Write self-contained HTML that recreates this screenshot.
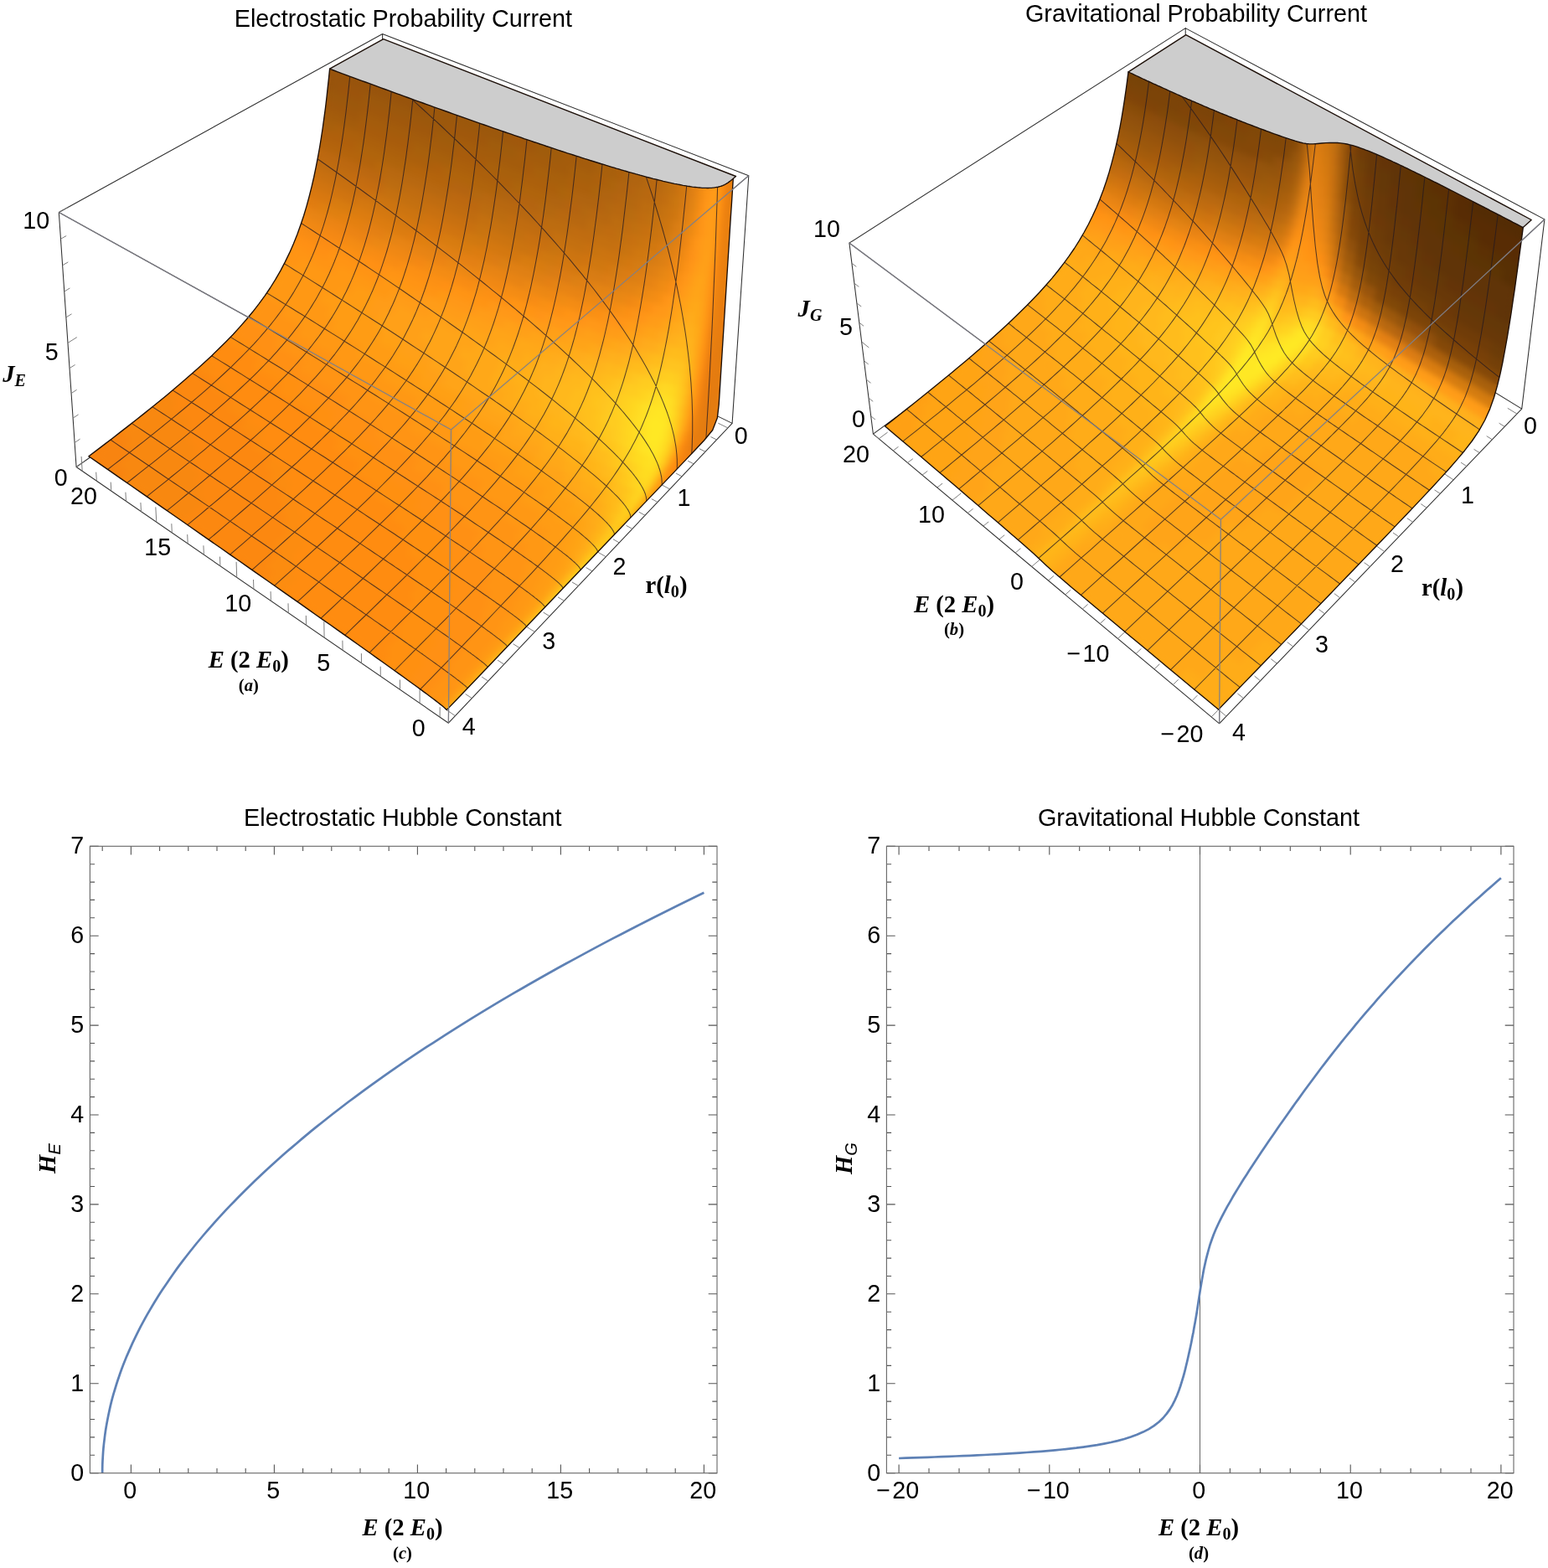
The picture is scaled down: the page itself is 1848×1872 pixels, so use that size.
<!DOCTYPE html>
<html lang="en"><head><meta charset="utf-8"><title>Probability current and Hubble constant</title><style>html,body{margin:0;padding:0;background:#fff}
svg{display:block}
text{fill:#000}
.s{font-family:Liberation Sans,Arial,Helvetica,sans-serif}
.r{font-family:Liberation Serif,Times New Roman,Times,serif;font-weight:bold}
.bx{stroke:#303030;stroke-width:1.05;fill:none;stroke-linecap:round}
.tk{stroke:#777;stroke-width:.95;fill:none}
.gt{fill:#cdcdcd;stroke:none}
.sf path{shape-rendering:crispEdges}
.ms{stroke:#241a22;stroke-opacity:.75;stroke-width:1.05;fill:none;stroke-linejoin:round}
.bd{stroke:#1c0f08;stroke-width:1.35;fill:none;stroke-linejoin:round;stroke-linecap:round}
.fe{stroke:#808088;stroke-opacity:.95;stroke-width:1.3;fill:none}
.fr{stroke:#666;stroke-width:1.1;fill:none}
.t2{stroke:#555;stroke-width:1.1;fill:none}
.ax{stroke:#555;stroke-width:.9;fill:none}
.cv{stroke:#5e81b5;stroke-width:2.7;fill:none;stroke-linejoin:round;stroke-linecap:butt}
</style></head><body>
<svg xmlns="http://www.w3.org/2000/svg" width="1848" height="1872" viewBox="0 0 1848 1872">
<defs><filter id="bl" x="-5%" y="-5%" width="110%" height="110%" color-interpolation-filters="sRGB"><feGaussianBlur stdDeviation="3.5"/></filter></defs>
<g id="pa">
<path class="bx" d="M874.1 505.4L893.8 209.7M874.1 505.4L535.4 863.2M874.1 505.4L457.8 301.7M893.8 209.7L538.5 513M893.8 209.7L456.6 40.5M535.4 863.2L538.5 513M535.4 863.2L91.1 557.5M538.5 513L70.3 253.5M457.8 301.7L456.6 40.5M457.8 301.7L91.1 557.5M456.6 40.5L70.3 253.5M91.1 557.5L70.3 253.5"/>
<path class="tk" d="M525.1 856.1L525.2 844.2M501.1 839.6L501.1 819.9M477.5 823.3L477.4 811.5M454.3 807.4L454.2 795.7M431.5 791.7L431.4 780.1M409.1 776.3L408.9 764.7M387.1 761.2L386.8 742.1M365.5 746.3L365.3 734.9M344.3 731.7L344 720.3M323.4 717.3L323.1 706.1M302.9 703.2L302.5 692M282.7 689.4L282.1 670.9M262.9 675.7L262.5 664.6M243.4 662.3L242.9 651.3M224.2 649.1L223.7 638.1M205.3 636.1L204.8 625.2M186.8 623.3L185.8 605.4M168.5 610.8L167.9 600M150.5 598.4L149.9 587.7M132.8 586.2L132.2 575.6M115.4 574.2L114.7 563.7M98.2 562.4L97.1 545M868.9 510.9L857.3 505.2M855.6 525L848.5 521.5M842 539.3L834.9 535.7M828.2 553.9L821.1 550.2M814.1 568.8L806.9 565M799.7 584L787.8 577.7M785.1 599.5L777.8 595.6M770.1 615.3L762.8 611.3M754.8 631.4L747.5 627.3M739.2 647.9L731.9 643.7M723.3 664.7L711.1 657.7M707 681.9L699.6 677.6M690.4 699.4L683 695M673.4 717.3L666 712.8M656.1 735.6L648.6 731.1M638.4 754.4L625.9 746.6M620.2 773.5L612.6 768.7M601.7 793.1L594.1 788.2M582.7 813.1L575.1 808.1M563.3 833.6L555.6 828.5M543.4 854.6L530.7 845.9M91.1 557.5L101.7 550.2M89.1 528.5L95.6 524.1M87.1 499.2L93.6 494.9M85.1 469.6L91.6 465.3M83 439.6L89.6 435.5M81 409.4L91.8 402.6M78.9 378.9L85.5 374.8M76.8 348L83.4 344M74.6 316.8L81.3 312.9M72.5 285.3L79.2 281.5M70.3 253.5L81.5 247.3"/>
<path class="gt" d="M875.3 213.3l-1.2 .9-1.9 1.6-1.5 1.1-1.3 1-1.2 .8-1.2 .7-1.1 .6-1.1 .6-1.1 .5-1.1 .5-1.1 .4-1.1 .4-1.1 .3-1.2 .3-1.1 .3-1.2 .2-1.2 .2-1.2 .2-1.3 .2-1.2 .1-1.3 .1-1.4 .1-1.3 0-1.4 .1-1.4 0-1.4-.1-1.5 0-1.5-.1-1.5 0-1.6-.2-1.6-.1-1.6-.1-1.7-.2-1.7-.2-1.7-.2-1.7-.2-1.8-.3-1.8-.3-1.9-.2-1.9-.4-1.9-.3-1.9-.3-2-.4-2-.4-2.1-.4-2-.4-2.2-.4-2.1-.5-2.2-.5-2.2-.5-2.2-.5-2.3-.5-2.3-.5-2.4-.6-2.3-.6-2.5-.6-2.4-.6-2.5-.6-2.5-.7-2.5-.6-2.6-.7-2.6-.7-2.6-.7-2.7-.7-2.7-.8-2.7-.7-2.7-.8-2.8-.8-2.9-.8-2.8-.8-2.9-.8-2.9-.9-2.9-.9-3-.8-3-.9-3-.9-3.1-1-3.1-.9-3.1-1-3.2-.9-3.2-1-3.2-1-3.2-1-3.3-1-3.3-1.1-3.3-1-3.3-1.1-3.4-1.1-3.4-1.1-3.5-1.1-3.4-1.1-3.5-1.1-3.5-1.2-3.6-1.1-3.5-1.2-3.6-1.2-3.6-1.2-3.7-1.2-3.7-1.2-3.7-1.3-3.7-1.2-3.7-1.3-3.8-1.2-3.8-1.3-3.8-1.3-3.9-1.3-3.8-1.4-3.9-1.3-3.9-1.3-4-1.4-3.9-1.3-4-1.4-4-1.4-4.1-1.4-4-1.4-4.1-1.4-4.1-1.5-4.1-1.4-4.1-1.4-4.2-1.5-4.2-1.5-4.2-1.5-4.2-1.5-4.2-1.5-4.3-1.5-4.3-1.5-4.3-1.5-4.3-1.6-4.3-1.5-4.4-1.6-4.4-1.5-4.4-1.6-4.4-1.6-4.4-1.6-4.4-1.6-4.5-1.6-4.5-1.6-4.5-1.6-4.5-1.7-4.5-1.6-4.6-1.7-4.5-1.6-4.6-1.7-4.6-1.7-4.6-1.7-4.6-1.6-4.6-1.7-4.7-1.8-4.7-1.7-4.6-1.7-4.7-1.7-4.7-1.7-4.7-1.8-4.8-1.7-4.7-1.8-4.8-1.7-4.7-1.8-4.8-1.8-4.8-1.8 64.1-35.5 420.8 163.8z"/>
<clipPath id="cpa"><path d="M875.3 213.3l-1 15.8-1 15.9-1.1 15.9-1 15.8-1 15.9-1 15.9-1 15.8-1 15.9-1 15.9-1 15.8-1 15.9-1 15.8-1 15.9-1 15.9-1 15.8-1 15.9-1 15.9-1.8 15.7-5.7 14.8-10.1 12.2-10.8 11.6-11 11.6-11 11.5-10.9 11.5-11 11.5-11 11.5-11 11.5-11 11.5-10.9 11.4-11 11.5-11 11.5-11 11.5-11 11.5-11 11.5-11 11.5-10.9 11.5-11 11.5-11 11.5-11 11.4-11 11.5-11 11.5-11 11.5-10.9 11.5-11 11.5-11 11.5-11 11.5-11 11.5-11 11.4-.1-.3-.5-.6-.8-.8-1.2-1-1.4-1.2-1.8-1.5-2.1-1.6-2.4-1.9-2.7-2.1-3.1-2.3-3.4-2.6-3.6-2.7-4-2.9-4.3-3.2-4.6-3.4-4.9-3.5-5.2-3.8-5.4-4-5.8-4.1-6.1-4.4-6.3-4.5-6.6-4.7-6.9-4.9-7.1-5.1-7.4-5.3-7.7-5.4-7.9-5.7-8.1-5.7-8.5-6-8.6-6.1-8.9-6.2-9.1-6.4-9.3-6.6-9.5-6.7-9.7-6.8-10-7-10.1-7.1-10.3-7.3-10.6-7.3-10.7-7.5-10.8-7.6-11.1-7.7-11.1-7.8-11.4-7.9-11.5-8-11.6-8.2-11.8-8.2-11.9-8.2-12.1-8.4-12.1-8.5-12.3-8.5-12.4-8.6-12.5-8.7-12.5-8.7-12.7-8.8-12.8-8.8 9.5-7.2 9.5-7.2 9.4-7.2 9.4-7.3 9.4-7.3 9.4-7.3 9.3-7.4 9.2-7.4 9.3-7.5 9.2-7.6 9.1-7.6 9.1-7.7 8.9-7.8 8.9-7.8 8.8-8 8.7-8.1 8.6-8.3 8.4-8.4 8.3-8.5 8-8.8 7.8-8.9 7.6-9.2 7.3-9.4 7-9.6 6.7-9.8 6.3-10.1 5.9-10.3 5.5-10.5 5.2-10.7 4.8-10.9 4.4-11.1 4-11.1 3.8-11.3 3.4-11.4 3.1-11.5 2.9-11.5 2.7-11.6 2.4-11.6 2.3-11.7 2.1-11.7 1.9-11.7 1.8-11.8 1.6-11.7 1.6-11.8 1.4-11.8 1.3-11.8 1.3-11.8 1.2-11.9 13.6 5.1 13.4 5 13.4 4.9 13.3 4.9 13.1 4.8 13.1 4.7 12.9 4.7 12.7 4.6 12.7 4.6 12.5 4.5 12.3 4.4 12.2 4.3 12 4.3 11.9 4.2 11.7 4.1 11.6 4 11.3 3.9 11.2 3.9 11 3.7 10.8 3.7 10.6 3.5 10.3 3.5 10.2 3.3 10 3.3 9.7 3.1 9.5 3 9.3 2.9 9.1 2.9 8.8 2.6 8.6 2.6 8.4 2.5 8.1 2.3 7.8 2.2 7.6 2.1 7.4 1.9 7 1.9 6.9 1.6 6.5 1.6 6.3 1.4 6 1.2 5.8 1.2 5.5 .9 5.3 .8 4.9 .7 4.7 .5 4.5 .3 4.2 .2 4-.1 3.7-.2 3.5-.4 3.4-.7 3.2-1 3.1-1.2 3.2-1.7 3.5-2.5 4.4-3.4z"/></clipPath>
<path fill="#f59a1c" d="M875.3 213.3l-1 15.8-1 15.9-1.1 15.9-1 15.8-1 15.9-1 15.9-1 15.8-1 15.9-1 15.9-1 15.8-1 15.9-1 15.8-1 15.9-1 15.9-1 15.8-1 15.9-1 15.9-1.8 15.7-5.7 14.8-10.1 12.2-10.8 11.6-11 11.6-11 11.5-10.9 11.5-11 11.5-11 11.5-11 11.5-11 11.5-10.9 11.4-11 11.5-11 11.5-11 11.5-11 11.5-11 11.5-11 11.5-10.9 11.5-11 11.5-11 11.5-11 11.4-11 11.5-11 11.5-11 11.5-10.9 11.5-11 11.5-11 11.5-11 11.5-11 11.5-11 11.4-.1-.3-.5-.6-.8-.8-1.2-1-1.4-1.2-1.8-1.5-2.1-1.6-2.4-1.9-2.7-2.1-3.1-2.3-3.4-2.6-3.6-2.7-4-2.9-4.3-3.2-4.6-3.4-4.9-3.5-5.2-3.8-5.4-4-5.8-4.1-6.1-4.4-6.3-4.5-6.6-4.7-6.9-4.9-7.1-5.1-7.4-5.3-7.7-5.4-7.9-5.7-8.1-5.7-8.5-6-8.6-6.1-8.9-6.2-9.1-6.4-9.3-6.6-9.5-6.7-9.7-6.8-10-7-10.1-7.1-10.3-7.3-10.6-7.3-10.7-7.5-10.8-7.6-11.1-7.7-11.1-7.8-11.4-7.9-11.5-8-11.6-8.2-11.8-8.2-11.9-8.2-12.1-8.4-12.1-8.5-12.3-8.5-12.4-8.6-12.5-8.7-12.5-8.7-12.7-8.8-12.8-8.8 9.5-7.2 9.5-7.2 9.4-7.2 9.4-7.3 9.4-7.3 9.4-7.3 9.3-7.4 9.2-7.4 9.3-7.5 9.2-7.6 9.1-7.6 9.1-7.7 8.9-7.8 8.9-7.8 8.8-8 8.7-8.1 8.6-8.3 8.4-8.4 8.3-8.5 8-8.8 7.8-8.9 7.6-9.2 7.3-9.4 7-9.6 6.7-9.8 6.3-10.1 5.9-10.3 5.5-10.5 5.2-10.7 4.8-10.9 4.4-11.1 4-11.1 3.8-11.3 3.4-11.4 3.1-11.5 2.9-11.5 2.7-11.6 2.4-11.6 2.3-11.7 2.1-11.7 1.9-11.7 1.8-11.8 1.6-11.7 1.6-11.8 1.4-11.8 1.3-11.8 1.3-11.8 1.2-11.9 13.6 5.1 13.4 5 13.4 4.9 13.3 4.9 13.1 4.8 13.1 4.7 12.9 4.7 12.7 4.6 12.7 4.6 12.5 4.5 12.3 4.4 12.2 4.3 12 4.3 11.9 4.2 11.7 4.1 11.6 4 11.3 3.9 11.2 3.9 11 3.7 10.8 3.7 10.6 3.5 10.3 3.5 10.2 3.3 10 3.3 9.7 3.1 9.5 3 9.3 2.9 9.1 2.9 8.8 2.6 8.6 2.6 8.4 2.5 8.1 2.3 7.8 2.2 7.6 2.1 7.4 1.9 7 1.9 6.9 1.6 6.5 1.6 6.3 1.4 6 1.2 5.8 1.2 5.5 .9 5.3 .8 4.9 .7 4.7 .5 4.5 .3 4.2 .2 4-.1 3.7-.2 3.5-.4 3.4-.7 3.2-1 3.1-1.2 3.2-1.7 3.5-2.5 4.4-3.4z"/>
<g class="sf" id="sfa">
<path fill="#e88010" d="M875.3 213.3l-4.4 3.4-1.1 15.6 4.5-3.2zM874.3 229.1l-4.5 3.2-1.2 15.6 4.7-2.9zM873.3 245l-4.7 2.9-1.2 15.6 4.8-2.6zM872.2 260.9l-4.8 2.6-1.2 15.6 5-2.4zM871.2 276.7l-5 2.4-1.2 15.6 5.2-2.1zM870.2 292.6l-5.2 2.1-1.3 15.5 5.5-1.7zM869.2 308.5l-5.5 1.7-1.3 15.6 5.8-1.5zM868.2 324.3l-5.8 1.5-1.3 15.6 6.1-1.2zM867.2 340.2l-6.1 1.2-1.4 15.5 6.5-.8zM861.1 341.4l-4.2 1.3-1.5 15.4 4.3-1.2zM859.7 356.9l-4.3 1.2-1.6 15.5 4.5-1.1zM858.3 372.5l-4.5 1.1-1.7 15.4 4.7-.9zM856.8 388.1l-4.7 .9-1.8 15.4 4.9-.8zM855.2 403.6l-4.9 .8-1.9 15.3 5-.6zM840 496l-6.4-.3-5.1 14.7 6.4 .4z"/>
<path fill="#e87c10" d="M866.2 356.1l-6.5 .8-1.4 15.6 6.9-.6zM865.2 371.9l-6.9 .6-1.5 15.6 7.4-.3zM864.2 387.8l-7.4 .3-1.6 15.5 8 0zM840.6 525.7l-12.3-.8-8.2 13.4 9.7-1zM853.4 419.1l-5 .6-2.2 15.4 5.3-.4zM851.5 434.7l-5.3 .4-2.4 15.3 5.6-.3zM849.4 450.1l-5.6 .3-2.8 15.3 5.9-.1zM846.9 465.6l-5.9 .1-3.3 15.1 6.2 .1zM843.9 480.9l-6.2-.1-4.1 14.9 6.4 .3z"/>
<path fill="#e47c10" d="M863.2 403.6l-8 0-1.8 15.5 8.8 .4zM862.2 419.5l-8.8-.4-1.9 15.6 9.7 .7zM861.2 435.4l-9.7-.7-2.1 15.4 10.8 1.1zM860.2 451.2l-10.8-1.1-2.5 15.5 12.3 1.5zM859.2 467.1l-12.3-1.5-3 15.3 14.3 2.1zM858.2 483l-14.3-2.1-3.9 15.1 16.4 2.7zM856.4 498.7l-16.4-2.7-5.1 14.8 15.8 2.7zM850.7 513.5l-15.8-2.7-6.6 14.1 12.3 .8z"/>
<path fill="#f08010" d="M829.8 537.3l-9.7 1-9.2 12.6 7.9-2zM841 465.7l-4.7-.1-3.5 15 4.9 .2z"/>
<path fill="#f88810" d="M818.8 548.9l-7.9 2-9.9 12.1 6.8-2.6zM820.1 538.3l-5.5-.2-8.5 12.9 4.8-.1zM246.2 598l-12-8-9.6 7.9 11.9 8.2zM236.5 606.1l-11.9-8.2-9.7 8 12 8.2zM226.9 614.1l-12-8.2-9.6 7.9 11.9 8.2zM243.8 582l-12.1-8-9.6 7.9 12.1 8.1zM234.2 590l-12.1-8.1-9.6 7.9 12.1 8.1zM224.6 597.9l-12.1-8.1-9.6 7.8 12 8.3zM214.9 605.9l-12-8.3-9.7 7.8 12.1 8.4zM241.2 566.1l-12.2-8-9.6 7.8 12.3 8.1zM231.7 574l-12.3-8.1-9.5 7.8 12.2 8.2zM222.1 581.9l-12.2-8.2-9.6 7.8 12.2 8.3zM212.5 589.8l-12.2-8.3-9.6 7.7 12.2 8.4zM202.9 597.6l-12.2-8.4-9.6 7.7 12.1 8.5zM238.5 550.2l-12.4-8-9.5 7.8 12.4 8.1zM229 558.1l-12.4-8.1-9.5 7.8 12.3 8.1zM219.4 565.9l-12.3-8.1-9.6 7.7 12.4 8.2zM209.9 573.7l-12.4-8.2-9.5 7.6 12.3 8.4zM200.3 581.5l-12.3-8.4-9.6 7.7 12.3 8.4zM190.7 589.2l-12.3-8.4-9.6 7.6 12.3 8.5zM235.5 534.4l-12.5-8-9.5 7.8 12.6 8zM226.1 542.2l-12.6-8-9.4 7.7 12.5 8.1zM216.6 550l-12.5-8.1-9.5 7.6 12.5 8.3zM207.1 557.8l-12.5-8.3-9.5 7.6 12.4 8.4zM197.5 565.5l-12.4-8.4-9.5 7.6 12.4 8.4zM188 573.1l-12.4-8.4-9.6 7.6 12.4 8.5zM178.4 580.8l-12.4-8.5-9.6 7.5 12.4 8.6zM232.3 518.7l-12.6-8-9.4 7.7 12.7 8zM223 526.4l-12.7-8-9.4 7.6 12.6 8.2zM213.5 534.2l-12.6-8.2-9.4 7.6 12.6 8.3zM204.1 541.9l-12.6-8.3-9.5 7.6 12.6 8.3zM194.6 549.5l-12.6-8.3-9.5 7.5 12.6 8.4zM185.1 557.1l-12.6-8.4-9.5 7.5 12.6 8.5zM175.6 564.7l-12.6-8.5-9.5 7.5 12.5 8.6zM166 572.3l-12.5-8.6-9.6 7.4 12.5 8.7zM229 503l-12.8-8-9.3 7.7 12.8 8zM219.7 510.7l-12.8-8-9.3 7.6 12.7 8.1zM210.3 518.4l-12.7-8.1-9.4 7.6 12.7 8.1zM200.9 526l-12.7-8.1-9.4 7.5 12.7 8.2zM191.5 533.6l-12.7-8.2-9.5 7.4 12.7 8.4zM182 541.2l-12.7-8.4-9.4 7.5 12.6 8.4zM172.5 548.7l-12.6-8.4-9.5 7.4 12.6 8.5zM163 556.2l-12.6-8.5-9.5 7.4 12.6 8.6zM216.2 495l-12.9-8-9.3 7.6 12.9 8.1zM206.9 502.7l-12.9-8.1-9.3 7.5 12.9 8.2zM197.6 510.3l-12.9-8.2-9.3 7.5 12.8 8.3zM188.2 517.9l-12.8-8.3-9.4 7.4 12.8 8.4zM178.8 525.4l-12.8-8.4-9.4 7.4 12.7 8.4zM169.3 532.8l-12.7-8.4-9.5 7.4 12.8 8.5zM212.5 479.4l-13-8-9.2 7.6 13 8zM203.3 487l-13-8-9.3 7.5 13 8.1zM194 494.6l-13-8.1-9.2 7.4 12.9 8.2zM184.7 502.1l-12.9-8.2-9.3 7.4 12.9 8.3zM175.4 509.6l-12.9-8.3-9.4 7.3 12.9 8.4zM166 517l-12.9-8.4-9.4 7.3 12.9 8.5z"/>
<path fill="#ff8c10" d="M807.8 560.4l-6.8 2.6-10.2 11.8 6.1-2.9zM810.9 550.9l-4.8 .1-9.3 12.4 4.2-.4zM467 780.4l-6.9-4.8-10.1 10 6.9 4.9zM480.2 755.6l-7.2-4.9-10 10 7.1 4.9zM470.1 765.6l-7.1-4.9-10.1 9.9 7.2 5zM460.1 775.6l-7.2-5-10 9.9 7.1 5.1zM493 730.9l-7.5-4.9-10 9.8 7.5 5zM483 740.8l-7.5-5-10 9.9 7.5 5zM473 750.7l-7.5-5-10 9.8 7.5 5.2zM463 760.7l-7.5-5.2-10 9.9 7.4 5.2zM452.9 770.6l-7.4-5.2-10 9.8 7.4 5.3zM495.5 716.1l-7.8-5.1-9.9 9.9 7.7 5.1zM485.5 726l-7.7-5.1-10 9.8 7.7 5.1zM475.5 735.8l-7.7-5.1-10 9.8 7.7 5.2zM465.5 745.7l-7.7-5.2-10 9.7 7.7 5.3zM455.5 755.5l-7.7-5.3-10 9.8 7.7 5.4zM445.5 765.4l-7.7-5.4-10 9.8 7.7 5.4zM497.6 701.2l-8-5.1-9.9 9.8 8 5.1zM487.7 711l-8-5.1-9.9 9.7 8 5.3zM477.8 720.9l-8-5.3-10 9.8 8 5.3zM467.8 730.7l-8-5.3-9.9 9.7 7.9 5.4zM457.8 740.5l-7.9-5.4-10 9.7 7.9 5.4zM447.8 750.2l-7.9-5.4-10 9.7 7.9 5.5zM437.8 760l-7.9-5.5-10 9.6 7.9 5.7zM499.5 686.3l-8.3-5.2-9.9 9.7 8.3 5.3zM489.6 696.1l-8.3-5.3-9.9 9.7 8.3 5.4zM479.7 705.9l-8.3-5.4-9.9 9.7 8.3 5.4zM469.8 715.6l-8.3-5.4-9.9 9.7 8.2 5.5zM459.8 725.4l-8.2-5.5-9.9 9.6 8.2 5.6zM449.9 735.1l-8.2-5.6-10 9.7 8.2 5.6zM439.9 744.8l-8.2-5.6-10 9.6 8.2 5.7zM429.9 754.5l-8.2-5.7-9.9 9.6 8.1 5.7zM501 671.3l-8.6-5.2-9.8 9.7 8.6 5.3zM491.2 681.1l-8.6-5.3-9.8 9.6 8.5 5.4zM481.3 690.8l-8.5-5.4-9.9 9.7 8.5 5.4zM471.4 700.5l-8.5-5.4-9.8 9.6 8.4 5.5zM461.5 710.2l-8.4-5.5-9.9 9.6 8.4 5.6zM451.6 719.9l-8.4-5.6-10 9.5 8.5 5.7zM441.7 729.5l-8.5-5.7-9.9 9.6 8.4 5.8zM431.7 739.2l-8.4-5.8-10 9.5 8.4 5.9zM421.7 748.8l-8.4-5.9-10 9.5 8.5 6zM492.4 666.1l-8.7-5.5-9.8 9.7 8.7 5.5zM482.6 675.8l-8.7-5.5-9.8 9.6 8.7 5.5zM472.8 685.4l-8.7-5.5-9.9 9.5 8.7 5.7zM462.9 695.1l-8.7-5.7-9.9 9.5 8.8 5.8zM453.1 704.7l-8.8-5.8-9.8 9.6 8.7 5.8zM443.2 714.3l-8.7-5.8-10 9.5 8.7 5.8zM433.2 723.8l-8.7-5.8-9.9 9.4 8.7 6zM423.3 733.4l-8.7-6-9.9 9.5 8.6 6zM413.3 742.9l-8.6-6-10 9.4 8.6 6.1zM493.4 651l-9-5.5-9.8 9.6 9.1 5.5zM483.7 660.6l-9.1-5.5-9.7 9.5 9 5.7zM473.9 670.3l-9-5.7-9.8 9.5 9 5.8zM464.1 679.9l-9-5.8-9.8 9.5 8.9 5.8zM454.2 689.4l-8.9-5.8-9.9 9.5 8.9 5.8zM444.3 698.9l-8.9-5.8-9.9 9.4 9 6zM434.5 708.5l-9-6-9.9 9.4 8.9 6.1zM424.5 718l-8.9-6.1-9.9 9.4 8.9 6.1zM414.6 727.4l-8.9-6.1-9.9 9.4 8.9 6.2zM404.7 736.9l-8.9-6.2-10 9.4 8.9 6.2zM484.4 645.5l-9.3-5.6-9.7 9.5 9.2 5.7zM474.6 655.1l-9.2-5.7-9.7 9.5 9.2 5.7zM464.9 664.6l-9.2-5.7-9.8 9.4 9.2 5.8zM455.1 674.1l-9.2-5.8-9.8 9.4 9.2 5.9zM445.3 683.6l-9.2-5.9-9.9 9.4 9.2 6zM435.4 693.1l-9.2-6-9.8 9.3 9.1 6.1zM425.5 702.5l-9.1-6.1-9.9 9.4 9.1 6.1zM415.6 711.9l-9.1-6.1-9.9 9.3 9.1 6.2zM405.7 721.3l-9.1-6.2-9.9 9.3 9.1 6.3zM395.8 730.7l-9.1-6.3-10 9.3 9.1 6.4zM484.8 630.3l-9.5-5.7-9.7 9.5 9.5 5.8zM475.1 639.9l-9.5-5.8-9.7 9.4 9.5 5.9zM465.4 649.4l-9.5-5.9-9.7 9.4 9.5 6zM455.7 658.9l-9.5-6-9.8 9.4 9.5 6zM445.9 668.3l-9.5-6-9.7 9.3 9.4 6.1zM436.1 677.7l-9.4-6.1-9.9 9.3 9.4 6.2zM426.2 687.1l-9.4-6.2-9.8 9.3 9.4 6.2zM416.4 696.4l-9.4-6.2-9.9 9.3 9.4 6.3zM406.5 705.8l-9.4-6.3-9.9 9.2 9.4 6.4zM396.6 715.1l-9.4-6.4-9.9 9.2 9.4 6.5zM386.7 724.4l-9.4-6.5-9.9 9.2 9.3 6.6zM475.3 624.6l-9.7-5.8-9.7 9.4 9.7 5.9zM465.6 634.1l-9.7-5.9-9.6 9.4 9.6 5.9zM455.9 643.5l-9.6-5.9-9.7 9.3 9.6 6zM446.2 652.9l-9.6-6-9.8 9.3 9.6 6.1zM436.4 662.3l-9.6-6.1-9.8 9.2 9.7 6.2zM426.7 671.6l-9.7-6.2-9.8 9.2 9.6 6.3zM416.8 680.9l-9.6-6.3-9.8 9.2 9.6 6.4zM407 690.2l-9.6-6.4-9.8 9.2 9.5 6.5zM397.1 699.5l-9.5-6.5-9.9 9.1 9.5 6.6zM387.2 708.7l-9.5-6.6-9.9 9.2 9.5 6.6zM377.3 717.9l-9.5-6.6-9.9 9.1 9.5 6.7zM475.1 609.3l-9.9-5.9-9.6 9.4 10 6zM465.6 618.8l-10-6-9.6 9.4 9.9 6zM455.9 628.2l-9.9-6-9.6 9.2 9.9 6.2zM446.3 637.6l-9.9-6.2-9.7 9.3 9.9 6.2zM436.6 646.9l-9.9-6.2-9.7 9.2 9.8 6.3zM426.8 656.2l-9.8-6.3-9.8 9.2 9.8 6.3zM417 665.4l-9.8-6.3-9.8 9.1 9.8 6.4zM407.2 674.6l-9.8-6.4-9.8 9.1 9.8 6.5zM397.4 683.8l-9.8-6.5-9.8 9.1 9.8 6.6zM387.6 693l-9.8-6.6-9.9 9.1 9.8 6.6zM377.7 702.1l-9.8-6.6-9.9 9 9.8 6.8zM367.8 711.3l-9.8-6.8-9.8 9.1 9.7 6.8zM465.2 603.4l-10.2-6-9.5 9.3 10.1 6.1zM455.6 612.8l-10.1-6.1-9.6 9.3 10.1 6.2zM446 622.2l-10.1-6.2-9.6 9.2 10.1 6.2zM436.4 631.4l-10.1-6.2-9.7 9.2 10.1 6.3zM426.7 640.7l-10.1-6.3-9.7 9.1 10.1 6.4zM417 649.9l-10.1-6.4-9.7 9.1 10 6.5zM407.2 659.1l-10-6.5-9.8 9 10 6.6zM397.4 668.2l-10-6.6-9.8 9.1 10 6.6zM387.6 677.3l-10-6.6-9.8 9 10 6.7zM377.8 686.4l-10-6.7-9.9 9 10 6.8zM367.9 695.5l-10-6.8-9.8 8.9 9.9 6.9zM358 704.5l-9.9-6.9-9.9 9 10 7zM455 597.4l-10.3-6.1-9.5 9.2 10.3 6.2zM445.5 606.7l-10.3-6.2-9.6 9.2 10.3 6.3zM435.9 616l-10.3-6.3-9.6 9.1 10.3 6.4zM426.3 625.2l-10.3-6.4-9.7 9.1 10.3 6.5zM416.6 634.4l-10.3-6.5-9.6 9.1 10.2 6.5zM406.9 643.5l-10.2-6.5-9.8 9 10.3 6.6zM397.2 652.6l-10.3-6.6-9.7 9 10.2 6.6zM387.4 661.6l-10.2-6.6-9.8 8.9 10.2 6.8zM377.6 670.7l-10.2-6.8-9.8 8.9 10.2 6.9zM367.8 679.7l-10.2-6.9-9.8 8.9 10.1 7zM454.1 582l-10.5-6.2-9.5 9.2 10.6 6.3zM444.7 591.3l-10.6-6.3-9.4 9.2 10.5 6.3zM435.2 600.5l-10.5-6.3-9.6 9.1 10.5 6.4zM425.6 609.7l-10.5-6.4-9.6 9.1 10.5 6.4zM416 618.8l-10.5-6.4-9.6 9 10.4 6.5zM406.3 627.9l-10.4-6.5-9.7 8.9 10.5 6.7zM396.7 637l-10.5-6.7-9.7 8.9 10.4 6.8zM386.9 646l-10.4-6.8-9.7 8.9 10.4 6.9zM377.2 655l-10.4-6.9-9.8 8.9 10.4 6.9zM367.4 663.9l-10.4-6.9-9.8 8.8 10.4 7zM443.6 575.8l-10.8-6.3-9.4 9.2 10.7 6.3zM434.1 585l-10.7-6.3-9.5 9.1 10.8 6.4zM424.7 594.2l-10.8-6.4-9.5 9 10.7 6.5zM415.1 603.3l-10.7-6.5-9.5 8.9 10.6 6.7zM405.5 612.4l-10.6-6.7-9.7 9 10.7 6.7zM395.9 621.4l-10.7-6.7-9.6 8.9 10.6 6.7zM386.2 630.3l-10.6-6.7-9.7 8.8 10.6 6.8zM376.5 639.2l-10.6-6.8-9.7 8.8 10.6 6.9zM432.8 569.5l-10.9-6.4-9.4 9.1 10.9 6.5zM423.4 578.7l-10.9-6.5-9.4 9 10.8 6.6zM413.9 587.8l-10.8-6.6-9.5 8.9 10.8 6.7zM404.4 596.8l-10.8-6.7-9.6 8.9 10.9 6.7zM394.9 605.7l-10.9-6.7-9.6 8.9 10.8 6.8zM385.2 614.7l-10.8-6.8-9.6 8.8 10.8 6.9zM375.6 623.6l-10.8-6.9-9.7 8.7 10.8 7zM431.2 554l-11.2-6.5-9.2 9.1 11.1 6.5zM421.9 563.1l-11.1-6.5-9.4 9 11.1 6.6zM412.5 572.2l-11.1-6.6-9.4 8.9 11.1 6.7zM403.1 581.2l-11.1-6.7-9.5 8.9 11.1 6.7zM393.6 590.1l-11.1-6.7-9.5 8.8 11 6.8zM384 599l-11-6.8-9.6 8.8 11 6.9zM374.4 607.9l-11-6.9-9.6 8.7 11 7zM420 547.5l-11.3-6.5-9.2 9 11.3 6.6zM410.8 556.6l-11.3-6.6-9.4 8.9 11.3 6.7zM401.4 565.6l-11.3-6.7-9.4 8.9 11.3 6.7zM392 574.5l-11.3-6.7-9.4 8.7 11.2 6.9zM382.5 583.4l-11.2-6.9-9.5 8.8 11.2 6.9zM373 592.2l-11.2-6.9-9.6 8.6 11.2 7.1zM408.7 541l-11.4-6.6-9.3 8.9 11.5 6.7zM399.5 550l-11.5-6.7-9.3 8.8 11.4 6.8zM390.1 558.9l-11.4-6.8-9.4 8.8 11.4 6.9zM380.7 567.8l-11.4-6.9-9.4 8.7 11.4 6.9zM371.3 576.5l-11.4-6.9-9.5 8.6 11.4 7.1zM361.8 585.3l-11.4-7.1-9.5 8.6 11.3 7.1zM406.4 525.3l-11.7-6.6-9.1 8.9 11.7 6.8zM397.3 534.4l-11.7-6.8-9.2 8.9 11.6 6.8zM388 543.3l-11.6-6.8-9.3 8.7 11.6 6.9zM378.7 552.1l-11.6-6.9-9.3 8.7 11.5 7zM369.3 560.9l-11.5-7-9.4 8.6 11.5 7.1zM359.9 569.6l-11.5-7.1-9.5 8.6 11.5 7.1zM394.7 518.7l-11.8-6.8-9.1 8.9 11.8 6.8zM385.6 527.6l-11.8-6.8-9.1 8.8 11.7 6.9zM376.4 536.5l-11.7-6.9-9.3 8.6 11.7 7zM367.1 545.2l-11.7-7-9.3 8.6 11.7 7.1zM357.8 553.9l-11.7-7.1-9.4 8.6 11.7 7.1zM382.9 511.9l-11.9-6.8-9.1 8.8 11.9 6.9zM373.8 520.8l-11.9-6.9-9.2 8.7 12 7zM364.7 529.6l-12-7-9.2 8.6 11.9 7zM355.4 538.2l-11.9-7-9.3 8.5 11.9 7.1zM346.1 546.8l-11.9-7.1-9.4 8.4 11.9 7.3zM379.9 496.2l-12.1-6.9-8.9 8.9 12.1 6.9zM371 505.1l-12.1-6.9-9.1 8.7 12.1 7zM361.9 513.9l-12.1-7-9.1 8.6 12 7.1zM352.7 522.6l-12-7.1-9.2 8.5 12 7.2zM343.5 531.2l-12-7.2-9.3 8.4 12 7.3zM367.8 489.3l-12.3-6.9-8.9 8.8 12.3 7zM358.9 498.2l-12.3-7-9 8.6 12.2 7.1zM349.8 506.9l-12.2-7.1-9.1 8.5 12.2 7.2zM340.7 515.5l-12.2-7.2-9.2 8.5 12.2 7.2zM331.5 524l-12.2-7.2-9.3 8.3 12.2 7.3zM355.5 482.4l-12.4-7-8.9 8.7 12.4 7.1zM346.6 491.2l-12.4-7.1-8.9 8.5 12.3 7.2zM337.6 499.8l-12.3-7.2-9.1 8.5 12.3 7.2zM328.5 508.3l-12.3-7.2-9.2 8.3 12.3 7.4zM343.1 475.4l-12.5-7.1-8.9 8.6 12.5 7.2zM334.2 484.1l-12.5-7.2-8.9 8.5 12.5 7.2zM325.3 492.6l-12.5-7.2-9.1 8.3 12.5 7.4zM316.2 501.1l-12.5-7.4-9.1 8.3 12.4 7.4zM339.3 459.6l-12.7-7.1-8.7 8.7 12.7 7.1zM330.6 468.3l-12.7-7.1-8.8 8.5 12.6 7.2zM321.7 476.9l-12.6-7.2-8.9 8.4 12.6 7.3zM312.8 485.4l-12.6-7.3-9.1 8.2 12.6 7.4zM326.6 452.5l-12.8-7.1-8.6 8.5 12.7 7.3zM317.9 461.2l-12.7-7.3-8.8 8.5 12.7 7.3zM309.1 469.7l-12.7-7.3-8.9 8.3 12.7 7.4zM300.2 478.1l-12.7-7.4-9.1 8.2 12.7 7.4zM313.8 445.4l-12.9-7.2-8.6 8.4 12.9 7.3zM305.2 453.9l-12.9-7.3-8.8 8.4 12.9 7.4zM296.4 462.4l-12.9-7.4-8.9 8.2 12.9 7.5zM287.5 470.7l-12.9-7.5-9 8.1 12.8 7.6zM309.4 429.5l-13-7.2-8.5 8.6 13 7.3zM300.9 438.2l-13-7.3-8.6 8.4 13 7.3zM292.3 446.6l-13-7.3-8.7 8.2 12.9 7.5zM283.5 455l-12.9-7.5-8.9 8.2 12.9 7.5zM296.4 422.3l-13.2-7.2-8.4 8.4 13.1 7.4zM287.9 430.9l-13.1-7.4-8.6 8.4 13.1 7.4zM279.3 439.3l-13.1-7.4-8.7 8.1 13.1 7.5zM270.6 447.5l-13.1-7.5-8.8 8.1 13 7.6zM283.2 415.1l-13.2-7.4-8.4 8.4 13.2 7.4zM274.8 423.5l-13.2-7.4-8.6 8.3 13.2 7.5zM266.2 431.9l-13.2-7.5-8.7 8.1 13.2 7.5z"/>
<path fill="#ff9414" d="M796.9 571.9l-6.1 2.9-10.4 11.6 5.5-3zM801 563l-4.2 .4-9.8 12 3.8-.6zM806.1 551l-4.2-.3-8.9 12.5 3.8 .2zM828.6 495.4l-4.6-.5-5 14.5 4.5 .5zM852.9 313.7l-3.4 .4-1.6 15.2 3.4-.4zM851.3 328.9l-3.4 .4-1.7 15.2 3.5-.3zM849.7 344.2l-3.5 .3-1.7 15.1 3.6-.2zM848.1 359.4l-3.6 .2-1.8 15.1 3.6-.1zM846.3 374.6l-3.6 .1-2 15.2 3.7-.1zM844.4 389.8l-3.7 .1-2.1 15.1 3.8 0zM546.2 818.7l-2.5-1.7-10.4 10.8 2.4 1.9zM535.7 829.7l-2.4-1.9-10.4 10.9 2.4 1.9zM574.9 784.3l-2.9-1.8-10.4 10.8 2.9 1.9zM564.5 795.2l-2.9-1.9-10.3 10.8 2.8 2zM554.1 806.1l-2.8-2-10.4 10.9 2.8 2zM543.7 817l-2.8-2-10.4 10.8 2.8 2zM533.3 827.8l-2.8-2-10.3 10.8 2.7 2.1zM592.6 760.8l-3.2-2-10.3 10.8 3.2 2zM582.3 771.6l-3.2-2-10.3 10.8 3.2 2.1zM572 782.5l-3.2-2.1-10.4 10.8 3.2 2.1zM561.6 793.3l-3.2-2.1-10.3 10.8 3.2 2.1zM551.3 804.1l-3.2-2.1-10.3 10.8 3.1 2.2zM540.9 815l-3.1-2.2-10.4 10.7 3.1 2.3zM530.5 825.8l-3.1-2.3-10.3 10.8 3.1 2.3zM599.6 748l-3.6-2.1-10.2 10.8 3.6 2.1zM589.4 758.8l-3.6-2.1-10.3 10.7 3.6 2.2zM579.1 769.6l-3.6-2.2-10.3 10.8 3.6 2.2zM568.8 780.4l-3.6-2.2-10.2 10.7 3.4 2.3zM558.4 791.2l-3.4-2.3-10.3 10.7 3.4 2.4zM548.1 802l-3.4-2.4-10.3 10.7 3.4 2.5zM537.8 812.8l-3.4-2.5-10.3 10.7 3.3 2.5zM527.4 823.5l-3.3-2.5-10.4 10.7 3.4 2.6zM616.5 724.3l-4-2.2-10.2 10.7 4 2.3zM606.3 735.1l-4-2.3-10.2 10.8 3.9 2.3zM596 745.9l-3.9-2.3-10.2 10.7 3.9 2.4zM585.8 756.7l-3.9-2.4-10.2 10.7 3.8 2.4zM575.5 767.4l-3.8-2.4-10.3 10.7 3.8 2.5zM565.2 778.2l-3.8-2.5-10.2 10.7 3.8 2.5zM555 788.9l-3.8-2.5-10.3 10.6 3.8 2.6zM544.7 799.6l-3.8-2.6-10.3 10.7 3.8 2.6zM534.4 810.3l-3.8-2.6-10.2 10.7 3.7 2.6zM524.1 821l-3.7-2.6-10.3 10.6 3.6 2.7zM622.7 711.3l-4.3-2.4-10.2 10.8 4.3 2.4zM612.5 722.1l-4.3-2.4-10.1 10.7 4.2 2.4zM602.3 732.8l-4.2-2.4-10.2 10.7 4.2 2.5zM592.1 743.6l-4.2-2.5-10.2 10.6 4.2 2.6zM581.9 754.3l-4.2-2.6-10.2 10.7 4.2 2.6zM571.7 765l-4.2-2.6-10.2 10.6 4.1 2.7zM561.4 775.7l-4.1-2.7-10.2 10.6 4.1 2.8zM551.2 786.4l-4.1-2.8-10.3 10.6 4.1 2.8zM628.5 698.2l-4.7-2.5-10 10.7 4.6 2.5zM618.4 708.9l-4.6-2.5-10.1 10.7 4.5 2.6zM608.2 719.7l-4.5-2.6-10.1 10.6 4.5 2.7zM598.1 730.4l-4.5-2.7-10.2 10.6 4.5 2.8zM587.9 741.1l-4.5-2.8-10.1 10.6 4.4 2.8zM577.7 751.7l-4.4-2.8-10.2 10.6 4.4 2.9zM567.5 762.4l-4.4-2.9-10.2 10.6 4.4 2.9zM623.8 695.7l-4.9-2.7-10 10.6 4.9 2.8zM613.8 706.4l-4.9-2.8-10.1 10.6 4.9 2.9zM603.7 717.1l-4.9-2.9-10.1 10.6 4.9 2.9zM593.6 727.7l-4.9-2.9-10.1 10.6 4.8 2.9zM583.4 738.3l-4.8-2.9-10.1 10.6 4.8 2.9zM628.9 682.3l-5.2-2.9-10 10.7 5.2 2.9zM618.9 693l-5.2-2.9-10 10.6 5.2 2.9zM608.9 703.6l-5.2-2.9-10 10.5 5.1 3zM598.8 714.2l-5.1-3-10.1 10.6 5.1 3zM588.7 724.8l-5.1-3-10 10.5 5 3.1zM633.6 668.7l-5.5-2.9-9.9 10.6 5.5 3zM623.7 679.4l-5.5-3-9.9 10.6 5.4 3.1zM613.7 690.1l-5.4-3.1-10 10.5 5.4 3.2zM603.7 700.7l-5.4-3.2-10 10.6 5.4 3.1zM593.7 711.2l-5.4-3.1-10.1 10.5 5.4 3.2zM628.1 665.8l-5.9-3.2-9.8 10.6 5.8 3.2zM618.2 676.4l-5.8-3.2-9.9 10.5 5.8 3.3zM608.3 687l-5.8-3.3-9.9 10.5 5.7 3.3zM598.3 697.5l-5.7-3.3-10 10.5 5.7 3.4zM632 652l-6.1-3.3-9.8 10.6 6.1 3.3zM622.2 662.6l-6.1-3.3-9.8 10.5 6.1 3.4zM612.4 673.2l-6.1-3.4-9.8 10.5 6 3.4zM602.5 683.7l-6-3.4-10 10.4 6.1 3.5zM592.6 694.2l-6.1-3.5-9.9 10.4 6 3.6zM625.9 648.7l-6.4-3.5-9.7 10.6 6.3 3.5zM616.1 659.3l-6.3-3.5-9.8 10.4 6.3 3.6zM606.3 669.8l-6.3-3.6-9.9 10.5 6.4 3.6zM596.5 680.3l-6.4-3.6-9.8 10.4 6.2 3.6zM619.5 645.2l-6.7-3.6-9.7 10.5 6.7 3.7zM609.8 655.8l-6.7-3.7-9.7 10.4 6.6 3.7zM600 666.2l-6.6-3.7-9.8 10.4 6.5 3.8zM622.4 631l-6.9-3.7-9.6 10.5 6.9 3.8zM612.8 641.6l-6.9-3.8-9.7 10.4 6.9 3.9zM603.1 652.1l-6.9-3.9-9.7 10.4 6.9 3.9zM593.4 662.5l-6.9-3.9-9.8 10.3 6.9 4zM615.5 627.3l-7.3-3.9-9.5 10.4 7.2 4zM605.9 637.8l-7.2-4-9.6 10.4 7.1 4zM596.2 648.2l-7.1-4-9.7 10.3 7.1 4.1zM586.5 658.6l-7.1-4.1-9.8 10.3 7.1 4.1zM608.2 623.4l-7.4-4.1-9.6 10.4 7.5 4.1zM598.7 633.8l-7.5-4.1-9.6 10.4 7.5 4.1zM589.1 644.2l-7.5-4.1-9.6 10.2 7.4 4.2zM610.2 608.8l-7.8-4.1-9.4 10.4 7.8 4.2zM600.8 619.3l-7.8-4.2-9.5 10.4 7.7 4.2zM591.2 629.7l-7.7-4.2-9.5 10.2 7.6 4.4zM581.6 640.1l-7.6-4.4-9.7 10.2 7.7 4.4zM602.4 604.7l-8-4.4-9.4 10.4 8 4.4zM593 615.1l-8-4.4-9.4 10.3 7.9 4.5zM583.5 625.5l-7.9-4.5-9.6 10.2 8 4.5zM594.4 600.3l-8.3-4.4-9.3 10.3 8.2 4.5zM585 610.7l-8.2-4.5-9.4 10.3 8.2 4.5zM575.6 621l-8.2-4.5-9.6 10.1 8.2 4.6zM586.1 595.9l-8.5-4.6-9.3 10.3 8.5 4.6zM576.8 606.2l-8.5-4.6-9.4 10.1 8.5 4.8zM567.4 616.5l-8.5-4.8-9.5 10.1 8.4 4.8zM577.6 591.3l-8.7-4.7-9.3 10.2 8.7 4.8zM568.3 601.6l-8.7-4.8-9.4 10.1 8.7 4.8zM683.8 370.4l-9.3-3.8-3.1 13.3 9.3 3.9zM578 576.2l-9-4.8-9.1 10.3 9 4.9zM568.9 586.6l-9-4.9-9.2 10.1 8.9 5zM559.6 596.8l-8.9-5-9.4 10.1 8.9 5zM569 571.4l-9.2-5-9.1 10.3 9.2 5zM559.9 581.7l-9.2-5-9.2 10 9.2 5.1zM550.7 591.8l-9.2-5.1-9.3 10 9.1 5.2zM559.8 566.4l-9.5-5.1-9 10.2 9.4 5.2zM550.7 576.7l-9.4-5.2-9.2 10 9.4 5.2zM541.5 586.7l-9.4-5.2-9.3 9.9 9.4 5.3zM550.3 561.3l-9.7-5.2-9 10.1 9.7 5.3zM541.3 571.5l-9.7-5.3-9.1 10 9.6 5.3zM642.2 367.7l-10.2-4.3-3.4 13.1 10.1 4.3zM540.6 556.1l-9.9-5.3-8.9 10 9.8 5.4zM531.6 566.2l-9.8-5.4-9.2 9.9 9.9 5.5zM632 363.4l-10.3-4.4-3.5 13 10.4 4.5zM539.6 540.6l-10.2-5.4-8.7 10.1 10 5.5zM530.7 550.8l-10-5.5-9 10 10.1 5.5zM521.8 560.8l-10.1-5.5-9.1 9.8 10 5.6zM621.7 359l-10.6-4.5-3.4 12.9 10.5 4.6zM529.4 535.2l-10.3-5.5-8.7 10 10.3 5.6zM520.7 545.3l-10.3-5.6-9 9.9 10.3 5.7zM511.7 555.3l-10.3-5.7-9 9.8 10.2 5.7zM519.1 529.7l-10.5-5.6-8.7 9.9 10.5 5.7zM510.4 539.7l-10.5-5.7-8.9 9.9 10.4 5.7zM508.6 524.1l-10.7-5.8-8.7 9.9 10.7 5.8zM499.9 534l-10.7-5.8-8.9 9.8 10.7 5.9zM586 357.9l-11.1-4.8-3.8 12.5 11.1 5zM497.9 518.3l-10.9-5.8-8.7 9.8 10.9 5.9zM489.2 528.2l-10.9-5.9-8.8 9.7 10.8 6zM574.9 353.1l-11.3-5-3.8 12.5 11.3 5zM495.5 502.5l-11.1-5.9-8.5 9.9 11.1 6zM487 512.5l-11.1-6-8.6 9.8 11 6zM478.3 522.3l-11-6-8.9 9.6 11.1 6.1zM563.6 348.1l-11.5-5.1-3.8 12.4 11.5 5.2zM484.4 496.6l-11.3-6-8.4 9.8 11.2 6.1zM475.9 506.5l-11.2-6.1-8.7 9.7 11.3 6.2zM467.3 516.3l-11.3-6.2-8.8 9.6 11.2 6.2zM552.1 343l-11.6-5.2-3.8 12.4 11.6 5.2zM473.1 490.6l-11.5-6.1-8.4 9.8 11.5 6.1zM464.7 500.4l-11.5-6.1-8.6 9.6 11.4 6.2zM461.6 484.5l-11.6-6.2-8.4 9.7 11.6 6.3zM453.2 494.3l-11.6-6.3-8.5 9.6 11.5 6.3zM524.9 344.9l-12-5.5-4.1 12.1 12 5.5zM450 478.3l-11.8-6.3-8.3 9.6 11.7 6.4zM441.6 488l-11.7-6.4-8.6 9.5 11.8 6.5zM512.9 339.4l-12.1-5.4-4.1 12 12.1 5.5zM446.4 462.2l-12-6.4-8.1 9.8 11.9 6.4zM438.2 472l-11.9-6.4-8.3 9.6 11.9 6.4zM429.9 481.6l-11.9-6.4-8.6 9.4 11.9 6.5zM500.8 334l-12.3-5.6-4.1 11.9 12.3 5.7zM434.4 455.8l-12.1-6.3-8.1 9.7 12.1 6.4zM426.3 465.6l-12.1-6.4-8.3 9.5 12.1 6.5zM488.5 328.4l-12.4-5.7-4.1 11.9 12.4 5.7zM422.3 449.5l-12.3-6.5-8 9.6 12.2 6.6zM414.2 459.2l-12.2-6.6-8.3 9.4 12.2 6.7zM476.1 322.7l-12.5-5.7-4.1 11.8 12.5 5.8zM410 443l-12.4-6.6-8 9.6 12.4 6.6zM402 452.6l-12.4-6.6-8.2 9.3 12.3 6.7zM459.5 328.8l-12.7-5.9-4.5 11.6 12.7 5.9zM405.4 426.7l-12.5-6.6-7.8 9.7 12.5 6.6zM397.6 436.4l-12.5-6.6-8 9.5 12.5 6.7zM389.6 446l-12.5-6.7-8.2 9.3 12.5 6.7zM446.8 322.9l-12.8-5.9-4.5 11.5 12.8 6zM392.9 420.1l-12.7-6.6-7.7 9.6 12.6 6.7zM385.1 429.8l-12.6-6.7-8 9.4 12.6 6.8zM377.1 439.3l-12.6-6.8-8.2 9.2 12.6 6.9zM434 317l-12.9-6.1-4.5 11.5 12.9 6.1zM380.2 413.5l-12.8-6.7-7.7 9.5 12.8 6.8zM372.5 423.1l-12.8-6.8-8 9.4 12.8 6.8zM421.1 310.9l-13.1-6-4.4 11.3 13 6.2zM367.4 406.8l-12.9-6.8-7.7 9.5 12.9 6.8zM359.7 416.3l-12.9-6.8-7.9 9.2 12.8 7zM408 304.9l-13.1-6.2-4.5 11.3 13.2 6.2zM403.6 316.2l-13.2-6.2-4.8 11.1 13.2 6.3zM361.8 390.3l-13-6.7-7.4 9.6 13.1 6.8zM354.5 400l-13.1-6.8-7.6 9.4 13 6.9zM346.8 409.5l-13-6.9-7.9 9.1 13 7zM390.4 310l-13.2-6.3-4.8 11.1 13.2 6.3zM348.8 383.6l-13.2-6.8-7.3 9.5 13.1 6.9zM341.4 393.2l-13.1-6.9-7.6 9.3 13.1 7zM377.2 303.7l-13.4-6.3-4.8 10.9 13.4 6.5zM342.7 367l-13.3-6.8-7 9.7 13.2 6.9zM335.6 376.8l-13.2-6.9-7.4 9.4 13.3 7zM328.3 386.3l-13.3-7-7.6 9.3 13.3 7zM363.8 297.4l-13.4-6.4-4.8 10.9 13.4 6.4zM359 308.3l-13.4-6.4-5.2 10.7 13.5 6.5zM329.4 360.2l-13.4-6.9-7 9.6 13.4 7zM322.4 369.9l-13.4-7-7.3 9.4 13.3 7zM315 379.3l-13.3-7-7.6 9.2 13.3 7.1z"/>
<path fill="#ff9c14" d="M785.9 583.4l-5.5 3-10.6 11.6 5.1-3.1zM790.8 574.8l-3.8 .6-10.1 11.8 3.5-.8zM796.8 563.4l-3.8-.2-9.4 12.2 3.4 0zM817.3 524l-4.4-.5-7 13.6 4.2 .5zM831.9 465.3l-4.1-.4-3.7 14.8 4.2 .5zM562.4 811.7l-1.6-1.1-10.6 11 1.6 1.2zM551.8 822.8l-1.6-1.2-10.5 11.1 1.5 1.2zM541.2 833.9l-1.5-1.2-10.5 11 1.4 1.2zM602.8 766.5l-2.1-1.1-10.5 11 2.1 1.1zM592.3 777.5l-2.1-1.1-10.4 11 2 1.2zM581.8 788.6l-2-1.2-10.5 10.9 2 1.3zM571.3 799.6l-2-1.3-10.5 11 2 1.3zM560.8 810.6l-2-1.3-10.4 11 1.8 1.3zM621.6 743.4l-2.5-1.3-10.4 11 2.5 1.3zM611.2 754.4l-2.5-1.3-10.4 11 2.4 1.3zM600.7 765.4l-2.4-1.3-10.4 10.9 2.3 1.4zM590.2 776.4l-2.3-1.4-10.4 11 2.3 1.4zM639.9 720.2l-2.9-1.4-10.3 11 2.8 1.4zM629.5 731.2l-2.8-1.4-10.4 10.9 2.8 1.4zM619.1 742.1l-2.8-1.4-10.3 10.9 2.7 1.5zM657.6 696.9l-3.3-1.5-10.2 10.9 3.2 1.6zM647.3 707.9l-3.2-1.6-10.3 11 3.2 1.5zM637 718.8l-3.2-1.5-10.2 10.9 3.1 1.6zM664.5 684.4l-3.5-1.6-10.2 10.9 3.5 1.7zM654.3 695.4l-3.5-1.7-10.2 10.9 3.5 1.7zM644.1 706.3l-3.5-1.7-10.2 10.9 3.4 1.8zM671.1 671.8l-3.9-1.8-10.1 10.9 3.9 1.9zM661 682.8l-3.9-1.9-10.1 10.9 3.8 1.9zM650.8 693.7l-3.8-1.9-10.1 10.9 3.7 1.9zM677.2 659l-4.2-2-10 10.9 4.2 2.1zM667.2 670l-4.2-2.1-10 10.9 4.1 2.1zM657.1 680.9l-4.1-2.1-10.1 10.9 4.1 2.1zM673 657l-4.6-2.2-9.9 10.9 4.5 2.2zM663 667.9l-4.5-2.2-9.9 10.9 4.4 2.2zM678.3 643.8l-4.8-2.3-9.8 11 4.7 2.3zM668.4 654.8l-4.7-2.3-9.9 10.8 4.7 2.4zM673.5 641.5l-5.2-2.5-9.7 10.9 5.1 2.6zM663.7 652.5l-5.1-2.6-9.8 10.9 5 2.5zM678 628l-5.4-2.6-9.6 10.9 5.3 2.7zM668.3 639l-5.3-2.7-9.7 10.9 5.3 2.7zM672.6 625.4l-5.7-2.9-9.6 11 5.7 2.8zM663 636.3l-5.7-2.8-9.7 10.8 5.7 2.9zM666.9 622.5l-6-2.9-9.5 10.8 5.9 3.1zM670.3 608.6l-6.3-3.2-9.4 11 6.3 3.2zM660.9 619.6l-6.3-3.2-9.4 10.8 6.2 3.2zM664 605.4l-6.6-3.2-9.3 10.9 6.5 3.3zM654.6 616.4l-6.5-3.3-9.4 10.8 6.5 3.3zM657.4 602.2l-6.8-3.5-9.3 10.9 6.8 3.5zM650.6 598.7l-7.1-3.6-9.2 10.9 7 3.6zM652.5 584.1l-7.3-3.7-9 11 7.3 3.7zM643.5 595.1l-7.3-3.7-9.2 10.8 7.3 3.8zM645.2 580.4l-7.7-3.8-8.9 10.9 7.6 3.9zM636.2 591.4l-7.6-3.9-9.2 10.7 7.6 4zM637.5 576.6l-7.8-4-9 10.8 7.9 4.1zM629.7 572.6l-8.2-4.2-8.8 10.8 8 4.2zM621.5 568.4l-8.3-4.3-8.9 10.8 8.4 4.3zM621.8 553.2l-8.7-4.4-8.5 10.9 8.6 4.4zM613.2 564.1l-8.6-4.4-8.8 10.7 8.5 4.5zM613.1 548.8l-8.8-4.5-8.6 10.8 8.9 4.6zM604.6 559.7l-8.9-4.6-8.7 10.6 8.8 4.7zM604.3 544.3l-9.1-4.7-8.5 10.8 9 4.7zM595.2 539.6l-9.3-4.7-8.5 10.7 9.3 4.8zM585.9 534.9l-9.6-4.9-8.4 10.6 9.5 5zM584.5 519.1l-9.8-5-8.1 10.8 9.7 5.1zM576.3 530l-9.7-5.1-8.5 10.6 9.8 5.1zM574.7 514.1l-10-5.1-8.1 10.8 10 5.1zM566.6 524.9l-10-5.1-8.4 10.5 9.9 5.2zM564.7 509l-10.2-5.2-8.1 10.7 10.2 5.3zM556.6 519.8l-10.2-5.3-8.4 10.4 10.2 5.4zM554.5 503.8l-10.4-5.3-8.1 10.6 10.4 5.4zM544.1 498.5l-10.6-5.4-8 10.5 10.5 5.5zM541.2 482.3l-10.8-5.5-7.7 10.7 10.8 5.6zM533.5 493.1l-10.8-5.6-8 10.5 10.8 5.6zM530.4 476.8l-11-5.6-7.7 10.7 11 5.6zM522.7 487.5l-11-5.6-8 10.4 11 5.7zM519.4 471.2l-11.2-5.7-7.6 10.6 11.1 5.8zM511.7 481.9l-11.1-5.8-8 10.3 11.1 5.9zM508.2 465.5l-11.3-5.7-7.7 10.4 11.4 5.9zM504.2 449l-11.6-5.8-7.3 10.7 11.6 5.9zM496.9 459.8l-11.6-5.9-7.6 10.4 11.5 5.9zM492.6 443.2l-11.7-5.9-7.2 10.6 11.6 6zM485.3 453.9l-11.6-6-7.6 10.3 11.6 6.1zM480.9 437.3l-11.9-6-7.2 10.5 11.9 6.1zM473.7 447.9l-11.9-6.1-7.6 10.3 11.9 6.1zM475.9 420.6l-12-6.1-6.9 10.7 12 6.1zM469 431.3l-12-6.1-7.2 10.5 12 6.1zM463.9 414.5l-12.2-6.1-6.9 10.6 12.2 6.2zM457 425.2l-12.2-6.2-7.2 10.4 12.2 6.3zM458.1 397.6l-12.3-6.1-6.5 10.8 12.4 6.1zM451.7 408.4l-12.4-6.1-6.8 10.5 12.3 6.2zM444.8 419l-12.3-6.2-7.2 10.3 12.3 6.3zM451.8 380.5l-12.5-6.1-6 10.9 12.5 6.2zM445.8 391.5l-12.5-6.2-6.4 10.7 12.4 6.3zM439.3 402.3l-12.4-6.3-6.9 10.5 12.5 6.3zM450.2 351.9l-12.7-6-5.2 11.3 12.7 6.1zM445 363.3l-12.7-6.1-5.6 11 12.6 6.2zM439.3 374.4l-12.6-6.2-6 10.9 12.6 6.2zM433.3 385.3l-12.6-6.2-6.5 10.6 12.7 6.3zM426.9 396l-12.7-6.3-6.8 10.4 12.6 6.4zM437.5 345.9l-12.8-6.1-5.2 11.2 12.8 6.2zM432.3 357.2l-12.8-6.2-5.6 11 12.8 6.2zM426.7 368.2l-12.8-6.2-6 10.7 12.8 6.4zM420.7 379.1l-12.8-6.4-6.4 10.6 12.7 6.4zM414.2 389.7l-12.7-6.4-6.8 10.3 12.7 6.5zM419.5 351l-12.9-6.3-5.6 10.9 12.9 6.4zM413.9 362l-12.9-6.4-6 10.7 12.9 6.4zM407.9 372.7l-12.9-6.4-6.4 10.5 12.9 6.5zM401 355.6l-13-6.3-6 10.6 13 6.4z"/>
<path fill="#ffa414" d="M774.9 594.9l-5.1 3.1-10.6 11.5 4.7-3.1zM780.4 586.4l-3.5 .8-10.2 11.6 3.1-.8zM787 575.4l-3.4 0-9.8 11.9 3.1-.1zM574.3 801.4l-1.4-.8-10.5 11.1 1.3 .8zM563.7 812.5l-1.3-.8-10.6 11.1 1.2 .9zM553 823.7l-1.2-.9-10.6 11.1 1.2 .9zM625.7 745.1l-1.9-.7-10.5 11 1.9 .8zM615.2 756.2l-1.9-.8-10.5 11.1 1.8 .8zM655.2 711.1l-2.4-.8-10.4 11 2.3 .9zM644.7 722.2l-2.3-.9-10.4 11 2.3 1zM673.6 688.1l-2.8-1-10.3 11 2.7 1.1zM663.2 699.2l-2.7-1.1-10.3 11.1 2.6 1.1zM681.1 676l-3.1-1.2-10.2 11.1 3 1.2zM670.8 687.1l-3-1.2-10.2 11 2.9 1.2zM688.2 663.7l-3.4-1.4-10.1 11.1 3.3 1.4zM694.9 651.2l-3.8-1.5-10 11.1 3.7 1.5zM701.1 638.5l-4.1-1.7-9.9 11.1 4 1.8zM691.1 649.7l-4-1.8-9.9 11.1 3.9 1.8zM697 636.8l-4.3-1.9-9.8 11.1 4.2 1.9zM702.3 623.7l-4.6-2.1-9.7 11.2 4.7 2.1zM697.7 621.6l-5-2.3-9.5 11.2 4.8 2.3zM696.9 605.7l-5.6-2.6-9.3 11.2 5.5 2.6zM691.3 603.1l-5.8-2.8-9.2 11.2 5.7 2.8zM682.1 583.1l-6.7-3.3-8.9 11.3 6.6 3.2zM675.4 579.8l-6.9-3.3-8.8 11.2 6.8 3.4zM654.7 554.2l-7.9-3.9-8.4 11.2 7.9 4zM646.8 550.3l-8.2-4-8.4 11.1 8.2 4.1z"/>
<path fill="#ffac18" d="M763.9 606.4l-4.7 3.1-10.7 11.4 4.4-3zM769.8 598l-3.1 .8-10.4 11.5 2.9-.8zM627.4 745.6l-1.7-.5-10.5 11.1 1.6 .6zM616.8 756.8l-1.6-.6-10.6 11.1 1.6 .6zM667.8 700.6l-2.2-.6-10.4 11.1 2.1 .6zM657.3 711.7l-2.1-.6-10.5 11.1 2.1 .7zM824.1 479.7l-4.3-.6-4.3 14.5 4.2 .7zM686.5 677.7l-2.6-.7-10.3 11.1 2.5 .8zM676.1 688.9l-2.5-.8-10.4 11.1 2.4 .8zM832.4 419.7l-4-.5-2.7 14.9 4.1 .6zM694.2 665.9l-2.9-1-10.2 11.1 2.8 1zM833 389.4l-4-.5-2.3 14.9 4.1 .5zM701.5 653.7l-3.2-1.1-10.1 11.1 3.1 1.2zM831.1 374l-4.2-.6-2.2 14.8 4.3 .7zM708.4 641.4l-3.5-1.3-10 11.1 3.4 1.4zM714.8 628.8l-3.9-1.5-9.8 11.2 3.8 1.6zM720.6 615.9l-4.2-1.7-9.6 11.4 4.1 1.7zM716.4 614.2l-4.5-1.8-9.6 11.3 4.5 1.9zM721.3 600.9l-4.8-2-9.3 11.4 4.7 2.1zM716.5 598.9l-5.1-2.2-9.2 11.4 5 2.2zM715 582.7l-5.7-2.6-8.8 11.6 5.6 2.6zM709.3 580.1l-5.9-2.6-8.8 11.5 5.9 2.7zM703.4 577.5l-6.2-2.9-8.7 11.5 6.1 2.9zM699.2 559.9l-6.8-3.1-8.3 11.6 6.7 3.2zM692.4 556.8l-7-3.3-8.3 11.6 7 3.3zM685.4 553.5l-7.2-3.5-8.3 11.6 7.2 3.5zM678.5 534.7l-7.8-3.7-7.8 11.7 7.8 3.8zM670.7 531l-8-3.8-7.8 11.7 8 3.8zM662.7 527.2l-8.3-4-7.7 11.7 8.2 4zM691.4 418l-8.9-3.7-4.1 13.2 8.9 3.8zM653.2 507.3l-8.8-4.2-7.2 11.8 8.7 4.2zM644.4 503.1l-9-4.3-7.2 11.8 9 4.3zM635.4 498.8l-9.2-4.4-7.2 11.7 9.2 4.5zM660 419.5l-9.5-4.1-4.5 12.8 9.5 4.3zM633 482.5l-9.5-4.5-6.8 11.8 9.5 4.6zM646 428.2l-9.7-4.3-5 12.7 9.7 4.4zM623.5 478l-9.7-4.6-6.7 11.8 9.6 4.6zM636.3 423.9l-10-4.5-4.9 12.6 9.9 4.6zM631.3 436.6l-9.9-4.6-5.4 12.4 9.9 4.6zM620.1 461.3l-9.9-4.6-6.3 11.9 9.9 4.8zM613.8 473.4l-9.9-4.8-6.7 11.8 9.9 4.8zM621.4 432l-10.2-4.6-5.3 12.3 10.1 4.7zM616 444.4l-10.1-4.7-5.8 12.2 10.1 4.8zM610.2 456.7l-10.1-4.8-6.3 11.9 10.1 4.8zM611.2 427.4l-10.3-4.8-5.4 12.3 10.4 4.8zM605.9 439.7l-10.4-4.8-5.8 12.1 10.4 4.9zM600.1 451.9l-10.4-4.9-6.2 11.8 10.3 5z"/>
<path fill="#ffb818" d="M752.9 617.9l-4.4 3-10.7 11.4 4.2-3zM554.7 824.7l-.7-.4-10.7 11.2 .6 .5zM543.9 836l-.6-.5-10.7 11.2 .5 .6zM766.7 598.8l-3 .2-10.2 11.5 2.8-.2zM586.1 790.7l-1.2-.5-10.6 11.2 1.1 .5zM575.4 801.9l-1.1-.5-10.6 11.1 1 .6zM793 563.2l-3.6-.4-9.2 12.3 3.4 .3zM669.8 700.9l-2-.3-10.5 11.1 1.9 .4zM699.2 667l-2.4-.4-10.3 11.1 2.3 .5zM717.5 644.1l-2.8-.7-10.2 11.3 2.7 .7zM724.8 632.1l-3.1-.9-10 11.3 3 .9zM731.7 619.9l-3.5-1.1-9.8 11.3 3.3 1.1zM734.1 606l-4-1.5-9.5 11.4 3.9 1.6zM739.4 592.8l-4.3-1.7-9.3 11.7 4.3 1.7zM735.1 591.1l-4.7-1.8-9.1 11.6 4.5 1.9zM734.3 575.4l-5.2-2.2-8.7 11.8 5.2 2.2zM720.1 553.7l-6.3-2.8-8.1 12 6.2 2.8z"/>
<path fill="#ffbc1c" d="M742 629.3l-4.2 3-10.7 11.3 3.9-2.8zM555.2 824.7l-.5 0-10.8 11.3 .3 .2zM544.2 836.2l-.3-.2-10.8 11.3 .1 .3zM748.5 620.9l-2.7 .8-10.5 11.4 2.5-.8zM576.2 802.1l-.8-.2-10.7 11.2 .7 .3zM607.5 768.2l-1.3-.3-10.7 11.2 1.3 .4zM690.9 678.5l-2.1-.3-10.5 11.2 2 .3zM814.7 508.7l-4.3-.8-5.9 14 4.2 .8zM727.7 632.8l-2.9-.7-10.1 11.3 2.8 .7zM819.8 479.1l-4.2-.8-4.4 14.4 4.3 .9zM734.9 620.8l-3.2-.9-10 11.3 3.1 .9zM822.7 448.9l-4.3-.8-3.4 14.7 4.4 .9zM819.8 417.8l-4.5-1-2.8 14.7 4.6 1zM743.6 594.3l-4.2-1.5-9.3 11.7 4 1.5zM815.3 416.8l-4.8-1.1-2.8 14.6 4.8 1.2zM810.5 415.7l-5-1.3-2.9 14.5 5.1 1.4zM805.5 414.4l-5.2-1.5-2.9 14.5 5.2 1.5zM739.3 577.4l-5-2-8.7 11.8 4.8 2.1zM791.9 425.7l-5.7-1.8-3.3 14.3 5.8 1.8zM737.5 561.1l-5.6-2.3-8.2 12.1 5.4 2.3zM786.2 423.9l-6-2-3.3 14.2 6 2.1zM731.9 558.8l-5.8-2.5-8.2 12.1 5.8 2.5zM770.7 434l-6.5-2.4-3.6 14 6.4 2.4zM727.8 541.4l-6.3-2.8-7.7 12.3 6.3 2.8zM764.2 431.6l-6.7-2.4-3.7 13.9 6.8 2.5zM721.5 538.6l-6.6-2.9-7.7 12.2 6.6 3zM746.9 440.4l-7.2-2.8-4.1 13.7 7.2 2.9zM715.1 520.2l-7.1-3.1-7.1 12.4 7.1 3.2zM708 517.1l-7.4-3.3-7 12.3 7.3 3.4zM728.1 448.3l-7.7-3.1-4.5 13.4 7.7 3.2zM699.4 497.7l-7.8-3.5-6.5 12.5 7.9 3.6zM708 455.2l-8.2-3.4-5 13.1 8.2 3.5zM703 468.4l-8.2-3.5-5.4 12.9 8.1 3.6zM697.5 481.4l-8.1-3.6-6 12.7 8.2 3.7zM694.8 464.9l-8.4-3.7-5.4 12.9 8.4 3.7zM689.4 477.8l-8.4-3.7-5.9 12.7 8.3 3.7z"/>
<path fill="#ffc41c" d="M731 640.8l-3.9 2.8-10.7 11.4 3.6-2.7zM599.1 778.7l-1.3 .8-10.8 11.3 1.2-.6zM588.2 790.2l-1.2 .6-10.8 11.3 1-.4zM737.8 632.3l-2.5 .8-10.6 11.3 2.4-.8zM619.4 756.9l-1.2 .1-10.7 11.2 1.1 0zM608.6 768.2l-1.1 0-10.7 11.3 1 0zM745.8 621.7l-2.6 .3-10.3 11.4 2.4-.3zM639.5 734.6l-1.5-.2-10.6 11.2 1.5 .2zM783.6 575.4l-3.4-.3-9.6 12 3.2 .2zM711.9 656l-2.2-.2-10.5 11.2 2.2 .2zM798 550.2l-3.8-.7-8.4 12.7 3.6 .6zM730.4 633.2l-2.7-.4-10.2 11.3 2.5 .5zM808.7 522.7l-4.2-.8-6.7 13.6 4.1 .9zM737.8 621.4l-2.9-.6-10.1 11.3 2.9 .7zM815.5 493.6l-4.3-.9-5.1 14.3 4.3 .9zM744.8 609.3l-3.3-.9-9.8 11.5 3.2 .9zM819.4 463.7l-4.4-.9-3.8 14.5 4.4 1zM751.1 596.7l-3.7-1.1-9.5 11.7 3.6 1.1zM752.7 582.4l-4.2-1.5-9.1 11.9 4.2 1.5zM747.8 565.3l-5-2-8.5 12.1 5 2zM739.8 546.5l-5.9-2.5-7.8 12.3 5.8 2.5zM735.1 528.8l-6.4-2.7-7.2 12.5 6.3 2.8zM728.7 526.1l-6.7-2.9-7.1 12.5 6.6 2.9zM721.7 507.5l-7.2-3.1-6.5 12.7 7.1 3.1zM720.6 491.4l-7.5-3.2-6 12.9 7.4 3.3zM718.6 475.1l-7.7-3.3-5.5 13.1 7.7 3.3z"/>
<path fill="#ffc81c" d="M720 652.3l-3.6 2.7-10.8 11.3 3.4-2.5zM621.1 755.7l-1.7 1.2-10.8 11.3 1.5-1zM610.1 767.2l-1.5 1-10.8 11.3 1.3-.8zM727.1 643.6l-2.4 .8-10.6 11.4 2.3-.8zM641 734.3l-1.5 .3-10.6 11.2 1.3-.2zM630.2 745.6l-1.3 .2-10.7 11.2 1.2-.1zM660.9 712.1l-1.7 0-10.6 11.2 1.6 0zM650.2 723.3l-1.6 0-10.6 11.1 1.5 .2zM722.4 644.7l-2.4-.1-10.3 11.2 2.2 .2zM740.6 621.9l-2.8-.5-10.1 11.4 2.7 .4zM747.9 610l-3.1-.7-9.9 11.5 2.9 .6zM756.7 583.8l-4-1.4-9.1 11.9 3.8 1.3zM752.6 567.1l-4.8-1.8-8.5 12.1 4.7 1.9zM750.8 550.9l-5.4-2.1-7.9 12.3 5.3 2.2zM745.4 548.8l-5.6-2.3-7.9 12.3 5.6 2.3zM741.2 531.4l-6.1-2.6-7.3 12.6 6.1 2.6zM728.6 510.4l-6.9-2.9-6.6 12.7 6.9 3z"/>
<path fill="#ffcc1c" d="M709 663.8l-3.4 2.5-10.7 11.4 3.1-2.4zM643.1 732.8l-2.1 1.5-10.8 11.3 1.9-1.4zM632.1 744.2l-1.9 1.4-10.8 11.3 1.7-1.2zM716.4 655l-2.3 .8-10.6 11.3 2.1-.8zM662.5 711.6l-1.6 .5-10.7 11.2 1.6-.4zM651.8 722.9l-1.6 .4-10.7 11.3 1.5-.3zM735.3 633.1l-2.4 .3-10.5 11.3 2.3-.3zM724.7 644.4l-2.3 .3-10.5 11.3 2.2-.2zM682.2 689.6l-1.9 .1-10.5 11.2 1.8-.1zM671.6 700.8l-1.8 .1-10.6 11.2 1.7 0zM773.8 587.3l-3.2-.2-9.8 11.7 2.9 .2zM732.9 633.4l-2.5-.2-10.4 11.4 2.4 .1zM789.4 562.8l-3.6-.6-9 12.3 3.4 .6zM801.9 536.4l-4.1-.9-7.5 13.2 3.9 .8zM810.4 507.9l-4.3-.9-5.8 13.9 4.2 1zM754.5 597.7l-3.4-1-9.6 11.7 3.3 .9zM760.5 584.9l-3.8-1.1-9.3 11.8 3.7 1.1zM757.2 568.8l-4.6-1.7-8.6 12.2 4.5 1.6z"/>
<path fill="#ffd01c" d="M698 675.3l-3.1 2.4-10.8 11.3 2.9-2.2zM687 686.8l-2.9 2.2-10.8 11.3 2.7-2zM676 698.3l-2.7 2-10.8 11.3 2.6-1.8zM665.1 709.8l-2.6 1.8-10.7 11.3 2.3-1.6zM654.1 721.3l-2.3 1.6-10.8 11.4 2.1-1.5zM705.6 666.3l-2.1 .8-10.6 11.2 2-.6zM694.9 677.7l-2 .6-10.7 11.3 1.9-.6zM684.1 689l-1.9 .6-10.6 11.2 1.7-.5zM673.3 700.3l-1.7 .5-10.7 11.3 1.6-.5zM714.1 655.8l-2.2 .2-10.5 11.2 2.1-.1zM703.5 667.1l-2.1 .1-10.5 11.3 2-.2zM692.9 678.3l-2 .2-10.6 11.2 1.9-.1zM763.7 599l-2.9-.2-10 11.6 2.7 .1zM753.5 610.5l-2.7-.1-10.2 11.5 2.6 .1zM743.2 622l-2.6-.1-10.2 11.3 2.5 .2zM750.8 610.4l-2.9-.4-10.1 11.4 2.8 .5zM757.7 598.4l-3.2-.7-9.7 11.6 3.1 .7z"/>
<path fill="#ffc01c" d="M577.2 801.7l-1 .4-10.8 11.3 .8-.2zM566.2 813.2l-.8 .2-10.7 11.3 .5 0zM597.8 779.5l-1 0-10.7 11.2 .9 .1zM587 790.8l-.9-.1-10.7 11.2 .8 .2zM756.3 610.3l-2.8 .2-10.3 11.5 2.6-.3zM628.9 745.8l-1.5-.2-10.6 11.2 1.4 .2zM618.2 757l-1.4-.2-10.6 11.1 1.3 .3zM701.4 667.2l-2.2-.2-10.4 11.2 2.1 .3zM720 644.6l-2.5-.5-10.3 11.3 2.5 .4zM741.5 608.4l-3.6-1.1-9.7 11.5 3.5 1.1zM821.5 433.4l-4.4-.9-3.1 14.7 4.4 .9zM747.4 595.6l-3.8-1.3-9.5 11.7 3.8 1.3zM748.5 580.9l-4.5-1.6-8.9 11.8 4.3 1.7zM744 579.3l-4.7-1.9-8.9 11.9 4.7 1.8zM742.8 563.3l-5.3-2.2-8.4 12.1 5.2 2.2zM733.9 544l-6.1-2.6-7.7 12.3 6 2.6zM753.8 443.1l-6.9-2.7-4.1 13.8 7 2.7zM722 523.2l-6.9-3-7.1 12.5 6.9 3zM735.6 451.3l-7.5-3-4.5 13.5 7.5 3.1zM714.5 504.4l-7.4-3.3-6.5 12.7 7.4 3.3zM723.6 461.8l-7.7-3.2-5 13.2 7.7 3.3zM713.1 488.2l-7.7-3.3-6 12.8 7.7 3.4zM707.1 501.1l-7.7-3.4-6.4 12.6 7.6 3.5zM715.9 458.6l-7.9-3.4-5 13.2 7.9 3.4zM710.9 471.8l-7.9-3.4-5.5 13 7.9 3.5zM705.4 484.9l-7.9-3.5-5.9 12.8 7.8 3.5z"/>
<path fill="#ec8010" d="M870.9 216.7l-3.5 2.5-1.2 15.4 3.6-2.3zM869.8 232.3l-3.6 2.3-1.3 15.5 3.7-2.2zM868.6 247.9l-3.7 2.2-1.2 15.4 3.7-2zM867.4 263.5l-3.7 2-1.3 15.5 3.8-1.9zM866.2 279.1l-3.8 1.9-1.3 15.4 3.9-1.7zM865 294.7l-3.9 1.7-1.4 15.5 4-1.7zM863.7 310.2l-4 1.7-1.4 15.4 4.1-1.5zM862.4 325.8l-4.1 1.5-1.4 15.4 4.2-1.3zM834.9 510.8l-6.4-.4-6.3 14.1 6.1 .4zM852.1 389l-3.9 .5-2 15.3 4.1-.4zM850.3 404.4l-4.1 .4-2 15.3 4.2-.4zM848.4 419.7l-4.2 .4-2.4 15.2 4.4-.2zM846.2 435.1l-4.4 .2-2.6 15.2 4.6-.1zM843.8 450.4l-4.6 .1-2.9 15.1 4.7 .1z"/>
<path fill="#f08410" d="M828.3 524.9l-6.1-.4-7.6 13.6 5.5 .2zM864.9 250.1l-3.2 1.5-1.3 15.3 3.3-1.4zM863.7 265.5l-3.3 1.4-1.4 15.4 3.4-1.3zM862.4 281l-3.4 1.3-1.4 15.3 3.5-1.2zM861.1 296.4l-3.5 1.2-1.4 15.3 3.5-1zM859.7 311.9l-3.5 1-1.4 15.4 3.5-1zM858.3 327.3l-3.5 1-1.6 15.3 3.7-.9zM856.9 342.7l-3.7 .9-1.6 15.3 3.8-.8zM855.4 358.1l-3.8 .8-1.6 15.3 3.8-.6zM837.7 480.8l-4.9-.2-4.2 14.8 5 .3zM833.6 495.7l-5-.3-5.1 14.5 5 .5z"/>
<path fill="#ffb418" d="M759.2 609.5l-2.9 .8-10.5 11.4 2.7-.8zM564.7 813.1l-1-.6-10.7 11.2 1 .6zM554 824.3l-1-.6-10.6 11.1 .9 .7zM659.2 712.1l-1.9-.4-10.5 11.2 1.8 .4zM688.8 678.2l-2.3-.5-10.4 11.2 2.2 .5zM819.7 494.3l-4.2-.7-5.1 14.3 4.3 .8zM707.2 655.4l-2.7-.7-10.3 11.2 2.6 .7zM826.9 449.6l-4.2-.7-3.3 14.8 4.2 .7zM714.7 643.4l-3-.9-10.2 11.2 3 1zM721.7 631.2l-3.3-1.1-10 11.3 3.3 1.1zM728.2 618.8l-3.7-1.3-9.7 11.3 3.6 1.3zM730.1 604.5l-4.3-1.7-9.4 11.4 4.2 1.7zM730.4 589.3l-4.8-2.1-9.1 11.7 4.8 2zM729.1 573.2l-5.4-2.3-8.7 11.8 5.4 2.3zM723.7 570.9l-5.8-2.5-8.6 11.7 5.7 2.6zM713.8 550.9l-6.6-3-8 12 6.5 3zM707.2 547.9l-6.8-3.1-8 12 6.8 3.1zM700.9 529.5l-7.3-3.4-7.5 12.1 7.3 3.4zM693.6 526.1l-7.6-3.5-7.5 12.1 7.6 3.5zM686 522.6l-7.9-3.6-7.4 12 7.8 3.7zM677 503l-8.4-3.8-6.9 12.1 8.4 3.9zM668.6 499.2l-8.5-4-6.9 12.1 8.5 4zM657.6 478.8l-9-4.2-6.4 12.2 9.1 4.3z"/>
<path fill="#ffbc18" d="M565.4 813.4l-.7-.3-10.7 11.2 .7 .4zM596.8 779.5l-1.3-.4-10.6 11.1 1.2 .5zM680.3 689.7l-2-.3-10.5 11.2 2 .3zM709.7 655.8l-2.5-.4-10.4 11.2 2.4 .4zM737.9 607.3l-3.8-1.3-9.6 11.5 3.7 1.3z"/>
<path fill="#f48410" d="M867.4 219.2l-3.2 1.7-1.3 15.3 3.3-1.6zM866.2 234.6l-3.3 1.6-1.2 15.4 3.2-1.5z"/>
<path fill="#ec8410" d="M853.8 373.6l-3.8 .6-1.8 15.3 3.9-.5z"/>
<path fill="#f48810" d="M828.5 510.4l-5-.5-6.2 14.1 4.9 .5z"/>
<path fill="#fc8810" d="M822.2 524.5l-4.9-.5-7.2 13.6 4.5 .5zM327.6 683.5l-10.5-7.3-9.9 8.7 10.6 7.3zM336.7 658.7l-10.8-7.2-9.8 8.7 10.8 7.3zM326.9 667.5l-10.8-7.3-9.7 8.6 10.7 7.4zM317.1 676.2l-10.7-7.4-9.9 8.6 10.7 7.5zM345.4 634.2l-11-7.2-9.7 8.6 11 7.3zM335.7 642.9l-11-7.3-9.7 8.6 10.9 7.3zM325.9 651.5l-10.9-7.3-9.8 8.6 10.9 7.4zM316.1 660.2l-10.9-7.4-9.7 8.5 10.9 7.5zM306.4 668.8l-10.9-7.5-9.8 8.5 10.8 7.6zM344.1 618.4l-11.1-7.2-9.7 8.5 11.1 7.3zM334.4 627l-11.1-7.3-9.7 8.6 11.1 7.3zM324.7 635.6l-11.1-7.3-9.7 8.5 11.1 7.4zM315 644.2l-11.1-7.4-9.7 8.4 11 7.6zM305.2 652.8l-11-7.6-9.8 8.5 11.1 7.6zM295.5 661.3l-11.1-7.6-9.8 8.4 11.1 7.7zM342.6 602.6l-11.3-7.2-9.6 8.5 11.3 7.3zM333 611.2l-11.3-7.3-9.7 8.5 11.3 7.3zM323.3 619.7l-11.3-7.3-9.6 8.4 11.2 7.5zM313.6 628.3l-11.2-7.5-9.7 8.4 11.2 7.6zM303.9 636.8l-11.2-7.6-9.7 8.4 11.2 7.6zM294.2 645.2l-11.2-7.6-9.8 8.4 11.2 7.7zM284.4 653.7l-11.2-7.7-9.7 8.3 11.1 7.8zM340.9 586.8l-11.5-7.2-9.6 8.5 11.5 7.3zM331.3 595.4l-11.5-7.3-9.6 8.4 11.5 7.4zM321.7 603.9l-11.5-7.4-9.6 8.4 11.4 7.5zM312 612.4l-11.4-7.5-9.7 8.3 11.5 7.6zM302.4 620.8l-11.5-7.6-9.6 8.4 11.4 7.6zM292.7 629.2l-11.4-7.6-9.7 8.2 11.4 7.8zM283 637.6l-11.4-7.8-9.8 8.3 11.4 7.9zM273.2 646l-11.4-7.9-9.7 8.3 11.4 7.9zM329.4 579.6l-11.7-7.3-9.5 8.4 11.6 7.4zM319.8 588.1l-11.6-7.4-9.6 8.3 11.6 7.5zM310.2 596.5l-11.6-7.5-9.6 8.3 11.6 7.6zM300.6 604.9l-11.6-7.6-9.6 8.3 11.5 7.6zM290.9 613.2l-11.5-7.6-9.7 8.2 11.6 7.8zM281.3 621.6l-11.6-7.8-9.7 8.2 11.6 7.8zM271.6 629.8l-11.6-7.8-9.7 8.2 11.5 7.9zM261.8 638.1l-11.5-7.9-9.7 8.2 11.5 8zM327.2 563.9l-11.8-7.4-9.5 8.4 11.8 7.4zM317.7 572.3l-11.8-7.4-9.5 8.3 11.8 7.5zM308.2 580.7l-11.8-7.5-9.5 8.2 11.7 7.6zM298.6 589l-11.7-7.6-9.6 8.2 11.7 7.7zM289 597.3l-11.7-7.7-9.6 8.2 11.7 7.8zM279.4 605.6l-11.7-7.8-9.7 8.2 11.7 7.8zM269.7 613.8l-11.7-7.8-9.7 8.1 11.7 7.9zM260 622l-11.7-7.9-9.6 8.1 11.6 8zM250.3 630.2l-11.6-8-9.7 8 11.6 8.2zM324.8 548.1l-12-7.3-9.4 8.3 12 7.4zM315.4 556.5l-12-7.4-9.4 8.3 11.9 7.5zM305.9 564.9l-11.9-7.5-9.5 8.2 11.9 7.6zM296.4 573.2l-11.9-7.6-9.5 8.1 11.9 7.7zM286.9 581.4l-11.9-7.7-9.6 8.2 11.9 7.7zM277.3 589.6l-11.9-7.7-9.6 8.1 11.9 7.8zM267.7 597.8l-11.9-7.8-9.6 8 11.8 8zM258 606l-11.8-8-9.7 8.1 11.8 8zM248.3 614.1l-11.8-8-9.6 8 11.8 8.1zM238.7 622.2l-11.8-8.1-9.7 7.9 11.8 8.2zM312.8 540.8l-12.1-7.4-9.4 8.2 12.1 7.5zM303.4 549.1l-12.1-7.5-9.4 8.2 12.1 7.6zM294 557.4l-12.1-7.6-9.5 8.1 12.1 7.7zM284.5 565.6l-12.1-7.7-9.5 8.1 12.1 7.7zM275 573.7l-12.1-7.7-9.5 8 12 7.9zM265.4 581.9l-12-7.9-9.6 8 12 8zM255.8 590l-12-8-9.6 8 12 8zM310 525.1l-12.2-7.4-9.3 8.2 12.2 7.5zM300.7 533.4l-12.2-7.5-9.4 8.1 12.2 7.6zM291.3 541.6l-12.2-7.6-9.4 8.1 12.2 7.7zM281.9 549.8l-12.2-7.7-9.5 8.1 12.2 7.7zM272.4 557.9l-12.2-7.7-9.4 8 12.1 7.8zM262.9 566l-12.1-7.8-9.6 7.9 12.2 7.9zM253.4 574l-12.2-7.9-9.5 7.9 12.1 8zM297.8 517.7l-12.4-7.5-9.3 8.1 12.4 7.6zM288.5 525.9l-12.4-7.6-9.4 8.1 12.4 7.6zM279.1 534l-12.4-7.6-9.3 8 12.3 7.7zM269.7 542.1l-12.3-7.7-9.5 7.9 12.3 7.9zM260.2 550.2l-12.3-7.9-9.4 7.9 12.3 8zM250.8 558.2l-12.3-8-9.5 7.9 12.2 8zM294.6 502l-12.6-7.5-9.2 8.1 12.6 7.6zM285.4 510.2l-12.6-7.6-9.2 8.1 12.5 7.6zM276.1 518.3l-12.5-7.6-9.3 8 12.4 7.7zM266.7 526.4l-12.4-7.7-9.4 7.9 12.5 7.8zM257.4 534.4l-12.5-7.8-9.4 7.8 12.4 7.9zM247.9 542.3l-12.4-7.9-9.4 7.8 12.4 8zM282 494.5l-12.6-7.5-9.2 8 12.6 7.6zM272.8 502.6l-12.6-7.6-9.2 8 12.6 7.7zM263.6 510.7l-12.6-7.7-9.3 7.8 12.6 7.9zM254.3 518.7l-12.6-7.9-9.4 7.9 12.6 7.9zM244.9 526.6l-12.6-7.9-9.3 7.7 12.5 8zM278.4 478.9l-12.8-7.6-9 8.1 12.8 7.6zM269.4 487l-12.8-7.6-9.2 7.9 12.8 7.7zM260.2 495l-12.8-7.7-9.2 7.9 12.8 7.8zM251 503l-12.8-7.8-9.2 7.8 12.7 7.8zM241.7 510.8l-12.7-7.8-9.3 7.7 12.6 8zM265.6 471.3l-12.9-7.6-9 8 12.9 7.7zM256.6 479.4l-12.9-7.7-9.1 7.8 12.8 7.8zM247.4 487.3l-12.8-7.8-9.2 7.8 12.8 7.9zM238.2 495.2l-12.8-7.9-9.2 7.7 12.8 8zM261.7 455.7l-13-7.6-9 8 13 7.6zM252.7 463.7l-13-7.6-9 7.8 13 7.8zM243.7 471.7l-13-7.8-9.1 7.8 13 7.8zM234.6 479.5l-13-7.8-9.1 7.7 12.9 7.9zM225.4 487.3l-12.9-7.9-9.2 7.6 12.9 8zM248.7 448.1l-13.2-7.6-8.9 7.8 13.1 7.8zM239.7 456.1l-13.1-7.8-8.9 7.8 13 7.8zM230.7 463.9l-13-7.8-9.1 7.7 13 7.9zM221.6 471.7l-13-7.9-9.1 7.6 13 8z"/>
<path fill="#ff9010" d="M814.6 538.1l-4.5-.5-8.2 13.1 4.2 .3zM507.5 791.5l-5.5-3.9-10.2 10.3 5.5 3.9zM497.3 801.8l-5.5-3.9-10.1 10.3 5.4 4zM522.2 767l-5.8-3.9-10.1 10.3 5.8 3.9zM512.1 777.3l-5.8-3.9-10.2 10.2 5.9 4zM502 787.6l-5.9-4-10.1 10.3 5.8 4zM491.8 797.9l-5.8-4-10.1 10.2 5.8 4.1zM536.5 742.5l-6.1-4-10.1 10.3 6.1 4zM526.4 752.8l-6.1-4-10.1 10.2 6.2 4.1zM516.4 763.1l-6.2-4.1-10 10.2 6.1 4.2zM506.3 773.4l-6.1-4.2-10.1 10.2 6 4.2zM496.1 783.6l-6-4.2-10.1 10.2 6 4.3zM486 793.9l-6-4.3-10.2 10.1 6.1 4.4zM540.4 728.3l-6.5-4.1-10 10.2 6.5 4.1zM530.4 738.5l-6.5-4.1-10 10.2 6.4 4.2zM520.3 748.8l-6.4-4.2-10.1 10.1 6.4 4.3zM510.2 759l-6.4-4.3-10 10.2 6.4 4.3zM500.2 769.2l-6.4-4.3-10.1 10.1 6.4 4.4zM490.1 779.4l-6.4-4.4-10.1 10.1 6.4 4.5zM480 789.6l-6.4-4.5-10.1 10.1 6.3 4.5zM543.9 714l-6.7-4.2-10 10.2 6.7 4.2zM533.9 724.2l-6.7-4.2-10 10.1 6.7 4.3zM523.9 734.4l-6.7-4.3-10 10.1 6.7 4.4zM513.9 744.6l-6.7-4.4-10 10.1 6.6 4.4zM503.8 754.7l-6.6-4.4-10.1 10 6.7 4.6zM493.8 764.9l-6.7-4.6-10 10.1 6.6 4.6zM483.7 775l-6.6-4.6-10.1 10 6.6 4.7zM473.6 785.1l-6.6-4.7-10.1 10.1 6.6 4.7zM547.1 699.6l-7-4.3-10 10.1 7.1 4.4zM537.2 709.8l-7.1-4.4-9.9 10.1 7 4.5zM527.2 720l-7-4.5-10 10.1 7 4.5zM517.2 730.1l-7-4.5-10 10 7 4.6zM507.2 740.2l-7-4.6-10 10 7 4.7zM497.2 750.3l-7-4.7-10 10 6.9 4.7zM487.1 760.3l-6.9-4.7-10.1 10 7 4.8zM477.1 770.4l-7-4.8-10 10 6.9 4.8zM549.9 685.2l-7.3-4.4-9.8 10.1 7.3 4.4zM540.1 695.3l-7.3-4.4-9.9 10 7.2 4.5zM530.1 705.4l-7.2-4.5-10 10 7.3 4.6zM520.2 715.5l-7.3-4.6-9.9 10 7.2 4.7zM510.2 725.6l-7.2-4.7-10 10 7.2 4.7zM500.2 735.6l-7.2-4.7-10 9.9 7.2 4.8zM490.2 745.6l-7.2-4.8-10 9.9 7.2 4.9zM542.6 680.8l-7.6-4.6-9.8 10 7.6 4.7zM532.8 690.9l-7.6-4.7-9.9 10 7.6 4.7zM522.9 700.9l-7.6-4.7-9.9 9.9 7.5 4.8zM512.9 710.9l-7.5-4.8-9.9 10 7.5 4.8zM503 720.9l-7.5-4.8-10 9.9 7.5 4.9zM544.8 666.2l-7.8-4.7-9.8 10 7.8 4.7zM535 676.2l-7.8-4.7-9.8 9.9 7.8 4.8zM525.2 686.2l-7.8-4.8-9.9 9.9 7.8 4.9zM515.3 696.2l-7.8-4.9-9.9 9.9 7.8 4.9zM505.4 706.1l-7.8-4.9-9.9 9.8 7.8 5.1zM537 661.5l-8.1-4.8-9.8 9.9 8.1 4.9zM527.2 671.5l-8.1-4.9-9.8 9.8 8.1 5zM517.4 681.4l-8.1-5-9.8 9.9 8 5zM507.5 691.3l-8-5-9.9 9.8 8 5.1zM538.6 646.7l-8.4-4.9-9.7 9.9 8.4 5zM528.9 656.7l-8.4-5-9.7 9.8 8.3 5.1zM519.1 666.6l-8.3-5.1-9.8 9.8 8.3 5.1zM509.3 676.4l-8.3-5.1-9.8 9.8 8.3 5.2zM530.2 641.8l-8.6-5.1-9.7 9.9 8.6 5.1zM520.5 651.7l-8.6-5.1-9.7 9.7 8.6 5.2zM510.8 661.5l-8.6-5.2-9.8 9.8 8.6 5.2zM521.6 636.7l-8.8-5.2-9.7 9.8 8.8 5.3zM511.9 646.6l-8.8-5.3-9.7 9.7 8.8 5.3zM502.2 656.3l-8.8-5.3-9.7 9.6 8.7 5.5zM522.4 621.7l-9.1-5.3-9.6 9.8 9.1 5.3zM512.8 631.5l-9.1-5.3-9.6 9.7 9 5.4zM503.1 641.3l-9-5.4-9.7 9.6 9 5.5zM513.3 616.4l-9.4-5.4-9.5 9.7 9.3 5.5zM503.7 626.2l-9.3-5.5-9.6 9.6 9.3 5.6zM494.1 635.9l-9.3-5.6-9.7 9.6 9.3 5.6zM503.9 611l-9.5-5.5-9.5 9.6 9.5 5.6zM494.4 620.7l-9.5-5.6-9.6 9.5 9.5 5.7zM503.8 595.8l-9.7-5.6-9.5 9.6 9.8 5.7zM494.4 605.5l-9.8-5.7-9.5 9.5 9.8 5.8zM484.9 615.1l-9.8-5.8-9.5 9.5 9.7 5.8zM494.1 590.2l-10-5.8-9.4 9.6 9.9 5.8zM484.6 599.8l-9.9-5.8-9.5 9.4 9.9 5.9zM484.1 584.4l-10.2-5.8-9.4 9.4 10.2 6zM474.7 594l-10.2-6-9.5 9.4 10.2 6zM473.9 578.6l-10.4-6-9.4 9.4 10.4 6zM464.5 588l-10.4-6-9.4 9.3 10.3 6.1zM472.8 563.1l-10.7-6-9.2 9.4 10.6 6.1zM463.5 572.6l-10.6-6.1-9.3 9.3 10.5 6.2zM462.1 557.1l-10.8-6.1-9.2 9.3 10.8 6.2zM452.9 566.5l-10.8-6.2-9.3 9.2 10.8 6.3zM451.3 551l-10.9-6.3-9.2 9.3 10.9 6.3zM442.1 560.3l-10.9-6.3-9.3 9.1 10.9 6.4zM449.5 535.4l-11.2-6.3-9.1 9.3 11.2 6.3zM440.4 544.7l-11.2-6.3-9.2 9.1 11.2 6.5zM438.3 529.1l-11.4-6.4-9 9.2 11.3 6.5zM429.2 538.4l-11.3-6.5-9.2 9.1 11.3 6.5zM426.9 522.7l-11.5-6.5-9 9.1 11.5 6.6zM417.9 531.9l-11.5-6.6-9.1 9.1 11.4 6.6zM415.4 516.2l-11.7-6.6-9 9.1 11.7 6.6zM403.7 509.6l-11.8-6.6-9 8.9 11.8 6.8zM400.7 493.8l-12-6.6-8.8 9 12 6.8zM391.9 503l-12-6.8-8.9 8.9 11.9 6.8zM388.7 487.2l-12.1-6.8-8.8 8.9 12.1 6.9zM376.6 480.4l-12.3-6.9-8.8 8.9 12.3 6.9zM364.3 473.5l-12.4-6.9-8.8 8.8 12.4 7zM360.5 457.7l-12.6-7-8.6 8.9 12.6 7zM351.9 466.6l-12.6-7-8.7 8.7 12.5 7.1zM347.9 450.7l-12.7-7-8.6 8.8 12.7 7.1zM335.2 443.7l-12.8-7-8.6 8.7 12.8 7.1zM322.4 436.7l-13-7.2-8.5 8.7 12.9 7.2zM317.7 420.7l-13-7.1-8.3 8.7 13 7.2zM304.7 413.6l-13.2-7.2-8.3 8.7 13.2 7.2zM291.5 406.4l-13.2-7.2-8.3 8.5 13.2 7.4z"/>
<path fill="#ffb018" d="M776.9 587.2l-3.1 .1-10.1 11.7 3-.2zM543.3 835.5l-.9-.7-10.6 11.1 .8 .8zM801.9 550.7l-3.9-.5-8.6 12.6 3.6 .4zM648.6 723.3l-1.8-.4-10.5 11.1 1.7 .4zM638 734.4l-1.7-.4-10.6 11.1 1.7 .5zM812.9 523.5l-4.2-.8-6.8 13.7 4 .7zM678.3 689.4l-2.2-.5-10.5 11.1 2.2 .6zM696.8 666.6l-2.6-.7-10.3 11.1 2.6 .7zM829.8 434.7l-4.1-.6-3 14.8 4.2 .7zM704.5 654.7l-3-1-10.2 11.2 2.9 1zM711.7 642.5l-3.3-1.1-10.1 11.2 3.2 1.1zM718.4 630.1l-3.6-1.3-9.9 11.3 3.5 1.3zM724.5 617.5l-3.9-1.6-9.7 11.4 3.9 1.5zM725.8 602.8l-4.5-1.9-9.4 11.5 4.5 1.8zM725.6 587.2l-5.2-2.2-9 11.7 5.1 2.2zM720.4 585l-5.4-2.3-8.9 11.6 5.3 2.4zM717.9 568.4l-6-2.7-8.5 11.8 5.9 2.6zM711.9 565.7l-6.2-2.8-8.5 11.7 6.2 2.9zM705.7 562.9l-6.5-3-8.4 11.7 6.4 3zM700.4 544.8l-7-3.2-8 11.9 7 3.3zM693.4 541.6l-7.3-3.4-7.9 11.8 7.2 3.5zM686.1 538.2l-7.6-3.5-7.8 11.8 7.5 3.5zM678.1 519l-8-3.8-7.4 12 8 3.8zM670.1 515.2l-8.4-3.9-7.3 11.9 8.3 4zM661.7 511.3l-8.5-4-7.3 11.8 8.5 4.1zM660.1 495.2l-8.8-4.1-6.9 12 8.8 4.2zM651.3 491.1l-9.1-4.3-6.8 12 9 4.3zM648.6 474.6l-9.3-4.3-6.3 12.2 9.2 4.3zM642.2 486.8l-9.2-4.3-6.8 11.9 9.2 4.4zM645.2 457.9l-9.5-4.4-5.9 12.4 9.5 4.4zM639.3 470.3l-9.5-4.4-6.3 12.1 9.5 4.5zM641 441l-9.7-4.4-5.4 12.4 9.8 4.5zM635.7 453.5l-9.8-4.5-5.8 12.3 9.7 4.6zM629.8 465.9l-9.7-4.6-6.3 12.1 9.7 4.6zM625.9 449l-9.9-4.6-5.8 12.3 9.9 4.6z"/>
<path fill="#ff9014" d="M864.2 220.9l-3.1 1.2-1.3 15.3 3.1-1.2zM862.9 236.2l-3.1 1.2-1.3 15.3 3.2-1.1zM861.7 251.6l-3.2 1.1-1.4 15.2 3.3-1zM860.4 266.9l-3.3 1-1.3 15.3 3.2-.9zM859 282.3l-3.2 .9-1.5 15.2 3.3-.8zM857.6 297.6l-3.3 .8-1.4 15.3 3.3-.8zM836.3 465.6l-4.4-.3-3.6 14.9 4.5 .4zM832.8 480.6l-4.5-.4-4.3 14.7 4.6 .5zM540.9 797l-4.1-2.8-10.2 10.7 4 2.8zM530.6 807.7l-4-2.8-10.3 10.6 4.1 2.9zM520.4 818.4l-4.1-2.9-10.2 10.6 4 2.9zM557.3 773l-4.4-2.9-10.2 10.6 4.4 2.9zM547.1 783.6l-4.4-2.9-10.2 10.6 4.3 2.9zM536.8 794.2l-4.3-2.9-10.2 10.5 4.3 3.1zM526.6 804.9l-4.3-3.1-10.3 10.6 4.3 3.1zM516.3 815.5l-4.3-3.1-10.2 10.5 4.3 3.2zM573.3 748.9l-4.8-2.9-10.2 10.5 4.8 3zM563.1 759.5l-4.8-3-10.1 10.6 4.7 3zM552.9 770.1l-4.7-3-10.2 10.5 4.7 3.1zM542.7 780.7l-4.7-3.1-10.2 10.5 4.7 3.2zM532.5 791.3l-4.7-3.2-10.2 10.5 4.7 3.2zM522.3 801.8l-4.7-3.2-10.2 10.5 4.6 3.3zM512 812.4l-4.6-3.3-10.2 10.4 4.6 3.4zM578.6 735.4l-5-3.1-10.2 10.5 5.1 3.2zM568.5 746l-5.1-3.2-10.1 10.5 5 3.2zM558.3 756.5l-5-3.2-10.1 10.5 5 3.3zM548.2 767.1l-5-3.3-10.2 10.4 5 3.4zM538 777.6l-5-3.4-10.1 10.5 4.9 3.4zM527.8 788.1l-4.9-3.4-10.2 10.4 4.9 3.5zM517.6 798.6l-4.9-3.5-10.2 10.5 4.9 3.5zM507.4 809.1l-4.9-3.5-10.2 10.4 4.9 3.5zM583.6 721.8l-5.4-3.2-10 10.4 5.4 3.3zM573.6 732.3l-5.4-3.3-10.1 10.5 5.3 3.3zM563.4 742.8l-5.3-3.3-10.1 10.4 5.3 3.4zM553.3 753.3l-5.3-3.4-10.1 10.4 5.3 3.5zM543.2 763.8l-5.3-3.5-10.1 10.4 5.2 3.5zM533 774.2l-5.2-3.5-10.2 10.4 5.3 3.6zM522.9 784.7l-5.3-3.6-10.1 10.4 5.2 3.6zM512.7 795.1l-5.2-3.6-10.2 10.3 5.2 3.8zM502.5 805.6l-5.2-3.8-10.2 10.4 5.2 3.8zM588.3 708.1l-5.7-3.4-10 10.4 5.6 3.5zM578.2 718.6l-5.6-3.5-10.1 10.4 5.7 3.5zM568.2 729l-5.7-3.5-10 10.4 5.6 3.6zM558.1 739.5l-5.6-3.6-10.1 10.4 5.6 3.6zM548 749.9l-5.6-3.6-10.1 10.4 5.6 3.6zM537.9 760.3l-5.6-3.6-10.1 10.3 5.6 3.7zM527.8 770.7l-5.6-3.7-10.1 10.3 5.5 3.8zM517.6 781.1l-5.5-3.8-10.1 10.3 5.5 3.9zM582.6 704.7l-6-3.6-10 10.4 6 3.6zM572.6 715.1l-6-3.6-10 10.4 5.9 3.6zM562.5 725.5l-5.9-3.6-10 10.3 5.9 3.7zM552.5 735.9l-5.9-3.7-10.1 10.3 5.9 3.8zM542.4 746.3l-5.9-3.8-10.1 10.3 5.9 3.9zM532.3 756.7l-5.9-3.9-10 10.3 5.8 3.9zM586.5 690.7l-6.2-3.6-10 10.3 6.3 3.7zM576.6 701.1l-6.3-3.7-9.9 10.3 6.2 3.8zM566.6 711.5l-6.2-3.8-10 10.3 6.2 3.9zM556.6 721.9l-6.2-3.9-10 10.3 6.2 3.9zM546.6 732.2l-6.2-3.9-10 10.2 6.1 4zM590.1 676.7l-6.5-3.8-9.9 10.3 6.6 3.9zM580.3 687.1l-6.6-3.9-9.9 10.3 6.5 3.9zM570.3 697.4l-6.5-3.9-9.9 10.3 6.5 3.9zM560.4 707.7l-6.5-3.9-10 10.2 6.5 4zM550.4 718l-6.5-4-10 10.2 6.5 4.1zM583.6 672.9l-6.9-4-9.8 10.3 6.8 4zM573.7 683.2l-6.8-4-9.9 10.2 6.8 4.1zM563.8 693.5l-6.8-4.1-9.9 10.2 6.8 4.2zM553.9 703.8l-6.8-4.2-9.9 10.2 6.7 4.2zM576.7 668.9l-7.1-4.1-9.8 10.2 7.1 4.2zM566.9 679.2l-7.1-4.2-9.9 10.2 7.1 4.2zM557 689.4l-7.1-4.2-9.8 10.1 7 4.3zM579.4 654.5l-7.4-4.2-9.8 10.2 7.4 4.3zM569.6 664.8l-7.4-4.3-9.8 10.2 7.4 4.3zM559.8 675l-7.4-4.3-9.8 10.1 7.3 4.4zM572 650.3l-7.7-4.4-9.7 10.2 7.6 4.4zM562.2 660.5l-7.6-4.4-9.8 10.1 7.6 4.5zM552.4 670.7l-7.6-4.5-9.8 10 7.6 4.6zM574 635.7l-8-4.5-9.6 10.2 7.9 4.5zM564.3 645.9l-7.9-4.5-9.7 10.1 7.9 4.6zM554.6 656.1l-7.9-4.6-9.7 10 7.8 4.7zM566 631.2l-8.2-4.6-9.5 10.1 8.1 4.7zM556.4 641.4l-8.1-4.7-9.7 10 8.1 4.8zM546.7 651.5l-8.1-4.8-9.7 10 8.1 4.8zM557.8 626.6l-8.4-4.8-9.5 10 8.4 4.9zM548.3 636.7l-8.4-4.9-9.7 10 8.4 4.9zM558.9 611.7l-8.7-4.8-9.4 10 8.6 4.9zM549.4 621.8l-8.6-4.9-9.6 9.9 8.7 5zM539.9 631.8l-8.7-5-9.6 9.9 8.6 5.1zM550.2 606.9l-8.9-5-9.4 9.9 8.9 5.1zM540.8 616.9l-8.9-5.1-9.5 9.9 8.8 5.1zM531.2 626.8l-8.8-5.1-9.6 9.8 8.8 5.2zM541.3 601.9l-9.1-5.2-9.4 9.9 9.1 5.2zM531.9 611.8l-9.1-5.2-9.5 9.8 9.1 5.3zM532.2 596.7l-9.4-5.3-9.4 9.9 9.4 5.3zM522.8 606.6l-9.4-5.3-9.5 9.7 9.4 5.4zM532.1 581.5l-9.6-5.3-9.3 9.8 9.6 5.4zM522.8 591.4l-9.6-5.4-9.4 9.8 9.6 5.5zM513.4 601.3l-9.6-5.5-9.4 9.7 9.5 5.5zM522.5 576.2l-9.9-5.5-9.2 9.8 9.8 5.5zM513.2 586l-9.8-5.5-9.3 9.7 9.7 5.6zM512.6 570.7l-10-5.6-9.2 9.7 10 5.7zM503.4 580.5l-10-5.7-9.3 9.6 10 5.8zM502.6 565.1l-10.2-5.7-9.2 9.6 10.2 5.8zM493.4 574.8l-10.2-5.8-9.3 9.6 10.2 5.8zM501.4 549.6l-10.4-5.7-9.1 9.6 10.5 5.9zM492.4 559.4l-10.5-5.9-9.1 9.6 10.4 5.9zM483.2 569l-10.4-5.9-9.3 9.5 10.4 6zM491 543.9l-10.7-5.9-9 9.6 10.6 5.9zM481.9 553.5l-10.6-5.9-9.2 9.5 10.7 6zM480.3 538l-10.8-6-9 9.5 10.8 6.1zM471.3 547.6l-10.8-6.1-9.2 9.5 10.8 6.1zM469.5 532l-11.1-6.1-8.9 9.5 11 6.1zM460.5 541.5l-11-6.1-9.1 9.3 10.9 6.3zM458.4 525.9l-11.2-6.2-8.9 9.4 11.2 6.3zM456 510.1l-11.4-6.2-8.7 9.5 11.3 6.3zM447.2 519.7l-11.3-6.3-9 9.3 11.4 6.4zM540.5 337.8l-11.9-5.2-3.7 12.3 11.8 5.3zM444.6 503.9l-11.5-6.3-8.8 9.3 11.6 6.5zM435.9 513.4l-11.6-6.5-8.9 9.3 11.5 6.5zM433.1 497.6l-11.8-6.5-8.7 9.3 11.7 6.5zM424.3 506.9l-11.7-6.5-8.9 9.2 11.7 6.6zM421.3 491.1l-11.9-6.5-8.7 9.2 11.9 6.6zM412.6 500.4l-11.9-6.6-8.8 9.2 11.8 6.6zM418 475.2l-12.1-6.5-8.5 9.3 12 6.6zM409.4 484.6l-12-6.6-8.7 9.2 12 6.6zM405.9 468.7l-12.2-6.7-8.5 9.3 12.2 6.7zM397.4 478l-12.2-6.7-8.6 9.1 12.1 6.8zM393.7 462l-12.3-6.7-8.5 9.2 12.3 6.8zM385.2 471.3l-12.3-6.8-8.6 9 12.3 6.9zM463.6 317l-12.7-5.8-4.1 11.7 12.7 5.9zM381.4 455.3l-12.5-6.7-8.4 9.1 12.4 6.8zM372.9 464.5l-12.4-6.8-8.6 8.9 12.4 6.9zM450.9 311.2l-12.8-5.9-4.1 11.7 12.8 5.9zM368.9 448.6l-12.6-6.9-8.4 9 12.6 7zM364.5 432.5l-12.8-6.8-8.2 9.1 12.8 6.9zM356.3 441.7l-12.8-6.9-8.3 8.9 12.7 7zM351.7 425.7l-12.8-7-8.2 9.1 12.8 7zM343.5 434.8l-12.8-7-8.3 8.9 12.8 7zM338.9 418.7l-13-7-8.2 9 13 7.1zM330.7 427.8l-13-7.1-8.3 8.8 13 7.2zM394.9 298.7l-13.3-6.2-4.4 11.2 13.2 6.3zM333.8 402.6l-13.1-7-7.9 9.1 13.1 7zM325.9 411.7l-13.1-7-8.1 8.9 13 7.1zM381.6 292.5l-13.4-6.2-4.4 11.1 13.4 6.3zM320.7 395.6l-13.3-7-7.8 9 13.2 7.1zM312.8 404.7l-13.2-7.1-8.1 8.8 13.2 7.2zM368.2 286.3l-13.4-6.4-4.4 11.1 13.4 6.4zM307.4 388.6l-13.3-7.1-7.8 8.9 13.3 7.2zM299.6 397.6l-13.3-7.2-8 8.8 13.2 7.2z"/>
<path fill="#ff8c14" d="M856.2 312.9l-3.3 .8-1.6 15.2 3.5-.6zM854.8 328.3l-3.5 .6-1.6 15.3 3.5-.6zM841.8 435.3l-4 0-2.7 15 4.1 .2zM839.2 450.5l-4.1-.2-3.2 15 4.4 .3z"/>
<path fill="#fc8c14" d="M853.2 343.6l-3.5 .6-1.6 15.2 3.5-.5zM851.6 358.9l-3.5 .5-1.8 15.2 3.7-.4zM850 374.2l-3.7 .4-1.9 15.2 3.8-.3zM848.2 389.5l-3.8 .3-2 15.2 3.8-.2zM846.2 404.8l-3.8 .2-2.2 15.1 4 0zM844.2 420.1l-4 0-2.4 15.2 4 0zM398.9 287.3l-13.2-6.1-4.1 11.3 13.3 6.2z"/>
<path fill="#ff9814" d="M823.5 509.9l-4.5-.5-6.1 14.1 4.4 .5zM861.1 222.1l-3.2 1-1.3 15.2 3.2-.9zM859.8 237.4l-3.2 .9-1.4 15.1 3.3-.7zM858.5 252.7l-3.3 .7-1.3 15.2 3.2-.7zM857.1 267.9l-3.2 .7-1.5 15.2 3.4-.6zM855.8 283.2l-3.4 .6-1.4 15.2 3.3-.6zM854.3 298.4l-3.3 .6-1.5 15.1 3.4-.4zM842.4 405l-3.8 0-2.3 15 3.9 .1zM840.2 420.1l-3.9-.1-2.5 15.1 4 .2zM837.8 435.3l-4-.2-2.8 14.9 4.1 .3zM835.1 450.3l-4.1-.3-3.2 14.9 4.1 .4zM550.2 821.6l-1.8-1.3-10.5 11 1.8 1.4zM539.7 832.7l-1.8-1.4-10.5 10.9 1.8 1.5zM579.8 787.4l-2.3-1.4-10.4 10.9 2.2 1.4zM569.3 798.3l-2.2-1.4-10.5 10.9 2.2 1.5zM558.8 809.3l-2.2-1.5-10.4 10.9 2.2 1.6zM548.4 820.3l-2.2-1.6-10.5 11 2.2 1.6zM537.9 831.3l-2.2-1.6-10.4 10.9 2.1 1.6zM608.7 753.1l-2.7-1.5-10.4 10.9 2.7 1.6zM598.3 764.1l-2.7-1.6-10.3 10.9 2.6 1.6zM587.9 775l-2.6-1.6-10.4 10.9 2.6 1.7zM577.5 786l-2.6-1.7-10.4 10.9 2.6 1.7zM567.1 796.9l-2.6-1.7-10.4 10.9 2.5 1.7zM556.6 807.8l-2.5-1.7-10.4 10.9 2.5 1.7zM626.7 729.8l-3.1-1.6-10.3 10.8 3 1.7zM616.3 740.7l-3-1.7-10.3 10.9 3 1.7zM606 751.6l-3-1.7-10.4 10.9 3 1.7zM595.6 762.5l-3-1.7-10.3 10.8 3 1.8zM585.3 773.4l-3-1.8-10.3 10.9 2.9 1.8zM633.8 717.3l-3.4-1.8-10.2 10.8 3.4 1.9zM623.6 728.2l-3.4-1.9-10.3 10.9 3.4 1.8zM613.3 739l-3.4-1.8-10.3 10.8 3.4 1.9zM603 749.9l-3.4-1.9-10.2 10.8 3.2 2zM640.6 704.6l-3.7-1.9-10.2 10.8 3.7 2zM630.4 715.5l-3.7-2-10.2 10.8 3.7 2zM620.2 726.3l-3.7-2-10.2 10.8 3.6 2.1zM609.9 737.2l-3.6-2.1-10.3 10.8 3.6 2.1zM647 691.8l-4.1-2.1-10.1 10.8 4.1 2.2zM636.9 702.7l-4.1-2.2-10.1 10.8 4 2.2zM626.7 713.5l-4-2.2-10.2 10.8 4 2.2zM653 678.8l-4.4-2.2-10.1 10.8 4.4 2.3zM642.9 689.7l-4.4-2.3-10 10.8 4.3 2.3zM632.8 700.5l-4.3-2.3-10.1 10.7 4.3 2.4zM658.5 665.7l-4.7-2.4-9.9 10.9 4.7 2.4zM648.6 676.6l-4.7-2.4-10 10.7 4.6 2.5zM638.5 687.4l-4.6-2.5-10.1 10.8 4.7 2.5zM653.8 663.3l-5-2.5-9.9 10.7 5 2.7zM643.9 674.2l-5-2.7-10 10.8 5 2.6zM633.9 684.9l-5-2.6-10 10.7 4.9 2.7zM658.6 649.9l-5.3-2.7-9.8 10.8 5.3 2.8zM648.8 660.8l-5.3-2.8-9.9 10.7 5.3 2.8zM638.9 671.5l-5.3-2.8-9.9 10.7 5.2 2.9zM653.3 647.2l-5.7-2.9-9.7 10.8 5.6 2.9zM643.5 658l-5.6-2.9-9.8 10.7 5.5 2.9zM657.3 633.5l-5.9-3.1-9.7 10.8 5.9 3.1zM647.6 644.3l-5.9-3.1-9.7 10.8 5.9 3.1zM637.9 655.1l-5.9-3.1-9.8 10.6 5.9 3.2zM651.4 630.4l-6.2-3.2-9.6 10.8 6.1 3.2zM641.7 641.2l-6.1-3.2-9.7 10.7 6.1 3.3zM645.2 627.2l-6.5-3.3-9.6 10.7 6.5 3.4zM635.6 638l-6.5-3.4-9.6 10.6 6.4 3.5zM648.1 613.1l-6.8-3.5-9.4 10.8 6.8 3.5zM638.7 623.9l-6.8-3.5-9.5 10.6 6.7 3.6zM629.1 634.6l-6.7-3.6-9.6 10.6 6.7 3.6zM641.3 609.6l-7-3.6-9.4 10.7 7 3.7zM631.9 620.4l-7-3.7-9.4 10.6 6.9 3.7zM634.3 606l-7.3-3.8-9.3 10.6 7.2 3.9zM624.9 616.7l-7.2-3.9-9.5 10.6 7.3 3.9zM627 602.2l-7.6-4-9.2 10.6 7.5 4zM617.7 612.8l-7.5-4-9.4 10.5 7.4 4.1zM628.6 587.5l-7.9-4.1-9.1 10.7 7.8 4.1zM619.4 598.2l-7.8-4.1-9.2 10.6 7.8 4.1zM620.7 583.4l-8-4.2-9.1 10.6 8 4.3zM611.6 594.1l-8-4.3-9.2 10.5 8 4.4zM612.7 579.2l-8.4-4.3-9 10.5 8.3 4.4zM603.6 589.8l-8.3-4.4-9.2 10.5 8.3 4.4zM604.3 574.9l-8.5-4.5-9 10.5 8.5 4.5zM595.3 585.4l-8.5-4.5-9.2 10.4 8.5 4.6zM595.8 570.4l-8.8-4.7-9 10.5 8.8 4.7zM586.8 580.9l-8.8-4.7-9.1 10.4 8.7 4.7zM595.7 555.1l-9-4.7-8.8 10.6 9.1 4.7zM587 565.7l-9.1-4.7-8.9 10.4 9 4.8zM586.7 550.4l-9.3-4.8-8.7 10.5 9.2 4.9zM577.9 561l-9.2-4.9-8.9 10.3 9.2 5zM577.4 545.6l-9.5-5-8.7 10.5 9.5 5zM568.7 556.1l-9.5-5-8.9 10.2 9.5 5.1zM567.9 540.6l-9.8-5.1-8.6 10.4 9.7 5.2zM559.2 551.1l-9.7-5.2-8.9 10.2 9.7 5.2zM558.1 535.5l-9.9-5.2-8.6 10.3 9.9 5.3zM549.5 545.9l-9.9-5.3-8.9 10.2 9.9 5.3zM548.2 530.3l-10.2-5.4-8.6 10.3 10.2 5.4zM546.4 514.5l-10.4-5.4-8.3 10.4 10.3 5.4zM538 524.9l-10.3-5.4-8.6 10.2 10.3 5.5zM536 509.1l-10.5-5.5-8.4 10.3 10.6 5.6zM527.7 519.5l-10.6-5.6-8.5 10.2 10.5 5.6zM525.5 503.6l-10.8-5.6-8.3 10.2 10.7 5.7zM517.1 513.9l-10.7-5.7-8.5 10.1 10.7 5.8zM514.7 498l-11-5.7-8.2 10.2 10.9 5.7zM506.4 508.2l-10.9-5.7-8.5 10 10.9 5.8zM503.7 492.3l-11.1-5.9-8.2 10.2 11.1 5.9zM500.6 476.1l-11.4-5.9-7.9 10.3 11.3 5.9zM492.6 486.4l-11.3-5.9-8.2 10.1 11.3 6zM489.2 470.2l-11.5-5.9-7.9 10.2 11.5 6zM481.3 480.5l-11.5-6-8.2 10 11.5 6.1zM536.7 350.2l-11.8-5.3-4.1 12.1 11.8 5.4zM477.7 464.3l-11.6-6.1-7.9 10.2 11.6 6.1zM469.8 474.5l-11.6-6.1-8.2 9.9 11.6 6.2zM466.1 458.2l-11.9-6.1-7.8 10.1 11.8 6.2zM458.2 468.4l-11.8-6.2-8.2 9.8 11.8 6.3zM461.8 441.8l-12-6.1-7.6 10.2 12 6.2zM454.2 452.1l-12-6.2-7.8 9.9 12 6.4zM496.7 346l-12.3-5.7-4.4 11.8 12.2 5.7zM449.8 435.7l-12.2-6.3-7.5 10.1 12.1 6.4zM442.2 445.9l-12.1-6.4-7.8 10 12.1 6.3zM484.4 340.3l-12.4-5.7-4.4 11.7 12.4 5.8zM437.6 429.4l-12.3-6.3-7.5 10 12.3 6.4zM430.1 439.5l-12.3-6.4-7.8 9.9 12.3 6.5zM472 334.6l-12.5-5.8-4.5 11.6 12.6 5.9zM467.6 346.3l-12.6-5.9-4.8 11.5 12.5 6zM432.5 412.8l-12.5-6.3-7.1 10.2 12.4 6.4zM425.3 423.1l-12.4-6.4-7.5 10 12.4 6.4zM417.8 433.1l-12.4-6.4-7.8 9.7 12.4 6.6zM455 340.4l-12.7-5.9-4.8 11.4 12.7 6zM420 406.5l-12.6-6.4-7.1 10.1 12.6 6.5zM412.9 416.7l-12.6-6.5-7.4 9.9 12.5 6.6zM442.3 334.5l-12.8-6-4.8 11.3 12.8 6.1zM407.4 400.1l-12.7-6.5-7.1 10 12.7 6.6zM400.3 410.2l-12.7-6.6-7.4 9.9 12.7 6.6zM429.5 328.5l-12.9-6.1-4.8 11.2 12.9 6.2zM424.7 339.8l-12.9-6.2-5.2 11.1 12.9 6.3zM401.5 383.3l-12.9-6.5-6.7 10.2 12.8 6.6zM394.7 393.6l-12.8-6.6-7.1 10 12.8 6.6zM387.6 403.6l-12.8-6.6-7.4 9.8 12.8 6.7zM416.6 322.4l-13-6.2-4.8 11.2 13 6.2zM411.8 333.6l-13-6.2-5.2 11 13 6.3zM406.6 344.7l-13-6.3-5.6 10.9 13 6.3zM395 366.3l-13-6.4-6.4 10.4 13 6.5zM388.6 376.8l-13-6.5-6.7 10.1 13 6.6zM381.9 387l-13-6.6-7.1 9.9 13 6.7zM374.8 397l-13-6.7-7.3 9.7 12.9 6.8zM398.8 327.4l-13.2-6.3-5.2 11 13.2 6.3zM393.6 338.4l-13.2-6.3-5.5 10.7 13.1 6.5zM388 349.3l-13.1-6.5-6 10.5 13.1 6.6zM382 359.9l-13.1-6.6-6.3 10.3 13 6.7zM375.6 370.3l-13-6.7-6.8 10.1 13.1 6.7zM368.9 380.4l-13.1-6.7-7 9.9 13 6.7zM385.6 321.1l-13.2-6.3-5.2 10.8 13.2 6.5zM380.4 332.1l-13.2-6.5-5.6 10.7 13.3 6.5zM374.9 342.8l-13.3-6.5-5.9 10.4 13.2 6.6zM368.9 353.3l-13.2-6.6-6.3 10.3 13.2 6.6zM362.6 363.6l-13.2-6.6-6.7 10 13.1 6.7zM355.8 373.7l-13.1-6.7-7.1 9.8 13.2 6.8zM372.4 314.8l-13.4-6.5-5.1 10.8 13.3 6.5zM367.2 325.6l-13.3-6.5-5.6 10.6 13.3 6.6zM361.6 336.3l-13.3-6.6-5.9 10.4 13.3 6.6zM355.7 346.7l-13.3-6.6-6.3 10.2 13.3 6.7zM349.4 357l-13.3-6.7-6.7 9.9 13.3 6.8zM353.9 319.1l-13.5-6.5-5.5 10.5 13.4 6.6zM348.3 329.7l-13.4-6.6-5.9 10.3 13.4 6.7zM342.4 340.1l-13.4-6.7-6.3 10.1 13.4 6.8zM336.1 350.3l-13.4-6.8-6.7 9.8 13.4 6.9z"/>
<path fill="#ffa818" d="M810.1 537.6l-4.2-.5-7.9 13.1 3.9 .5zM606.2 767.9l-1.6-.6-10.5 11.1 1.4 .7zM595.5 779.1l-1.4-.7-10.6 11.1 1.4 .7zM584.9 790.2l-1.4-.7-10.6 11.1 1.4 .8zM819 509.4l-4.3-.7-6 14 4.2 .8zM646.8 722.9l-2.1-.7-10.4 11.1 2 .7zM636.3 734l-2-.7-10.5 11.1 1.9 .7zM827.8 464.9l-4.2-.5-3.8 14.7 4.3 .6zM665.6 700l-2.4-.8-10.4 11.1 2.4 .8zM837 389.7l-4-.3-2.2 14.9 4 .4zM834.8 404.7l-4-.4-2.4 14.9 4 .5zM683.9 677l-2.8-1-10.3 11.1 2.8 1zM837 359.4l-3.9-.3-2 14.9 4 .4zM835.1 374.4l-4-.4-2.1 14.9 4 .5zM691.3 664.9l-3.1-1.2-10.2 11.1 3.1 1.2zM833.1 359.1l-4.2-.6-2 14.9 4.2 .6zM698.3 652.6l-3.4-1.4-10.1 11.1 3.4 1.4zM828.9 358.5l-4.4-.7-2.1 14.8 4.5 .8zM704.9 640.1l-3.8-1.6-10 11.2 3.8 1.5zM710.9 627.3l-4.1-1.7-9.8 11.2 4.1 1.7zM817.8 371.7l-4.9-1.1-2.3 14.6 4.9 1.2zM706.8 625.6l-4.5-1.9-9.6 11.2 4.3 1.9zM711.9 612.4l-4.7-2.1-9.5 11.3 4.6 2.1zM805.5 383.9l-5.4-1.5-2.5 14.5 5.4 1.5zM707.2 610.3l-5-2.2-9.5 11.2 5 2.3zM711.4 596.7l-5.3-2.4-9.2 11.4 5.3 2.4zM706.1 594.3l-5.6-2.6-9.2 11.4 5.6 2.6zM700.5 591.7l-5.9-2.7-9.1 11.3 5.8 2.8zM697.2 574.6l-6.4-3-8.7 11.5 6.4 3zM690.8 571.6l-6.7-3.2-8.7 11.4 6.7 3.3zM684.1 568.4l-7-3.3-8.6 11.4 6.9 3.3zM739.3 407.1l-7.7-2.9-3.3 13.7 7.6 3.1zM678.2 550l-7.5-3.5-8.2 11.5 7.4 3.6zM670.7 546.5l-7.8-3.8-8.2 11.5 7.8 3.8zM662.9 542.7l-8-3.8-8.1 11.4 7.9 3.9zM712.2 411.5l-8.4-3.4-3.8 13.5 8.4 3.5zM654.9 538.9l-8.2-4-8.1 11.4 8.2 4zM654.4 523.2l-8.5-4.1-7.7 11.6 8.5 4.2zM645.9 519.1l-8.7-4.2-7.7 11.5 8.7 4.3zM682.5 414.3l-9-3.9-4.2 13.2 9.1 3.9zM637.2 514.9l-9-4.3-7.6 11.4 8.9 4.4zM673.5 410.4l-9.3-4-4.2 13.1 9.3 4.1zM628.2 510.6l-9.2-4.5-7.6 11.4 9.2 4.5zM626.2 494.4l-9.5-4.6-7.1 11.7 9.4 4.6zM650.5 415.4l-9.7-4.3-4.5 12.8 9.7 4.3zM616.7 489.8l-9.6-4.6-7.2 11.5 9.7 4.8zM640.8 411.1l-10-4.4-4.5 12.7 10 4.5zM607.1 485.2l-9.9-4.8-7.1 11.5 9.8 4.8zM630.8 406.7l-10.1-4.5-4.5 12.7 10.1 4.5zM626.3 419.4l-10.1-4.5-5 12.5 10.2 4.6zM603.9 468.6l-10.1-4.8-6.7 11.7 10.1 4.9zM597.2 480.4l-10.1-4.9-7.1 11.4 10.1 5zM616.2 414.9l-10.4-4.7-4.9 12.4 10.3 4.8zM593.8 463.8l-10.3-5-6.7 11.7 10.3 5zM605.8 410.2l-10.5-4.8-5 12.4 10.6 4.8zM600.9 422.6l-10.6-4.8-5.3 12.2 10.5 4.9zM595.5 434.9l-10.5-4.9-5.8 12 10.5 5zM589.7 447l-10.5-5-6.2 11.8 10.5 5zM583.5 458.8l-10.5-5-6.6 11.5 10.4 5.2zM590.3 417.8l-10.7-5-5.3 12.1 10.7 5.1zM585 430l-10.7-5.1-5.8 12 10.7 5.1zM579.2 442l-10.7-5.1-6.2 11.7 10.7 5.2zM573 453.8l-10.7-5.2-6.6 11.5 10.7 5.2zM579.6 412.8l-10.9-5.1-5.3 12.1 10.9 5.1zM574.3 424.9l-10.9-5.1-5.8 11.9 10.9 5.2zM568.5 436.9l-10.9-5.2-6.2 11.6 10.9 5.3zM563.4 419.8l-11.1-5.2-5.8 11.8 11.1 5.3z"/>
<path fill="#ffa014" d="M542.4 834.8l-1.2-.9-10.6 11 1.2 1zM828.3 480.2l-4.2-.5-4.4 14.6 4.3 .6zM604.6 767.3l-1.8-.8-10.5 11 1.8 .9zM594.1 778.4l-1.8-.9-10.5 11.1 1.7 .9zM583.5 789.5l-1.7-.9-10.5 11 1.6 1zM572.9 800.6l-1.6-1-10.5 11 1.6 1.1zM634.3 733.3l-2.3-1-10.4 11.1 2.2 1zM623.8 744.4l-2.2-1-10.4 11 2.1 1zM613.3 755.4l-2.1-1-10.5 11 2.1 1.1zM652.8 710.3l-2.6-1.1-10.3 11 2.5 1.1zM642.4 721.3l-2.5-1.1-10.4 11 2.5 1.1zM632 732.3l-2.5-1.1-10.4 10.9 2.5 1.3zM660.5 698.1l-2.9-1.2-10.3 11 2.9 1.3zM650.2 709.2l-2.9-1.3-10.3 10.9 2.9 1.4zM678 674.8l-3.3-1.4-10.2 11 3.3 1.5zM667.8 685.9l-3.3-1.5-10.2 11 3.3 1.5zM684.8 662.3l-3.7-1.5-10 11 3.6 1.6zM674.7 673.4l-3.6-1.6-10.1 11 3.5 1.6zM681.1 660.8l-3.9-1.8-10 11 3.9 1.8zM687.1 647.9l-4.2-1.9-9.9 11 4.2 2zM692.7 634.9l-4.7-2.1-9.7 11 4.6 2.2zM682.9 646l-4.6-2.2-9.9 11 4.6 2.2zM688 632.8l-4.8-2.3-9.7 11 4.8 2.3zM692.7 619.3l-5.2-2.4-9.5 11.1 5.2 2.5zM683.2 630.5l-5.2-2.5-9.7 11 5.2 2.5zM687.5 616.9l-5.5-2.6-9.4 11.1 5.4 2.6zM682 614.3l-5.7-2.8-9.4 11 5.7 2.9zM685.5 600.3l-6-2.9-9.2 11.2 6 2.9zM676.3 611.5l-6-2.9-9.4 11 6 2.9zM679.5 597.4l-6.4-3.1-9.1 11.1 6.3 3.2zM673.1 594.3l-6.6-3.2-9.1 11.1 6.6 3.2zM666.5 591.1l-6.8-3.4-9.1 11 6.8 3.5zM668.5 576.5l-7.1-3.5-8.9 11.1 7.2 3.6zM659.7 587.7l-7.2-3.6-9 11 7.1 3.6zM661.4 573l-7.5-3.7-8.7 11.1 7.3 3.7zM653.9 569.3l-7.6-3.8-8.8 11.1 7.7 3.8zM646.3 565.5l-7.9-4-8.7 11.1 7.8 4zM638.4 561.5l-8.2-4.1-8.7 11 8.2 4.2zM638.6 546.3l-8.5-4.2-8.3 11.1 8.4 4.2zM630.2 557.4l-8.4-4.2-8.6 10.9 8.3 4.3zM630.1 542.1l-8.6-4.4-8.4 11.1 8.7 4.4zM621.5 537.7l-8.9-4.4-8.3 11 8.8 4.5zM612.6 533.3l-9.2-4.6-8.2 10.9 9.1 4.7zM603.4 528.7l-9.3-4.7-8.2 10.9 9.3 4.7zM602 512.8l-9.6-4.8-7.9 11.1 9.6 4.9zM594.1 524l-9.6-4.9-8.2 10.9 9.6 4.9zM592.4 508l-9.8-4.9-7.9 11 9.8 5zM582.6 503.1l-10.1-5-7.8 10.9 10 5.1zM572.5 498.1l-10.2-5.2-7.8 10.9 10.2 5.2zM562.3 492.9l-10.4-5.2-7.8 10.8 10.4 5.3zM559.3 476.6l-10.6-5.3-7.5 11 10.7 5.4zM551.9 487.7l-10.7-5.4-7.7 10.8 10.6 5.4zM548.7 471.3l-10.9-5.4-7.4 10.9 10.8 5.5zM537.8 465.9l-11-5.5-7.4 10.8 11 5.6zM526.8 460.4l-11.2-5.6-7.4 10.7 11.2 5.7zM515.6 454.8l-11.4-5.8-7.3 10.8 11.3 5.7zM511.1 438.1l-11.5-5.8-7 10.9 11.6 5.8zM499.6 432.3l-11.8-5.8-6.9 10.8 11.7 5.9zM487.8 426.5l-11.9-5.9-6.9 10.7 11.9 6zM482.4 409.6l-12-6-6.5 10.9 12 6.1zM470.4 403.6l-12.3-6-6.4 10.8 12.2 6.1zM464.2 386.5l-12.4-6-6 11 12.3 6.1z"/>
<path fill="#ffa418" d="M824 494.9l-4.3-.6-5 14.4 4.3 .7zM833.8 435.1l-4-.4-2.9 14.9 4.1 .4zM831 450l-4.1-.4-3.3 14.8 4.2 .5zM840.9 359.6l-3.9-.2-1.9 15 3.9 .3zM839 374.7l-3.9-.3-2.1 15 4 .3zM840.6 329.4l-3.9-.2-1.8 14.9 4 .3zM838.9 344.4l-4-.3-1.8 15 3.9 .3zM836.7 329.2l-4.1-.4-1.8 14.9 4.1 .4zM834.9 344.1l-4.1-.4-1.9 14.8 4.2 .6zM830.8 343.7l-4.4-.7-1.9 14.8 4.4 .7zM824.5 357.8l-4.7-.9-2 14.8 4.6 .9zM812.9 370.6l-5.2-1.3-2.2 14.6 5.1 1.3zM800.1 382.4l-5.7-1.6-2.5 14.4 5.7 1.7zM702.2 608.1l-5.3-2.4-9.4 11.2 5.2 2.4zM786 393.4l-6.2-2-2.8 14.2 6.2 2.1zM779.8 391.4l-6.4-2.2-2.8 14.2 6.4 2.2zM694.6 589l-6.1-2.9-9 11.3 6 2.9zM688.5 586.1l-6.4-3-9 11.2 6.4 3.1zM763.9 401.1l-6.9-2.5-3.1 14 7 2.6zM757 398.6l-7.2-2.6-3 14 7.1 2.6zM677.1 565.1l-7.2-3.5-8.5 11.4 7.1 3.5zM669.9 561.6l-7.4-3.6-8.6 11.3 7.5 3.7zM731.6 404.2l-7.9-3.1-3.4 13.7 8 3.1zM662.5 558l-7.8-3.8-8.4 11.3 7.6 3.8zM703.8 408.1l-8.6-3.5-3.8 13.4 8.6 3.6zM646.7 534.9l-8.5-4.2-8.1 11.4 8.5 4.2zM695.2 404.6l-8.9-3.7-3.8 13.4 8.9 3.7zM638.2 530.7l-8.7-4.3-8 11.3 8.6 4.4zM686.3 400.9l-9.1-3.8-3.7 13.3 9 3.9zM629.5 526.4l-8.9-4.4-8 11.3 8.9 4.4zM620.6 522l-9.2-4.5-8 11.2 9.2 4.6zM664.2 406.4l-9.6-4.1-4.1 13.1 9.5 4.1zM619 506.1l-9.4-4.6-7.6 11.3 9.4 4.7zM611.4 517.5l-9.4-4.7-7.9 11.2 9.3 4.7zM654.6 402.3l-9.7-4.2-4.1 13 9.7 4.3zM609.6 501.5l-9.7-4.8-7.5 11.3 9.6 4.8zM644.9 398.1l-10-4.3-4.1 12.9 10 4.4zM599.9 496.7l-9.8-4.8-7.5 11.2 9.8 4.9zM590.1 491.9l-10.1-5-7.5 11.2 10.1 5zM620.7 402.2l-10.4-4.6-4.5 12.6 10.4 4.7zM587.1 475.5l-10.3-5-7 11.3 10.2 5.1zM580 486.9l-10.2-5.1-7.5 11.1 10.2 5.2zM610.3 397.6l-10.5-4.7-4.5 12.5 10.5 4.8zM576.8 470.5l-10.4-5.2-7.1 11.3 10.5 5.2zM599.8 392.9l-10.8-4.9-4.5 12.5 10.8 4.9zM595.3 405.4l-10.8-4.9-4.9 12.3 10.7 5zM566.4 465.3l-10.7-5.2-7 11.2 10.6 5.3zM584.5 400.5l-10.9-5-4.9 12.2 10.9 5.1zM562.3 448.6l-10.9-5.3-6.6 11.4 10.9 5.4zM555.7 460.1l-10.9-5.4-7 11.2 10.9 5.4zM573.6 395.5l-11.1-5.1-4.9 12.2 11.1 5.1zM568.7 407.7l-11.1-5.1-5.3 12 11.1 5.2zM557.6 431.7l-11.1-5.3-6.1 11.5 11 5.4zM551.4 443.3l-11-5.4-6.6 11.4 11 5.4zM544.8 454.7l-11-5.4-7 11.1 11 5.5zM562.5 390.4l-11.3-5.2-4.9 12.1 11.3 5.3zM557.6 402.6l-11.3-5.3-5.3 11.9 11.3 5.4zM552.3 414.6l-11.3-5.4-5.7 11.7 11.2 5.5zM546.5 426.4l-11.2-5.5-6.2 11.5 11.3 5.5zM540.4 437.9l-11.3-5.5-6.6 11.3 11.3 5.6zM546.3 397.3l-11.5-5.4-5.3 11.9 11.5 5.4zM541 409.2l-11.5-5.4-5.7 11.6 11.5 5.5zM535.3 420.9l-11.5-5.5-6.1 11.5 11.4 5.5zM529.1 432.4l-11.4-5.5-6.6 11.2 11.4 5.6zM534.8 391.9l-11.6-5.4-5.3 11.8 11.6 5.5zM529.5 403.8l-11.6-5.5-5.7 11.5 11.6 5.6zM523.8 415.4l-11.6-5.6-6.1 11.4 11.6 5.7zM517.9 398.3l-11.8-5.7-5.7 11.5 11.8 5.7z"/>
<path fill="#ffb81c" d="M805.9 537.1l-4-.7-7.7 13.1 3.8 .7zM823.6 464.4l-4.2-.7-3.8 14.6 4.2 .8zM825.7 434.1l-4.2-.7-3.1 14.7 4.3 .8zM824.2 418.6l-4.4-.8-2.7 14.7 4.4 .9zM800.3 412.9l-5.4-1.6-3 14.4 5.5 1.7zM780.2 421.9l-6.2-2.1-3.3 14.2 6.2 2.1zM726.1 556.3l-6-2.6-8.2 12 6 2.7zM757.5 429.2l-6.9-2.6-3.7 13.8 6.9 2.7zM714.9 535.7l-6.9-3-7.6 12.1 6.8 3.1zM708 532.7l-7.1-3.2-7.5 12.1 7 3.2zM739.7 437.6l-7.5-2.9-4.1 13.6 7.5 3zM732.2 434.7l-7.7-3.1-4.1 13.6 7.7 3.1zM700.6 513.8l-7.6-3.5-7 12.3 7.6 3.5zM720.4 445.2l-7.9-3.3-4.5 13.3 7.9 3.4zM693 510.3l-7.9-3.6-7 12.3 7.9 3.6zM712.5 441.9l-8.2-3.4-4.5 13.3 8.2 3.4zM691.6 494.2l-8.2-3.7-6.4 12.5 8.1 3.7zM699.8 451.8l-8.4-3.6-5 13 8.4 3.7zM683.4 490.5l-8.3-3.7-6.5 12.4 8.4 3.8zM691.4 448.2l-8.6-3.8-5 13 8.6 3.8zM686.4 461.2l-8.6-3.8-5.4 12.8 8.6 3.9zM681 474.1l-8.6-3.9-5.9 12.6 8.6 4zM677.8 457.4l-8.9-3.9-5.4 12.7 8.9 4zM672.4 470.2l-8.9-4-5.9 12.6 8.9 4z"/>
<path fill="#ffd020" d="M780.2 575.1l-3.4-.6-9.4 12.1 3.2 .5zM760.8 598.8l-3.1-.4-9.8 11.6 2.9 .4zM794.2 549.5l-3.9-.8-8.3 12.7 3.8 .8zM764 585.8l-3.5-.9-9.4 11.8 3.4 1zM811.2 492.7l-4.4-1-5.1 14.2 4.4 1.1zM761.5 570.3l-4.3-1.5-8.7 12.1 4.2 1.5zM804.5 444.8l-5.1-1.4-3.5 14.3 5.1 1.5zM760.8 554.7l-4.9-1.8-8.1 12.4 4.8 1.8zM785.1 454.3l-5.8-2-4 14.1 5.7 2zM752.8 536.1l-5.7-2.3-7.3 12.7 5.6 2.3zM769.2 464.2l-6.2-2.3-4.5 13.8 6.2 2.4zM748 518.5l-6.2-2.6-6.7 12.9 6.1 2.6zM747.9 502.8l-6.5-2.6-6.1 13.1 6.5 2.6zM752 473.2l-6.8-2.6-5 13.5 6.8 2.7zM747 486.8l-6.8-2.7-5.5 13.3 6.7 2.8z"/>
<path fill="#ffd420" d="M770.6 587.1l-3.2-.5-9.7 11.8 3.1 .4zM785.8 562.2l-3.8-.8-8.8 12.4 3.6 .7zM767.4 586.6l-3.4-.8-9.5 11.9 3.2 .7zM804.5 521.9l-4.2-1-6.7 13.6 4.2 1zM769.5 572.8l-3.9-1.1-8.9 12.1 3.8 1.1zM811.2 477.3l-4.6-1.1-4.4 14.3 4.6 1.2zM765.6 571.7l-4.1-1.4-8.8 12.1 4 1.4zM810.5 461.7l-4.6-1.1-4 14.4 4.7 1.2zM765.5 556.4l-4.7-1.7-8.2 12.4 4.6 1.7zM790.6 456.1l-5.5-1.8-4.1 14.1 5.6 1.9zM758.3 538.2l-5.5-2.1-7.4 12.7 5.4 2.1zM775.3 466.4l-6.1-2.2-4.5 13.9 6.1 2.2zM753.9 520.8l-5.9-2.3-6.8 12.9 5.9 2.4zM754.1 505.3l-6.2-2.5-6.1 13.1 6.2 2.6zM758.5 475.7l-6.5-2.5-5 13.6 6.5 2.6zM753.5 489.4l-6.5-2.6-5.6 13.4 6.5 2.6z"/>
<path fill="#ff9c18" d="M857.9 223.1l-3.4 .7-1.3 15.1 3.4-.6zM856.6 238.3l-3.4 .6-1.4 15.1 3.4-.6zM855.2 253.4l-3.4 .6-1.4 15.1 3.5-.5zM853.9 268.6l-3.5 .5-1.4 15.1 3.4-.4zM852.4 283.8l-3.4 .4-1.5 15.1 3.5-.3zM851 299l-3.5 .3-1.6 15.1 3.6-.3zM849.5 314.1l-3.6 .3-1.6 15.1 3.6-.2zM847.9 329.3l-3.6 .2-1.7 15.1 3.6-.1zM846.2 344.5l-3.6 .1-1.7 15 3.6 0zM844.5 359.6l-3.6 0-1.9 15.1 3.7 0zM854.5 223.8l-3.5 .4-1.3 15 3.5-.3zM853.2 238.9l-3.5 .3-1.4 15.1 3.5-.3zM851.8 254l-3.5 .3-1.5 15 3.6-.2zM850.4 269.1l-3.6 .2-1.4 15.1 3.6-.2zM849.7 239.2l-3.8 .2-1.4 15 3.8-.1zM848.3 254.3l-3.8 .1-1.5 15 3.8-.1zM846.8 269.3l-3.8 .1-1.5 14.9 3.9 .1zM845.4 284.4l-3.9-.1-1.5 15 3.8 .1zM841.5 284.3l-4-.2-1.6 14.9 4.1 .3zM840 299.3l-4.1-.3-1.6 14.9 4.1 .4zM834.3 313.9l-4.3-.5-1.8 14.8 4.4 .6zM828.2 328.2l-4.5-.7-1.9 14.7 4.6 .8zM821.8 342.2l-4.8-1-2 14.7 4.8 1zM809.9 354.7l-5.4-1.3-2.1 14.5 5.3 1.4zM802.4 367.9l-5.7-1.6-2.3 14.5 5.7 1.6zM788.5 379l-6.1-1.9-2.6 14.3 6.2 2zM782.4 377.1l-6.4-2.1-2.6 14.2 6.4 2.2zM766.7 387l-6.9-2.4-2.8 14 6.9 2.5zM759.8 384.6l-7.1-2.6-2.9 14 7.2 2.6zM742.4 393.3l-7.6-2.9-3.2 13.8 7.7 2.9zM734.8 390.4l-7.9-3-3.2 13.7 7.9 3.1zM698.6 391.1l-8.9-3.6-3.4 13.4 8.9 3.7zM689.7 387.5l-9-3.7-3.5 13.3 9.1 3.8zM658.4 389.2l-9.7-4.1-3.8 13 9.7 4.2zM648.7 385.1l-10-4.3-3.8 13 10 4.3zM638.7 380.8l-10.1-4.3-3.8 12.9 10.1 4.4zM603.9 380.2l-10.8-4.8-4.1 12.6 10.8 4.9zM593.1 375.4l-10.9-4.8-4.1 12.5 10.9 4.9zM582.2 370.6l-11.1-5-4.1 12.5 11.1 5zM555.7 372.9l-11.5-5.2-4.5 12.2 11.5 5.3zM544.2 367.7l-11.6-5.3-4.5 12.1 11.6 5.4zM532.6 362.4l-11.8-5.4-4.5 12.1 11.8 5.4zM520.8 357l-12-5.5-4.5 12 12 5.6zM516.3 369.1l-12-5.6-4.8 11.8 11.9 5.6zM504.3 363.5l-12.1-5.7-4.8 11.8 12.1 5.7zM492.2 357.8l-12.2-5.7-4.9 11.7 12.3 5.8zM480 352.1l-12.4-5.8-4.9 11.6 12.4 5.9zM475.1 363.8l-12.4-5.9-5.2 11.4 12.4 6zM462.7 357.9l-12.5-6-5.2 11.4 12.5 6zM457.5 369.3l-12.5-6-5.7 11.1 12.5 6.1z"/>
<path fill="#ffa018" d="M842.7 374.7l-3.7 0-2 15 3.7 .2zM840.7 389.9l-3.7-.2-2.2 15 3.8 .3zM838.6 405l-3.8-.3-2.4 15 3.9 .3zM836.3 420l-3.9-.3-2.6 15 4 .4zM849 284.2l-3.6 .2-1.6 15 3.7-.1zM847.5 299.3l-3.7 .1-1.5 15 3.6 0zM845.9 314.4l-3.6 0-1.7 15 3.7 .1zM844.3 329.5l-3.7-.1-1.7 15 3.7 .2zM842.6 344.6l-3.7-.2-1.9 15 3.9 .2zM843.8 299.4l-3.8-.1-1.6 15 3.9 .1zM842.3 314.4l-3.9-.1-1.7 14.9 3.9 .2zM838.4 314.3l-4.1-.4-1.7 14.9 4.1 .4zM832.6 328.8l-4.4-.6-1.8 14.8 4.4 .7zM826.4 343l-4.6-.8-2 14.7 4.7 .9zM819.8 356.9l-4.8-1-2.1 14.7 4.9 1.1zM815 355.9l-5.1-1.2-2.2 14.6 5.2 1.3zM807.7 369.3l-5.3-1.4-2.3 14.5 5.4 1.5zM794.4 380.8l-5.9-1.8-2.5 14.4 5.9 1.8zM773.4 389.2l-6.7-2.2-2.8 14.1 6.7 2.3zM749.8 396l-7.4-2.7-3.1 13.8 7.5 2.9zM723.7 401.1l-8.1-3.2-3.4 13.6 8.1 3.3zM715.6 397.9l-8.4-3.3-3.4 13.5 8.4 3.4zM707.2 394.6l-8.6-3.5-3.4 13.5 8.6 3.5zM677.2 397.1l-9.3-3.9-3.7 13.2 9.3 4zM667.9 393.2l-9.5-4-3.8 13.1 9.6 4.1zM634.9 393.8l-10.1-4.4-4.1 12.8 10.1 4.5zM624.8 389.4l-10.4-4.6-4.1 12.8 10.4 4.6zM614.4 384.8l-10.5-4.6-4.1 12.7 10.5 4.7zM569.8 481.8l-10.5-5.2-7.4 11.1 10.4 5.2zM589 388l-10.9-4.9-4.5 12.4 10.9 5zM578.1 383.1l-11.1-5-4.5 12.3 11.1 5.1zM567 378.1l-11.3-5.2-4.5 12.3 11.3 5.2zM533.8 449.3l-11.3-5.6-6.9 11.1 11.2 5.6zM551.2 385.2l-11.5-5.3-4.9 12 11.5 5.4zM522.5 443.7l-11.4-5.6-6.9 10.9 11.4 5.8zM539.7 379.9l-11.6-5.4-4.9 12 11.6 5.4zM517.7 426.9l-11.6-5.7-6.5 11.1 11.5 5.8zM528.1 374.5l-11.8-5.4-4.9 11.8 11.8 5.6zM523.2 386.5l-11.8-5.6-5.3 11.7 11.8 5.7zM512.2 409.8l-11.8-5.7-6.1 11.3 11.8 5.8zM506.1 421.2l-11.8-5.8-6.5 11.1 11.8 5.8zM511.4 380.9l-11.9-5.6-5.3 11.6 11.9 5.7zM506.1 392.6l-11.9-5.7-5.7 11.5 11.9 5.7zM500.4 404.1l-11.9-5.7-6.1 11.2 11.9 5.8zM494.3 415.4l-11.9-5.8-6.5 11 11.9 5.9zM499.5 375.3l-12.1-5.7-5.3 11.5 12.1 5.8zM494.2 386.9l-12.1-5.8-5.7 11.4 12.1 5.9zM488.5 398.4l-12.1-5.9-6 11.1 12 6zM487.4 369.6l-12.3-5.8-5.2 11.5 12.2 5.8zM482.1 381.1l-12.2-5.8-5.7 11.2 12.2 6zM476.4 392.5l-12.2-6-6.1 11.1 12.3 6zM469.9 375.3l-12.4-6-5.7 11.2 12.4 6z"/>
<path fill="#ffd820" d="M776.8 574.5l-3.6-.7-9.2 12 3.4 .8zM797.8 535.5l-4.2-1-7.4 13.1 4.1 1.1zM773.2 573.8l-3.7-1-9 12.1 3.5 .9zM806.1 507l-4.4-1.1-5.8 13.9 4.4 1.1zM769.9 557.9l-4.4-1.5-8.3 12.4 4.3 1.5zM805.9 460.6l-4.9-1.4-4 14.3 4.9 1.5zM763.5 540.2l-5.2-2-7.5 12.7 5.1 2zM759.7 523.1l-5.8-2.3-6.8 13 5.7 2.3zM760.1 507.6l-6-2.3-6.1 13.2 5.9 2.3zM764.7 478.1l-6.2-2.4-5 13.7 6.2 2.4zM759.7 491.8l-6.2-2.4-5.6 13.4 6.2 2.5z"/>
<path fill="#ffdc20" d="M790.3 548.7l-4.1-1.1-8 12.8 3.8 1zM782 561.4l-3.8-1-8.7 12.4 3.7 1zM800.3 520.9l-4.4-1.1-6.6 13.5 4.3 1.2zM778.2 560.4l-4.1-1.2-8.5 12.5 3.9 1.1zM806.8 491.7l-4.6-1.2-5.1 14.1 4.6 1.3zM774.1 559.2l-4.2-1.3-8.4 12.4 4.1 1.4zM773.2 543.6l-4.8-1.6-7.6 12.7 4.7 1.7zM768.4 542l-4.9-1.8-7.6 12.7 4.9 1.8zM765.1 525.2l-5.4-2.1-6.9 13 5.5 2.1z"/>
<path fill="#ff9818" d="M851 224.2l-3.7 .2-1.4 15 3.8-.2zM845.9 239.4l-4 0-1.4 14.9 4 .1zM844.5 254.4l-4-.1-1.5 14.9 4 .2zM843 269.4l-4-.2-1.5 14.9 4 .2zM837.5 284.1l-4.3-.4-1.6 14.9 4.3 .4zM835.9 299l-4.3-.4-1.6 14.8 4.3 .5zM830 313.4l-4.6-.7-1.7 14.8 4.5 .7zM823.7 327.5l-4.9-1-1.8 14.7 4.8 1zM817 341.2l-5.1-1.1-2 14.6 5.1 1.2zM804.5 353.4l-5.6-1.5-2.2 14.4 5.7 1.6zM796.7 366.3l-5.8-1.7-2.4 14.4 5.9 1.8zM790.9 364.6l-6.2-1.8-2.3 14.3 6.1 1.9zM776 375l-6.7-2.2-2.6 14.2 6.7 2.2zM752.7 382l-7.4-2.7-2.9 14 7.4 2.7zM726.9 387.4l-8.2-3.2-3.1 13.7 8.1 3.2zM718.7 384.2l-8.4-3.3-3.1 13.7 8.4 3.3zM710.3 380.9l-8.6-3.4-3.1 13.6 8.6 3.5zM680.7 383.8l-9.3-3.9-3.5 13.3 9.3 3.9zM671.4 379.9l-9.6-3.9-3.4 13.2 9.5 4zM661.8 376l-9.7-4.1-3.4 13.2 9.7 4.1zM628.6 376.5l-10.4-4.5-3.8 12.8 10.4 4.6zM618.2 372l-10.5-4.6-3.8 12.8 10.5 4.6zM607.7 367.4l-10.8-4.7-3.8 12.7 10.8 4.8zM596.9 362.7l-10.9-4.8-3.8 12.7 10.9 4.8zM571.1 365.6l-11.3-5-4.1 12.3 11.3 5.2zM559.8 360.6l-11.5-5.2-4.1 12.3 11.5 5.2zM548.3 355.4l-11.6-5.2-4.1 12.2 11.6 5.3zM508.8 351.5l-12.1-5.5-4.5 11.8 12.1 5.7z"/>
<path fill="#ffb01c" d="M830.8 404.3l-4.1-.5-2.5 14.8 4.2 .6zM829 388.9l-4.3-.7-2.3 14.8 4.3 .8zM824.7 388.2l-4.5-.8-2.3 14.7 4.5 .9zM820.2 387.4l-4.7-1-2.4 14.6 4.8 1.1zM808.2 399.8l-5.2-1.4-2.7 14.5 5.2 1.5zM803 398.4l-5.4-1.5-2.7 14.4 5.4 1.6zM789.2 409.6l-6-1.9-3 14.2 6 2zM767.6 417.6l-6.7-2.4-3.4 14 6.7 2.4zM743.4 423.8l-7.5-2.8-3.7 13.7 7.5 2.9zM735.9 421l-7.6-3.1-3.8 13.7 7.7 3.1zM716.6 428.4l-8.2-3.3-4.1 13.4 8.2 3.4zM708.4 425.1l-8.4-3.5-4.1 13.3 8.4 3.6zM687.3 431.3l-8.9-3.8-4.5 13.1 8.9 3.8zM678.4 427.5l-9.1-3.9-4.5 13 9.1 4zM664.8 436.6l-9.3-4.1-4.9 12.8 9.3 4.1zM655.5 432.5l-9.5-4.3-5 12.8 9.6 4.3zM650.6 445.3l-9.6-4.3-5.3 12.5 9.5 4.4z"/>
<path fill="#ffb41c" d="M828.4 419.2l-4.2-.6-2.7 14.8 4.2 .7zM826.7 403.8l-4.3-.8-2.6 14.8 4.4 .8zM822.4 403l-4.5-.9-2.6 14.7 4.5 1zM817.9 402.1l-4.8-1.1-2.6 14.7 4.8 1.1zM813.1 401l-4.9-1.2-2.7 14.6 5 1.3zM794.9 411.3l-5.7-1.7-3 14.3 5.7 1.8zM774 419.8l-6.4-2.2-3.4 14 6.5 2.4zM750.6 426.6l-7.2-2.8-3.7 13.8 7.2 2.8zM724.5 431.6l-7.9-3.2-4.1 13.5 7.9 3.3zM685.1 506.7l-8.1-3.7-6.9 12.2 8 3.8zM704.3 438.5l-8.4-3.6-4.5 13.3 8.4 3.6zM695.9 434.9l-8.6-3.6-4.5 13.1 8.6 3.8zM675.1 486.8l-8.6-4-6.4 12.4 8.5 4zM682.8 444.4l-8.9-3.8-5 12.9 8.9 3.9zM666.5 482.8l-8.9-4-6.3 12.3 8.8 4.1zM673.9 440.6l-9.1-4-4.9 12.8 9 4.1zM668.9 453.5l-9-4.1-5.4 12.7 9 4.1zM663.5 466.2l-9-4.1-5.9 12.5 9 4.2zM659.9 449.4l-9.3-4.1-5.4 12.6 9.3 4.2zM654.5 462.1l-9.3-4.2-5.9 12.4 9.3 4.3z"/>
<path fill="#ffc820" d="M815.6 478.3l-4.4-1-4.4 14.4 4.4 1zM788.7 440l-5.8-1.8-3.6 14.1 5.8 2zM767 448l-6.4-2.4-4.1 13.9 6.5 2.4zM735.3 513.3l-6.7-2.9-6.6 12.8 6.7 2.9zM749.8 456.9l-7-2.7-4.5 13.6 6.9 2.8zM738.3 467.8l-7.2-2.9-5 13.3 7.2 3zM733.3 481.2l-7.2-3-5.5 13.2 7.2 3.1zM727.8 494.5l-7.2-3.1-6.1 13 7.2 3.1z"/>
<path fill="#ffe024" d="M793.6 534.5l-4.3-1.2-7.2 13.2 4.1 1.1zM801.7 505.9l-4.6-1.3-5.7 13.9 4.5 1.3zM782.1 546.5l-4.4-1.4-7.8 12.8 4.2 1.3zM801.9 475l-4.9-1.5-4.4 14.2 4.9 1.5zM797 473.5l-5.1-1.5-4.5 14.1 5.2 1.6zM791.9 472l-5.3-1.7-4.5 14 5.3 1.8zM770.4 527.1l-5.3-1.9-6.8 13 5.2 2zM771.4 511.8l-5.5-2-6.2 13.3 5.4 2.1zM776.5 482.4l-5.7-2.1-5.1 13.8 5.8 2.1zM771.5 496.2l-5.8-2.1-5.6 13.5 5.8 2.2z"/>
<path fill="#ffe020" d="M786.2 547.6l-4.1-1.1-8 12.7 4.1 1.2zM777.7 545.1l-4.5-1.5-7.7 12.8 4.4 1.5z"/>
<path fill="#ff9418" d="M847.3 224.4l-4 .1-1.4 14.9 4 0zM840.5 254.3l-4.2-.3-1.5 14.9 4.2 .3zM839 269.2l-4.2-.3-1.6 14.8 4.3 .4zM833.2 283.7l-4.5-.6-1.6 14.8 4.5 .7zM831.6 298.6l-4.5-.7-1.7 14.8 4.6 .7zM825.4 312.7l-4.8-.9-1.8 14.7 4.9 1zM818.8 326.5l-5-1-1.9 14.6 5.1 1.1zM811.9 340.1l-5.4-1.3-2 14.6 5.4 1.3zM798.9 351.9l-5.8-1.7-2.2 14.4 5.8 1.7zM784.7 362.8l-6.3-2-2.4 14.2 6.4 2.1zM769.3 372.8l-6.9-2.3-2.6 14.1 6.9 2.4zM745.3 379.3l-7.7-2.8-2.8 13.9 7.6 2.9zM737.6 376.5l-7.9-2.9-2.8 13.8 7.9 3zM701.7 377.5l-8.8-3.5-3.2 13.5 8.9 3.6zM692.9 374l-9.1-3.6-3.1 13.4 9 3.7zM652.1 371.9l-9.9-4.2-3.5 13.1 10 4.3z"/>
<path fill="#ffc420" d="M818.4 448.1l-4.4-.9-3.5 14.5 4.5 1.1zM817.1 432.5l-4.6-1-3.2 14.6 4.7 1.1zM812.5 431.5l-4.8-1.2-3.2 14.5 4.8 1.3zM807.7 430.3l-5.1-1.4-3.2 14.5 5.1 1.4zM802.6 428.9l-5.2-1.5-3.2 14.4 5.2 1.6zM782.9 438.2l-6-2.1-3.6 14.1 6 2.1zM760.6 445.6l-6.8-2.5-4 13.8 6.7 2.6zM742.8 454.2l-7.2-2.9-4.5 13.6 7.2 2.9zM731.1 464.9l-7.5-3.1-5 13.3 7.5 3.1zM726.1 478.2l-7.5-3.1-5.5 13.1 7.5 3.2z"/>
<path fill="#ffcc20" d="M815 462.8l-4.5-1.1-3.9 14.5 4.6 1.1zM814 447.2l-4.7-1.1-3.4 14.5 4.6 1.1zM809.3 446.1l-4.8-1.3-3.5 14.4 4.9 1.4zM799.4 443.4l-5.2-1.6-3.6 14.3 5.3 1.6zM755.9 552.9l-5.1-2-8 12.4 5 2zM794.2 441.8l-5.5-1.8-3.6 14.3 5.5 1.8zM779.3 452.3l-6-2.1-4.1 14 6.1 2.2zM747.1 533.8l-5.9-2.4-7.3 12.6 5.9 2.5zM773.3 450.2l-6.3-2.2-4 13.9 6.2 2.3zM763 461.9l-6.5-2.4-4.5 13.7 6.5 2.5zM741.8 515.9l-6.5-2.6-6.6 12.8 6.4 2.7zM756.5 459.5l-6.7-2.6-4.6 13.7 6.8 2.6zM741.4 500.2l-6.7-2.8-6.1 13 6.7 2.9zM745.2 470.6l-6.9-2.8-5 13.4 6.9 2.9zM740.2 484.1l-6.9-2.9-5.5 13.3 6.9 2.9zM734.7 497.4l-6.9-2.9-6.1 13 6.9 2.9z"/>
<path fill="#ffe424" d="M795.9 519.8l-4.5-1.3-6.5 13.5 4.4 1.3zM789.3 533.3l-4.4-1.3-7.2 13.1 4.4 1.4zM802.2 490.5l-4.7-1.3-5.1 14 4.7 1.4zM797.5 489.2l-4.9-1.5-5.1 14 4.9 1.5zM780.3 530.5l-4.9-1.6-7 13.1 4.8 1.6zM775.4 528.9l-5-1.8-6.9 13.1 4.9 1.8zM787.4 486.1l-5.3-1.8-5 13.9 5.3 1.8zM776.7 513.7l-5.3-1.9-6.3 13.4 5.3 1.9zM782.1 484.3l-5.6-1.9-5 13.8 5.6 2zM777.1 498.2l-5.6-2-5.6 13.6 5.5 2z"/>
<path fill="#f89014" d="M843.3 224.5l-4.2-.2-1.4 14.9 4.2 .2zM836.3 254l-4.5-.4-1.5 14.8 4.5 .5zM834.8 268.9l-4.5-.5-1.6 14.7 4.5 .6zM828.7 283.1l-4.8-.7-1.6 14.7 4.8 .8zM820.6 311.8l-5-1-1.8 14.7 5 1zM813.8 325.5l-5.3-1.3-2 14.6 5.4 1.3zM793.1 350.2l-6.2-1.8-2.2 14.4 6.2 1.8zM771.7 358.6l-6.9-2.3-2.4 14.2 6.9 2.3zM747.9 365.4l-7.7-2.8-2.6 13.9 7.7 2.8zM713.2 367.3l-8.6-3.4-2.9 13.6 8.6 3.4zM655.3 358.7l-10-4.1-3.1 13.1 9.9 4.2zM578.3 340.4l-11.3-4.9-3.4 12.6 11.3 5z"/>
<path fill="#fc9018" d="M841.9 239.4l-4.2-.2-1.4 14.8 4.2 .3zM827.1 297.9l-4.8-.8-1.7 14.7 4.8 .9zM806.5 338.8l-5.5-1.4-2.1 14.5 5.6 1.5z"/>
<path fill="#ffac1c" d="M826.9 373.4l-4.5-.8-2.2 14.8 4.5 .8zM815.5 386.4l-4.9-1.2-2.4 14.6 4.9 1.2zM810.6 385.2l-5.1-1.3-2.5 14.5 5.2 1.4zM797.6 396.9l-5.7-1.7-2.7 14.4 5.7 1.7zM783.2 407.7l-6.2-2.1-3 14.2 6.2 2.1zM777 405.6l-6.4-2.2-3 14.2 6.4 2.2zM760.9 415.2l-7-2.6-3.3 14 6.9 2.6zM753.9 412.6l-7.1-2.6-3.4 13.8 7.2 2.8zM728.3 417.9l-8-3.1-3.7 13.6 7.9 3.2zM700 421.6l-8.6-3.6-4.1 13.3 8.6 3.6zM669.3 423.6l-9.3-4.1-4.5 13 9.3 4.1z"/>
<path fill="#ffdc24" d="M806.6 476.2l-4.7-1.2-4.4 14.2 4.7 1.3zM786.6 470.3l-5.6-1.9-4.5 14 5.6 1.9zM765.9 509.8l-5.8-2.2-6.2 13.2 5.8 2.3zM770.8 480.3l-6.1-2.2-5 13.7 6 2.3zM765.7 494.1l-6-2.3-5.6 13.5 6 2.3z"/>
<path fill="#ffe824" d="M797.1 504.6l-4.7-1.4-5.7 13.8 4.7 1.5zM791.4 518.5l-4.7-1.5-6.4 13.5 4.6 1.5zM784.9 532l-4.6-1.5-7.1 13.1 4.5 1.5zM792.4 503.2l-4.9-1.5-5.7 13.7 4.9 1.6zM786.7 517l-4.9-1.6-6.4 13.5 4.9 1.6zM792.6 487.7l-5.2-1.6-5 13.9 5.1 1.7zM787.5 501.7l-5.1-1.7-5.7 13.7 5.1 1.7zM781.8 515.4l-5.1-1.7-6.3 13.4 5 1.8zM782.4 500l-5.3-1.8-5.7 13.6 5.3 1.9z"/>
<path fill="#f08c14" d="M839.1 224.3l-4.5-.3-1.4 14.8 4.5 .4zM830.3 268.4l-4.8-.7-1.6 14.7 4.8 .7zM795.1 335.8l-6.1-1.8-2.1 14.4 6.2 1.8zM780.6 346.5l-6.6-2.1-2.3 14.2 6.7 2.2zM732.4 359.7l-8.2-3-2.6 13.8 8.1 3.1zM677.4 353.2l-9.5-3.8-2.9 13.3 9.5 3.9z"/>
<path fill="#f48c14" d="M837.7 239.2l-4.5-.4-1.4 14.8 4.5 .4zM822.3 297.1l-5-.9-1.7 14.6 5 1zM815.6 310.8l-5.3-1.1-1.8 14.5 5.3 1.3zM808.5 324.2l-5.6-1.3-1.9 14.5 5.5 1.4zM801 337.4l-5.9-1.6-2 14.4 5.8 1.7zM786.9 348.4l-6.3-1.9-2.2 14.3 6.3 2zM764.8 356.3l-7.1-2.4-2.4 14.1 7.1 2.5zM740.2 362.6l-7.8-2.9-2.7 13.9 7.9 2.9zM695.8 360.5l-9.1-3.6-2.9 13.5 9.1 3.6zM686.7 356.9l-9.3-3.7-2.9 13.4 9.3 3.8zM635.2 350.4l-10.4-4.4-3.1 13 10.3 4.4zM624.8 346l-10.5-4.4-3.2 12.9 10.6 4.5zM614.3 341.6l-10.7-4.5-3.2 12.8 10.7 4.6zM543.9 325.4l-11.8-5.2-3.5 12.4 11.9 5.2zM532.1 320.2l-12-5.2-3.4 12.3 11.9 5.3zM520.1 315l-12.1-5.4-3.4 12.2 12.1 5.5zM441.8 293.6l-12.9-5.9-3.8 11.7 13 5.9zM428.9 287.7l-13.1-5.9-3.7 11.6 13 6z"/>
<path fill="#ffa81c" d="M822.4 372.6l-4.6-.9-2.3 14.7 4.7 1zM791.9 395.2l-5.9-1.8-2.8 14.3 6 1.9zM770.6 403.4l-6.7-2.3-3 14.1 6.7 2.4zM746.8 410l-7.5-2.9-3.4 13.9 7.5 2.8zM720.3 414.8l-8.1-3.3-3.8 13.6 8.2 3.3z"/>
<path fill="#e88414" d="M834.6 224l-4.7-.5-1.4 14.7 4.7 .6zM818.9 281.5l-5.2-1-1.7 14.6 5.3 1.1zM812 295.1l-5.5-1.3-1.8 14.5 5.6 1.4zM804.7 308.3l-5.8-1.4-1.8 14.4 5.8 1.6zM782.7 332.2l-6.6-2.1-2.1 14.3 6.6 2.1zM734.8 345.8l-8.1-2.9-2.5 13.8 8.2 3zM698.5 346.9l-9.1-3.5-2.7 13.5 9.1 3.6zM689.4 343.4l-9.3-3.7-2.7 13.5 9.3 3.7zM680.1 339.7l-9.5-3.7-2.7 13.4 9.5 3.8zM627.8 333l-10.6-4.4-2.9 13 10.5 4.4zM617.2 328.6l-10.7-4.5-2.9 13 10.7 4.5zM606.5 324.1l-11-4.5-2.9 12.8 11 4.7zM595.5 319.6l-11.1-4.7-2.9 12.8 11.1 4.7zM523.3 302.6l-12.1-5.3-3.2 12.3 12.1 5.4zM511.2 297.3l-12.3-5.3-3.2 12.2 12.3 5.4zM498.9 292l-12.4-5.5-3.2 12.2 12.4 5.5zM486.5 286.5l-12.5-5.5-3.2 12.1 12.5 5.6zM392.8 258.2l-13.3-6-3.5 11.5 13.4 6.1zM379.5 252.2l-13.5-6.1-3.4 11.4 13.4 6.2z"/>
<path fill="#e88814" d="M833.2 238.8l-4.7-.6-1.5 14.8 4.8 .6zM825.5 267.7l-5-.8-1.6 14.6 5 .9zM797.1 321.3l-6.1-1.6-2 14.3 6.1 1.8zM767.1 342.2l-7.1-2.4-2.3 14.1 7.1 2.4zM742.7 348.7l-7.9-2.9-2.4 13.9 7.8 2.9z"/>
<path fill="#ec8814" d="M831.8 253.6l-4.8-.6-1.5 14.7 4.8 .7zM817.3 296.2l-5.3-1.1-1.7 14.6 5.3 1.1zM810.3 309.7l-5.6-1.4-1.8 14.6 5.6 1.3zM802.9 322.9l-5.8-1.6-2 14.5 5.9 1.6zM789 334l-6.3-1.8-2.1 14.3 6.3 1.9zM774 344.4l-6.9-2.2-2.3 14.1 6.9 2.3zM750.3 351.3l-7.6-2.6-2.5 13.9 7.7 2.8zM715.9 353.5l-8.6-3.2-2.7 13.6 8.6 3.4zM707.3 350.3l-8.8-3.4-2.7 13.6 8.8 3.4zM658.2 345.4l-9.9-4-3 13.2 10 4.1zM648.3 341.4l-10.2-4.2-2.9 13.2 10.1 4.2zM638.1 337.2l-10.3-4.2-3 13 10.4 4.4zM570.2 322.8l-11.5-4.9-3.1 12.6 11.4 5zM558.7 317.9l-11.6-5-3.2 12.5 11.7 5.1zM547.1 312.9l-11.8-5.1-3.2 12.4 11.8 5.2zM458.1 287.5l-12.8-5.8-3.5 11.9 12.8 5.8z"/>
<path fill="#ffd824" d="M801 459.2l-5.1-1.5-4 14.3 5.1 1.5zM795.9 457.7l-5.3-1.6-4 14.2 5.3 1.7zM781 468.4l-5.7-2-4.5 13.9 5.7 2.1z"/>
<path fill="#e08014" d="M829.9 223.5l-4.9-.7-1.5 14.7 5 .7zM822 252.2l-5.2-.9-1.5 14.6 5.2 1zM813.7 280.5l-5.6-1.2-1.6 14.5 5.5 1.3zM806.5 293.8l-5.8-1.4-1.8 14.5 5.8 1.4zM798.9 306.9l-6.1-1.6-1.8 14.4 6.1 1.6zM784.6 317.8l-6.6-1.9-1.9 14.2 6.6 2.1zM769.2 328l-7.1-2.3-2.1 14.1 7.1 2.4zM745 334.7l-7.9-2.8-2.3 13.9 7.9 2.9zM709.8 336.6l-8.9-3.3-2.4 13.6 8.8 3.4zM700.9 333.3l-9-3.5-2.5 13.6 9.1 3.5zM651 328.1l-10.2-4.1-2.7 13.2 10.2 4.2zM640.8 324l-10.3-4.2-2.7 13.2 10.3 4.2zM630.5 319.8l-10.6-4.3-2.7 13.1 10.6 4.4zM619.9 315.5l-10.7-4.4-2.7 13 10.7 4.5zM550 300.3l-11.8-5-2.9 12.5 11.8 5.1zM538.2 295.3l-12-5.1-2.9 12.4 12 5.2zM526.2 290.2l-12.1-5.2-2.9 12.3 12.1 5.3z"/>
<path fill="#e08414" d="M828.5 238.2l-5-.7-1.5 14.7 5 .8z"/>
<path fill="#e48414" d="M827 253l-5-.8-1.5 14.7 5 .8zM820.5 266.9l-5.2-1-1.6 14.6 5.2 1zM791 319.7l-6.4-1.9-1.9 14.4 6.3 1.8zM776.1 330.1l-6.9-2.1-2.1 14.2 6.9 2.2zM760 339.8l-7.4-2.5-2.3 14 7.4 2.6zM752.6 337.3l-7.6-2.6-2.3 14 7.6 2.6zM726.7 342.9l-8.4-3.1-2.4 13.7 8.3 3.2zM718.3 339.8l-8.5-3.2-2.5 13.7 8.6 3.2zM670.6 336l-9.7-3.9-2.7 13.3 9.7 4zM584.4 314.9l-11.3-4.8-2.9 12.7 11.3 4.9zM474 281l-12.7-5.5-3.2 12 12.7 5.6z"/>
<path fill="#f08814" d="M823.9 282.4l-5-.9-1.6 14.7 5 .9zM757.7 353.9l-7.4-2.6-2.4 14.1 7.4 2.6zM724.2 356.7l-8.3-3.2-2.7 13.8 8.4 3.2zM667.9 349.4l-9.7-4-2.9 13.3 9.7 4zM603.6 337.1l-11-4.7-3.2 12.8 11 4.7zM592.6 332.4l-11.1-4.7-3.2 12.7 11.1 4.8zM581.5 327.7l-11.3-4.9-3.2 12.7 11.3 4.9zM495.7 304.2l-12.4-5.5-3.4 12.1 12.4 5.5zM483.3 298.7l-12.5-5.6-3.5 12 12.6 5.7zM470.8 293.1l-12.7-5.6-3.5 11.9 12.7 5.7zM389.4 269.8l-13.4-6.1-3.7 11.3 13.4 6.2zM376 263.7l-13.4-6.2-3.8 11.3 13.5 6.2z"/>
<path fill="#d87c14" d="M825 222.8l-5.3-.8-1.4 14.6 5.2 .9zM816.8 251.3l-5.5-1.1-1.6 14.5 5.6 1.2zM809.7 264.7l-5.8-1.3-1.6 14.5 5.8 1.4zM794.6 290.8l-6.3-1.7-1.8 14.4 6.3 1.8zM786.5 303.5l-6.6-1.9-1.9 14.3 6.6 1.9zM771.2 313.8l-7.1-2.3-2 14.2 7.1 2.3zM747.1 320.7l-7.9-2.7-2.1 13.9 7.9 2.8zM720.6 326l-8.5-3.1-2.3 13.7 8.5 3.2zM712.1 322.9l-8.9-3.3-2.3 13.7 8.9 3.3zM663.4 318.7l-9.9-3.9-2.5 13.3 9.9 4z"/>
<path fill="#dc7c14" d="M823.5 237.5l-5.2-.9-1.5 14.7 5.2 .9zM754.7 323.2l-7.6-2.5-2.1 14 7.6 2.6zM729 329l-8.4-3-2.3 13.8 8.4 3.1zM682.6 326.2l-9.5-3.7-2.5 13.5 9.5 3.7zM673.1 322.5l-9.7-3.8-2.5 13.4 9.7 3.9zM598.2 306.6l-11.1-4.5-2.7 12.8 11.1 4.7z"/>
<path fill="#ffc020" d="M797.4 427.4l-5.5-1.7-3.2 14.3 5.5 1.8zM776.9 436.1l-6.2-2.1-3.7 14 6.3 2.2z"/>
<path fill="#d07810" d="M819.7 222l-5.5-.9-1.4 14.5 5.5 1zM811.3 250.2l-5.8-1.3-1.6 14.5 5.8 1.3zM803.9 263.4l-6-1.4-1.6 14.4 6 1.5zM796.3 276.4l-6.3-1.6-1.7 14.3 6.3 1.7zM781.7 287.3l-6.8-2-1.8 14.3 6.8 2zM773.1 299.6l-7.1-2.2-1.9 14.1 7.1 2.3zM766 297.4l-7.4-2.3-1.9 14.1 7.4 2.3zM749.1 306.7l-7.8-2.7-2.1 14 7.9 2.7zM722.8 312.2l-8.6-3.1-2.1 13.8 8.5 3.1zM714.2 309.1l-8.8-3.2-2.2 13.7 8.9 3.3zM665.7 305.4l-9.9-3.9-2.3 13.3 9.9 3.9zM655.8 301.5l-10.2-3.9-2.3 13.2 10.2 4zM578.3 284.6l-11.4-4.8-2.5 12.8 11.4 4.8zM566.9 279.8l-11.7-4.8-2.5 12.7 11.7 4.9z"/>
<path fill="#d47814" d="M818.3 236.6l-5.5-1-1.5 14.6 5.5 1.1z"/>
<path fill="#dc8014" d="M815.3 265.9l-5.6-1.2-1.6 14.6 5.6 1.2zM808.1 279.3l-5.8-1.4-1.6 14.5 5.8 1.4zM800.7 292.4l-6.1-1.6-1.8 14.5 6.1 1.6zM792.8 305.3l-6.3-1.8-1.9 14.3 6.4 1.9zM778 315.9l-6.8-2.1-2 14.2 6.9 2.1zM762.1 325.7l-7.4-2.5-2.1 14.1 7.4 2.5zM737.1 331.9l-8.1-2.9-2.3 13.9 8.1 2.9zM691.9 329.8l-9.3-3.6-2.5 13.5 9.3 3.7zM609.2 311.1l-11-4.5-2.7 13 11 4.5z"/>
<path fill="#cc7410" d="M814.2 221.1l-5.8-1.2-1.4 14.5 5.8 1.2zM805.5 248.9l-6-1.3-1.6 14.4 6 1.4zM797.9 262l-6.3-1.6-1.6 14.4 6.3 1.6zM790 274.8l-6.6-1.8-1.7 14.3 6.6 1.8zM774.9 285.3l-7.1-2.1-1.8 14.2 7.1 2.2zM758.6 295.1l-7.6-2.5-1.9 14.1 7.6 2.5zM741.3 304l-8.1-2.7-2.1 13.8 8.1 2.9zM733.2 301.3l-8.4-2.9-2 13.8 8.3 2.9zM724.8 298.4l-8.6-3.1-2 13.8 8.6 3.1zM696.4 302.6l-9.3-3.4-2.2 13.5 9.3 3.5zM687.1 299.2l-9.5-3.6-2.2 13.5 9.5 3.6zM677.6 295.6l-9.7-3.7-2.2 13.5 9.7 3.7zM635.3 293.5l-10.6-4.2-2.3 13.2 10.6 4.2zM624.7 289.3l-10.7-4.2-2.3 13 10.7 4.4zM614 285.1l-10.9-4.4-2.4 13 11 4.4zM603.1 280.7l-11.1-4.4-2.4 12.9 11.1 4.5zM592 276.3l-11.4-4.6-2.3 12.9 11.3 4.6zM507 255l-12.4-5.2-2.5 12.3 12.4 5.3zM494.6 249.8l-12.6-5.3-2.4 12.2 12.5 5.4zM482 244.5l-12.7-5.4-2.4 12.2 12.7 5.4zM469.3 239.1l-12.8-5.4-2.5 12.1 12.9 5.5zM456.5 233.7l-12.9-5.5-2.5 12 12.9 5.6z"/>
<path fill="#cc7810" d="M812.8 235.6l-5.8-1.2-1.5 14.5 5.8 1.3z"/>
<path fill="#c47010" d="M808.4 219.9l-6-1.2-1.4 14.4 6 1.3zM801 233.1l-6.3-1.4-1.5 14.3 6.3 1.6zM793.2 246l-6.6-1.6-1.6 14.3 6.6 1.7zM785 258.7l-6.8-1.9-1.6 14.3 6.8 1.9zM769.5 269l-7.4-2.2-1.7 14.2 7.4 2.2zM752.8 278.6l-7.8-2.5-1.8 13.9 7.8 2.6zM735.1 287.3l-8.4-2.8-1.9 13.9 8.4 2.9zM726.7 284.5l-8.5-2.9-2 13.7 8.6 3.1zM718.2 281.6l-8.9-3.1-1.9 13.7 8.8 3.1zM698.4 289l-9.3-3.4-2 13.6 9.3 3.4zM689.1 285.6l-9.5-3.5-2 13.5 9.5 3.6zM679.6 282.1l-9.7-3.6-2 13.4 9.7 3.7zM669.9 278.5l-9.9-3.7-2.1 13.4 10 3.7zM626.9 276.2l-10.7-4.2-2.2 13.1 10.7 4.2zM616.2 272l-11-4.3-2.1 13 10.9 4.4zM605.2 267.7l-11.1-4.4-2.1 13 11.1 4.4zM594.1 263.3l-11.3-4.5-2.2 12.9 11.4 4.6zM582.8 258.8l-11.5-4.5-2.1 12.8 11.4 4.6zM509.3 242.6l-12.4-5.2-2.3 12.4 12.4 5.2zM496.9 237.4l-12.6-5.2-2.3 12.3 12.6 5.3zM484.3 232.2l-12.7-5.2-2.3 12.1 12.7 5.4zM471.6 227l-12.8-5.4-2.3 12.1 12.8 5.4z"/>
<path fill="#c87410" d="M807 234.4l-6-1.3-1.5 14.5 6 1.3zM799.5 247.6l-6.3-1.6-1.6 14.4 6.3 1.6zM791.6 260.4l-6.6-1.7-1.6 14.3 6.6 1.8zM783.4 273l-6.8-1.9-1.7 14.2 6.8 2zM767.8 283.2l-7.4-2.2-1.8 14.1 7.4 2.3zM751 292.6l-7.8-2.6-1.9 14 7.8 2.7zM716.2 295.3l-8.8-3.1-2 13.7 8.8 3.2zM667.9 291.9l-10-3.7-2.1 13.3 9.9 3.9zM580.6 271.7l-11.4-4.6-2.3 12.7 11.4 4.8z"/>
<path fill="#d47c14" d="M802.3 277.9l-6-1.5-1.7 14.4 6.1 1.6zM779.9 301.6l-6.8-2-1.9 14.2 6.8 2.1zM764.1 311.5l-7.4-2.3-2 14 7.4 2.5zM739.2 318l-8.1-2.9-2.1 13.9 8.1 2.9z"/>
<path fill="#c07010" d="M802.4 218.7l-6.3-1.4-1.4 14.4 6.3 1.4zM786.6 244.4l-6.8-1.8-1.6 14.2 6.8 1.9zM778.2 256.8l-7.1-2-1.6 14.2 7.1 2.1zM762.1 266.8l-7.6-2.3-1.7 14.1 7.6 2.4zM745 276.1l-8.1-2.7-1.8 13.9 8.1 2.7z"/>
<path fill="#bc6c10" d="M796.1 217.3l-6.5-1.6-1.5 14.4 6.6 1.6zM788.1 230.1l-6.8-1.8-1.5 14.3 6.8 1.8zM779.8 242.6l-7.1-2-1.6 14.2 7.1 2zM772.7 240.6l-7.4-2-1.5 14.1 7.3 2.1zM763.8 252.7l-7.6-2.2-1.7 14 7.6 2.3zM746.7 262.1l-8.1-2.6-1.7 13.9 8.1 2.7zM738.6 259.5l-8.3-2.7-1.8 13.9 8.4 2.7zM720 267.8l-8.8-3-1.9 13.7 8.9 3.1zM711.2 264.8l-9.1-3.2-1.8 13.7 9 3.2zM681.5 268.6l-9.7-3.6-1.9 13.5 9.7 3.6zM671.8 265l-9.9-3.6-1.9 13.4 9.9 3.7zM661.9 261.4l-10.2-3.8-1.9 13.4 10.2 3.8zM607.3 254.7l-11.2-4.3-2 12.9 11.1 4.4zM596.1 250.4l-11.3-4.5-2 12.9 11.3 4.5zM584.8 245.9l-11.5-4.5-2 12.9 11.5 4.5zM486.5 219.9l-12.8-5.2-2.1 12.3 12.7 5.2zM473.7 214.7l-12.8-5.2-2.1 12.1 12.8 5.4z"/>
<path fill="#c06c10" d="M794.7 231.7l-6.6-1.6-1.5 14.3 6.6 1.6zM771.1 254.8l-7.3-2.1-1.7 14.1 7.4 2.2zM754.5 264.5l-7.8-2.4-1.7 14 7.8 2.5zM736.9 273.4l-8.4-2.7-1.8 13.8 8.4 2.8zM728.5 270.7l-8.5-2.9-1.8 13.8 8.5 2.9zM709.3 278.5l-9-3.2-1.9 13.7 9 3.2zM700.3 275.3l-9.3-3.3-1.9 13.6 9.3 3.4zM691 272l-9.5-3.4-1.9 13.5 9.5 3.5zM660 274.8l-10.2-3.8-2 13.3 10.1 3.9zM649.8 271l-10.3-4-2 13.3 10.3 4zM639.5 267l-10.6-4-2 13.2 10.6 4.1zM628.9 263l-10.7-4.1-2 13.1 10.7 4.2zM618.2 258.9l-10.9-4.2-2.1 13 11 4.3zM571.3 254.3l-11.6-4.7-2.2 12.7 11.7 4.8zM559.7 249.6l-11.8-4.7-2.2 12.6 11.8 4.8zM547.9 244.9l-12-4.9-2.2 12.6 12 4.9zM535.9 240l-12.2-4.9-2.1 12.5 12.1 5zM523.7 235.1l-12.2-5-2.2 12.5 12.3 5zM511.5 230.1l-12.5-5-2.1 12.3 12.4 5.2zM499 225.1l-12.5-5.2-2.2 12.3 12.6 5.2zM419.6 205.2l-13.3-5.6-2.3 11.8 13.3 5.7zM406.3 199.6l-13.4-5.7-2.3 11.8 13.4 5.7zM392.9 193.9l-13.5-5.7-2.3 11.7 13.5 5.8z"/>
<path fill="#d47810" d="M788.3 289.1l-6.6-1.8-1.8 14.3 6.6 1.9zM756.7 309.2l-7.6-2.5-2 14 7.6 2.5zM731.1 315.1l-8.3-2.9-2.2 13.8 8.4 3zM694.2 316.2l-9.3-3.5-2.3 13.5 9.3 3.6zM684.9 312.7l-9.5-3.6-2.3 13.4 9.5 3.7zM675.4 309.1l-9.7-3.7-2.3 13.3 9.7 3.8zM622.4 302.5l-10.7-4.4-2.5 13 10.7 4.4zM611.7 298.1l-11-4.4-2.5 12.9 11 4.5zM600.7 293.7l-11.1-4.5-2.5 12.9 11.1 4.5zM589.6 289.2l-11.3-4.6-2.5 12.8 11.3 4.7zM504.5 267.4l-12.4-5.3-2.7 12.2 12.4 5.4zM492.1 262.1l-12.5-5.4-2.7 12.2 12.5 5.4zM479.6 256.7l-12.7-5.4-2.7 12.1 12.7 5.5zM466.9 251.3l-12.9-5.5-2.6 12 12.8 5.6zM454 245.8l-12.9-5.6-2.7 12 13 5.6zM441.1 240.2l-13.1-5.6-2.7 11.9 13.1 5.7z"/>
<path fill="#fc9014" d="M778.4 360.8l-6.7-2.2-2.4 14.2 6.7 2.2zM755.3 368l-7.4-2.6-2.6 13.9 7.4 2.7zM721.6 370.5l-8.4-3.2-2.9 13.6 8.4 3.3zM674.5 366.6l-9.5-3.9-3.2 13.3 9.6 3.9zM665 362.7l-9.7-4-3.2 13.2 9.7 4.1zM611.1 354.5l-10.7-4.6-3.5 12.8 10.8 4.7zM600.4 349.9l-11-4.7-3.4 12.7 10.9 4.8zM589.4 345.2l-11.1-4.8-3.4 12.7 11.1 4.8zM528.6 332.6l-11.9-5.3-3.8 12.1 12 5.5zM516.7 327.3l-12.1-5.5-3.8 12.2 12.1 5.4zM504.6 321.8l-12.3-5.5-3.8 12.1 12.3 5.6zM492.3 316.3l-12.4-5.5-3.8 11.9 12.4 5.7zM438.1 305.3l-13-5.9-4 11.5 12.9 6.1zM425.1 299.4l-13-6-4.1 11.5 13.1 6zM412.1 293.4l-13.2-6.1-4 11.4 13.1 6.2z"/>
<path fill="#b86810" d="M789.6 215.7l-6.9-1.6-1.4 14.2 6.8 1.8zM782.7 214.1l-7-1.9-1.5 14.2 7.1 1.9zM781.3 228.3l-7.1-1.9-1.5 14.2 7.1 2zM774.2 226.4l-7.3-2-1.6 14.2 7.4 2zM765.3 238.6l-7.6-2.2-1.5 14.1 7.6 2.2zM748.3 248.1l-8.1-2.6-1.6 14 8.1 2.6zM740.2 245.5l-8.3-2.6-1.6 13.9 8.3 2.7zM730.3 256.8l-8.6-2.8-1.7 13.8 8.5 2.9zM721.7 254l-8.8-3-1.7 13.8 8.8 3zM712.9 251l-9.1-3-1.7 13.6 9.1 3.2zM702.1 261.6l-9.3-3.2-1.8 13.6 9.3 3.3zM692.8 258.4l-9.5-3.4-1.8 13.6 9.5 3.4zM683.3 255l-9.7-3.4-1.8 13.4 9.7 3.6zM673.6 251.6l-9.9-3.6-1.8 13.4 9.9 3.6zM641.4 253.8l-10.6-4-1.9 13.2 10.6 4zM630.8 249.8l-10.7-4-1.9 13.1 10.7 4.1zM620.1 245.8l-11-4.2-1.8 13.1 10.9 4.2zM609.1 241.6l-11.1-4.2-1.9 13 11.2 4.3zM598 237.4l-11.3-4.4-1.9 12.9 11.3 4.5zM586.7 233l-11.5-4.4-1.9 12.8 11.5 4.5zM537.9 227.4l-12.2-4.8-2 12.5 12.2 4.9zM525.7 222.6l-12.3-4.9-1.9 12.4 12.2 5zM513.4 217.7l-12.4-5-2 12.4 12.5 5zM501 212.7l-12.6-5.1-1.9 12.3 12.5 5.2zM488.4 207.6l-12.7-5.1-2 12.2 12.8 5.2zM475.7 202.5l-12.8-5.2-2 12.2 12.8 5.2z"/>
<path fill="#c87010" d="M776.6 271.1l-7.1-2.1-1.7 14.2 7.1 2.1zM760.4 281l-7.6-2.4-1.8 14 7.6 2.5zM743.2 290l-8.1-2.7-1.9 14 8.1 2.7zM707.4 292.2l-9-3.2-2 13.6 9 3.3zM657.9 288.2l-10.1-3.9-2.2 13.3 10.2 3.9zM647.8 284.3l-10.3-4-2.2 13.2 10.3 4.1zM637.5 280.3l-10.6-4.1-2.2 13.1 10.6 4.2zM569.2 267.1l-11.7-4.8-2.3 12.7 11.7 4.8zM557.5 262.3l-11.8-4.8-2.3 12.6 11.8 4.9zM545.7 257.5l-12-4.9-2.3 12.6 12 4.9zM533.7 252.6l-12.1-5-2.3 12.5 12.1 5.1zM521.6 247.6l-12.3-5-2.3 12.4 12.3 5.1zM430.5 222.7l-13.2-5.6-2.5 11.8 13.2 5.7zM417.3 217.1l-13.3-5.7-2.4 11.8 13.2 5.7zM404 211.4l-13.4-5.7-2.4 11.7 13.4 5.8zM390.6 205.7l-13.5-5.8-2.4 11.6 13.5 5.9z"/>
<path fill="#fc9418" d="M762.4 370.5l-7.1-2.5-2.6 14 7.1 2.6zM729.7 373.6l-8.1-3.1-2.9 13.7 8.2 3.2z"/>
<path fill="#b46810" d="M775.7 212.2l-7.4-1.9-1.4 14.1 7.3 2zM766.9 224.4l-7.6-2.1-1.6 14.1 7.6 2.2zM757.7 236.4l-7.8-2.4-1.6 14.1 7.9 2.4zM749.9 234l-8.1-2.4-1.6 13.9 8.1 2.6zM731.9 242.9l-8.6-2.8-1.6 13.9 8.6 2.8zM703.8 248l-9.3-3.2-1.7 13.6 9.3 3.2zM663.7 248l-10.2-3.7-1.8 13.3 10.2 3.8zM653.5 244.3l-10.3-3.8-1.8 13.3 10.3 3.8zM575.2 228.6l-11.6-4.5-1.9 12.8 11.6 4.5z"/>
<path fill="#b06410" d="M768.3 210.3l-7.6-2.1-1.4 14.1 7.6 2.1zM760.7 208.2l-7.8-2.2-1.5 14 7.9 2.3zM751.4 220l-8.1-2.4-1.5 14 8.1 2.4zM743.3 217.6l-8.3-2.5-1.5 13.9 8.3 2.6zM733.5 229l-8.6-2.7-1.6 13.8 8.6 2.8zM724.9 226.3l-8.8-2.8-1.6 13.8 8.8 2.8zM714.5 237.3l-9-3-1.7 13.7 9.1 3zM705.5 234.3l-9.3-3.1-1.7 13.6 9.3 3.2zM696.2 231.2l-9.5-3.3-1.7 13.6 9.5 3.3zM675.3 238.1l-9.9-3.5-1.7 13.4 9.9 3.6zM665.4 234.6l-10.2-3.6-1.7 13.3 10.2 3.7zM610.9 228.6l-11.1-4.2-1.8 13 11.1 4.2z"/>
<path fill="#b46410" d="M759.3 222.3l-7.9-2.3-1.5 14 7.8 2.4zM741.8 231.6l-8.3-2.6-1.6 13.9 8.3 2.6zM723.3 240.1l-8.8-2.8-1.6 13.7 8.8 3zM694.5 244.8l-9.5-3.3-1.7 13.5 9.5 3.4zM685 241.5l-9.7-3.4-1.7 13.5 9.7 3.4zM643.2 240.5l-10.6-3.9-1.8 13.2 10.6 4zM632.6 236.6l-10.7-4-1.8 13.2 10.7 4zM621.9 232.6l-11-4-1.8 13 11 4.2zM563.6 224.1l-11.9-4.6-1.8 12.7 11.8 4.7zM551.7 219.5l-12-4.7-1.8 12.6 12 4.8z"/>
<path fill="#b86c10" d="M756.2 250.5l-7.9-2.4-1.6 14 7.8 2.4z"/>
<path fill="#ac6410" d="M752.9 206l-8.1-2.3-1.5 13.9 8.1 2.4z"/>
<path fill="#ac600c" d="M744.8 203.7l-8.4-2.5-1.4 13.9 8.3 2.5zM726.4 212.5l-8.8-2.8-1.5 13.8 8.8 2.8zM717.6 209.7l-9.1-2.8-1.5 13.7 9.1 2.9zM707 220.6l-9.3-3.1-1.5 13.7 9.3 3.1zM697.7 217.5l-9.5-3.1-1.5 13.5 9.5 3.3zM688.2 214.4l-9.7-3.3-1.6 13.5 9.8 3.3zM667 221.1l-10.2-3.5-1.6 13.4 10.2 3.6zM656.8 217.6l-10.3-3.7-1.6 13.3 10.3 3.8zM646.5 213.9l-10.6-3.7-1.6 13.2 10.6 3.8zM635.9 210.2l-10.8-3.9-1.5 13.2 10.7 3.9zM612.6 215.5l-11.1-4.1-1.7 13 11.1 4.2zM601.5 211.4l-11.4-4.2-1.6 12.9 11.3 4.3zM590.1 207.2l-11.5-4.3-1.6 12.8 11.5 4.4zM578.6 202.9l-11.6-4.4-1.7 12.8 11.7 4.4zM567 198.5l-11.9-4.5-1.6 12.8 11.8 4.5zM555.1 194l-12-4.5-1.6 12.7 12 4.6zM517 192.7l-12.4-4.9-1.7 12.5 12.4 4.9zM504.6 187.8l-12.6-4.9-1.7 12.4 12.6 5zM492 182.9l-12.7-5-1.8 12.3 12.8 5.1zM479.3 177.9l-12.9-5-1.7 12.2 12.8 5.1zM466.4 172.9l-13-5.1-1.7 12.1 13 5.2zM453.4 167.8l-13.1-5.2-1.7 12 13.1 5.3zM440.3 162.6l-13.2-5.3-1.7 12 13.2 5.3zM427.1 157.3l-13.3-5.3-1.7 12 13.3 5.3zM413.8 152l-13.4-5.3-1.7 11.8 13.4 5.5z"/>
<path fill="#a8600c" d="M736.4 201.2l-8.6-2.6-1.4 13.9 8.6 2.6zM727.8 198.6l-8.8-2.6-1.4 13.7 8.8 2.8zM719 196l-9.1-2.9-1.4 13.8 9.1 2.8zM708.5 206.9l-9.3-3-1.5 13.6 9.3 3.1zM699.2 203.9l-9.5-3.1-1.5 13.6 9.5 3.1zM689.7 200.8l-9.7-3.2-1.5 13.5 9.7 3.3zM678.5 211.1l-10-3.4-1.5 13.4 9.9 3.5zM668.5 207.7l-10.1-3.5-1.6 13.4 10.2 3.5zM658.4 204.2l-10.4-3.6-1.5 13.3 10.3 3.7zM648 200.6l-10.6-3.6-1.5 13.2 10.6 3.7zM625.1 206.3l-10.9-3.9-1.6 13.1 11 4zM614.2 202.4l-11.2-4.1-1.5 13.1 11.1 4.1zM603 198.3l-11.3-4.1-1.6 13 11.4 4.2zM591.7 194.2l-11.5-4.2-1.6 12.9 11.5 4.3zM543.1 189.5l-12.1-4.6-1.7 12.6 12.2 4.7zM531 184.9l-12.3-4.7-1.7 12.5 12.3 4.8zM518.7 180.2l-12.5-4.8-1.6 12.4 12.4 4.9zM506.2 175.4l-12.6-4.9-1.6 12.4 12.6 4.9zM400.4 146.7l-13.6-5.4-1.6 11.7 13.5 5.5z"/>
<path fill="#ac640c" d="M735 215.1l-8.6-2.6-1.5 13.8 8.6 2.7zM716.1 223.5l-9.1-2.9-1.5 13.7 9 3zM676.9 224.6l-9.9-3.5-1.6 13.5 9.9 3.5zM623.6 219.5l-11-4-1.7 13.1 11 4z"/>
<path fill="#f88c14" d="M704.6 363.9l-8.8-3.4-2.9 13.5 8.8 3.5zM645.3 354.6l-10.1-4.2-3.2 13 10.2 4.3zM567 335.5l-11.4-5-3.5 12.5 11.5 5.1zM555.6 330.5l-11.7-5.1-3.4 12.4 11.6 5.2zM479.9 310.8l-12.6-5.7-3.7 11.9 12.5 5.7zM467.3 305.1l-12.7-5.7-3.7 11.8 12.7 5.8zM454.6 299.4l-12.8-5.8-3.7 11.7 12.8 5.9zM385.7 281.2l-13.4-6.2-4.1 11.3 13.4 6.2zM372.3 275l-13.5-6.2-4 11.1 13.4 6.4z"/>
<path fill="#d07410" d="M705.4 305.9l-9-3.3-2.2 13.6 9 3.4zM645.6 297.6l-10.3-4.1-2.3 13.2 10.3 4.1zM555.2 275l-11.8-4.9-2.5 12.6 11.8 5zM543.4 270.1l-12-4.9-2.5 12.5 12 5zM531.4 265.2l-12.1-5.1-2.5 12.5 12.1 5.1zM519.3 260.1l-12.3-5.1-2.5 12.4 12.3 5.2zM428 234.6l-13.2-5.7-2.6 11.8 13.1 5.8zM414.8 228.9l-13.2-5.7-2.7 11.7 13.3 5.8zM401.6 223.2l-13.4-5.8-2.7 11.6 13.4 5.9zM388.2 217.4l-13.5-5.9-2.7 11.6 13.5 5.9z"/>
<path fill="#d87c10" d="M703.2 319.6l-9-3.4-2.3 13.6 9 3.5zM653.5 314.8l-10.2-4-2.5 13.2 10.2 4.1zM643.3 310.8l-10.3-4.1-2.5 13.1 10.3 4.2zM633 306.7l-10.6-4.2-2.5 13 10.6 4.3zM564.4 292.6l-11.7-4.9-2.7 12.6 11.7 5zM552.7 287.7l-11.8-5-2.7 12.6 11.8 5zM540.9 282.7l-12-5-2.7 12.5 12 5.1zM425.3 246.5l-13.1-5.8-2.9 11.8 13.1 5.8zM412.2 240.7l-13.3-5.8-2.9 11.7 13.3 5.9z"/>
<path fill="#a45c0c" d="M709.9 193.1l-9.3-2.9-1.4 13.7 9.3 3zM700.6 190.2l-9.5-3-1.4 13.6 9.5 3.1zM691.1 187.2l-9.7-3.1-1.4 13.5 9.7 3.2zM681.4 184.1l-10-3.3-1.4 13.5 10 3.3zM680 197.6l-10-3.3-1.5 13.4 10 3.4zM670 194.3l-10.2-3.5-1.4 13.4 10.1 3.5zM659.8 190.8l-10.3-3.5-1.5 13.3 10.4 3.6zM649.5 187.3l-10.6-3.6-1.5 13.3 10.6 3.6zM638.9 183.7l-10.8-3.7-1.4 13.2 10.7 3.8zM628.1 180l-11-3.8-1.4 13.1 11 3.9zM626.7 193.2l-11-3.9-1.5 13.1 10.9 3.9zM615.7 189.3l-11.2-4-1.5 13 11.2 4.1zM604.5 185.3l-11.3-4-1.5 12.9 11.3 4.1zM593.2 181.3l-11.5-4.2-1.5 12.9 11.5 4.2zM581.7 177.1l-11.7-4.2-1.5 12.8 11.7 4.3zM570 172.9l-11.9-4.4-1.4 12.8 11.8 4.4zM558.1 168.5l-12-4.4-1.4 12.7 12 4.5zM544.7 176.8l-12.2-4.5-1.5 12.6 12.1 4.6zM532.5 172.3l-12.3-4.7-1.5 12.6 12.3 4.7zM520.2 167.6l-12.5-4.7-1.5 12.5 12.5 4.8zM507.7 162.9l-12.6-4.7-1.5 12.3 12.6 4.9zM495.1 158.2l-12.7-4.9-1.5 12.3 12.7 4.9zM482.4 153.3l-12.9-4.9-1.5 12.3 12.9 4.9zM469.5 148.4l-13-5-1.5 12.2 13 5.1zM456.5 143.4l-13.1-5-1.5 12.1 13.1 5.1zM443.4 138.4l-13.3-5.1-1.4 12 13.2 5.2zM428.7 145.3l-13.4-5.2-1.5 11.9 13.3 5.3zM415.3 140.1l-13.4-5.3-1.5 11.9 13.4 5.3zM401.9 134.8l-13.5-5.3-1.6 11.8 13.6 5.4z"/>
<path fill="#b0640c" d="M686.7 227.9l-9.8-3.3-1.6 13.5 9.7 3.4zM655.2 231l-10.3-3.8-1.7 13.3 10.3 3.8zM644.9 227.2l-10.6-3.8-1.7 13.2 10.6 3.9zM634.3 223.4l-10.7-3.9-1.7 13.1 10.7 4zM599.8 224.4l-11.3-4.3-1.8 12.9 11.3 4.4zM588.5 220.1l-11.5-4.4-1.8 12.9 11.5 4.4zM577 215.7l-11.7-4.4-1.7 12.8 11.6 4.5zM565.3 211.3l-11.8-4.5-1.8 12.7 11.9 4.6zM553.5 206.8l-12-4.6-1.8 12.6 12 4.7zM541.5 202.2l-12.2-4.7-1.7 12.5 12.1 4.8zM490.3 195.3l-12.8-5.1-1.8 12.3 12.7 5.1zM477.5 190.2l-12.8-5.1-1.8 12.2 12.8 5.2zM464.7 185.1l-13-5.2-1.8 12.1 13 5.3zM451.7 179.9l-13.1-5.3-1.8 12.1 13.1 5.3zM438.6 174.6l-13.2-5.3-1.8 12 13.2 5.4z"/>
<path fill="#e48014" d="M660.9 332.1l-9.9-4-2.7 13.3 9.9 4zM573.1 310.1l-11.4-4.8-3 12.6 11.5 4.9zM561.7 305.3l-11.7-5-2.9 12.6 11.6 5zM461.3 275.5l-12.9-5.7-3.1 11.9 12.8 5.8zM448.4 269.8l-12.9-5.7-3.2 11.9 13 5.7z"/>
<path fill="#a05c0c" d="M671.4 180.8l-10.2-3.3-1.4 13.3 10.2 3.5zM661.2 177.5l-10.3-3.5-1.4 13.3 10.3 3.5zM650.9 174l-10.6-3.5-1.4 13.2 10.6 3.6zM617.1 176.2l-11.1-3.9-1.5 13 11.2 4zM606 172.3l-11.4-4-1.4 13 11.3 4zM594.6 168.3l-11.5-4.1-1.4 12.9 11.5 4.2zM546.1 164.1l-12.2-4.4-1.4 12.6 12.2 4.5zM533.9 159.7l-12.3-4.6-1.4 12.5 12.3 4.7z"/>
<path fill="#bc6810" d="M651.7 257.6l-10.3-3.8-1.9 13.2 10.3 4zM573.3 241.4l-11.6-4.5-2 12.7 11.6 4.7zM561.7 236.9l-11.8-4.7-2 12.7 11.8 4.7zM549.9 232.2l-12-4.8-2 12.6 12 4.9zM460.9 209.5l-13-5.4-2.1 12.1 13 5.4zM447.9 204.1l-13-5.4-2.1 12 13 5.5zM434.9 198.7l-13.2-5.4-2.1 11.9 13.2 5.5zM421.7 193.3l-13.3-5.6-2.1 11.9 13.3 5.6zM408.4 187.7l-13.4-5.5-2.1 11.7 13.4 5.7zM395 182.2l-13.5-5.7-2.1 11.7 13.5 5.7z"/>
<path fill="#a0580c" d="M640.3 170.5l-10.8-3.7-1.4 13.2 10.8 3.7zM629.5 166.8l-11-3.7-1.4 13.1 11 3.8zM618.5 163.1l-11.2-3.9-1.3 13.1 11.1 3.9zM583.1 164.2l-11.7-4.2-1.4 12.9 11.7 4.2zM571.4 160l-11.9-4.2-1.4 12.7 11.9 4.4zM559.5 155.8l-12-4.4-1.4 12.7 12 4.4zM547.5 151.4l-12.2-4.4-1.4 12.7 12.2 4.4zM521.6 155.1l-12.5-4.6-1.4 12.4 12.5 4.7zM509.1 150.5l-12.6-4.7-1.4 12.4 12.6 4.7zM496.5 145.8l-12.7-4.8-1.4 12.3 12.7 4.9zM483.8 141l-12.9-4.8-1.4 12.2 12.9 4.9zM470.9 136.2l-13-4.9-1.4 12.1 13 5zM457.9 131.3l-13.1-5-1.4 12.1 13.1 5zM444.8 126.3l-13.3-5-1.4 12 13.3 5.1zM430.1 133.3l-13.3-5.1-1.5 11.9 13.4 5.2zM416.8 128.2l-13.4-5.3-1.5 11.9 13.4 5.3zM403.4 122.9l-13.6-5.2-1.4 11.8 13.5 5.3z"/>
<path fill="#a85c0c" d="M637.4 197l-10.7-3.8-1.6 13.1 10.8 3.9zM580.2 190l-11.7-4.3-1.5 12.8 11.6 4.4zM568.5 185.7l-11.8-4.4-1.6 12.7 11.9 4.5zM556.7 181.3l-12-4.5-1.6 12.7 12 4.5zM493.6 170.5l-12.7-4.9-1.6 12.3 12.7 5zM480.9 165.6l-12.9-4.9-1.6 12.2 12.9 5zM468 160.7l-13-5.1-1.6 12.2 13 5.1zM455 155.6l-13.1-5.1-1.6 12.1 13.1 5.2zM441.9 150.5l-13.2-5.2-1.6 12 13.2 5.3z"/>
<path fill="#fc8c10" d="M357.9 688.7l-10.1-7-9.9 8.9 10.2 7zM348.1 697.6l-10.2-7-9.8 8.9 10.1 7.1zM357.6 672.8l-10.4-7-9.8 8.9 10.4 7zM347.8 681.7l-10.4-7-9.8 8.8 10.3 7.1zM337.9 690.6l-10.3-7.1-9.8 8.7 10.3 7.3zM366.8 648.1l-10.6-6.9-9.8 8.8 10.6 7zM357 657l-10.6-7-9.7 8.7 10.5 7.1zM347.2 665.8l-10.5-7.1-9.8 8.8 10.5 7.2zM337.4 674.7l-10.5-7.2-9.8 8.7 10.5 7.3zM365.9 632.4l-10.8-7-9.7 8.8 10.8 7zM356.2 641.2l-10.8-7-9.7 8.7 10.7 7.1zM346.4 650l-10.7-7.1-9.8 8.6 10.8 7.2zM364.8 616.7l-11-7-9.7 8.7 11 7zM355.1 625.4l-11-7-9.7 8.6 11 7.2zM363.4 601l-11.2-7.1-9.6 8.7 11.2 7.1zM353.8 609.7l-11.2-7.1-9.6 8.6 11.1 7.2zM352.2 593.9l-11.3-7.1-9.6 8.6 11.3 7.2zM350.4 578.2l-11.5-7.1-9.5 8.5 11.5 7.2zM348.4 562.5l-11.7-7.1-9.5 8.5 11.7 7.2zM338.9 571.1l-11.7-7.2-9.5 8.4 11.7 7.3zM336.7 555.4l-11.9-7.3-9.4 8.4 11.8 7.4zM334.2 539.7l-12-7.3-9.4 8.4 12 7.3zM322.2 532.4l-12.2-7.3-9.3 8.3 12.1 7.4zM319.3 516.8l-12.3-7.4-9.2 8.3 12.2 7.4zM307 509.4l-12.4-7.4-9.2 8.2 12.4 7.5zM303.7 493.7l-12.6-7.4-9.1 8.2 12.6 7.5zM291.1 486.3l-12.7-7.4-9 8.1 12.6 7.5zM274.6 463.2l-12.9-7.5-9 8 12.9 7.6zM257.5 440l-13.2-7.5-8.8 8 13.2 7.6z"/>
<path fill="#9c580c" d="M607.3 159.2l-11.3-3.9-1.4 13 11.4 4zM596 155.3l-11.6-4-1.3 12.9 11.5 4.1zM584.4 151.3l-11.7-4.1-1.3 12.8 11.7 4.2zM572.7 147.2l-11.9-4.2-1.3 12.8 11.9 4.2zM560.8 143l-12-4.3-1.3 12.7 12 4.4zM548.8 138.7l-12.2-4.3-1.3 12.6 12.2 4.4zM536.6 134.4l-12.3-4.4-1.3 12.5 12.3 4.5zM535.3 147l-12.3-4.5-1.4 12.6 12.3 4.6zM524.3 130l-12.5-4.5-1.3 12.5 12.5 4.5zM523 142.5l-12.5-4.5-1.4 12.5 12.5 4.6zM510.5 138l-12.6-4.6-1.4 12.4 12.6 4.7zM497.9 133.4l-12.8-4.7-1.3 12.3 12.7 4.8zM485.1 128.7l-12.9-4.8-1.3 12.3 12.9 4.8zM472.2 123.9l-13-4.8-1.3 12.2 13 4.9zM459.2 119.1l-13.1-4.9-1.3 12.1 13.1 5zM446.1 114.2l-13.3-5-1.3 12.1 13.3 5zM431.5 121.3l-13.3-5.1-1.4 12 13.3 5.1zM418.2 116.2l-13.5-5.1-1.3 11.8 13.4 5.3zM404.7 111.1l-13.6-5.2-1.3 11.8 13.6 5.2z"/>
<path fill="#dc7c10" d="M587.1 302.1l-11.3-4.7-2.7 12.7 11.3 4.8zM575.8 297.4l-11.4-4.8-2.7 12.7 11.4 4.8zM489.4 274.3l-12.5-5.4-2.9 12.1 12.5 5.5zM476.9 268.9l-12.7-5.5-2.9 12.1 12.7 5.5zM464.2 263.4l-12.8-5.6-3 12 12.9 5.7zM451.4 257.8l-13-5.6-2.9 11.9 12.9 5.7zM438.4 252.2l-13.1-5.7-2.9 11.8 13.1 5.8z"/>
<path fill="#ec8414" d="M535.3 307.8l-12-5.2-3.2 12.4 12 5.2zM445.3 281.7l-13-5.7-3.4 11.7 12.9 5.9zM432.3 276l-13-5.9-3.5 11.7 13.1 5.9zM419.3 270.1l-13.2-5.9-3.4 11.6 13.1 6zM406.1 264.2l-13.3-6-3.4 11.6 13.3 6z"/>
<path fill="#b4640c" d="M539.7 214.8l-12.1-4.8-1.9 12.6 12.2 4.8zM527.6 210l-12.3-4.8-1.9 12.5 12.3 4.9zM515.3 205.2l-12.4-4.9-1.9 12.4 12.4 5zM502.9 200.3l-12.6-5-1.9 12.3 12.6 5.1zM449.9 192l-13.1-5.3-1.9 12 13 5.4zM436.8 186.7l-13.2-5.4-1.9 12 13.2 5.4zM423.6 181.3l-13.3-5.4-1.9 11.8 13.3 5.6zM410.3 175.9l-13.4-5.5-1.9 11.8 13.4 5.5zM396.9 170.4l-13.5-5.6-1.9 11.7 13.5 5.7z"/>
<path fill="#d87810" d="M528.9 277.7l-12.1-5.1-2.7 12.4 12.1 5.2zM516.8 272.6l-12.3-5.2-2.7 12.3 12.3 5.3zM398.9 234.9l-13.4-5.9-2.9 11.7 13.4 5.9zM385.5 229l-13.5-5.9-2.9 11.5 13.5 6.1z"/>
<path fill="#b0600c" d="M529.3 197.5l-12.3-4.8-1.7 12.5 12.3 4.8zM425.4 169.3l-13.3-5.3-1.8 11.9 13.3 5.4zM412.1 164l-13.4-5.5-1.8 11.9 13.4 5.5zM398.7 158.5l-13.5-5.5-1.8 11.8 13.5 5.6z"/>
<path fill="#e08010" d="M514.1 285l-12.3-5.3-2.9 12.3 12.3 5.3zM409.3 252.5l-13.3-5.9-3.2 11.6 13.3 6zM396 246.6l-13.4-5.9-3.1 11.5 13.3 6z"/>
<path fill="#f48814" d="M508 309.6l-12.3-5.4-3.4 12.1 12.3 5.5zM415.8 281.8l-13.1-6-3.8 11.5 13.2 6.1zM402.7 275.8l-13.3-6-3.7 11.4 13.2 6.1z"/>
<path fill="#e07c10" d="M501.8 279.7l-12.4-5.4-2.9 12.2 12.4 5.5zM382.6 240.7l-13.5-6.1-3.1 11.5 13.5 6.1z"/>
<path fill="#98540c" d="M511.8 125.5l-12.7-4.6-1.2 12.5 12.6 4.6zM499.1 120.9l-12.7-4.6-1.3 12.4 12.8 4.7zM486.4 116.3l-12.9-4.7-1.3 12.3 12.9 4.8zM473.5 111.6l-13.1-4.7-1.2 12.2 13 4.8zM460.4 106.9l-13.1-4.8-1.2 12.1 13.1 4.9zM447.3 102.1l-13.3-4.9-1.2 12 13.3 5zM434 97.2l-13.4-4.9-1.2 11.9 13.4 5zM420.6 92.3l-13.4-5-1.2 11.9 13.4 5zM407.2 87.3l-13.6-5.1-1.2 11.9 13.6 5.1zM406 99.2l-13.6-5.1-1.3 11.8 13.6 5.2z"/>
<path fill="#b8680c" d="M462.9 197.3l-13-5.3-2 12.1 13 5.4z"/>
<path fill="#c46c10" d="M458.8 221.6l-13-5.4-2.2 12 12.9 5.5zM445.8 216.2l-13-5.5-2.3 12 13.1 5.5zM432.8 210.7l-13.2-5.5-2.3 11.9 13.2 5.6z"/>
<path fill="#cc7010" d="M443.6 228.2l-13.1-5.5-2.5 11.9 13.1 5.6z"/>
<path fill="#e48010" d="M435.5 264.1l-13.1-5.8-3.1 11.8 13 5.9zM422.4 258.3l-13.1-5.8-3.2 11.7 13.2 5.9z"/>
<path fill="#9c540c" d="M432.8 109.2l-13.4-5-1.2 12 13.3 5.1zM419.4 104.2l-13.4-5-1.3 11.9 13.5 5.1z"/>
<path fill="#f88410" d="M153.5 563.7l-12.6-8.6-9.5 7.3 12.5 8.7zM159.9 540.3l-12.8-8.5-9.4 7.3 12.7 8.6zM150.4 547.7l-12.7-8.6-9.5 7.3 12.7 8.7zM140.9 555.1l-12.7-8.7-9.5 7.2 12.7 8.8zM156.6 524.4l-12.9-8.5-9.4 7.3 12.8 8.6zM147.1 531.8l-12.8-8.6-9.4 7.2 12.8 8.7zM137.7 539.1l-12.8-8.7-9.5 7.2 12.8 8.8zM128.2 546.4l-12.8-8.8-9.5 7.2 12.8 8.8z"/>
</g>
<g clip-path="url(#cpa)"><use href="#sfa" filter="url(#bl)"/></g>
<path class="ms" d="M819.7 222l-1.6 16.4-1.6 15.5-1.5 14.7-1.6 14-1.5 13.3-1.5 12.6-1.5 12.1-1.5 11.4-1.4 11-1.5 10.4-1.4 9.9-1.5 9.5-1.5 9.1-1.4 8.7-1.5 8.3-1.5 7.9-1.5 7.7-1.5 7.3-1.5 7.1-1.5 6.7-1.5 6.5-1.6 6.3-1.6 6.1-1.6 5.9-1.6 5.6-1.7 5.5-1.7 5.4-1.7 5.1-1.8 5.1-1.8 4.9-1.8 4.7-1.9 4.7-1.9 4.6-1.9 4.5-2 4.4-2.1 4.3-2 4.3-2.2 4.2-2.2 4.1-2.2 4.1-2.3 4.1-2.4 4.1-2.4 4-2.5 4-2.5 4-2.6 4-2.7 4-2.8 4.1-2.8 4-3 4.1-3 4.1-3.1 4.1-3.2 4.2-3.2 4.2-3.4 4.3-3.5 4.3-3.5 4.4-3.7 4.4-3.8 4.6-3.9 4.6-4 4.7-4.2 4.8-4.3 4.9-4.4 5-4.5 5.2-4.7 5.2-4.9 5.4-5 5.5-5.1 5.7-5.3 5.8-5.5 5.9-5.7 6.2-5.9 6.3-6.1 6.4-6.2 6.7-6.5 6.9-6.7 7.1-7 7.3-7.1 7.5-7.5 7.8-7.7 8-7.9 8.3-8.3 8.6-8.5 8.9-8.9 9.2-9.2 9.5-9.5 9.8-9.9 10.2-10.3 10.6M784.1 214.4l-1.5 15.2-1.6 14.4-1.5 13.8-1.5 13.2-1.5 12.5-1.5 12-1.5 11.5-1.4 11-1.5 10.5-1.5 10.1-1.5 9.6-1.5 9.2-1.5 8.9-1.5 8.5-1.5 8.2-1.5 7.9-1.5 7.6-1.6 7.3-1.6 7.1-1.6 6.8-1.6 6.5-1.6 6.4-1.7 6.1-1.7 6-1.7 5.8-1.7 5.6-1.8 5.5-1.8 5.3-1.8 5.2-1.9 5-1.9 5-2 4.8-1.9 4.7-2.1 4.7-2 4.6-2.2 4.5-2.1 4.4-2.3 4.4-2.2 4.3-2.3 4.3-2.4 4.2-2.5 4.2-2.5 4.2-2.5 4.2-2.6 4.1-2.7 4.2-2.8 4.1-2.8 4.1-2.9 4.2-3 4.2-3 4.2-3.2 4.2-3.2 4.2-3.3 4.3-3.4 4.3-3.5 4.4-3.6 4.4-3.7 4.5-3.8 4.6-3.9 4.6-4 4.7-4.1 4.7-4.3 4.9-4.3 4.9-4.5 5.1-4.6 5.1-4.8 5.3-4.9 5.3-5.1 5.5-5.2 5.6-5.3 5.8-5.6 5.9-5.7 6-5.8 6.2-6.1 6.3-6.3 6.6-6.4 6.7-6.7 6.9-6.8 7-7.1 7.3-7.3 7.5-7.6 7.8-7.8 7.9-8.1 8.3-8.3 8.4-8.7 8.8-8.9 9-9.3 9.3-9.5 9.6M750.9 205.4l-1.5 14.5-1.5 13.8-1.5 13.1-1.5 12.7-1.4 12.1-1.5 11.5-1.5 11.1-1.4 10.7-1.5 10.2-1.5 9.8-1.5 9.4-1.5 9-1.5 8.7-1.5 8.4-1.5 8.1-1.6 7.8-1.5 7.5-1.6 7.2-1.6 7-1.6 6.8-1.7 6.5-1.7 6.4-1.6 6.1-1.8 6-1.7 5.8-1.8 5.7-1.8 5.5-1.9 5.4-1.8 5.2-2 5.1-1.9 5-2 4.9-2 4.8-2.1 4.7-2.1 4.7-2.2 4.5-2.2 4.5-2.3 4.5-2.3 4.4-2.3 4.3-2.5 4.3-2.4 4.3-2.6 4.2-2.6 4.2-2.6 4.2-2.8 4.2-2.7 4.2-2.9 4.2-2.9 4.2-3 4.2-3.1 4.2-3.2 4.2-3.2 4.3-3.4 4.3-3.4 4.3-3.5 4.4-3.6 4.4-3.7 4.4-3.7 4.5-3.9 4.6-4 4.6-4.2 4.7-4.2 4.8-4.3 4.9-4.5 4.9-4.6 5.1-4.7 5.1-4.8 5.2-5 5.4-5.2 5.4-5.2 5.6-5.5 5.7-5.6 5.9-5.7 5.9-6 6.1-6.1 6.3-6.3 6.4-6.5 6.6-6.7 6.8-6.8 6.9-7.2 7.2-7.3 7.3-7.5 7.6-7.8 7.7-8.1 8-8.3 8.3-8.6 8.4-8.9 8.8-9.1 9M719 196l-1.4 13.8-1.5 13.3-1.4 12.8-1.5 12.2-1.4 11.7-1.5 11.2-1.4 10.8-1.5 10.4-1.4 9.9-1.5 9.6-1.5 9.2-1.5 8.9-1.5 8.5-1.5 8.3-1.5 7.9-1.6 7.7-1.6 7.4-1.5 7.2-1.7 7-1.6 6.7-1.7 6.5-1.6 6.3-1.8 6.2-1.7 5.9-1.8 5.8-1.8 5.7-1.8 5.5-1.9 5.4-1.9 5.2-1.9 5.1-2 5.1-2 4.9-2.1 4.8-2.1 4.7-2.2 4.7-2.1 4.6-2.3 4.5-2.3 4.5-2.3 4.4-2.4 4.4-2.5 4.3-2.5 4.3-2.5 4.2-2.7 4.3-2.6 4.2-2.8 4.2-2.8 4.2-2.9 4.2-2.9 4.2-3.1 4.2-3.1 4.2-3.1 4.2-3.3 4.2-3.3 4.3-3.4 4.3-3.6 4.3-3.6 4.4-3.7 4.4-3.7 4.5-3.9 4.5-4 4.6-4.1 4.6-4.2 4.7-4.3 4.8-4.5 4.9-4.5 4.9-4.7 5-4.8 5.1-5 5.2-5.1 5.4-5.2 5.4-5.3 5.5-5.6 5.7-5.7 5.8-5.8 5.9-6 6-6.2 6.2-6.4 6.4-6.5 6.5-6.8 6.7-6.9 6.8-7.2 7-7.4 7.2-7.6 7.4-7.8 7.7-8.1 7.8-8.4 8-8.6 8.3-8.8 8.6M688.2 186.3l-1.4 13.4-1.4 12.9-1.4 12.3-1.4 11.9-1.5 11.4-1.4 10.9-1.4 10.6-1.4 10.1-1.5 9.7-1.4 9.4-1.5 9.1-1.5 8.7-1.5 8.4-1.5 8.1-1.6 7.8-1.5 7.6-1.6 7.4-1.6 7.1-1.6 6.8-1.7 6.7-1.6 6.5-1.7 6.2-1.8 6.1-1.7 6-1.8 5.8-1.8 5.6-1.9 5.5-1.9 5.3-1.9 5.3-1.9 5.1-2 5-2.1 4.9-2.1 4.9-2.1 4.7-2.2 4.7-2.2 4.6-2.2 4.5-2.4 4.5-2.3 4.4-2.4 4.4-2.5 4.3-2.5 4.3-2.6 4.2-2.6 4.3-2.7 4.2-2.8 4.2-2.8 4.2-2.9 4.1-3 4.2-3 4.2-3.2 4.2-3.1 4.2-3.3 4.2-3.4 4.2-3.4 4.3-3.5 4.3-3.6 4.3-3.7 4.4-3.8 4.4-3.9 4.5-3.9 4.5-4.1 4.5-4.2 4.7-4.3 4.7-4.4 4.7-4.6 4.9-4.6 4.9-4.8 5-4.9 5.1-5 5.2-5.2 5.2-5.3 5.4-5.5 5.5-5.6 5.6-5.8 5.8-5.9 5.8-6.1 6-6.3 6.2-6.5 6.3-6.6 6.4-6.9 6.6-7 6.7-7.2 7-7.5 7.1-7.7 7.3-7.9 7.5-8.1 7.7-8.4 7.9-8.7 8.1M658.2 176.5l-1.3 13-1.4 12.5-1.4 12.1-1.4 11.5-1.3 11.1-1.4 10.7-1.4 10.3-1.5 10-1.4 9.5-1.4 9.2-1.5 8.9-1.5 8.6-1.5 8.3-1.5 8-1.5 7.7-1.6 7.5-1.5 7.2-1.6 7.1-1.7 6.8-1.6 6.6-1.7 6.4-1.7 6.2-1.7 6.1-1.8 5.9-1.8 5.7-1.8 5.6-1.9 5.5-1.9 5.3-1.9 5.2-2 5.1-2 5-2.1 4.9-2.1 4.9-2.1 4.7-2.2 4.6-2.2 4.6-2.3 4.5-2.3 4.5-2.4 4.4-2.4 4.4-2.5 4.3-2.6 4.3-2.6 4.2-2.6 4.2-2.7 4.2-2.8 4.2-2.8 4.2-3 4.1-2.9 4.2-3.1 4.1-3.1 4.2-3.2 4.2-3.3 4.1-3.3 4.2-3.4 4.3-3.6 4.2-3.6 4.3-3.7 4.3-3.7 4.4-3.9 4.4-4 4.4-4.1 4.5-4.2 4.5-4.2 4.7-4.4 4.6-4.5 4.8-4.7 4.8-4.7 4.9-4.9 5-5 5-5.1 5.2-5.3 5.2-5.4 5.4-5.6 5.5-5.7 5.5-5.9 5.7-6 5.8-6.2 6-6.4 6.1-6.5 6.2-6.8 6.4-6.9 6.5-7.1 6.7-7.4 6.8-7.5 7-7.8 7.2-8 7.4-8.2 7.6-8.5 7.8M629 166.7l-1.3 12.7-1.3 12.2-1.4 11.7-1.3 11.3-1.4 10.9-1.3 10.5-1.4 10.1-1.4 9.7-1.4 9.4-1.5 9-1.4 8.8-1.5 8.4-1.5 8.1-1.5 7.9-1.5 7.7-1.5 7.4-1.6 7.1-1.6 7-1.6 6.7-1.7 6.5-1.7 6.4-1.7 6.2-1.7 6-1.8 5.8-1.8 5.7-1.8 5.6-1.9 5.4-1.9 5.3-2 5.2-1.9 5.1-2.1 5-2 4.9-2.1 4.8-2.2 4.7-2.2 4.6-2.2 4.6-2.3 4.5-2.4 4.4-2.3 4.4-2.5 4.3-2.5 4.3-2.5 4.3-2.6 4.2-2.7 4.2-2.7 4.2-2.8 4.2-2.9 4.1-2.9 4.1-3 4.1-3 4.2-3.2 4.1-3.2 4.1-3.2 4.2-3.4 4.1-3.4 4.2-3.5 4.2-3.6 4.2-3.7 4.3-3.8 4.3-3.9 4.3-3.9 4.4-4.1 4.4-4.2 4.5-4.2 4.5-4.4 4.6-4.5 4.7-4.6 4.7-4.8 4.8-4.8 4.8-5 5-5.1 5-5.2 5.2-5.4 5.2-5.5 5.3-5.7 5.4-5.8 5.6-6 5.6-6.1 5.8-6.3 5.9-6.5 6-6.6 6.2-6.9 6.3-7 6.4-7.2 6.6-7.5 6.8-7.6 7-7.9 7.1-8.1 7.3-8.3 7.5M600.6 156.9l-1.3 12.4-1.3 11.9-1.3 11.5-1.4 11.1-1.3 10.6-1.3 10.3-1.4 9.9-1.4 9.5-1.4 9.3-1.4 8.9-1.4 8.6-1.5 8.3-1.5 8-1.4 7.8-1.6 7.5-1.5 7.3-1.6 7.1-1.6 6.8-1.6 6.7-1.7 6.5-1.6 6.3-1.7 6.1-1.8 5.9-1.8 5.8-1.8 5.7-1.8 5.5-1.9 5.4-1.9 5.3-2 5.2-1.9 5-2.1 5-2 4.8-2.2 4.8-2.1 4.7-2.2 4.6-2.3 4.5-2.3 4.5-2.3 4.4-2.4 4.4-2.5 4.3-2.5 4.3-2.5 4.2-2.7 4.2-2.6 4.2-2.8 4.1-2.8 4.2-2.8 4.1-2.9 4.1-3 4.1-3.1 4-3.1 4.1-3.2 4.1-3.3 4.1-3.4 4.1-3.4 4.2-3.5 4.1-3.6 4.2-3.7 4.2-3.8 4.2-3.8 4.3-4 4.3-4 4.3-4.2 4.4-4.3 4.5-4.3 4.5-4.5 4.6-4.6 4.6-4.7 4.7-4.8 4.8-5 4.8-5 4.9-5.2 5-5.4 5.1-5.4 5.2-5.7 5.3-5.7 5.4-5.9 5.5-6.1 5.6-6.3 5.7-6.4 5.9-6.6 6-6.7 6.1-7 6.2-7.1 6.4-7.3 6.6-7.6 6.7-7.7 6.9-8 7-8.2 7.2M572.7 147.2l-1.2 12.1-1.3 11.7-1.3 11.2-1.3 10.9-1.3 10.4-1.3 10.1-1.3 9.7-1.4 9.4-1.4 9.1-1.4 8.7-1.4 8.5-1.4 8.2-1.5 7.9-1.5 7.7-1.5 7.4-1.5 7.2-1.6 7-1.6 6.8-1.6 6.6-1.7 6.4-1.6 6.2-1.8 6.1-1.7 5.9-1.8 5.7-1.8 5.7-1.8 5.4-1.9 5.4-1.9 5.2-2 5.1-2 5.1-2 4.9-2.1 4.8-2.1 4.7-2.2 4.7-2.2 4.6-2.2 4.5-2.4 4.4-2.3 4.4-2.4 4.4-2.5 4.3-2.5 4.2-2.5 4.2-2.7 4.2-2.6 4.1-2.8 4.1-2.8 4.1-2.8 4.1-3 4.1-3 4-3 4.1-3.2 4-3.2 4.1-3.3 4-3.3 4.1-3.4 4.1-3.6 4.1-3.6 4.1-3.6 4.1-3.8 4.2-3.9 4.2-3.9 4.3-4.1 4.2-4.1 4.4-4.3 4.3-4.3 4.5-4.5 4.4-4.5 4.6-4.7 4.6-4.8 4.7-4.9 4.7-5.1 4.8-5.1 4.9-5.3 5-5.5 5-5.6 5.2-5.7 5.3-5.8 5.3-6.1 5.5-6.1 5.5-6.4 5.7-6.5 5.8-6.7 6-6.9 6-7 6.2-7.3 6.4-7.4 6.5-7.7 6.6-7.9 6.8-8.1 7M545.5 137.6l-1.2 11.8-1.2 11.5-1.3 11-1.3 10.6-1.2 10.3-1.3 9.9-1.4 9.6-1.3 9.2-1.4 8.9-1.4 8.6-1.4 8.4-1.4 8-1.4 7.8-1.5 7.6-1.5 7.4-1.6 7.1-1.5 6.9-1.6 6.7-1.6 6.5-1.7 6.4-1.6 6.1-1.8 6-1.7 5.9-1.8 5.7-1.8 5.5-1.8 5.5-1.9 5.3-1.9 5.2-2 5.1-2 4.9-2 4.9-2.1 4.8-2.1 4.7-2.2 4.6-2.2 4.6-2.3 4.5-2.3 4.4-2.3 4.4-2.5 4.3-2.4 4.2-2.5 4.2-2.6 4.2-2.6 4.2-2.7 4.1-2.8 4-2.8 4.1-2.8 4-3 4.1-3 4-3 4-3.2 4-3.2 4-3.2 4-3.4 4-3.4 4.1-3.5 4-3.6 4.1-3.7 4.1-3.8 4.1-3.8 4.1-4 4.2-4 4.2-4.1 4.3-4.3 4.3-4.3 4.3-4.5 4.4-4.5 4.5-4.7 4.5-4.7 4.6-4.9 4.6-5 4.7-5.2 4.8-5.2 4.9-5.5 4.9-5.5 5-5.7 5.2-5.8 5.2-6 5.3-6.1 5.4-6.3 5.6-6.4 5.6-6.7 5.8-6.8 5.9-7 6-7.1 6.1-7.4 6.3-7.5 6.5-7.8 6.6-8 6.7M518.9 128.1l-1.2 11.6-1.2 11.2-1.2 10.8-1.3 10.5-1.2 10.1-1.3 9.7-1.3 9.4-1.4 9.1-1.3 8.7-1.4 8.5-1.4 8.3-1.4 7.9-1.4 7.7-1.5 7.5-1.5 7.2-1.5 7.1-1.6 6.8-1.5 6.6-1.7 6.5-1.6 6.3-1.7 6.1-1.7 5.9-1.7 5.8-1.8 5.6-1.8 5.6-1.8 5.4-1.9 5.2-1.9 5.2-2 5-2 5-2 4.8-2.1 4.8-2.2 4.6-2.1 4.6-2.3 4.5-2.2 4.5-2.3 4.4-2.4 4.3-2.4 4.3-2.5 4.2-2.5 4.2-2.6 4.1-2.6 4.1-2.7 4.1-2.7 4-2.8 4.1-2.9 4-2.9 4-3 3.9-3.1 4-3.1 4-3.2 3.9-3.3 4-3.4 4-3.4 3.9-3.5 4-3.6 4-3.7 4.1-3.7 4-3.9 4.1-3.9 4.1-4 4.2-4.1 4.2-4.3 4.2-4.3 4.3-4.4 4.3-4.5 4.4-4.7 4.4-4.7 4.5-4.9 4.5-5 4.6-5.1 4.7-5.2 4.8-5.4 4.8-5.5 4.9-5.7 5-5.7 5.1-6 5.2-6 5.3-6.3 5.4-6.4 5.5-6.5 5.6-6.8 5.7-6.9 5.9-7.1 5.9-7.3 6.1-7.4 6.3-7.7 6.4-7.9 6.5M492.8 118.7l-1.2 11.4-1.1 11-1.2 10.6-1.3 10.3-1.2 9.9-1.3 9.5-1.2 9.3-1.4 8.9-1.3 8.7-1.3 8.3-1.4 8.2-1.4 7.8-1.4 7.6-1.5 7.4-1.5 7.1-1.5 7-1.6 6.7-1.5 6.6-1.6 6.4-1.7 6.2-1.6 6-1.7 5.9-1.8 5.8-1.8 5.6-1.8 5.4-1.8 5.4-1.9 5.2-1.9 5.1-2 5-2 4.9-2 4.8-2.1 4.7-2.1 4.6-2.2 4.6-2.2 4.5-2.3 4.4-2.3 4.3-2.4 4.3-2.4 4.3-2.5 4.2-2.5 4.1-2.5 4.1-2.7 4.1-2.7 4-2.7 4-2.8 4-2.9 4-2.9 3.9-3 4-3.1 3.9-3.1 3.9-3.2 3.9-3.3 4-3.3 3.9-3.5 3.9-3.5 4-3.6 3.9-3.6 4-3.8 4-3.8 4-3.9 4.1-4.1 4-4.1 4.2-4.2 4.1-4.3 4.2-4.4 4.3-4.5 4.3-4.6 4.3-4.7 4.4-4.9 4.5-5 4.5-5 4.6-5.2 4.6-5.4 4.7-5.4 4.9-5.6 4.8-5.8 5-5.9 5.1-6 5.1-6.2 5.3-6.3 5.3-6.5 5.5-6.7 5.6-6.9 5.7-7 5.8-7.2 5.9-7.4 6.1-7.6 6.2-7.8 6.3M467.2 109.4l-1.1 11.2-1.1 10.8-1.2 10.4-1.2 10.1-1.2 9.8-1.3 9.4-1.2 9.1-1.3 8.8-1.3 8.5-1.4 8.3-1.3 8-1.4 7.7-1.5 7.5-1.4 7.3-1.5 7.1-1.5 6.8-1.5 6.7-1.6 6.5-1.6 6.3-1.6 6.1-1.7 6-1.7 5.9-1.7 5.6-1.8 5.6-1.8 5.4-1.8 5.3-1.9 5.2-1.9 5-2 5-2 4.8-2 4.8-2.1 4.7-2.2 4.6-2.1 4.5-2.3 4.4-2.2 4.4-2.3 4.3-2.4 4.3-2.4 4.2-2.5 4.2-2.5 4.1-2.6 4-2.6 4.1-2.7 4-2.8 3.9-2.8 4-2.8 3.9-3 3.9-3 3.9-3 3.9-3.2 3.9-3.2 3.9-3.2 3.8-3.4 3.9-3.4 3.9-3.5 3.9-3.6 3.9-3.6 3.9-3.8 4-3.8 3.9-3.9 4-4 4-4.1 4.1-4.2 4.1-4.3 4.1-4.4 4.2-4.5 4.2-4.6 4.2-4.7 4.4-4.8 4.3-5 4.5-5 4.5-5.2 4.5-5.3 4.6-5.4 4.7-5.6 4.8-5.7 4.9-5.8 4.9-6 5.1-6.2 5.1-6.3 5.2-6.4 5.3-6.6 5.4-6.8 5.6-7 5.6-7.1 5.8-7.3 5.9-7.6 6-7.7 6.2M442.2 100.2l-1.1 11-1.1 10.6-1.2 10.3-1.2 9.9-1.2 9.6-1.2 9.3-1.2 9-1.3 8.6-1.3 8.4-1.3 8.2-1.4 7.9-1.4 7.6-1.4 7.4-1.4 7.2-1.5 7-1.5 6.8-1.5 6.6-1.6 6.4-1.5 6.2-1.7 6.1-1.6 5.9-1.7 5.8-1.8 5.6-1.7 5.5-1.8 5.4-1.9 5.2-1.8 5.2-2 5-1.9 4.9-2 4.8-2.1 4.7-2 4.7-2.2 4.5-2.1 4.5-2.3 4.4-2.2 4.4-2.4 4.2-2.3 4.3-2.4 4.1-2.5 4.2-2.5 4-2.6 4.1-2.6 4-2.7 3.9-2.8 4-2.8 3.9-2.8 3.9-3 3.8-3 3.9-3 3.8-3.2 3.9-3.2 3.8-3.2 3.8-3.4 3.8-3.4 3.9-3.5 3.8-3.5 3.9-3.7 3.8-3.7 3.9-3.8 3.9-3.9 4-4 3.9-4.1 4-4.2 4-4.3 4.1-4.4 4.1-4.4 4.1-4.6 4.2-4.7 4.2-4.8 4.3-4.9 4.4-5.1 4.4-5.1 4.4-5.3 4.6-5.4 4.6-5.5 4.7-5.7 4.7-5.8 4.8-5.9 4.9-6.1 5-6.3 5.1-6.4 5.2-6.5 5.3-6.7 5.4-6.9 5.5-7.1 5.6-7.3 5.8-7.4 5.8-7.6 6M417.7 91.2l-1.1 10.8-1.1 10.4-1.2 10.1-1.1 9.8-1.2 9.4-1.2 9.2-1.2 8.8-1.3 8.6-1.3 8.2-1.3 8.1-1.3 7.8-1.4 7.5-1.4 7.3-1.4 7.1-1.5 6.9-1.5 6.8-1.5 6.5-1.5 6.3-1.6 6.2-1.6 6-1.7 5.9-1.7 5.7-1.7 5.6-1.8 5.4-1.8 5.3-1.8 5.2-1.9 5.1-1.9 5-1.9 4.8-2 4.8-2.1 4.7-2.1 4.6-2.1 4.5-2.2 4.4-2.2 4.4-2.3 4.3-2.3 4.3-2.3 4.1-2.5 4.2-2.4 4.1-2.5 4-2.6 4-2.6 4-2.7 3.9-2.8 3.9-2.8 3.8-2.9 3.9-2.9 3.8-3 3.8-3 3.8-3.2 3.8-3.1 3.8-3.3 3.8-3.3 3.8-3.5 3.8-3.4 3.8-3.6 3.8-3.6 3.8-3.8 3.8-3.8 3.9-3.9 3.8-4 3.9-4 4-4.2 3.9-4.3 4-4.3 4-4.5 4.1-4.5 4.1-4.7 4.2-4.8 4.2-4.9 4.2-5 4.4-5.1 4.3-5.2 4.5-5.4 4.5-5.5 4.5-5.6 4.7-5.8 4.7-5.9 4.8-6.1 4.9-6.2 5-6.3 5-6.5 5.2-6.7 5.2-6.8 5.4-7 5.5-7.2 5.6-7.4 5.6-7.5 5.9M842.9 523.2l1.4-24.2 1.5-25.2 1.4-25.3 1.3-25.6 1.3-25.9 1.2-26.1 1.1-26.4 1.1-26.6 1.1-26.9 .9-27.1 1-27.4 .4-13.1M825.7 541.6l.4-6.1 .2-6.3 .2-6.4 .2-6.4 0-6.4 0-6.5 0-6.6-.2-6.6-.2-6.6-.2-6.7-.4-6.7-.4-6.8-.4-6.8-.6-6.9-.6-6.8-.6-7-.8-7-.8-7-.9-7.1-.9-7.1-1-7.1-1.1-7.2-1.2-7.2-1.2-7.3-1.3-7.3-1.3-7.3-1.5-7.4-1.5-7.4-1.5-7.5-1.7-7.4-1.7-7.6-1.7-7.5-1.9-7.6-1.9-7.6-2-7.7-2-7.7-2.1-7.7-2.2-7.8-2.3-7.8-2.3-7.8-2.4-7.9-2.4-7.8-2.5-8-2.6-7.9-2.7-8-2.4-7.2M808.2 560l.1-2.7 .1-2.9-.1-2.9 0-2.9-.2-3-.2-3-.3-3-.3-3.1-.4-3.1-.5-3.1-.6-3.2-.6-3.2-.6-3.3-.8-3.3-.8-3.3-.9-3.4-.9-3.4-1.1-3.4-1-3.4-1.2-3.5-1.2-3.6-1.3-3.5-1.4-3.6-1.4-3.7-1.5-3.6-1.5-3.7-1.6-3.7-1.7-3.8-1.8-3.8-1.8-3.8-1.8-3.9-2-3.8-2-3.9-2.1-4-2.1-4-2.2-4-2.3-4-2.3-4-2.4-4.1-2.5-4.1-2.5-4.2-2.6-4.2-2.7-4.2-2.7-4.2-2.8-4.2-2.8-4.3-2.9-4.3-3-4.3-3-4.4-3.1-4.4-3.1-4.4-3.2-4.4-3.3-4.5-3.3-4.4-3.4-4.5-3.4-4.5-3.5-4.6-3.6-4.6-3.6-4.5-3.7-4.6-3.7-4.7-3.8-4.6-3.9-4.7-3.9-4.7-3.9-4.7-4-4.7-4.1-4.8-4.1-4.7-4.2-4.8-4.2-4.8-4.3-4.8-4.3-4.9-4.4-4.8-4.4-4.9-4.5-4.9-4.5-4.9-4.6-4.9-4.7-4.9-4.6-4.9-4.8-5-4.7-5-4.9-4.9-4.8-5-4.9-5-5-5.1-5-5-5.1-5-5.1-5.1-5.1-5-5.2-5.1-5.2-5.1-5.3-5.1-5.3-5.1-5.3-5.1-5.4-5.1-5.5-5.1-5.4-5.2-5.5-5.1-5.6-5.1-5.6-5.2-5.6-5.1-5.7-5.2-5.7-5.2-1.6-1.4M790.2 578.9l0-1.6 0-1.6-.1-1.7-.1-1.7-.2-1.8-.3-1.8-.4-1.8-.4-1.9-.5-1.9-.5-1.9-.7-1.9-.6-2-.8-2.1-.8-2.1-.9-2.1-1-2.1-1-2.2-1.1-2.2-1.1-2.2-1.3-2.3-1.3-2.3-1.3-2.4-1.4-2.3-1.5-2.4-1.6-2.5-1.6-2.5-1.7-2.5-1.7-2.5-1.9-2.6-1.8-2.6-2-2.6-2-2.7-2.1-2.7-2.1-2.7-2.2-2.8-2.3-2.8-2.3-2.8-2.4-2.9-2.5-2.9-2.5-2.9-2.5-2.9-2.7-3-2.7-3-2.8-3-2.8-3.1-2.9-3.1-2.9-3.1-3-3.1-3.1-3.2-3.1-3.2-3.2-3.2-3.2-3.2-3.3-3.3-3.4-3.3-3.4-3.3-3.5-3.4-3.5-3.4-3.6-3.3-3.6-3.5-3.7-3.4-3.8-3.5-3.8-3.5-3.8-3.5-4-3.5-3.9-3.6-4-3.6-4.1-3.6-4.1-3.6-4.2-3.7-4.2-3.6-4.3-3.7-4.3-3.7-4.4-3.7-4.4-3.8-4.5-3.8-4.5-3.7-4.6-3.9-4.6-3.8-4.6-3.8-4.7-3.9-4.8-3.8-4.8-3.9-4.8-3.9-4.9-4-4.9-3.9-5-4-5-3.9-5-4-5.1-4-5.2-4-5.1-4-5.2-4.1-5.3-4-5.3-4.1-5.3-4.1-5.4-4.1-5.4-4.1-5.4-4.1-5.5-4.1-5.5-4.1-5.5-4.2-5.6-4.1-5.6-4.2-5.6-4.2-5.7-4.2-5.7-4.1-5.7-4.2-5.8-4.3-5.8-4.2-5.8-4.2-5.9-4.2-5.9-4.3-5.9-4.2-5.9-4.3-6-4.2-6-4.3-6-4.3-6-4.2-6.1-4.3M771.8 598.2l0-1-.1-1.1-.1-1.1-.2-1.2-.2-1.2-.4-1.2-.3-1.3-.5-1.3-.5-1.3-.6-1.4-.7-1.4-.7-1.4-.8-1.5-.9-1.5-.9-1.6-1-1.6-1-1.6-1.2-1.7-1.2-1.7-1.2-1.7-1.3-1.7-1.4-1.8-1.5-1.9-1.5-1.8-1.6-1.9-1.7-2-1.7-1.9-1.8-2-1.8-2.1-2-2-1.9-2.1-2.1-2.2-2.1-2.1-2.2-2.2-2.2-2.3-2.3-2.2-2.4-2.3-2.4-2.3-2.5-2.4-2.5-2.4-2.6-2.4-2.7-2.4-2.7-2.5-2.8-2.5-2.9-2.6-2.9-2.5-3-2.6-3-2.6-3.1-2.7-3.2-2.7-3.2-2.7-3.2-2.7-3.4-2.8-3.3-2.8-3.5-2.8-3.5-2.9-3.5-2.8-3.6-2.9-3.7-3-3.7-2.9-3.8-3-3.8-3-3.9-3-3.9-3.1-4-3-4-3.1-4.1-3.2-4.1-3.1-4.2-3.2-4.2-3.2-4.3-3.2-4.3-3.2-4.4-3.3-4.4-3.3-4.5-3.3-4.5-3.3-4.6-3.3-4.6-3.4-4.7-3.4-4.7-3.4-4.7-3.4-4.8-3.4-4.8-3.5-4.9-3.5-4.9-3.5-5-3.5-5-3.5-5-3.6-5.1-3.5-5.1-3.6-5.2-3.6-5.2-3.6-5.2-3.6-5.3-3.7-5.3-3.6-5.3-3.7-5.4-3.7-5.4-3.7-5.4-3.7-5.5-3.7-5.5-3.8-5.6-3.7-5.5-3.8-5.7-3.7-5.6-3.8-5.7-3.8-5.7-3.8-5.7-3.9-5.8-3.8-5.7-3.8-5.9-3.9-5.8-3.8-5.9-3.9-5.9-3.9-5.9-3.9-5.9-3.9-6-3.9-6-3.9-6-3.9M752.8 618l0-.8 0-.7-.2-.8-.2-.9-.2-.9-.4-.9-.4-1-.5-1-.5-1-.6-1.1-.7-1.1-.8-1.1-.8-1.2-.8-1.2-1-1.3-1-1.3-1.1-1.3-1.1-1.4-1.3-1.4-1.3-1.4-1.3-1.5-1.4-1.5-1.5-1.6-1.6-1.5-1.6-1.6-1.7-1.7-1.7-1.7-1.8-1.7-1.9-1.8-1.9-1.7-2-1.9-2.1-1.8-2.1-1.9-2.2-1.9-2.3-2-2.3-2-2.4-2-2.5-2-2.5-2.1-2.5-2.2-2.7-2.1-2.7-2.2-2.7-2.2-2.8-2.2-2.9-2.3-3-2.3-3-2.4-3-2.3-3.1-2.4-3.2-2.5-3.2-2.4-3.3-2.5-3.4-2.5-3.4-2.6-3.4-2.5-3.5-2.6-3.6-2.7-3.6-2.6-3.7-2.7-3.7-2.7-3.8-2.8-3.9-2.7-3.8-2.8-4-2.8-4-2.9-4-2.8-4.1-2.9-4.2-2.9-4.2-3-4.2-3-4.3-2.9-4.3-3.1-4.4-3-4.5-3-4.5-3.1-4.5-3.1-4.6-3.2-4.6-3.1-4.6-3.2-4.8-3.2-4.7-3.2-4.8-3.2-4.8-3.2-4.9-3.3-4.9-3.3-5-3.3-5-3.3-5-3.4-5.1-3.3-5.1-3.4-5.2-3.4-5.2-3.4-5.2-3.5-5.3-3.4-5.3-3.5-5.3-3.5-5.4-3.5-5.4-3.5-5.4-3.5-5.5-3.5-5.5-3.6-5.6-3.6-5.5-3.5-5.6-3.6-5.6-3.6-5.7-3.7-5.7-3.6-5.7-3.6-5.8-3.7-5.7-3.7-5.8-3.6-5.9-3.7-5.8-3.7-5.9-3.7-5.9-3.8-5.9-3.7-6-3.7-5.9-3.8-6-3.7M733.4 638.3l0-.6-.1-.6-.1-.6-.2-.7-.3-.7-.4-.7-.4-.8-.5-.8-.5-.9-.7-.9-.6-.9-.8-1-.8-1-.9-1-1-1.1-1-1.1-1.1-1.2-1.2-1.2-1.2-1.2-1.3-1.3-1.4-1.3-1.4-1.4-1.5-1.3-1.6-1.5-1.6-1.4-1.7-1.5-1.8-1.5-1.8-1.6-1.9-1.6-2-1.6-2-1.7-2.1-1.7-2.2-1.7-2.2-1.8-2.3-1.8-2.3-1.8-2.4-1.9-2.5-1.9-2.5-1.9-2.6-2-2.7-2-2.7-2.1-2.7-2-2.9-2.1-2.9-2.2-2.9-2.1-3-2.2-3.1-2.3-3.2-2.2-3.2-2.3-3.2-2.4-3.3-2.3-3.4-2.4-3.4-2.4-3.5-2.5-3.5-2.4-3.6-2.5-3.6-2.6-3.7-2.5-3.8-2.6-3.8-2.6-3.8-2.7-3.9-2.6-4-2.7-4-2.8-4.1-2.7-4.1-2.8-4.1-2.8-4.3-2.8-4.2-2.9-4.3-2.8-4.4-3-4.4-2.9-4.4-2.9-4.5-3-4.6-3-4.6-3-4.6-3.1-4.7-3-4.7-3.1-4.8-3.1-4.8-3.2-4.8-3.1-4.9-3.2-4.9-3.2-5-3.2-5-3.2-5.1-3.3-5-3.2-5.2-3.3-5.1-3.3-5.2-3.4-5.3-3.3-5.2-3.4-5.3-3.3-5.4-3.4-5.4-3.5-5.4-3.4-5.4-3.4-5.5-3.5-5.5-3.5-5.5-3.4-5.6-3.5-5.6-3.6-5.6-3.5-5.7-3.5-5.7-3.6-5.7-3.6-5.7-3.6-5.8-3.6-5.8-3.6-5.8-3.6-5.9-3.6-5.9-3.7-5.9-3.6-5.9-3.7-5.9-3.7-6-3.6-6-3.7M713.5 659.1l0-.4-.1-.5-.1-.5-.3-.6-.3-.6-.3-.6-.4-.7-.5-.7-.6-.7-.6-.8-.8-.8-.7-.9-.9-.9-.9-.9-1-1-1-1-1.1-1.1-1.2-1.1-1.2-1.1-1.4-1.2-1.3-1.2-1.5-1.2-1.5-1.3-1.6-1.3-1.6-1.4-1.7-1.4-1.8-1.4-1.9-1.5-1.9-1.5-2-1.5-2-1.6-2.1-1.6-2.2-1.6-2.2-1.7-2.3-1.7-2.4-1.8-2.4-1.8-2.5-1.8-2.5-1.9-2.6-1.9-2.7-1.9-2.7-2-2.8-2-2.9-2-2.9-2-3-2.1-3-2.2-3.1-2.1-3.2-2.2-3.2-2.2-3.2-2.3-3.4-2.3-3.3-2.3-3.5-2.3-3.5-2.4-3.5-2.4-3.6-2.5-3.7-2.4-3.7-2.5-3.8-2.6-3.8-2.5-3.9-2.6-3.9-2.6-4-2.7-4-2.6-4.1-2.7-4.1-2.8-4.2-2.7-4.2-2.8-4.3-2.8-4.3-2.8-4.4-2.9-4.4-2.8-4.5-3-4.5-2.9-4.5-2.9-4.6-3-4.7-3-4.7-3-4.7-3.1-4.8-3-4.8-3.1-4.9-3.2-4.9-3.1-4.9-3.1-5-3.2-5-3.2-5.1-3.2-5.1-3.3-5.1-3.2-5.2-3.3-5.2-3.3-5.2-3.3-5.3-3.3-5.3-3.4-5.4-3.4-5.4-3.3-5.4-3.4-5.4-3.5-5.5-3.4-5.5-3.4-5.6-3.5-5.6-3.5-5.6-3.5-5.6-3.5-5.7-3.5-5.7-3.6-5.7-3.5-5.7-3.6-5.8-3.6-5.8-3.5-5.8-3.7-5.9-3.6-5.8-3.6-5.9-3.6-6-3.7-5.9-3.6-6-3.7-6-3.7M693.1 680.5l0-.4-.1-.4-.2-.4-.2-.5-.3-.5-.4-.5-.4-.6-.5-.6-.6-.7-.7-.7-.7-.8-.7-.8-.9-.8-.9-.9-1-.9-1.1-.9-1.1-1-1.2-1.1-1.2-1-1.4-1.1-1.4-1.2-1.4-1.2-1.5-1.2-1.6-1.2-1.7-1.3-1.7-1.4-1.8-1.3-1.9-1.5-1.9-1.4-2-1.5-2.1-1.5-2.1-1.6-2.2-1.6-2.2-1.6-2.3-1.7-2.4-1.7-2.4-1.7-2.5-1.8-2.6-1.8-2.6-1.9-2.7-1.9-2.8-1.9-2.8-2-2.8-2-3-2-3-2-3-2.1-3.1-2.2-3.2-2.1-3.2-2.2-3.3-2.2-3.4-2.3-3.4-2.3-3.4-2.3-3.5-2.4-3.6-2.3-3.6-2.4-3.7-2.5-3.7-2.5-3.8-2.5-3.8-2.5-3.9-2.6-4-2.6-4-2.6-4-2.6-4.1-2.7-4.2-2.7-4.2-2.8-4.2-2.7-4.3-2.8-4.3-2.8-4.4-2.9-4.5-2.8-4.4-2.9-4.6-3-4.5-2.9-4.7-3-4.6-3-4.7-3-4.8-3-4.8-3.1-4.8-3.1-4.9-3.1-4.9-3.1-5-3.2-4.9-3.1-5.1-3.2-5.1-3.3-5.1-3.2-5.1-3.2-5.2-3.3-5.2-3.3-5.3-3.3-5.3-3.4-5.3-3.3-5.4-3.4-5.4-3.4-5.4-3.4-5.5-3.4-5.4-3.5-5.6-3.4-5.5-3.5-5.6-3.5-5.6-3.5-5.7-3.5-5.6-3.6-5.7-3.5-5.8-3.6-5.7-3.6-5.8-3.5-5.8-3.6-5.8-3.7-5.9-3.6-5.9-3.6-5.9-3.7-5.9-3.7-5.9-3.6-6-3.7-6-3.7M672.1 702.4l0-.3-.1-.3-.2-.4-.2-.4-.3-.4-.4-.5-.5-.6-.5-.6-.5-.6-.7-.6-.7-.7-.8-.8-.9-.8-.9-.8-1-.9-1.1-.9-1.1-.9-1.2-1-1.3-1-1.3-1.1-1.4-1.1-1.5-1.1-1.5-1.2-1.6-1.3-1.7-1.2-1.7-1.3-1.8-1.4-1.9-1.4-1.9-1.4-2-1.4-2.1-1.5-2.2-1.6-2.1-1.6-2.3-1.6-2.3-1.6-2.4-1.7-2.5-1.7-2.5-1.8-2.6-1.8-2.6-1.8-2.7-1.9-2.8-1.9-2.8-1.9-2.9-2-3-2-3-2.1-3-2.1-3.2-2.1-3.1-2.1-3.3-2.2-3.3-2.2-3.4-2.3-3.4-2.3-3.4-2.3-3.6-2.3-3.6-2.4-3.6-2.4-3.7-2.5-3.7-2.5-3.8-2.5-3.9-2.5-3.9-2.6-4-2.6-4-2.6-4-2.6-4.1-2.7-4.2-2.8-4.2-2.7-4.3-2.8-4.3-2.8-4.4-2.8-4.4-2.8-4.4-2.9-4.5-2.9-4.6-3-4.5-2.9-4.7-3-4.7-3-4.7-3.1-4.7-3-4.9-3.1-4.8-3.1-4.9-3.1-4.9-3.2-5-3.2-5-3.2-5.1-3.2-5-3.2-5.2-3.3-5.1-3.3-5.2-3.3-5.3-3.3-5.2-3.3-5.3-3.4-5.4-3.4-5.4-3.4-5.4-3.4-5.4-3.4-5.5-3.5-5.5-3.4-5.5-3.5-5.6-3.5-5.6-3.6-5.6-3.5-5.6-3.6-5.7-3.5-5.7-3.6-5.8-3.6-5.7-3.6-5.8-3.6-5.8-3.7-5.9-3.6-5.8-3.7-5.9-3.7-5.9-3.7-5.9-3.7-6-3.7-6-3.7-6-3.7M650.5 725l0-.3-.1-.3-.2-.3-.2-.4-.3-.4-.4-.4-.4-.5-.6-.6-.5-.6-.7-.6-.7-.7-.8-.7-.9-.7-.9-.8-1-.9-1.1-.8-1.1-1-1.3-.9-1.2-1-1.4-1.1-1.4-1.1-1.5-1.1-1.5-1.2-1.6-1.2-1.7-1.2-1.8-1.3-1.8-1.3-1.9-1.4-1.9-1.4-2-1.5-2.1-1.5-2.2-1.5-2.2-1.5-2.3-1.7-2.3-1.6-2.4-1.7-2.5-1.7-2.5-1.8-2.6-1.8-2.7-1.8-2.7-1.9-2.8-1.9-2.8-1.9-2.9-2-3-2-3-2.1-3.1-2.1-3.1-2.1-3.2-2.1-3.3-2.2-3.3-2.3-3.4-2.2-3.4-2.3-3.5-2.3-3.5-2.4-3.7-2.4-3.6-2.4-3.7-2.5-3.8-2.5-3.8-2.5-3.9-2.6-3.9-2.6-4-2.6-4-2.6-4.1-2.7-4.1-2.7-4.2-2.8-4.2-2.7-4.3-2.8-4.3-2.9-4.4-2.8-4.4-2.9-4.5-2.9-4.5-2.9-4.6-3-4.6-3-4.6-3-4.7-3.1-4.8-3-4.7-3.1-4.9-3.1-4.8-3.2-4.9-3.1-5-3.2-5-3.2-5-3.3-5.1-3.2-5.1-3.3-5.1-3.3-5.2-3.3-5.2-3.4-5.2-3.3-5.3-3.4-5.3-3.4-5.4-3.4-5.4-3.5-5.4-3.4-5.4-3.5-5.5-3.5-5.5-3.5-5.6-3.6-5.6-3.5-5.6-3.6-5.6-3.6-5.7-3.6-5.7-3.6-5.7-3.6-5.7-3.7-5.8-3.6-5.8-3.7-5.8-3.7-5.8-3.7-5.9-3.7-5.9-3.7-5.9-3.8-5.9-3.7-6-3.8-6-3.8-6-3.8M628.4 748.1l-.1-.2-.1-.2-.1-.3-.3-.4-.3-.3-.4-.5-.4-.5-.5-.5-.6-.5-.7-.6-.7-.7-.8-.7-.9-.7-1-.8-1-.8-1-.9-1.2-.9-1.2-.9-1.3-1-1.4-1.1-1.4-1-1.5-1.2-1.5-1.1-1.7-1.2-1.6-1.3-1.8-1.2-1.8-1.4-1.9-1.3-2-1.4-2-1.5-2.1-1.5-2.2-1.5-2.2-1.6-2.3-1.6-2.3-1.7-2.5-1.6-2.4-1.8-2.6-1.7-2.6-1.8-2.7-1.9-2.7-1.9-2.8-1.9-2.9-2-2.9-1.9-3-2.1-3-2.1-3.1-2.1-3.2-2.1-3.2-2.2-3.3-2.2-3.3-2.3-3.4-2.2-3.4-2.4-3.5-2.3-3.6-2.4-3.6-2.4-3.7-2.5-3.7-2.5-3.8-2.5-3.8-2.6-3.9-2.5-4-2.7-4-2.6-4-2.7-4.1-2.7-4.1-2.8-4.2-2.7-4.3-2.8-4.3-2.9-4.3-2.8-4.4-2.9-4.5-3-4.4-2.9-4.6-3-4.6-3-4.6-3-4.6-3.1-4.7-3.1-4.8-3.1-4.8-3.1-4.8-3.2-4.9-3.2-4.9-3.2-5-3.2-5-3.3-5-3.3-5.1-3.3-5.1-3.3-5.2-3.3-5.2-3.4-5.2-3.4-5.3-3.4-5.3-3.5-5.3-3.4-5.4-3.5-5.4-3.5-5.4-3.5-5.5-3.6-5.4-3.5-5.6-3.6-5.5-3.6-5.6-3.6-5.6-3.6-5.7-3.6-5.6-3.7-5.7-3.7-5.8-3.7-5.7-3.7-5.8-3.7-5.8-3.7-5.8-3.8-5.9-3.7-5.8-3.8-5.9-3.8-6-3.8-5.9-3.8-6-3.8-5.9-3.9-6.1-3.8M605.6 772l-.1-.2-.1-.2-.1-.3-.3-.3-.3-.4-.4-.4-.4-.5-.6-.5-.6-.5-.6-.6-.8-.6-.8-.7-.8-.7-1-.8-1-.8-1.1-.9-1.2-.9-1.2-.9-1.3-1-1.3-1-1.5-1.1-1.5-1.1-1.5-1.2-1.7-1.2-1.7-1.3-1.8-1.2-1.8-1.4-1.9-1.4-2-1.4-2-1.4-2.1-1.5-2.2-1.6-2.2-1.6-2.3-1.6-2.4-1.6-2.4-1.7-2.5-1.8-2.6-1.8-2.6-1.8-2.7-1.9-2.7-1.9-2.9-1.9-2.8-2-3-2-2.9-2.1-3.1-2.1-3.1-2.1-3.2-2.2-3.2-2.2-3.3-2.2-3.4-2.3-3.4-2.3-3.4-2.4-3.6-2.4-3.5-2.4-3.7-2.5-3.7-2.5-3.7-2.5-3.8-2.6-3.9-2.6-3.9-2.6-3.9-2.7-4-2.6-4.1-2.8-4.1-2.7-4.2-2.8-4.2-2.8-4.2-2.9-4.4-2.9-4.3-2.9-4.4-2.9-4.5-3-4.5-3-4.5-3-4.6-3.1-4.7-3.1-4.6-3.1-4.8-3.1-4.7-3.2-4.8-3.2-4.9-3.2-4.9-3.2-4.9-3.3-5-3.3-5-3.3-5.1-3.4-5.1-3.3-5.1-3.4-5.2-3.4-5.2-3.5-5.2-3.4-5.3-3.5-5.3-3.5-5.3-3.5-5.4-3.6-5.4-3.5-5.5-3.6-5.4-3.6-5.5-3.6-5.6-3.7-5.5-3.6-5.6-3.7-5.7-3.7-5.6-3.7-5.7-3.7-5.7-3.7-5.7-3.8-5.8-3.8-5.8-3.8-5.8-3.8-5.8-3.8-5.9-3.8-5.9-3.9-5.9-3.8-5.9-3.9-5.9-3.9-6-3.9-6-3.9-6-3.9M582.1 796.5l0-.2-.1-.2-.2-.3-.2-.3-.3-.3-.4-.4-.5-.4-.5-.5-.6-.6-.7-.6-.7-.6-.8-.7-.9-.7-1-.7-1-.8-1.1-.9-1.2-.9-1.2-.9-1.3-1-1.4-1.1-1.4-1.1-1.5-1.1-1.6-1.1-1.6-1.3-1.8-1.2-1.7-1.3-1.9-1.4-1.9-1.4-2-1.4-2-1.5-2.2-1.5-2.1-1.5-2.3-1.6-2.3-1.7-2.4-1.7-2.4-1.7-2.5-1.8-2.6-1.8-2.6-1.8-2.7-1.9-2.8-2-2.8-1.9-2.9-2.1-3-2-3-2.1-3-2.1-3.2-2.2-3.2-2.2-3.2-2.3-3.3-2.2-3.4-2.4-3.4-2.3-3.5-2.4-3.5-2.4-3.6-2.5-3.7-2.5-3.7-2.6-3.7-2.5-3.8-2.6-3.9-2.7-3.9-2.7-4-2.7-4-2.7-4.1-2.8-4.1-2.8-4.2-2.9-4.2-2.8-4.3-2.9-4.3-3-4.4-2.9-4.4-3-4.5-3.1-4.5-3-4.6-3.1-4.6-3.1-4.7-3.2-4.7-3.1-4.7-3.2-4.8-3.3-4.8-3.2-4.9-3.3-4.9-3.3-4.9-3.4-5-3.3-5-3.4-5.1-3.4-5.1-3.4-5.2-3.5-5.1-3.5-5.3-3.5-5.2-3.5-5.3-3.5-5.3-3.6-5.4-3.6-5.4-3.6-5.4-3.6-5.4-3.7-5.5-3.7-5.5-3.7-5.6-3.7-5.6-3.7-5.6-3.7-5.6-3.8-5.7-3.8-5.7-3.8-5.7-3.8-5.7-3.8-5.8-3.9-5.8-3.8-5.8-3.9-5.8-3.9-5.9-3.9-5.9-3.9-5.9-4-5.9-3.9-6-4-5.9-4-6-3.9-6-4M558 821.7l0-.2-.1-.2-.2-.2-.2-.3-.3-.3-.4-.4-.5-.4-.5-.5-.6-.6-.7-.5-.8-.7-.8-.6-.9-.8-.9-.7-1.1-.8-1.1-.9-1.1-.9-1.3-.9-1.3-1-1.4-1.1-1.4-1.1-1.5-1.1-1.6-1.2-1.7-1.2-1.7-1.3-1.8-1.3-1.9-1.4-1.9-1.4-2-1.4-2-1.5-2.2-1.6-2.2-1.6-2.2-1.6-2.3-1.7-2.4-1.7-2.5-1.7-2.5-1.8-2.6-1.9-2.6-1.9-2.8-1.9-2.7-2-2.9-2-2.9-2-2.9-2.1-3.1-2.1-3-2.2-3.2-2.2-3.2-2.3-3.2-2.3-3.4-2.3-3.3-2.4-3.5-2.4-3.5-2.4-3.5-2.5-3.6-2.5-3.7-2.6-3.7-2.5-3.8-2.7-3.8-2.6-3.9-2.7-4-2.8-3.9-2.7-4.1-2.8-4.1-2.9-4.1-2.8-4.2-2.9-4.3-3-4.3-2.9-4.3-3-4.4-3.1-4.4-3-4.5-3.1-4.5-3.2-4.6-3.1-4.6-3.2-4.7-3.2-4.7-3.2-4.8-3.3-4.8-3.3-4.8-3.3-4.9-3.4-4.9-3.4-5-3.4-5-3.4-5-3.5-5.1-3.4-5.1-3.5-5.2-3.6-5.2-3.5-5.2-3.6-5.3-3.6-5.3-3.6-5.3-3.7-5.4-3.6-5.4-3.7-5.4-3.7-5.4-3.8-5.5-3.7-5.6-3.8-5.5-3.8-5.6-3.8-5.6-3.8-5.7-3.8-5.6-3.9-5.7-3.9-5.8-3.9-5.7-3.9-5.8-3.9-5.8-4-5.8-3.9-5.8-4-5.9-4-5.9-4-5.9-4-6-4-5.9-4.1-6-4-6-4.1-6-4.1"/>
<path class="bd" d="M875.3 213.3l-1 15.8-1 15.9-1.1 15.9-1 15.8-1 15.9-1 15.9-1 15.8-1 15.9-1 15.9-1 15.8-1 15.9-1 15.8-1 15.9-1 15.9-1 15.8-1 15.9-1 15.9-1.8 15.7-5.7 14.8-10.1 12.2-10.8 11.6-11 11.6-11 11.5-10.9 11.5-11 11.5-11 11.5-11 11.5-11 11.5-10.9 11.4-11 11.5-11 11.5-11 11.5-11 11.5-11 11.5-11 11.5-10.9 11.5-11 11.5-11 11.5-11 11.4-11 11.5-11 11.5-11 11.5-10.9 11.5-11 11.5-11 11.5-11 11.5-11 11.5-11 11.4M393.6 82.2l-1.2 11.9-1.3 11.8-1.3 11.8-1.4 11.8-1.6 11.8-1.6 11.7-1.8 11.8-1.9 11.7-2.1 11.7-2.3 11.7-2.4 11.6-2.7 11.6-2.9 11.5-3.1 11.5-3.4 11.4-3.8 11.3-4 11.1-4.4 11.1-4.8 10.9-5.2 10.7-5.5 10.5-5.9 10.3-6.3 10.1-6.7 9.8-7 9.6-7.3 9.4-7.6 9.2-7.8 8.9-8 8.8-8.3 8.5-8.4 8.4-8.6 8.3-8.7 8.1-8.8 8-8.9 7.8-8.9 7.8-9.1 7.7-9.1 7.6-9.2 7.6-9.3 7.5-9.2 7.4-9.3 7.4-9.4 7.3-9.4 7.3-9.4 7.3-9.4 7.2-9.5 7.2-9.5 7.2M533.2 847.6l-.1-.3-.5-.6-.8-.8-1.2-1-1.4-1.2-1.8-1.5-2.1-1.6-2.4-1.9-2.7-2.1-3.1-2.3-3.4-2.6-3.6-2.7-4-2.9-4.3-3.2-4.6-3.4-4.9-3.5-5.2-3.8-5.4-4-5.8-4.1-6.1-4.4-6.3-4.5-6.6-4.7-6.9-4.9-7.1-5.1-7.4-5.3-7.7-5.4-7.9-5.7-8.1-5.7-8.5-6-8.6-6.1-8.9-6.2-9.1-6.4-9.3-6.6-9.5-6.7-9.7-6.8-10-7-10.1-7.1-10.3-7.3-10.6-7.3-10.7-7.5-10.8-7.6-11.1-7.7-11.1-7.8-11.4-7.9-11.5-8-11.6-8.2-11.8-8.2-11.9-8.2-12.1-8.4-12.1-8.5-12.3-8.5-12.4-8.6-12.5-8.7-12.5-8.7-12.7-8.8-12.8-8.8"/>
<path class="bd" d="M875.3 213.3l-1.2 .9-1.9 1.6-1.5 1.1-1.3 1-1.2 .8-1.2 .7-1.1 .6-1.1 .6-1.1 .5-1.1 .5-1.1 .4-1.1 .4-1.1 .3-1.2 .3-1.1 .3-1.2 .2-1.2 .2-1.2 .2-1.3 .2-1.2 .1-1.3 .1-1.4 .1-1.3 0-1.4 .1-1.4 0-1.4-.1-1.5 0-1.5-.1-1.5 0-1.6-.2-1.6-.1-1.6-.1-1.7-.2-1.7-.2-1.7-.2-1.7-.2-1.8-.3-1.8-.3-1.9-.2-1.9-.4-1.9-.3-1.9-.3-2-.4-2-.4-2.1-.4-2-.4-2.2-.4-2.1-.5-2.2-.5-2.2-.5-2.2-.5-2.3-.5-2.3-.5-2.4-.6-2.3-.6-2.5-.6-2.4-.6-2.5-.6-2.5-.7-2.5-.6-2.6-.7-2.6-.7-2.6-.7-2.7-.7-2.7-.8-2.7-.7-2.7-.8-2.8-.8-2.9-.8-2.8-.8-2.9-.8-2.9-.9-2.9-.9-3-.8-3-.9-3-.9-3.1-1-3.1-.9-3.1-1-3.2-.9-3.2-1-3.2-1-3.2-1-3.3-1-3.3-1.1-3.3-1-3.3-1.1-3.4-1.1-3.4-1.1-3.5-1.1-3.4-1.1-3.5-1.1-3.5-1.2-3.6-1.1-3.5-1.2-3.6-1.2-3.6-1.2-3.7-1.2-3.7-1.2-3.7-1.3-3.7-1.2-3.7-1.3-3.8-1.2-3.8-1.3-3.8-1.3-3.9-1.3-3.8-1.4-3.9-1.3-3.9-1.3-4-1.4-3.9-1.3-4-1.4-4-1.4-4.1-1.4-4-1.4-4.1-1.4-4.1-1.5-4.1-1.4-4.1-1.4-4.2-1.5-4.2-1.5-4.2-1.5-4.2-1.5-4.2-1.5-4.3-1.5-4.3-1.5-4.3-1.5-4.3-1.6-4.3-1.5-4.4-1.6-4.4-1.5-4.4-1.6-4.4-1.6-4.4-1.6-4.4-1.6-4.5-1.6-4.5-1.6-4.5-1.6-4.5-1.7-4.5-1.6-4.6-1.7-4.5-1.6-4.6-1.7-4.6-1.7-4.6-1.7-4.6-1.6-4.6-1.7-4.7-1.8-4.7-1.7-4.6-1.7-4.7-1.7-4.7-1.7-4.7-1.8-4.8-1.7-4.7-1.8-4.8-1.7-4.7-1.8-4.8-1.8-4.8-1.8 64.1-35.5 420.8 163.8z"/>
<path class="fe" d="M538.5 513L535.4 863.2M538.5 513L70.3 253.5M538.5 513L893.8 209.7"/>
</g>
<g id="pb">
<path class="bx" d="M1816.7 488.1L1843.9 261.9M1816.7 488.1L1455.6 863.8M1816.7 488.1L1416.4 243M1843.9 261.9L1457.4 620.2M1843.9 261.9L1415.2 33.6M1455.6 863.8L1457.4 620.2M1455.6 863.8L1042.4 518.2M1457.4 620.2L1013.9 290.1M1416.4 243L1415.2 33.6M1416.4 243L1042.4 518.2M1415.2 33.6L1013.9 290.1M1042.4 518.2L1013.9 290.1"/>
<path class="tk" d="M1446.2 855.9L1456.6 845.2M1423.1 836.6L1429.4 830.2M1400.3 817.5L1406.7 811.3M1378 798.9L1384.3 792.7M1356 780.5L1362.4 774.4M1334.4 762.4L1344.9 752.6M1313.2 744.6L1319.5 738.8M1292.3 727.2L1298.6 721.4M1271.7 710L1278.1 704.3M1251.5 693.1L1257.9 687.5M1231.6 676.5L1242.2 667.4M1212.1 660.1L1218.4 654.7M1192.8 644L1199.2 638.7M1173.9 628.1L1180.2 622.9M1155.2 612.5L1161.6 607.4M1136.9 597.2L1147.4 588.8M1118.8 582.1L1125.1 577.1M1101 567.2L1107.3 562.3M1083.4 552.5L1089.8 547.7M1066.2 538.1L1072.5 533.3M1049.2 523.8L1059.6 516.1M1810.9 494.1L1799.8 487.3M1796.3 509.4L1789.6 505.2M1781.4 524.8L1774.7 520.6M1766.3 540.6L1759.5 536.3M1750.9 556.6L1744.1 552.2M1735.2 572.9L1724 565.5M1719.3 589.4L1712.5 584.9M1703.1 606.3L1696.3 601.6M1686.7 623.4L1679.8 618.7M1669.9 640.8L1663 636M1652.8 658.6L1641.4 650.5M1635.5 676.6L1628.6 671.7M1617.8 695L1610.9 690M1599.8 713.8L1592.8 708.6M1581.5 732.8L1574.5 727.6M1562.8 752.3L1551.2 743.4M1543.8 772.1L1536.7 766.6M1524.4 792.2L1517.3 786.7M1504.6 812.8L1497.6 807.1M1484.5 833.7L1477.4 828M1463.9 855.1L1452.3 845.4M1042.4 518.2L1050.8 525.2M1039.8 496.8L1044.9 501M1037 475.1L1042.2 479.3M1034.3 453.1L1039.5 457.3M1031.5 430.8L1036.7 434.9M1028.7 408.1L1037.3 415M1025.8 385.2L1031.1 389.3M1022.9 361.9L1028.2 366M1020 338.3L1025.3 342.4M1017 314.4L1022.3 318.4M1013.9 290.1L1022.8 296.7"/>
<path class="gt" d="M1818.3 271.6l-3.1-1.6-3-1.6-3-1.6-3.1-1.5-3-1.6-3-1.6-3-1.5-3-1.6-3-1.6-3-1.5-3-1.6-3-1.5-3-1.5-3-1.6-3-1.5-2.9-1.6-3-1.5-3-1.5-2.9-1.5-3-1.6-2.9-1.5-2.9-1.5-3-1.5-2.9-1.5-2.9-1.5-3-1.5-2.9-1.5-2.9-1.5-2.9-1.4-2.9-1.5-2.9-1.5-2.9-1.5-2.9-1.4-2.9-1.5-2.9-1.5-2.9-1.4-2.9-1.5-2.9-1.4-2.8-1.4-2.9-1.5-2.9-1.4-2.9-1.4-2.9-1.4-2.8-1.4-2.9-1.4-2.9-1.4-2.8-1.4-2.9-1.4-2.9-1.4-2.9-1.4-2.8-1.3-2.9-1.4-2.9-1.3-2.9-1.4-2.9-1.3-2.9-1.3-2.9-1.3-2.9-1.3-2.9-1.3-2.9-1.2-3-1.2-3-1.3-3-1.2-3-1.1-3-1.2-3.1-1.1-3.1-1.1-3.2-1-3.2-1-3.4-.9-3.4-.8-3.6-.6-3.9-.6-4-.3-4.4-.1-4.5 .1-4.8 .2-4.9 .3-5.1 .5-5.1 .4-4.5 0-3.9-.4-3.6-.7-3.4-.8-3.3-.9-3.2-.9-3.1-1-3.1-1-3.1-1.1-3.1-1-3-1-3.1-1.1-3-1.1-3-1-2.9-1.1-3-1.1-3-1.1-2.9-1.1-2.9-1.1-3-1.1-2.9-1.1-2.9-1.1-2.9-1.1-2.8-1.1-2.9-1.1-2.9-1.1-2.8-1.1-2.9-1.1-2.8-1.1-2.8-1.2-2.8-1.1-2.8-1.1-2.8-1.1-2.8-1.2-2.8-1.1-2.8-1.1-2.7-1.2-2.8-1.1-2.7-1.2-2.7-1.1-2.8-1.1-2.7-1.2-2.7-1.1-2.7-1.2-2.6-1.1-2.7-1.2-2.7-1.1-2.6-1.2-2.7-1.1-2.6-1.2-2.7-1.1-2.6-1.2-2.6-1.1-2.6-1.2-2.6-1.2-2.6-1.1-2.6-1.2-2.6-1.1-2.6-1.2-2.6-1.1-2.5-1.2-2.6-1.2-2.5-1.1-2.6-1.2-2.5-1.1-2.5-1.2-2.6-1.1-2.5-1.2-2.5-1.2-2.5-1.1-2.5-1.2-2.5-1.1-2.5-1.2-2.4-1.1-2.5-1.2-2.5-1.2-2.4-1.1-2.5-1.2-2.4-1.1 68.8-44.3 412.4 220.9z"/>
<clipPath id="cpb"><path d="M1818.3 271.6l-1.9 14.6-2 14.5-2 14.6-2 14.6-2 14.5-2.2 14.6-2.1 14.5-2.3 14.5-2.4 14.5-2.6 14.5-2.7 14.5-3 14.3-3.5 14.3-4 14.2-4.9 13.8-6 13.4-7.2 12.9-8.2 12.1-9 11.7-9.4 11.2-9.7 11.1-9.9 10.9-10 10.8-10 10.7-10.1 10.7-10.1 10.7-10.2 10.6-10.1 10.7-10.2 10.6-10.2 10.6-10.2 10.6-10.2 10.6-10.2 10.5-10.2 10.6-10.2 10.6-10.2 10.6-10.2 10.6-10.2 10.5-10.2 10.6-10.3 10.6-10.2 10.5-10.2 10.6-10.2 10.6-10.2 10.5-10.3 10.6-10.2 10.6-10.2 10.5-10.2 10.6-15.7-13-15.5-12.9-15.3-12.7-15.1-12.6-14.9-12.4-14.7-12.2-14.6-12.1-14.3-12-14.1-11.7-13.8-11.5-13.4-11.2-12.5-10.4-10.7-9.1-8-6.7-5.3-4.6-3.6-3.3-2.8-2.4-2.2-2.1-2.1-1.9-1.8-1.7-1.6-1.6-1.5-1.4-1.5-1.4-1.5-1.5-1.9-1.8-2.4-2.2-3.1-2.8-4-3.4-4.5-4-4.9-4.2-5.2-4.5-5.3-4.6-5.4-4.6-5.5-4.8-5.5-4.8-5.6-4.8-5.7-4.8-5.7-4.9-5.7-5-5.8-5-6-5-6-5.2-6.1-5.2-6.1-5.3-6.3-5.4-6.4-5.4-6.5-5.5-6.5-5.6-6.7-5.7-6.7-5.7-6.8-5.8-7-5.9-6.9-5.9-7.1-6-7.1-6-7.2-6.1 8.8-6.9 8.7-6.9 8.7-6.9 8.7-6.9 8.7-6.9 8.7-7 8.6-7 8.6-7 8.6-7.1 8.6-7.1 8.5-7.1 8.5-7.2 8.4-7.2 8.4-7.3 8.3-7.4 8.3-7.4 8.2-7.5 8.1-7.7 8-7.7 7.9-7.8 7.8-8 7.6-8 7.4-8.3 7.3-8.4 7-8.6 6.8-8.8 6.6-9 6.3-9.2 5.9-9.4 5.6-9.6 5.3-9.7 4.9-10 4.6-10.1 4.2-10.3 4-10.4 3.6-10.5 3.3-10.6 3-10.7 2.8-10.8 2.6-10.8 2.4-10.9 2.2-10.9 2-10.9 1.8-11 1.7-11 1.6-11 1.5-11 1.4-11 8.2 3.9 8.2 3.8 8.1 3.7 8 3.7 8 3.7 7.9 3.6 7.8 3.5 7.8 3.4 7.7 3.4 7.5 3.3 7.5 3.2 7.4 3.2 7.4 3.1 7.2 3 7.1 2.9 7.1 2.9 7 2.8 7 2.7 6.8 2.7 6.9 2.6 6.8 2.6 6.8 2.5 6.7 2.5 6.7 2.4 6.6 2.3 6.5 2.2 6.2 2 5.9 1.8 5.3 1.4 4.5 .8 3.8 .4 3.3 .1 3.1-.2 2.9-.3 3.1-.3 3.3-.2 3.5-.3 3.9-.2 4.2-.1 4.8 .1 5.9 .4 7.7 1.4 10.4 2.8 13 4.7 14.3 6 14.9 6.6 15.1 7.2 15.2 7.4 15.3 7.6 15.5 7.8 15.5 7.9 15.7 8 15.9 8.2 16 8.3 16.1 8.3 16.3 8.5z"/></clipPath>
<path fill="#f59a1c" d="M1818.3 271.6l-1.9 14.6-2 14.5-2 14.6-2 14.6-2 14.5-2.2 14.6-2.1 14.5-2.3 14.5-2.4 14.5-2.6 14.5-2.7 14.5-3 14.3-3.5 14.3-4 14.2-4.9 13.8-6 13.4-7.2 12.9-8.2 12.1-9 11.7-9.4 11.2-9.7 11.1-9.9 10.9-10 10.8-10 10.7-10.1 10.7-10.1 10.7-10.2 10.6-10.1 10.7-10.2 10.6-10.2 10.6-10.2 10.6-10.2 10.6-10.2 10.5-10.2 10.6-10.2 10.6-10.2 10.6-10.2 10.6-10.2 10.5-10.2 10.6-10.3 10.6-10.2 10.5-10.2 10.6-10.2 10.6-10.2 10.5-10.3 10.6-10.2 10.6-10.2 10.5-10.2 10.6-15.7-13-15.5-12.9-15.3-12.7-15.1-12.6-14.9-12.4-14.7-12.2-14.6-12.1-14.3-12-14.1-11.7-13.8-11.5-13.4-11.2-12.5-10.4-10.7-9.1-8-6.7-5.3-4.6-3.6-3.3-2.8-2.4-2.2-2.1-2.1-1.9-1.8-1.7-1.6-1.6-1.5-1.4-1.5-1.4-1.5-1.5-1.9-1.8-2.4-2.2-3.1-2.8-4-3.4-4.5-4-4.9-4.2-5.2-4.5-5.3-4.6-5.4-4.6-5.5-4.8-5.5-4.8-5.6-4.8-5.7-4.8-5.7-4.9-5.7-5-5.8-5-6-5-6-5.2-6.1-5.2-6.1-5.3-6.3-5.4-6.4-5.4-6.5-5.5-6.5-5.6-6.7-5.7-6.7-5.7-6.8-5.8-7-5.9-6.9-5.9-7.1-6-7.1-6-7.2-6.1 8.8-6.9 8.7-6.9 8.7-6.9 8.7-6.9 8.7-6.9 8.7-7 8.6-7 8.6-7 8.6-7.1 8.6-7.1 8.5-7.1 8.5-7.2 8.4-7.2 8.4-7.3 8.3-7.4 8.3-7.4 8.2-7.5 8.1-7.7 8-7.7 7.9-7.8 7.8-8 7.6-8 7.4-8.3 7.3-8.4 7-8.6 6.8-8.8 6.6-9 6.3-9.2 5.9-9.4 5.6-9.6 5.3-9.7 4.9-10 4.6-10.1 4.2-10.3 4-10.4 3.6-10.5 3.3-10.6 3-10.7 2.8-10.8 2.6-10.8 2.4-10.9 2.2-10.9 2-10.9 1.8-11 1.7-11 1.6-11 1.5-11 1.4-11 8.2 3.9 8.2 3.8 8.1 3.7 8 3.7 8 3.7 7.9 3.6 7.8 3.5 7.8 3.4 7.7 3.4 7.5 3.3 7.5 3.2 7.4 3.2 7.4 3.1 7.2 3 7.1 2.9 7.1 2.9 7 2.8 7 2.7 6.8 2.7 6.9 2.6 6.8 2.6 6.8 2.5 6.7 2.5 6.7 2.4 6.6 2.3 6.5 2.2 6.2 2 5.9 1.8 5.3 1.4 4.5 .8 3.8 .4 3.3 .1 3.1-.2 2.9-.3 3.1-.3 3.3-.2 3.5-.3 3.9-.2 4.2-.1 4.8 .1 5.9 .4 7.7 1.4 10.4 2.8 13 4.7 14.3 6 14.9 6.6 15.1 7.2 15.2 7.4 15.3 7.6 15.5 7.8 15.5 7.9 15.7 8 15.9 8.2 16 8.3 16.1 8.3 16.3 8.5z"/>
<g class="sf" id="sfb">
<path fill="#542c04" d="M1818.3 271.6l-16.3-8.5-1.9 14.5 16.3 8.6zM1802 263.1l-16.1-8.3-1.8 14.4 16 8.4zM1785.9 254.8l-16-8.3-1.7 14.4 15.9 8.3zM1769.9 246.5l-15.9-8.2-1.6 14.4 15.8 8.2z"/>
<path fill="#582c04" d="M1816.4 286.2l-16.3-8.6-1.8 14.5 16.1 8.6zM1814.4 300.7l-16.1-8.6-1.9 14.5 16 8.7zM1800.1 277.6l-16-8.4-1.8 14.4 16 8.5zM1798.3 292.1l-16-8.5-1.9 14.5 16 8.5zM1784.1 269.2l-15.9-8.3-1.8 14.3 15.9 8.4zM1782.3 283.6l-15.9-8.4-1.8 14.4 15.8 8.5zM1768.2 260.9l-15.8-8.2-1.7 14.3 15.7 8.2zM1754 238.3l-15.7-8-1.6 14.2 15.7 8.2zM1752.4 252.7l-15.7-8.2-1.6 14.3 15.6 8.2z"/>
<path fill="#583004" d="M1812.4 315.3l-16-8.7-2 14.5 16 8.8zM1810.4 329.9l-16-8.8-2 14.5 16 8.8zM1796.4 306.6l-16-8.5-1.9 14.4 15.9 8.6zM1766.4 275.2l-15.7-8.2-1.7 14.3 15.6 8.3z"/>
<path fill="#603408" d="M1808.4 344.4l-16-8.8-2 14.5 15.8 8.9zM1806.2 359l-15.8-8.9-2.2 14.5 15.9 8.9zM1804.1 373.5l-15.9-8.9-2.2 14.4 15.8 9zM1792.4 335.6l-15.8-8.7-2 14.5 15.8 8.7zM1790.4 350.1l-15.8-8.7-2 14.4 15.6 8.8zM1776.6 326.9l-15.6-8.5-2 14.3 15.6 8.7zM1774.6 341.4l-15.6-8.7-2 14.4 15.6 8.7zM1761 318.4l-15.6-8.5-1.8 14.3 15.4 8.5zM1759 332.7l-15.4-8.5-2 14.2 15.4 8.7zM1745.4 309.9l-15.4-8.4-1.8 14.2 15.4 8.5zM1743.6 324.2l-15.4-8.5-1.9 14.2 15.3 8.5zM1731.8 287.3l-15.3-8.2-1.7 14.1 15.2 8.3zM1730 301.5l-15.2-8.3-1.8 14.2 15.2 8.3zM1728.2 315.7l-15.2-8.3-1.8 14.1 15.1 8.4zM1716.5 279.1l-15.3-8.1-1.6 14.1 15.2 8.1zM1714.8 293.2l-15.2-8.1-1.7 14.1 15.1 8.2zM1702.8 256.9l-15.2-7.8-1.5 14 15.1 7.9zM1701.2 271l-15.1-7.9-1.6 14 15.1 8zM1690.6 221l-15.2-7.5-1.4 14 15.1 7.6zM1689.1 235.1l-15.1-7.6-1.4 14 15 7.6zM1687.6 249.1l-15-7.6-1.5 13.9 15 7.7zM1676.8 199.6l-15.1-7.2-1.4 13.9 15.1 7.2zM1675.4 213.5l-15.1-7.2-1.3 13.9 15 7.3z"/>
<path fill="#643808" d="M1801.8 388l-15.8-9-2.3 14.5 15.7 9zM1786 379l-15.6-8.8-2.3 14.3 15.6 9zM1770.4 370.2l-15.5-8.8-2.2 14.3 15.4 8.8zM1754.9 361.4l-15.3-8.7-2.2 14.2 15.3 8.8zM1726.3 329.9l-15.1-8.4-2 14.2 15.2 8.4zM1711.2 321.5l-15.1-8.2-1.9 14 15 8.4zM1697.9 299.2l-15-8-1.8 14 15 8.1zM1684.5 277.1l-15-7.7-1.6 13.9 15 7.9zM1671.1 255.4l-15-7.4-1.5 13.8 14.9 7.6zM1660.3 206.3l-14.8-6.8-1.3 13.8 14.8 6.9zM1659 220.2l-14.8-6.9-1.4 13.8 14.8 7z"/>
<path fill="#683808" d="M1799.4 402.5l-15.7-9-2.5 14.4 15.6 9.1zM1783.7 393.5l-15.6-9-2.4 14.4 15.5 9zM1768.1 384.5l-15.4-8.8-2.4 14.3 15.4 8.9zM1752.7 375.7l-15.3-8.8-2.3 14.3 15.2 8.8zM1739.6 352.7l-15.2-8.6-2.2 14.2 15.2 8.6zM1724.4 344.1l-15.2-8.4-2 14.1 15 8.5zM1709.2 335.7l-15-8.4-2 14.1 15 8.4zM1696.1 313.3l-15-8.1-1.9 13.9 15 8.2zM1682.9 291.2l-15-7.9-1.7 13.9 14.9 8zM1681.1 305.2l-14.9-8-1.8 13.9 14.8 8zM1669.5 269.4l-14.9-7.6-1.6 13.9 14.9 7.6zM1667.9 283.3l-14.9-7.6-1.7 13.8 14.9 7.7zM1657.6 234.1l-14.8-7-1.4 13.8 14.7 7.1zM1656.1 248l-14.7-7.1-1.5 13.8 14.7 7.1zM1646.8 185.8l-14.3-6-1.3 13.7 14.3 6zM1645.5 199.5l-14.3-6-1.3 13.7 14.3 6.1z"/>
<path fill="#6c3c08" d="M1796.8 417l-15.6-9.1-2.7 14.4 15.6 9.2zM1722.2 358.3l-15-8.5-2.3 14.1 15.1 8.6zM1707.2 349.8l-15-8.4-2.2 14 14.9 8.5zM1679.2 319.1l-14.8-8-2 13.9 14.9 8.1zM1666.2 297.2l-14.9-7.7-1.8 13.9 14.9 7.7zM1653 275.7l-14.7-7.2-1.6 13.7 14.6 7.3zM1642.8 227.1l-14.2-6.2-1.4 13.7 14.2 6.3z"/>
<path fill="#744008" d="M1794.1 431.5l-15.6-9.2-3 14.3 15.6 9.2zM1704.9 363.9l-14.9-8.5-2.5 14 14.9 8.5zM1690 355.4l-14.9-8.3-2.4 13.9 14.8 8.4zM1662.4 325l-14.8-7.8-2.1 13.7 14.7 8zM1649.5 303.4l-14.6-7.5-2 13.8 14.7 7.5zM1638.3 268.5l-14.2-6.6-1.7 13.7 14.3 6.6zM1629.9 207.2l-12.9-4.9-1.4 13.6 13 5zM1628.6 220.9l-13-5-1.4 13.5 13 5.2z"/>
<path fill="#844808" d="M1791.1 445.8l-15.6-9.2-3.4 14.2 15.5 9.3zM1775.5 436.6l-15.4-9.1-3.3 14.1 15.3 9.2zM1760.1 427.5l-15.2-9.1-3.4 14.1 15.3 9.1zM1744.9 418.4l-15.2-8.9-3.3 14 15.1 9zM1729.7 409.5l-15.1-8.9-3.2 14 15 8.9zM1657.8 352.7l-14.7-8-2.8 13.7 14.8 8.1zM1632.9 309.7l-14.2-6.9-2.2 13.6 14.3 7zM1622.4 275.6l-13-5.5-1.8 13.5 13 5.6zM1617 202.3l-10.5-3.1-1.3 13.5 10.4 3.2zM1615.6 215.9l-10.4-3.2-1.5 13.4 10.5 3.3zM1543.9 167.5l-6.2-2-1.6 12.4 6.3 2.1zM1537.7 165.5l-6.5-2.2-1.5 12.4 6.4 2.2zM1536.1 177.9l-6.4-2.2-1.6 12.3 6.4 2.3zM1529.7 175.7l-6.6-2.4-1.6 12.3 6.6 2.4zM1523.1 173.3l-6.7-2.5-1.6 12.2 6.7 2.6zM1516.4 170.8l-6.7-2.5-1.7 12.2 6.8 2.5zM1509.7 168.3l-6.8-2.6-1.6 12.1 6.7 2.7zM1502.9 165.7l-6.8-2.6-1.7 12 6.9 2.7zM1501.3 177.8l-6.9-2.7-1.7 12.1 6.8 2.7zM1496.1 163.1l-6.9-2.7-1.6 12 6.8 2.7zM1494.4 175.1l-6.8-2.7-1.7 12 6.8 2.8zM1487.6 172.4l-6.9-2.8-1.7 11.9 6.9 2.9zM1480.7 169.6l-6.9-2.8-1.7 11.8 6.9 2.9zM1473.8 166.8l-7-2.9-1.7 11.8 7 2.9zM1466.8 163.9l-7-3-1.8 11.8 7.1 3zM1459.8 160.9l-7.2-3.1-1.7 11.8 7.1 3.1zM1452.6 157.8l-7.2-3.1-1.7 11.7 7.2 3.2zM1445.4 154.7l-7.3-3.2-1.7 11.7 7.3 3.2zM1438.1 151.5l-7.4-3.2-1.7 11.5 7.4 3.4z"/>
<path fill="#a8600c" d="M1787.6 460.1l-15.5-9.3-4 14.1 15.5 9.4zM1772.1 450.8l-15.3-9.2-4 14 15.3 9.3zM1756.8 441.6l-15.3-9.1-3.9 14 15.2 9.1zM1741.5 432.5l-15.1-9-3.9 13.9 15.1 9.1zM1616.5 316.4l-13.1-5.8-2.5 13.4 13.2 5.9zM1605.2 212.7l-7.8-1.7-1.5 13.4 7.8 1.7zM1559.6 171.5l-4.5-.8-1.5 12.6 4.5 .9zM1550.3 208.4l-5.4-1.6-1.8 12.5 5.4 1.6zM1535.3 229.7l-6.3-2.3-2.1 12.3 6.3 2.4zM1513.9 234.5l-6.7-2.7-2.3 12.1 6.7 2.8zM1507.2 231.8l-6.8-2.9-2.3 12.1 6.8 2.9zM1500.4 228.9l-6.8-2.8-2.2 12 6.7 2.9zM1493.6 226.1l-6.8-2.9-2.2 11.9 6.8 3zM1420.9 205.9l-7.4-3.6-2.5 11.3 7.5 3.7zM1413.5 202.3l-7.6-3.7-2.4 11.3 7.5 3.7zM1405.9 198.6l-7.6-3.7-2.4 11.2 7.6 3.8z"/>
<path fill="#d47c10" d="M1783.6 474.3l-15.5-9.4-4.8 13.8 15.4 9.4zM1768.1 464.9l-15.3-9.3-4.8 13.8 15.3 9.3zM1752.8 455.6l-15.2-9.1-4.8 13.6 15.2 9.3z"/>
<path fill="#ff9c18" d="M1778.7 488.1l-15.4-9.4-6 13.3 15.4 9.5zM1763.3 478.7l-15.3-9.3-5.9 13.3 15.2 9.3zM1748 469.4l-15.2-9.3-5.8 13.3 15.1 9.3zM1732.8 460.1l-15-9.1-5.8 13.2 15 9.2zM1717.8 451l-15-9.1-5.8 13.2 15 9.1zM1702.8 441.9l-14.9-8.9-5.7 13.1 14.8 9zM1687.9 433l-14.8-8.8-5.7 13 14.8 8.9zM1673.1 424.2l-14.8-8.7-5.6 12.9 14.7 8.8zM1594.8 350.6l-11-4.4-3.9 13 11 4.5zM1587.1 333.1l-8.3-2.6-3.4 13 8.4 2.7zM1565.4 314.1l-4.3-.7-3.2 12.7 4.3 .8zM1561.1 313.4l-3.9-.5-3.3 12.6 4 .6zM1557.2 312.9l-3.7-.5-3.3 12.6 3.7 .5zM1553.5 312.4l-3.4-.4-3.4 12.5 3.5 .5zM1550.1 312l-3.3-.4-3.4 12.4 3.3 .5zM1549.8 299.1l-3.3-.5-3 12.5 3.3 .5zM1546.5 298.6l-3.5-.6-3.1 12.4 3.6 .7zM1543 298l-4-1-3.1 12.4 4 1zM1535.9 309.4l-4.7-1.5-3.4 12.2 4.7 1.5zM1506.2 324.6l-6.4-2.9-4.2 11.7 6.5 3zM1499.8 321.7l-6.7-3.1-4.1 11.7 6.6 3.1zM1455.1 313.7l-6.8-3.5-4.5 11.2 6.8 3.5zM1448.3 310.2l-6.9-3.5-4.5 11.2 6.9 3.5zM1441.4 306.7l-7-3.5-4.5 11.1 7 3.6zM1401.5 299.2l-7.3-4-4.8 10.7 7.3 4zM1394.2 295.2l-7.4-4-4.8 10.6 7.4 4.1zM1386.8 291.2l-7.5-4-4.7 10.5 7.4 4.1zM1351.8 285l-7.8-4.4-5 10.2 7.7 4.4zM1344 280.6l-7.8-4.5-5 10.2 7.8 4.5zM1336.2 276.1l-7.9-4.5-4.9 10.1 7.8 4.6zM1307.4 272.5l-8-4.7-5.3 9.7 8 4.8z"/>
<path fill="#ffb01c" d="M1772.7 501.5l-15.4-9.5-7.1 12.8 15.3 9.6zM1757.3 492l-15.2-9.3-7.1 12.6 15.2 9.5zM1742.1 482.7l-15.1-9.3-7.1 12.6 15.1 9.3zM1727 473.4l-15-9.2-7.1 12.5 15 9.3zM1712 464.2l-15-9.1-6.9 12.5 14.8 9.1zM1697 455.1l-14.8-9-6.9 12.4 14.8 9.1zM1682.2 446.1l-14.8-8.9-6.9 12.4 14.8 8.9zM1667.4 437.2l-14.7-8.8-6.8 12.4 14.6 8.8zM1614.1 390.5l-14.4-7.6-5.5 12.7 14.3 7.6zM1546.1 350.4l-3.8-.7-4.6 12.2 3.7 .7zM1542.3 349.7l-3.5-.6-4.6 12.1 3.5 .7zM1538.8 349.1l-3.3-.5-4.7 12 3.4 .6zM1539.7 336.4l-3.4-.7-4.2 12.2 3.4 .7zM1514.3 341.9l-6-2.6-4.6 11.6 6 2.7zM1491 345l-6.6-3.2-5.1 11.3 6.6 3.2zM1484.4 341.8l-6.7-3.3-5 11.2 6.6 3.4zM1452.5 339.5l-6.8-3.5-5.4 10.8 6.8 3.6zM1445.7 336l-6.9-3.6-5.3 10.8 6.8 3.6zM1419.8 335.9l-7-3.8-5.6 10.5 6.9 3.8zM1412.8 332.1l-7-3.8-5.6 10.4 7 3.9zM1393.1 334.8l-7.1-4-6 10.1 7.1 4zM1386 330.8l-7.3-4.1-5.9 10.1 7.2 4.1zM1372.8 336.8l-7.3-4.2-6.2 9.8 7.2 4.2z"/>
<path fill="#ffb41c" d="M1765.5 514.4l-15.3-9.6-8.2 12.1 15.3 9.6zM1750.2 504.8l-15.2-9.5-8.2 12.1 15.2 9.5zM1735 495.3l-15.1-9.3-8.1 12 15 9.4zM1719.9 486l-15-9.3-8.1 12 15 9.3zM1704.9 476.7l-14.8-9.1-8.1 11.9 14.8 9.2zM1690.1 467.6l-14.8-9.1-8 11.8 14.7 9.2zM1675.3 458.5l-14.8-8.9-7.9 11.8 14.7 8.9zM1652.6 461.4l-14.6-8.9-8.6 11.1 14.5 9zM1652.7 428.4l-14.8-8.6-6.7 12.3 14.7 8.7zM1638 452.5l-14.6-8.8-8.5 11.2 14.5 8.7zM1637.9 419.8l-14.7-8.5-6.7 12.3 14.7 8.5zM1590.9 363.7l-11-4.5-4.6 12.7 11 4.6zM1564.8 354.5l-5.5-1.4-4.6 12.5 5.5 1.4zM1559.3 353.1l-4.8-1-4.6 12.4 4.8 1.1zM1554.5 352.1l-4.4-.9-4.6 12.3 4.4 1zM1550.1 351.2l-4-.8-4.7 12.2 4.1 .9zM1536.3 335.7l-3.6-.8-4.2 12.1 3.6 .9zM1528.7 333.8l-4.7-1.7-4.2 12 4.7 1.7zM1497.4 348l-6.4-3-5.1 11.3 6.5 3.2zM1472.7 349.7l-6.7-3.3-5.4 11 6.6 3.4zM1466 346.4l-6.8-3.5-5.4 11 6.8 3.5zM1459.2 342.9l-6.7-3.4-5.4 10.9 6.7 3.5zM1440.3 346.8l-6.8-3.6-5.7 10.6 6.8 3.7zM1433.5 343.2l-6.8-3.6-5.7 10.5 6.8 3.7zM1426.7 339.6l-6.9-3.7-5.7 10.5 6.9 3.7zM1414.1 346.4l-6.9-3.8-6 10.2 6.9 3.9zM1407.2 342.6l-7-3.9-6 10.2 7 3.9zM1366.1 400.8l-6.8-4.1-7.8 8.9 6.8 4.1zM1400.2 338.7l-7.1-3.9-6 10.1 7.1 4zM1394.2 348.9l-7.1-4-6.3 10 7 4zM1387.1 344.9l-7.1-4-6.3 9.9 7.1 4.1zM1380.8 354.9l-7.1-4.1-6.6 9.7 7.1 4.1zM1359.9 383.4l-7-4.2-7.4 9 6.9 4.3zM1380 340.9l-7.2-4.1-6.3 9.8 7.2 4.2zM1373.7 350.8l-7.2-4.2-6.6 9.7 7.2 4.2zM1367.1 360.5l-7.2-4.2-6.9 9.4 7.2 4.2zM1360.2 369.9l-7.2-4.2-7.1 9.2 7 4.3zM1366.5 346.6l-7.2-4.2-6.6 9.6 7.2 4.3zM1359.9 356.3l-7.2-4.3-6.8 9.4 7.1 4.3zM1353 365.7l-7.1-4.3-7.2 9.1 7.2 4.4zM1359.3 342.4l-7.4-4.3-6.5 9.5 7.3 4.4zM1352.7 352l-7.3-4.4-6.8 9.4 7.3 4.4z"/>
<path fill="#ffb418" d="M1757.3 526.5l-15.3-9.6-9 11.6 15.3 9.7zM1711.8 498l-15-9.3-8.8 11.3 14.9 9.4zM1696.8 488.7l-14.8-9.2-8.8 11.3 14.8 9.2zM1682 479.5l-14.7-9.2-8.8 11.3 14.7 9.2zM1667.3 470.3l-14.7-8.9-8.7 11.2 14.6 9zM1614.9 454.9l-14.5-8.6-9 10.6 14.3 8.6zM1591.4 456.9l-14.3-8.3-9.3 10.2 14.1 8.4zM1567.8 458.8l-13.7-7.7-9.5 10 13.6 7.7zM1544.6 461.1l-12.3-6.6-9.6 9.7 12.2 6.6zM1534.9 470.8l-12.2-6.6-9.7 9.6 12.1 6.7zM1503.2 483.3l-9.6-4.8-9.8 9.3 9.5 4.8zM1493.3 492.6l-9.5-4.8-9.9 9.3 9.4 4.9zM1454 515.4l-6.6-3.2-9.9 9.1 6.5 3.3zM1444 524.6l-6.5-3.3-9.9 9 6.4 3.4zM1407.6 548.3l-4.6-2.3-9.9 9 4.5 2.3zM1397.6 557.3l-4.5-2.3-9.9 8.9 4.4 2.4zM1387.6 566.3l-4.4-2.4-10 8.8 4.4 2.5zM1363.2 581.6l-3.4-1.9-9.9 8.9 3.3 1.9zM1353.2 590.5l-3.3-1.9-9.9 8.8 3.2 1.9zM1343.2 599.3l-3.2-1.9-10 8.8 3.2 2zM1333.2 608.2l-3.2-2-9.9 8.7 3.1 2.1zM1330 606.2l-2.7-1.7-9.9 8.7 2.7 1.7zM1320.1 614.9l-2.7-1.7-9.9 8.7 2.6 1.8zM1310.1 623.7l-2.6-1.8-9.9 8.7 2.6 1.9zM1300.2 632.5l-2.6-1.9-9.9 8.8 2.5 1.8zM1290.2 641.2l-2.5-1.8-9.9 8.7 2.5 1.9zM1307.5 621.9l-2.3-1.6-9.8 8.7 2.2 1.6zM1297.6 630.6l-2.2-1.6-9.9 8.7 2.2 1.7zM1287.7 639.4l-2.2-1.7-9.8 8.6 2.1 1.8zM1277.8 648.1l-2.1-1.8-9.9 8.7 2.1 1.8zM1267.9 656.8l-2.1-1.8-9.9 8.6 2.1 1.9zM1258 665.5l-2.1-1.9-9.9 8.7 2.1 1.9zM1285.5 637.7l-2-1.6-9.8 8.6 2 1.6zM1275.7 646.3l-2-1.6-9.8 8.7 1.9 1.6zM1265.8 655l-1.9-1.6-9.9 8.6 1.9 1.6zM1255.9 663.6l-1.9-1.6-9.8 8.6 1.8 1.7zM1263.9 653.4l-1.8-1.5-9.8 8.5 1.7 1.6zM1254 662l-1.7-1.6-9.7 8.6 1.6 1.6zM1249.3 657.7l-1.6-1.5-9.6 8.5 1.5 1.5zM1286.3 622.3l-2.1-1.6-9.6 8.5 2.1 1.6zM1276.7 630.8l-2.1-1.6-9.6 8.4 2 1.7zM1267 639.3l-2-1.7-9.6 8.5 2 1.7zM1257.4 647.8l-2-1.7-9.6 8.4 1.9 1.7zM1247.7 656.2l-1.9-1.7-9.6 8.4 1.9 1.8zM1322.5 586.8l-2.8-1.8-9.5 8.5 2.7 1.8zM1312.9 595.3l-2.7-1.8-9.5 8.4 2.6 1.9zM1303.3 603.8l-2.6-1.9-9.5 8.4 2.6 2zM1293.8 612.3l-2.6-2-9.6 8.5 2.6 1.9zM1366.9 542.4l-3.6-2.3-9.4 8.6 3.6 2.2zM1357.5 550.9l-3.6-2.2-9.4 8.5 3.6 2.3zM1348.1 559.5l-3.6-2.3-9.4 8.5 3.6 2.3zM1338.7 568l-3.6-2.3-9.4 8.4 3.5 2.4zM1391.1 514.2l-4.6-2.7-9.2 8.6 4.6 2.8zM1381.9 522.9l-4.6-2.8-9.2 8.6 4.5 2.8zM1372.6 531.5l-4.5-2.8-9.3 8.6 4.5 2.8zM1395.6 502.7l-5.2-3.1-9.1 8.7 5.2 3.2zM1386.5 511.5l-5.2-3.2-9.1 8.6 5.1 3.2zM1399.4 490.8l-5.6-3.4-9 8.8 5.6 3.4zM1390.4 499.6l-5.6-3.4-9 8.6 5.5 3.5zM1402.6 478.6l-5.8-3.5-8.9 8.8 5.9 3.5zM1393.8 487.4l-5.9-3.5-8.9 8.6 5.8 3.7zM1384.8 496.2l-5.8-3.7-8.9 8.6 5.7 3.7zM1396.8 475.1l-6.1-3.7-8.7 8.7 5.9 3.8zM1387.9 483.9l-5.9-3.8-8.9 8.7 5.9 3.7zM1390.7 471.4l-6.1-3.8-8.7 8.8 6.1 3.7zM1382 480.1l-6.1-3.7-8.8 8.6 6 3.8zM1393.2 458.8l-6.2-3.8-8.6 8.8 6.2 3.8zM1384.6 467.6l-6.2-3.8-8.7 8.7 6.2 3.9zM1375.9 476.4l-6.2-3.9-8.7 8.6 6.1 3.9zM1387 455l-6.3-3.8-8.5 8.7 6.2 3.9zM1378.4 463.8l-6.2-3.9-8.6 8.7 6.1 3.9zM1380.7 451.2l-6.3-3.9-8.5 8.7 6.3 3.9zM1372.2 459.9l-6.3-3.9-8.6 8.6 6.3 4zM1382.8 438.5l-6.4-3.9-8.3 8.8 6.3 3.9zM1374.4 447.3l-6.3-3.9-8.5 8.7 6.3 3.9zM1365.9 456l-6.3-3.9-8.5 8.5 6.2 4zM1376.4 434.6l-6.5-3.9-8.2 8.7 6.4 4zM1368.1 443.4l-6.4-4-8.4 8.7 6.3 4zM1369.9 430.7l-6.4-4-8.3 8.7 6.5 4zM1361.7 439.4l-6.5-4-8.3 8.6 6.4 4.1zM1371.5 417.8l-6.6-4-8 8.9 6.6 4zM1363.5 426.7l-6.6-4-8.2 8.7 6.5 4zM1355.2 435.4l-6.5-4-8.3 8.5 6.5 4.1zM1364.9 413.8l-6.6-4.1-8 8.9 6.6 4.1zM1356.9 422.7l-6.6-4.1-8.1 8.6 6.5 4.2zM1358.3 409.7l-6.8-4.1-7.9 8.8 6.7 4.2zM1350.3 418.6l-6.7-4.2-8.1 8.6 6.7 4.2zM1359.3 396.7l-6.9-4.2-7.7 8.9 6.8 4.2zM1351.5 405.6l-6.8-4.2-7.9 8.7 6.8 4.3zM1343.6 414.4l-6.8-4.3-8.1 8.6 6.8 4.3zM1352.4 392.5l-6.9-4.3-7.7 8.9 6.9 4.3zM1344.7 401.4l-6.9-4.3-7.9 8.7 6.9 4.3zM1352.9 379.2l-7-4.3-7.5 9 7.1 4.3zM1345.5 388.2l-7.1-4.3-7.6 8.9 7 4.3zM1337.8 397.1l-7-4.3-7.8 8.6 6.9 4.4zM1345.9 374.9l-7.2-4.4-7.4 9 7.1 4.4zM1338.4 383.9l-7.1-4.4-7.6 8.8 7.1 4.5zM1345.9 361.4l-7.3-4.4-7.1 9.1 7.2 4.4zM1338.7 370.5l-7.2-4.4-7.4 9 7.2 4.4zM1345.4 347.6l-7.4-4.4-6.8 9.3 7.4 4.5zM1338.6 357l-7.4-4.5-7 9.1 7.3 4.5z"/>
<path fill="#ffb018" d="M1748.3 538.2l-15.3-9.7-9.4 11.2 15.3 9.7zM1742 516.9l-15.2-9.5-8.9 11.5 15.1 9.6zM1733 528.5l-15.1-9.6-9.4 11.1 15.1 9.7zM1726.8 507.4l-15-9.4-8.9 11.4 15 9.5zM1717.9 518.9l-15-9.5-9.4 11 15 9.6zM1702.9 509.4l-14.9-9.4-9.4 11 14.9 9.4zM1688 500l-14.8-9.2-9.3 10.8 14.7 9.4zM1673.2 490.8l-14.7-9.2-9.3 10.8 14.7 9.2zM1658.5 481.6l-14.6-9-9.2 10.7 14.5 9.1zM1643.9 472.6l-14.5-9-9.2 10.7 14.5 9zM1629.4 463.6l-14.5-8.7-9.2 10.6 14.5 8.8zM1605.7 465.5l-14.3-8.6-9.5 10.3 14.3 8.6zM1581.9 467.2l-14.1-8.4-9.6 10 14 8.4zM1558.2 468.8l-13.6-7.7-9.7 9.7 13.5 7.8zM1525.1 480.5l-12.1-6.7-9.8 9.5 12 6.7zM1483.3 502l-9.4-4.9-9.9 9.2 9.3 4.9zM1473.3 511.2l-9.3-4.9-10 9.1 9.2 5.1zM1434 533.7l-6.4-3.4-10 9 6.4 3.4zM1424 542.7l-6.4-3.4-10 9 6.3 3.5zM1413.9 551.8l-6.3-3.5-10 9 6.2 3.5zM1403.8 560.8l-6.2-3.5-10 9 6.1 3.5zM1377.6 575.2l-4.4-2.5-10 8.9 4.3 2.5zM1367.5 584.1l-4.3-2.5-10 8.9 4.3 2.5zM1357.5 593l-4.3-2.5-10 8.8 4.2 2.7zM1347.4 602l-4.2-2.7-10 8.9 4.2 2.7zM1337.4 610.9l-4.2-2.7-10 8.8 4.1 2.8zM1327.3 619.8l-4.1-2.8-10 8.8 4 2.9zM1323.2 617l-3.1-2.1-10 8.8 3.1 2.1zM1313.2 625.8l-3.1-2.1-9.9 8.8 3 2.2zM1303.2 634.7l-3-2.2-10 8.7 3 2.3zM1293.2 643.5l-3-2.3-9.9 8.8 2.9 2.3zM1283.2 652.3l-2.9-2.3-10 8.8 2.8 2.3zM1273.1 661.1l-2.8-2.3-10 8.7 2.8 2.4zM1263.1 669.9l-2.8-2.4-10 8.8 2.8 2.4zM1280.3 650l-2.5-1.9-9.9 8.7 2.4 2zM1270.3 658.8l-2.4-2-9.9 8.7 2.3 2zM1260.3 667.5l-2.3-2-9.9 8.7 2.2 2.1zM1284.2 620.7l-2.6-1.9-9.5 8.4 2.5 2zM1274.6 629.2l-2.5-2-9.6 8.4 2.5 2zM1265 637.6l-2.5-2-9.6 8.4 2.5 2.1zM1255.4 646.1l-2.5-2.1-9.5 8.3 2.4 2.2zM1245.8 654.5l-2.4-2.2-9.6 8.4 2.4 2.2zM1329.2 576.5l-3.5-2.4-9.4 8.5 3.4 2.4zM1319.7 585l-3.4-2.4-9.5 8.4 3.4 2.5zM1310.2 593.5l-3.4-2.5-9.5 8.4 3.4 2.5zM1300.7 601.9l-3.4-2.5-9.5 8.4 3.4 2.5zM1291.2 610.3l-3.4-2.5-9.5 8.4 3.3 2.6zM1281.6 618.8l-3.3-2.6-9.5 8.4 3.3 2.6zM1363.3 540.1l-4.5-2.8-9.3 8.5 4.4 2.9zM1353.9 548.7l-4.4-2.9-9.3 8.5 4.3 2.9zM1344.5 557.2l-4.3-2.9-9.4 8.4 4.3 3zM1335.1 565.7l-4.3-3-9.4 8.4 4.3 3zM1325.7 574.1l-4.3-3-9.4 8.4 4.3 3.1zM1377.3 520.1l-5.1-3.2-9.2 8.5 5.1 3.3zM1368.1 528.7l-5.1-3.3-9.3 8.5 5.1 3.4zM1358.8 537.3l-5.1-3.4-9.2 8.5 5 3.4zM1349.5 545.8l-5-3.4-9.3 8.5 5 3.4zM1340.2 554.3l-5-3.4-9.3 8.4 4.9 3.4zM1381.3 508.3l-5.5-3.5-9.1 8.6 5.5 3.5zM1372.2 516.9l-5.5-3.5-9.1 8.5 5.4 3.5zM1363 525.4l-5.4-3.5-9.2 8.5 5.3 3.5zM1353.7 533.9l-5.3-3.5-9.3 8.4 5.4 3.6zM1375.8 504.8l-5.7-3.7-9.1 8.6 5.7 3.7zM1366.7 513.4l-5.7-3.7-9.1 8.5 5.7 3.7zM1357.6 521.9l-5.7-3.7-9.1 8.4 5.6 3.8zM1379 492.5l-5.9-3.7-8.9 8.6 5.9 3.7zM1370.1 501.1l-5.9-3.7-9 8.5 5.8 3.8zM1361 509.7l-5.8-3.8-9.1 8.4 5.8 3.9zM1351.9 518.2l-5.8-3.9-9.1 8.4 5.8 3.9zM1373.1 488.8l-6-3.8-8.9 8.5 6 3.9zM1364.2 497.4l-6-3.9-9 8.4 6 4zM1355.2 505.9l-6-4-9 8.4 5.9 4zM1367.1 485l-6.1-3.9-8.9 8.5 6.1 3.9zM1358.2 493.5l-6.1-3.9-8.9 8.4 6 3.9zM1349.2 501.9l-6-3.9-9 8.3 6 4zM1369.7 472.5l-6.1-3.9-8.8 8.5 6.2 4zM1361 481.1l-6.2-4-8.8 8.5 6.1 4zM1352.1 489.6l-6.1-4-8.9 8.3 6.1 4.1zM1343.2 498l-6.1-4.1-8.9 8.4 6 4zM1363.6 468.6l-6.3-4-8.7 8.5 6.2 4zM1354.8 477.1l-6.2-4-8.8 8.4 6.2 4.1zM1346 485.6l-6.2-4.1-8.8 8.4 6.1 4zM1357.3 464.6l-6.2-4-8.7 8.5 6.2 4zM1348.6 473.1l-6.2-4-8.7 8.4 6.1 4zM1339.8 481.5l-6.1-4-8.9 8.3 6.2 4.1zM1359.6 452.1l-6.3-4-8.5 8.5 6.3 4zM1351.1 460.6l-6.3-4-8.7 8.4 6.3 4.1zM1342.4 469.1l-6.3-4.1-8.7 8.4 6.3 4.1zM1333.7 477.5l-6.3-4.1-8.7 8.2 6.1 4.2zM1353.3 448.1l-6.4-4.1-8.5 8.5 6.4 4.1zM1344.8 456.6l-6.4-4.1-8.6 8.4 6.3 4.1zM1336.1 465l-6.3-4.1-8.6 8.3 6.2 4.2zM1346.9 444l-6.5-4.1-8.4 8.5 6.4 4.1zM1338.4 452.5l-6.4-4.1-8.6 8.3 6.4 4.2zM1329.8 460.9l-6.4-4.2-8.6 8.3 6.4 4.2zM1348.7 431.4l-6.5-4.2-8.3 8.6 6.5 4.1zM1340.4 439.9l-6.5-4.1-8.4 8.4 6.5 4.2zM1332 448.4l-6.5-4.2-8.5 8.3 6.4 4.2zM1342.2 427.2l-6.7-4.2-8.3 8.5 6.7 4.3zM1333.9 435.8l-6.7-4.3-8.3 8.4 6.6 4.3zM1325.5 444.2l-6.6-4.3-8.5 8.3 6.6 4.3zM1335.5 423l-6.8-4.3-8.2 8.5 6.7 4.3zM1327.2 431.5l-6.7-4.3-8.3 8.3 6.7 4.4zM1318.9 439.9l-6.7-4.4-8.4 8.3 6.6 4.4zM1336.8 410.1l-6.9-4.3-8 8.6 6.8 4.3zM1328.7 418.7l-6.8-4.3-8.2 8.4 6.8 4.4zM1320.5 427.2l-6.8-4.4-8.2 8.3 6.7 4.4zM1329.9 405.8l-6.9-4.4-8 8.5 6.9 4.5zM1321.9 414.4l-6.9-4.5-8.1 8.4 6.8 4.5zM1313.7 422.8l-6.8-4.5-8.3 8.3 6.9 4.5zM1378.7 326.7l-7.3-4.2-5.9 10.1 7.3 4.2zM1330.8 392.8l-7.1-4.5-7.8 8.7 7.1 4.4zM1323 401.4l-7.1-4.4-7.9 8.5 7 4.4zM1315 409.9l-7-4.4-8.1 8.3 7 4.5zM1365.5 332.6l-7.4-4.3-6.2 9.8 7.4 4.3zM1331.3 379.5l-7.2-4.4-7.5 8.7 7.1 4.5zM1323.7 388.3l-7.1-4.5-7.8 8.6 7.1 4.6zM1315.9 397l-7.1-4.6-7.9 8.5 7.1 4.6zM1308 405.5l-7.1-4.6-8.1 8.3 7.1 4.6zM1358.1 328.3l-7.4-4.3-6.2 9.7 7.4 4.4zM1351.9 338.1l-7.4-4.4-6.5 9.5 7.4 4.4zM1331.5 366.1l-7.3-4.5-7.4 8.9 7.3 4.6zM1324.1 375.1l-7.3-4.6-7.5 8.8 7.3 4.5zM1316.6 383.8l-7.3-4.5-7.7 8.5 7.2 4.6zM1308.8 392.4l-7.2-4.6-7.9 8.4 7.2 4.7zM1344.5 333.7l-7.5-4.4-6.4 9.4 7.4 4.5zM1338 343.2l-7.4-4.5-6.8 9.3 7.4 4.5zM1331.2 352.5l-7.4-4.5-7 9.1 7.4 4.5zM1324.2 361.6l-7.4-4.5-7.3 8.9 7.3 4.5zM1316.8 370.5l-7.3-4.5-7.5 8.6 7.3 4.7zM1309.3 379.3l-7.3-4.7-7.7 8.6 7.3 4.6zM1301.6 387.8l-7.3-4.6-7.8 8.3 7.2 4.7zM1337 329.3l-7.6-4.5-6.4 9.4 7.6 4.5zM1330.6 338.7l-7.6-4.5-6.7 9.2 7.5 4.6zM1323.8 348l-7.5-4.6-7 9.1 7.5 4.6zM1316.8 357.1l-7.5-4.6-7.3 8.8 7.5 4.7zM1309.5 366l-7.5-4.7-7.4 8.6 7.4 4.7zM1302 374.6l-7.4-4.7-7.7 8.5 7.4 4.8zM1323 334.2l-7.6-4.6-6.7 9.2 7.6 4.6zM1316.3 343.4l-7.6-4.6-7 9 7.6 4.7zM1309.3 352.5l-7.6-4.7-7.2 8.8 7.5 4.7zM1302 361.3l-7.5-4.7-7.4 8.6 7.5 4.7zM1308.7 338.8l-7.7-4.7-6.9 8.9 7.6 4.8zM1301.7 347.8l-7.6-4.8-7.2 8.8 7.6 4.8z"/>
<path fill="#ffac18" d="M1738.9 549.4l-15.3-9.7-9.7 10.9 15.3 9.9zM1729.2 560.5l-15.3-9.9-9.8 10.8 15.2 10zM1526.1 773.1l-15.5-12.1-10.2 10.4 15.5 12.3zM1515.9 783.7l-15.5-12.3-10.3 10.5 15.6 12.4zM1505.7 794.3l-15.6-12.4-10.2 10.4 15.6 12.5zM1495.5 804.8l-15.6-12.5-10.3 10.4 15.6 12.7zM1485.2 815.4l-15.6-12.7-10.2 10.5 15.6 12.8zM1475 826l-15.6-12.8-10.2 10.4 15.6 12.9zM1464.8 836.5l-15.6-12.9-10.3 10.5 15.7 13zM1723.6 539.7l-15.1-9.7-9.7 10.9 15.1 9.7zM1479.9 792.3l-15.4-12.4-10.3 10.3 15.4 12.5zM1469.6 802.7l-15.4-12.5-10.2 10.4 15.4 12.6zM1459.4 813.2l-15.4-12.6-10.3 10.3 15.5 12.7zM1449.2 823.6l-15.5-12.7-10.3 10.3 15.5 12.9zM1708.5 530l-15-9.6-9.7 10.8 15 9.7zM1433.7 810.9l-15.3-12.6-10.3 10.2 15.3 12.7zM1693.5 520.4l-14.9-9.4-9.6 10.7 14.8 9.5zM1678.6 511l-14.7-9.4-9.7 10.7 14.8 9.4zM1663.9 501.6l-14.7-9.2-9.6 10.6 14.6 9.3zM1649.2 492.4l-14.5-9.1-9.6 10.5 14.5 9.2zM1634.7 483.3l-14.5-9-9.6 10.4 14.5 9.1zM1625.1 493.8l-14.5-9.1-9.8 10.2 14.5 9.1zM1620.2 474.3l-14.5-8.8-9.5 10.3 14.4 8.9zM1610.6 484.7l-14.4-8.9-9.7 10.1 14.3 9zM1596.2 475.8l-14.3-8.6-9.7 10 14.3 8.7zM1586.5 485.9l-14.3-8.7-9.8 9.9 14.2 8.8zM1572.2 477.2l-14-8.4-9.8 9.8 14 8.5zM1562.4 487.1l-14-8.5-9.9 9.7 13.9 8.6zM1548.4 478.6l-13.5-7.8-9.8 9.7 13.4 7.8zM1538.5 488.3l-13.4-7.8-9.9 9.5 13.3 7.9zM1515.2 490l-12-6.7-9.9 9.3 11.9 6.8zM1505.2 499.4l-11.9-6.8-10 9.4 11.8 6.8zM1495.1 508.8l-11.8-6.8-10 9.2 11.7 7zM1463.2 520.5l-9.2-5.1-10 9.2 9.1 5.1zM1453.1 529.7l-9.1-5.1-10 9.1 9 5.1zM1443 538.8l-9-5.1-10 9 8.9 5.3zM1432.9 548l-8.9-5.3-10.1 9.1 8.9 5.3zM1422.8 557.1l-8.9-5.3-10.1 9 8.8 5.4zM1393.7 569.8l-6.1-3.5-10 8.9 6 3.7zM1383.6 578.9l-6-3.7-10.1 8.9 6 3.8zM1373.5 587.9l-6-3.8-10 8.9 5.9 3.9zM1363.4 596.9l-5.9-3.9-10.1 9 5.9 3.8zM1353.3 605.8l-5.9-3.8-10 8.9 5.8 3.9zM1343.2 614.8l-5.8-3.9-10.1 8.9 5.7 4zM1333 623.8l-5.7-4-10.1 8.9 5.7 4.1zM1322.9 632.8l-5.7-4.1-10.1 8.9 5.7 4.2zM1312.8 641.8l-5.7-4.2-10 8.8 5.5 4.3zM1317.2 628.7l-4-2.9-10 8.9 3.9 2.9zM1307.1 637.6l-3.9-2.9-10 8.8 3.9 2.9zM1297.1 646.4l-3.9-2.9-10 8.8 3.8 3zM1287 655.3l-3.8-3-10.1 8.8 3.8 3.1zM1276.9 664.2l-3.8-3.1-10 8.8 3.7 3.2zM1266.8 673.1l-3.7-3.2-10 8.8 3.6 3.3zM1568.8 341.7l-5.4-1.2-4.1 12.6 5.5 1.4zM1272.1 627.2l-3.3-2.6-9.5 8.3 3.2 2.7zM1262.5 635.6l-3.2-2.7-9.6 8.4 3.2 2.7zM1252.9 644l-3.2-2.7-9.5 8.3 3.2 2.7zM1243.4 652.3l-3.2-2.7-9.5 8.3 3.1 2.8zM1316.3 582.6l-4.3-3.1-9.4 8.4 4.2 3.1zM1306.8 591l-4.2-3.1-9.5 8.4 4.2 3.1zM1297.3 599.4l-4.2-3.1-9.4 8.3 4.1 3.2zM1287.8 607.8l-4.1-3.2-9.5 8.4 4.1 3.2zM1278.3 616.2l-4.1-3.2-9.5 8.3 4.1 3.3zM1268.8 624.6l-4.1-3.3-9.5 8.3 4.1 3.3zM1259.3 632.9l-4.1-3.3-9.5 8.3 4 3.4zM1249.7 641.3l-4-3.4-9.5 8.3 4 3.4zM1240.2 649.6l-4-3.4-9.5 8.3 4 3.4zM1330.8 562.7l-4.9-3.4-9.4 8.3 4.9 3.5zM1321.4 571.1l-4.9-3.5-9.4 8.4 4.9 3.5zM1312 579.5l-4.9-3.5-9.4 8.3 4.9 3.6zM1302.6 587.9l-4.9-3.6-9.4 8.4 4.8 3.6zM1293.1 596.3l-4.8-3.6-9.4 8.3 4.8 3.6zM1283.7 604.6l-4.8-3.6-9.4 8.2 4.7 3.8zM1274.2 613l-4.7-3.8-9.5 8.3 4.7 3.8zM1264.7 621.3l-4.7-3.8-9.4 8.3 4.6 3.8zM1255.2 629.6l-4.6-3.8-9.5 8.2 4.6 3.9zM1344.5 542.4l-5.4-3.6-9.2 8.4 5.3 3.7zM1335.2 550.9l-5.3-3.7-9.3 8.3 5.3 3.8zM1325.9 559.3l-5.3-3.8-9.3 8.4 5.2 3.7zM1316.5 567.6l-5.2-3.7-9.4 8.3 5.2 3.8zM1307.1 576l-5.2-3.8-9.3 8.3 5.1 3.8zM1297.7 584.3l-5.1-3.8-9.4 8.3 5.1 3.9zM1288.3 592.7l-5.1-3.9-9.4 8.2 5.1 4zM1278.9 601l-5.1-4-9.4 8.2 5.1 4zM1348.4 530.4l-5.6-3.8-9.2 8.4 5.5 3.8zM1339.1 538.8l-5.5-3.8-9.3 8.3 5.6 3.9zM1329.9 547.2l-5.6-3.9-9.2 8.3 5.5 3.9zM1320.6 555.5l-5.5-3.9-9.3 8.3 5.5 4zM1311.3 563.9l-5.5-4-9.3 8.3 5.4 4zM1301.9 572.2l-5.4-4-9.3 8.2 5.4 4.1zM1292.6 580.5l-5.4-4.1-9.3 8.3 5.3 4.1zM1342.8 526.6l-5.8-3.9-9.2 8.3 5.8 4zM1333.6 535l-5.8-4-9.2 8.3 5.7 4zM1324.3 543.3l-5.7-4-9.2 8.3 5.7 4zM1315.1 551.6l-5.7-4-9.2 8.3 5.6 4zM1305.8 559.9l-5.6-4-9.3 8.2 5.6 4.1zM1296.5 568.2l-5.6-4.1-9.3 8.2 5.6 4.1zM1346.1 514.3l-5.9-4-9.1 8.4 5.9 4zM1337 522.7l-5.9-4-9.1 8.3 5.8 4zM1327.8 531l-5.8-4-9.2 8.3 5.8 4zM1318.6 539.3l-5.8-4-9.1 8.2 5.7 4.1zM1309.4 547.6l-5.7-4.1-9.3 8.2 5.8 4.2zM1300.2 555.9l-5.8-4.2-9.2 8.1 5.7 4.3zM1340.2 510.3l-6-4-9 8.3 5.9 4.1zM1331.1 518.7l-5.9-4.1-9.1 8.3 5.9 4.1zM1322 527l-5.9-4.1-9.1 8.2 5.8 4.2zM1312.8 535.3l-5.8-4.2-9.2 8.2 5.9 4.2zM1303.7 543.5l-5.9-4.2-9.2 8.1 5.8 4.3zM1294.4 551.7l-5.8-4.3-9.2 8.2 5.8 4.2zM1470.9 335.1l-6.7-3.3-5 11.1 6.8 3.5zM1334.2 506.3l-6-4-9 8.2 6 4.1zM1325.2 514.6l-6-4.1-9.1 8.2 6 4.2zM1316.1 522.9l-6-4.2-9.1 8.2 6 4.2zM1307 531.1l-6-4.2-9.1 8.2 5.9 4.2zM1297.8 539.3l-5.9-4.2-9.1 8.1 5.8 4.2zM1337.1 493.9l-6.1-4-8.9 8.3 6.1 4.1zM1328.2 502.3l-6.1-4.1-9 8.2 6.1 4.1zM1319.2 510.5l-6.1-4.1-9 8.2 6 4.1zM1310.1 518.7l-6-4.1-9 8.1 5.9 4.2zM1301 526.9l-5.9-4.2-9.1 8.1 5.9 4.3zM1291.9 535.1l-5.9-4.3-9.1 8 5.9 4.4zM1331 489.9l-6.2-4.1-8.8 8.2 6.1 4.2zM1322.1 498.2l-6.1-4.2-9 8.2 6.1 4.2zM1313.1 506.4l-6.1-4.2-8.9 8.1 6 4.3zM1304.1 514.6l-6-4.3-9 8.1 6 4.3zM1295.1 522.7l-6-4.3-9.1 8.1 6 4.3zM1324.8 485.8l-6.1-4.2-8.9 8.2 6.2 4.2zM1316 494l-6.2-4.2-8.9 8.2 6.1 4.2zM1307 502.2l-6.1-4.2-8.9 8.1 6.1 4.2zM1298.1 510.3l-6.1-4.2-9 8 6.1 4.3zM1289.1 518.4l-6.1-4.3-9 8 6 4.4zM1327.4 473.4l-6.2-4.2-8.8 8.2 6.3 4.2zM1318.7 481.6l-6.3-4.2-8.8 8.2 6.2 4.2zM1309.8 489.8l-6.2-4.2-8.8 8.1 6.1 4.3zM1300.9 498l-6.1-4.3-8.9 8 6.1 4.4zM1292 506.1l-6.1-4.4-9 8 6.1 4.4zM1432 328.8l-6.9-3.6-5.3 10.7 6.9 3.7zM1321.2 469.2l-6.4-4.2-8.7 8.2 6.3 4.2zM1312.4 477.4l-6.3-4.2-8.8 8.1 6.3 4.3zM1303.6 485.6l-6.3-4.3-8.8 8 6.3 4.4zM1294.8 493.7l-6.3-4.4-8.9 8 6.3 4.4zM1285.9 501.7l-6.3-4.4-8.9 8 6.2 4.4zM1425.1 325.2l-7-3.8-5.3 10.7 7 3.8zM1323.4 456.7l-6.4-4.2-8.6 8.2 6.4 4.3zM1314.8 465l-6.4-4.3-8.7 8.1 6.4 4.4zM1306.1 473.2l-6.4-4.4-8.7 8.1 6.3 4.4zM1297.3 481.3l-6.3-4.4-8.8 8 6.3 4.4zM1288.5 489.3l-6.3-4.4-8.9 8 6.3 4.4zM1317 452.5l-6.6-4.3-8.5 8.1 6.5 4.4zM1308.4 460.7l-6.5-4.4-8.7 8.1 6.5 4.4zM1299.7 468.8l-6.5-4.4-8.7 8.1 6.5 4.4zM1291 476.9l-6.5-4.4-8.7 7.9 6.4 4.5zM1405.8 328.3l-7.1-3.9-5.6 10.4 7.1 3.9zM1310.4 448.2l-6.6-4.4-8.5 8.1 6.6 4.4zM1301.9 456.3l-6.6-4.4-8.6 8.1 6.5 4.4zM1293.2 464.4l-6.5-4.4-8.7 8 6.5 4.5zM1284.5 472.5l-6.5-4.5-8.7 7.9 6.5 4.5zM1398.7 324.4l-7.2-4-5.5 10.4 7.1 4zM1312.2 435.5l-6.7-4.4-8.4 8.2 6.7 4.5zM1303.8 443.8l-6.7-4.5-8.5 8.1 6.7 4.5zM1295.3 451.9l-6.7-4.5-8.6 8 6.7 4.6zM1286.7 460l-6.7-4.6-8.6 8 6.6 4.6zM1391.5 320.4l-7.3-4-5.5 10.3 7.3 4.1zM1305.5 431.1l-6.9-4.5-8.4 8.2 6.9 4.5zM1297.1 439.3l-6.9-4.5-8.4 8 6.8 4.6zM1288.6 447.4l-6.8-4.6-8.5 8 6.7 4.6zM1280 455.4l-6.7-4.6-8.6 7.9 6.7 4.7zM1306.9 418.3l-7-4.5-8.2 8.2 6.9 4.6zM1298.6 426.6l-6.9-4.6-8.4 8.1 6.9 4.7zM1290.2 434.8l-6.9-4.7-8.4 8.1 6.9 4.6zM1281.8 442.8l-6.9-4.6-8.5 7.9 6.9 4.7zM1371.4 322.5l-7.4-4.2-5.9 10 7.4 4.3zM1299.9 413.8l-7.1-4.6-8.2 8.2 7.1 4.6zM1291.7 422l-7.1-4.6-8.2 8.1 6.9 4.6zM1283.3 430.1l-6.9-4.6-8.4 7.9 6.9 4.8zM1274.9 438.2l-6.9-4.8-8.5 7.9 6.9 4.8zM1364 318.3l-7.5-4.3-5.8 10 7.4 4.3zM1300.9 400.9l-7.2-4.7-8 8.3 7.1 4.7zM1292.8 409.2l-7.1-4.7-8.2 8.2 7.1 4.7zM1284.6 417.4l-7.1-4.7-8.2 8 7.1 4.8zM1276.4 425.5l-7.1-4.8-8.4 8 7.1 4.7zM1356.5 314l-7.5-4.3-5.8 9.9 7.5 4.4zM1350.7 324l-7.5-4.4-6.2 9.7 7.5 4.4zM1293.7 396.2l-7.2-4.7-8 8.3 7.2 4.7zM1285.7 404.5l-7.2-4.7-8.1 8.1 7.1 4.8zM1277.5 412.7l-7.1-4.8-8.3 8 7.2 4.8zM1269.3 420.7l-7.2-4.8-8.3 7.9 7.1 4.9zM1343.2 319.6l-7.6-4.5-6.2 9.7 7.6 4.5zM1294.3 383.2l-7.4-4.8-7.8 8.4 7.4 4.7zM1286.5 391.5l-7.4-4.7-7.9 8.2 7.3 4.8zM1278.5 399.8l-7.3-4.8-8.1 8 7.3 4.9zM1270.4 407.9l-7.3-4.9-8.2 8 7.2 4.9zM1335.6 315.1l-7.7-4.5-6.1 9.6 7.6 4.6zM1329.4 324.8l-7.6-4.6-6.4 9.4 7.6 4.6zM1294.6 369.9l-7.5-4.7-7.6 8.4 7.4 4.8zM1286.9 378.4l-7.4-4.8-7.8 8.3 7.4 4.9zM1279.1 386.8l-7.4-4.9-7.9 8.2 7.4 4.9zM1271.2 395l-7.4-4.9-8.1 8 7.4 4.9zM1263.1 403l-7.4-4.9-8.1 7.9 7.3 5zM1327.9 310.6l-7.8-4.6-6 9.6 7.7 4.6zM1321.8 320.2l-7.7-4.6-6.4 9.3 7.7 4.7zM1315.4 329.6l-7.7-4.7-6.7 9.2 7.7 4.7zM1294.5 356.6l-7.6-4.8-7.4 8.6 7.6 4.8zM1287.1 365.2l-7.6-4.8-7.5 8.4 7.5 4.8zM1279.5 373.6l-7.5-4.8-7.8 8.2 7.5 4.9zM1271.7 381.9l-7.5-4.9-7.9 8.1 7.5 5zM1263.8 390.1l-7.5-5-8 8 7.4 5zM1314.1 315.6l-7.8-4.7-6.3 9.3 7.7 4.7zM1307.7 324.9l-7.7-4.7-6.7 9.1 7.7 4.8zM1301 334.1l-7.7-4.8-6.9 8.9 7.7 4.8zM1294.1 343l-7.7-4.8-7.1 8.7 7.6 4.9zM1286.9 351.8l-7.6-4.9-7.4 8.6 7.6 4.9zM1279.5 360.4l-7.6-4.9-7.5 8.3 7.6 5zM1272 368.8l-7.6-5-7.8 8.3 7.6 4.9zM1264.2 377l-7.6-4.9-7.8 8 7.5 5zM1256.3 385.1l-7.5-5-8 8 7.5 5zM1306.3 310.9l-7.9-4.7-6.3 9.2 7.9 4.8zM1300 320.2l-7.9-4.8-6.6 9.1 7.8 4.8zM1293.3 329.3l-7.8-4.8-6.8 8.9 7.7 4.8zM1286.4 338.2l-7.7-4.8-7.2 8.6 7.8 4.9zM1279.3 346.9l-7.8-4.9-7.3 8.5 7.7 5zM1271.9 355.5l-7.7-5-7.5 8.4 7.7 4.9zM1264.4 363.8l-7.7-4.9-7.7 8.1 7.6 5.1zM1256.6 372.1l-7.6-5.1-7.8 8.1 7.6 5zM1292.1 315.4l-7.9-4.8-6.5 9 7.8 4.9zM1285.5 324.5l-7.8-4.9-6.9 8.9 7.9 4.9zM1278.7 333.4l-7.9-4.9-7.1 8.6 7.8 4.9zM1271.5 342l-7.8-4.9-7.2 8.4 7.7 5zM1264.2 350.5l-7.7-5-7.5 8.3 7.7 5.1zM1256.7 358.9l-7.7-5.1-7.7 8.2 7.7 5zM1284.2 310.6l-7.9-4.9-6.6 9 8 4.9zM1277.7 319.6l-8-4.9-6.8 8.8 7.9 5zM1270.8 328.5l-7.9-5-7 8.6 7.8 5zM1263.7 337.1l-7.8-5-7.3 8.4 7.9 5zM1256.5 345.5l-7.9-5-7.4 8.3 7.8 5z"/>
<path fill="#ffa818" d="M1719.3 571.4l-15.2-10-10 10.7 15.2 10.1zM1709.3 582.2l-15.2-10.1-10.1 10.6 15.3 10.2zM1699.3 592.9l-15.3-10.2-10.1 10.6 15.3 10.3zM1689.2 603.6l-15.3-10.3-10.1 10.6 15.3 10.4zM1679.1 614.3l-15.3-10.4-10.2 10.5 15.3 10.5zM1668.9 624.9l-15.3-10.5-10.1 10.5 15.3 10.7zM1658.8 635.6l-15.3-10.7-10.2 10.5 15.3 10.8zM1648.6 646.2l-15.3-10.8-10.2 10.5 15.3 10.9zM1638.4 656.8l-15.3-10.9-10.2 10.5 15.3 11zM1628.2 667.4l-15.3-11-10.2 10.5 15.3 11.1zM1618 678l-15.3-11.1-10.3 10.4 15.4 11.2zM1607.8 688.5l-15.4-11.2-10.2 10.5 15.4 11.3zM1597.6 699.1l-15.4-11.3-10.2 10.4 15.4 11.5zM1587.4 709.7l-15.4-11.5-10.2 10.5 15.4 11.6zM1577.2 720.3l-15.4-11.6-10.3 10.5 15.5 11.7zM1567 730.9l-15.5-11.7-10.2 10.4 15.5 11.8zM1556.8 741.4l-15.5-11.8-10.2 10.5 15.5 11.9zM1546.6 752l-15.5-11.9-10.3 10.4 15.5 12.1zM1536.3 762.6l-15.5-12.1-10.2 10.5 15.5 12.1zM1713.9 550.6l-15.1-9.7-9.9 10.7 15.2 9.8zM1704.1 561.4l-15.2-9.8-9.9 10.6 15.1 9.9zM1694.1 572.1l-15.1-9.9-10.1 10.5 15.1 10zM1684 582.7l-15.1-10-10.1 10.5 15.1 10.1zM1673.9 593.3l-15.1-10.1-10.1 10.4 15.1 10.3zM1663.8 603.9l-15.1-10.3-10.2 10.4 15.1 10.4zM1653.6 614.4l-15.1-10.4-10.2 10.4 15.2 10.5zM1643.5 624.9l-15.2-10.5-10.2 10.4 15.2 10.6zM1633.3 635.4l-15.2-10.6-10.2 10.4 15.2 10.7zM1623.1 645.9l-15.2-10.7-10.2 10.3 15.2 10.9zM1612.9 656.4l-15.2-10.9-10.3 10.4 15.3 11zM1602.7 666.9l-15.3-11-10.2 10.3 15.2 11.1zM1592.4 677.3l-15.2-11.1-10.2 10.4 15.2 11.2zM1582.2 687.8l-15.2-11.2-10.3 10.3 15.3 11.3zM1572 698.2l-15.3-11.3-10.2 10.4 15.3 11.4zM1561.8 708.7l-15.3-11.4-10.3 10.3 15.3 11.6zM1551.5 719.2l-15.3-11.6-10.2 10.3 15.3 11.7zM1541.3 729.6l-15.3-11.7-10.3 10.4 15.4 11.8zM1531.1 740.1l-15.4-11.8-10.2 10.3 15.3 11.9zM1520.8 750.5l-15.3-11.9-10.3 10.3 15.4 12.1zM1510.6 761l-15.4-12.1-10.2 10.4 15.4 12.1zM1500.4 771.4l-15.4-12.1-10.3 10.3 15.4 12.3zM1490.1 781.9l-15.4-12.3-10.2 10.3 15.4 12.4zM1698.8 540.9l-15-9.7-9.8 10.6 14.9 9.8zM1688.9 551.6l-14.9-9.8-10 10.5 15 9.9zM1679 562.2l-15-9.9-10.1 10.4 15 10zM1668.9 572.7l-15-10-10.1 10.4 15 10.1zM1658.8 583.2l-15-10.1-10.1 10.3 15 10.2zM1648.7 593.6l-15-10.2-10.2 10.3 15 10.3zM1638.5 604l-15-10.3-10.2 10.3 15 10.4zM1628.3 614.4l-15-10.4-10.2 10.3 15 10.5zM1618.1 624.8l-15-10.5-10.3 10.2 15.1 10.7zM1607.9 635.2l-15.1-10.7-10.2 10.3 15.1 10.7zM1597.7 645.5l-15.1-10.7-10.2 10.2 15 10.9zM1587.4 655.9l-15-10.9-10.3 10.3 15.1 10.9zM1577.2 666.2l-15.1-10.9-10.2 10.2 15.1 11.1zM1567 676.6l-15.1-11.1-10.3 10.2 15.1 11.2zM1556.7 686.9l-15.1-11.2-10.2 10.2 15.1 11.4zM1546.5 697.3l-15.1-11.4-10.3 10.3 15.1 11.4zM1536.2 707.6l-15.1-11.4-10.3 10.2 15.2 11.5zM1526 717.9l-15.2-11.5-10.2 10.2 15.1 11.7zM1515.7 728.3l-15.1-11.7-10.3 10.2 15.2 11.8zM1505.5 738.6l-15.2-11.8-10.3 10.2 15.2 11.9zM1495.2 748.9l-15.2-11.9-10.2 10.2 15.2 12.1zM1485 759.3l-15.2-12.1-10.3 10.3 15.2 12.1zM1474.7 769.6l-15.2-12.1-10.3 10.2 15.3 12.2zM1464.5 779.9l-15.3-12.2-10.2 10.2 15.2 12.3zM1454.2 790.2l-15.2-12.3-10.3 10.2 15.3 12.5zM1444 800.6l-15.3-12.5-10.3 10.2 15.3 12.6zM1683.8 531.2l-14.8-9.5-9.9 10.5 14.9 9.6zM1674 541.8l-14.9-9.6-10 10.4 14.9 9.7zM1664 552.3l-14.9-9.7-10 10.3 14.8 9.8zM1653.9 562.7l-14.8-9.8-10.1 10.3 14.8 9.9zM1643.8 573.1l-14.8-9.9-10.2 10.2 14.9 10zM1633.7 583.4l-14.9-10-10.2 10.2 14.9 10.1zM1623.5 593.7l-14.9-10.1-10.2 10.2 14.9 10.2zM1613.3 604l-14.9-10.2-10.2 10.1 14.9 10.4zM1603.1 614.3l-14.9-10.4-10.2 10.2 14.8 10.4zM1592.8 624.5l-14.8-10.4-10.3 10.1 14.9 10.6zM1582.6 634.8l-14.9-10.6-10.2 10.1 14.9 10.7zM1572.4 645l-14.9-10.7-10.3 10.1 14.9 10.9zM1562.1 655.3l-14.9-10.9-10.3 10.2 15 10.9zM1551.9 665.5l-15-10.9-10.2 10.1 14.9 11zM1541.6 675.7l-14.9-11-10.3 10.1 15 11.1zM1531.4 685.9l-15-11.1-10.3 10.1 15 11.3zM1521.1 696.2l-15-11.3-10.2 10.1 14.9 11.4zM1510.8 706.4l-14.9-11.4-10.3 10.1 15 11.5zM1500.6 716.6l-15-11.5-10.3 10.1 15 11.6zM1490.3 726.8l-15-11.6-10.3 10.1 15 11.7zM1480 737l-15-11.7-10.3 10.1 15.1 11.8zM1469.8 747.2l-15.1-11.8-10.2 10.1 15 12zM1459.5 757.5l-15-12-10.3 10.1 15 12.1zM1449.2 767.7l-15-12.1-10.3 10.1 15.1 12.2zM1439 777.9l-15.1-12.2-10.3 10.1 15.1 12.3zM1428.7 788.1l-15.1-12.3-10.3 10.1 15.1 12.4zM1418.4 798.3l-15.1-12.4-10.3 10 15.1 12.6zM1669 521.7l-14.8-9.4-9.8 10.4 14.7 9.5zM1659.1 532.2l-14.7-9.5-10 10.3 14.7 9.6zM1649.1 542.6l-14.7-9.6-10 10.2 14.7 9.7zM1639.1 552.9l-14.7-9.7-10.2 10.1 14.8 9.9zM1629 563.2l-14.8-9.9-10.1 10.2 14.7 9.9zM1618.8 573.4l-14.7-9.9-10.2 10.1 14.7 10zM1608.6 583.6l-14.7-10-10.2 10 14.7 10.2zM1598.4 593.8l-14.7-10.2-10.3 10.1 14.8 10.2zM1588.2 603.9l-14.8-10.2-10.2 10 14.8 10.4zM1578 614.1l-14.8-10.4-10.2 10 14.7 10.5zM1567.7 624.2l-14.7-10.5-10.3 10 14.8 10.6zM1557.5 634.3l-14.8-10.6-10.3 10 14.8 10.7zM1547.2 644.4l-14.8-10.7-10.2 10 14.7 10.9zM1536.9 654.6l-14.7-10.9-10.3 10 14.8 11zM1526.7 664.7l-14.8-11-10.3 10 14.8 11.1zM1516.4 674.8l-14.8-11.1-10.3 10 14.8 11.2zM1506.1 684.9l-14.8-11.2-10.3 10 14.9 11.3zM1495.9 695l-14.9-11.3-10.2 10 14.8 11.4zM1485.6 705.1l-14.8-11.4-10.3 10 14.8 11.5zM1475.3 715.2l-14.8-11.5-10.3 10 14.8 11.6zM1465 725.3l-14.8-11.6-10.3 10 14.8 11.7zM1454.7 735.4l-14.8-11.7-10.3 9.9 14.9 11.9zM1444.5 745.5l-14.9-11.9-10.3 10 14.9 12zM1434.2 755.6l-14.9-12-10.3 10 14.9 12.1zM1423.9 765.7l-14.9-12.1-10.3 10 14.9 12.2zM1413.6 775.8l-14.9-12.2-10.3 10 14.9 12.3zM1403.3 785.9l-14.9-12.3-10.3 9.9 14.9 12.4zM1654.2 512.3l-14.6-9.3-9.8 10.3 14.6 9.4zM1644.4 522.7l-14.6-9.4-10 10.2 14.6 9.5zM1634.4 533l-14.6-9.5-10 10.1 14.6 9.6zM1624.4 543.2l-14.6-9.6-10.2 10.1 14.6 9.6zM1614.2 553.3l-14.6-9.6-10.1 10 14.6 9.8zM1604.1 563.5l-14.6-9.8-10.2 10 14.6 9.9zM1593.9 573.6l-14.6-9.9-10.2 9.9 14.6 10zM1583.7 583.6l-14.6-10-10.3 9.9 14.6 10.2zM1573.4 593.7l-14.6-10.2-10.2 10 14.6 10.2zM1563.2 603.7l-14.6-10.2-10.3 9.9 14.7 10.3zM1553 613.7l-14.7-10.3-10.2 9.9 14.6 10.4zM1542.7 623.7l-14.6-10.4-10.3 9.9 14.6 10.5zM1532.4 633.7l-14.6-10.5-10.3 9.9 14.7 10.6zM1522.2 643.7l-14.7-10.6-10.3 9.9 14.7 10.7zM1511.9 653.7l-14.7-10.7-10.2 9.8 14.6 10.9zM1501.6 663.7l-14.6-10.9-10.3 9.9 14.6 11zM1491.3 673.7l-14.6-11-10.3 9.9 14.6 11.1zM1481 683.7l-14.6-11.1-10.3 9.9 14.7 11.2zM1470.8 693.7l-14.7-11.2-10.3 9.8 14.7 11.4zM1460.5 703.7l-14.7-11.4-10.3 9.9 14.7 11.5zM1450.2 713.7l-14.7-11.5-10.3 9.9 14.7 11.6zM1439.9 723.7l-14.7-11.6-10.3 9.9 14.7 11.6zM1429.6 733.6l-14.7-11.6-10.3 9.8 14.7 11.8zM1419.3 743.6l-14.7-11.8-10.3 9.9 14.7 11.9zM1409 753.6l-14.7-11.9-10.3 9.9 14.7 12zM1398.7 763.6l-14.7-12-10.3 9.8 14.7 12.2zM1388.4 773.6l-14.7-12.2-10.3 9.9 14.7 12.2zM1639.6 503l-14.5-9.2-9.8 10.2 14.5 9.3zM1629.8 513.3l-14.5-9.3-10 10.1 14.5 9.4zM1619.8 523.5l-14.5-9.4-10 10.1 14.5 9.4zM1609.8 533.6l-14.5-9.4-10.1 9.9 14.4 9.6zM1599.6 543.7l-14.4-9.6-10.2 9.9 14.5 9.7zM1589.5 553.7l-14.5-9.7-10.2 9.9 14.5 9.8zM1528.1 613.3l-14.5-10.3-10.3 9.8 14.5 10.4zM1517.8 623.2l-14.5-10.4-10.3 9.8 14.5 10.5zM1507.5 633.1l-14.5-10.5-10.3 9.7 14.5 10.7zM1497.2 643l-14.5-10.7-10.2 9.8 14.5 10.7zM1487 652.8l-14.5-10.7-10.3 9.8 14.5 10.8zM1476.7 662.7l-14.5-10.8-10.3 9.7 14.5 11zM1466.4 672.6l-14.5-11-10.3 9.8 14.5 11.1zM1456.1 682.5l-14.5-11.1-10.3 9.8 14.5 11.1zM1445.8 692.3l-14.5-11.1-10.3 9.7 14.5 11.3zM1435.5 702.2l-14.5-11.3-10.3 9.8 14.5 11.4zM1425.2 712.1l-14.5-11.4-10.3 9.7 14.5 11.6zM1414.9 722l-14.5-11.6-10.3 9.8 14.5 11.6zM1404.6 731.8l-14.5-11.6-10.3 9.7 14.5 11.8zM1394.3 741.7l-14.5-11.8-10.4 9.8 14.6 11.9zM1384 751.6l-14.6-11.9-10.3 9.7 14.6 12zM1373.7 761.4l-14.6-12-10.3 9.8 14.6 12.1zM1615.3 504l-14.5-9.1-9.9 10 14.4 9.2zM1605.3 514.1l-14.4-9.2-10 10 14.4 9.3zM1595.3 524.2l-14.4-9.3-10.1 9.8 14.4 9.4zM1585.2 534.1l-14.4-9.4-10.2 9.8 14.4 9.5zM1575 544l-14.4-9.5-10.2 9.8 14.4 9.6zM1482.7 632.3l-14.3-10.4-10.3 9.6 14.4 10.6zM1472.5 642.1l-14.4-10.6-10.3 9.7 14.4 10.7zM1462.2 651.9l-14.4-10.7-10.3 9.6 14.4 10.8zM1451.9 661.6l-14.4-10.8-10.3 9.7 14.4 10.9zM1441.6 671.4l-14.4-10.9-10.3 9.6 14.4 11.1zM1431.3 681.2l-14.4-11.1-10.3 9.7 14.4 11.1zM1421 690.9l-14.4-11.1-10.3 9.6 14.4 11.3zM1410.7 700.7l-14.4-11.3-10.3 9.6 14.4 11.4zM1400.4 710.4l-14.4-11.4-10.3 9.7 14.4 11.5zM1390.1 720.2l-14.4-11.5-10.3 9.6 14.4 11.6zM1379.8 729.9l-14.4-11.6-10.3 9.7 14.3 11.7zM1369.4 739.7l-14.3-11.7-10.3 9.6 14.3 11.8zM1359.1 749.4l-14.3-11.8-10.3 9.6 14.3 12zM1600.8 494.9l-14.3-9-9.9 10 14.3 9zM1590.9 504.9l-14.3-9-10 9.8 14.3 9.2zM1580.9 514.9l-14.3-9.2-10.1 9.8 14.3 9.2zM1570.8 524.7l-14.3-9.2-10.1 9.7 14.2 9.3zM1560.6 534.5l-14.2-9.3-10.2 9.7 14.2 9.4zM1437.5 650.8l-14.1-10.6-10.3 9.5 14.1 10.8zM1427.2 660.5l-14.1-10.8-10.3 9.6 14.1 10.8zM1416.9 670.1l-14.1-10.8-10.3 9.5 14.1 11zM1406.6 679.8l-14.1-11-10.3 9.5 14.1 11.1zM1396.3 689.4l-14.1-11.1-10.3 9.6 14.1 11.1zM1386 699l-14.1-11.1-10.3 9.5 14.1 11.3zM1375.7 708.7l-14.1-11.3-10.3 9.5 14.1 11.4zM1365.4 718.3l-14.1-11.4-10.3 9.5 14.1 11.6zM1355.1 728l-14.1-11.6-10.3 9.6 14.1 11.6zM1344.8 737.6l-14.1-11.6-10.3 9.5 14.1 11.7zM1576.6 495.9l-14.2-8.8-10 9.8 14.2 8.8zM1566.6 505.7l-14.2-8.8-10 9.6 14.1 9zM1556.5 515.5l-14.1-9-10.1 9.6 14.1 9.1zM1546.4 525.2l-14.1-9.1-10.2 9.6 14.1 9.2zM1536.2 534.9l-14.1-9.2-10.1 9.6 14 9.2zM1402.8 659.3l-13.9-10.6-10.3 9.4 13.9 10.7zM1392.5 668.8l-13.9-10.7-10.3 9.4 13.9 10.8zM1382.2 678.3l-13.9-10.8-10.3 9.4 13.9 11zM1371.9 687.9l-13.9-11-10.3 9.4 13.9 11.1zM1361.6 697.4l-13.9-11.1-10.3 9.5 13.9 11.1zM1351.3 706.9l-13.9-11.1-10.2 9.4 13.8 11.2zM1341 716.4l-13.8-11.2-10.3 9.4 13.8 11.4zM1330.7 726l-13.8-11.4-10.3 9.4 13.8 11.5zM1628.8 398.5l-14.7-8-5.6 12.7 14.7 8.1zM1552.4 496.9l-13.9-8.6-10 9.6 13.9 8.6zM1542.4 506.5l-13.9-8.6-10 9.6 13.8 8.6zM1532.3 516.1l-13.8-8.6-10.2 9.4 13.8 8.8zM1522.1 525.7l-13.8-8.8-10.1 9.5 13.8 8.9zM1512 535.3l-13.8-8.9-10.2 9.4 13.8 9zM1501.8 544.8l-13.8-9-10.2 9.4 13.8 9.1zM1378.6 658.1l-13.5-10.3-10.2 9.3 13.4 10.4zM1368.3 667.5l-13.4-10.4-10.3 9.3 13.4 10.5zM1358 676.9l-13.4-10.5-10.3 9.3 13.4 10.6zM1347.7 686.3l-13.4-10.6-10.2 9.3 13.3 10.8zM1337.4 695.8l-13.3-10.8-10.3 9.3 13.4 10.9zM1327.2 705.2l-13.4-10.9-10.3 9.2 13.4 11.1zM1316.9 714.6l-13.4-11.1-10.3 9.3 13.4 11.2zM1528.5 497.9l-13.3-7.9-10 9.4 13.3 8.1zM1518.5 507.5l-13.3-8.1-10.1 9.4 13.2 8.1zM1508.3 516.9l-13.2-8.1-10.1 9.4 13.2 8.2zM1498.2 526.4l-13.2-8.2-10.1 9.3 13.1 8.3zM1488 535.8l-13.1-8.3-10.1 9.3 13 8.4zM1477.8 545.2l-13-8.4-10.2 9.2 13 8.5zM1467.6 554.5l-13-8.5-10.2 9.3 13 8.6zM1457.4 563.9l-13-8.6-10.2 9.2 13 8.7zM1447.2 573.2l-13-8.7-10.2 9.3 13 8.8zM1437 582.6l-13-8.8-10.2 9.2 12.9 8.9zM1375.4 638.5l-12.7-9.5-10.2 9.1 12.6 9.7zM1365.1 647.8l-12.6-9.7-10.3 9.2 12.7 9.8zM1354.9 657.1l-12.7-9.8-10.2 9.2 12.6 9.9zM1344.6 666.4l-12.6-9.9-10.3 9.2 12.6 10zM1334.3 675.7l-12.6-10-10.2 9.2 12.6 10.1zM1324.1 685l-12.6-10.1-10.3 9.1 12.6 10.3zM1313.8 694.3l-12.6-10.3-10.2 9.2 12.5 10.3zM1303.5 703.5l-12.5-10.3-10.3 9.2 12.5 10.4zM1485 518.2l-11.7-7-10.1 9.3 11.7 7zM1474.9 527.5l-11.7-7-10.1 9.2 11.7 7.1zM1464.8 536.8l-11.7-7.1-10.1 9.1 11.6 7.2zM1454.6 546l-11.6-7.2-10.1 9.2 11.5 7.3zM1444.4 555.3l-11.5-7.3-10.1 9.1 11.4 7.4zM1434.2 564.5l-11.4-7.4-10.2 9.1 11.4 7.6zM1424 573.8l-11.4-7.6-10.1 9.2 11.3 7.6zM1413.8 583l-11.3-7.6-10.2 9.1 11.3 7.7zM1403.6 592.2l-11.3-7.7-10.2 9.1 11.3 7.8zM1393.4 601.4l-11.3-7.8-10.1 9 11.2 8zM1383.2 610.6l-11.2-8-10.2 9.1 11.1 8.1zM1372.9 619.8l-11.1-8.1-10.2 9.1 11.1 8.2zM1362.7 629l-11.1-8.2-10.2 9.1 11.1 8.2zM1352.5 638.1l-11.1-8.2-10.2 9.1 11 8.3zM1342.2 647.3l-11-8.3-10.2 9 11 8.5zM1332 656.5l-11-8.5-10.2 9.1 10.9 8.6zM1321.7 665.7l-10.9-8.6-10.2 9.1 10.9 8.7zM1311.5 674.9l-10.9-8.7-10.2 9 10.8 8.8zM1301.2 684l-10.8-8.8-10.2 9.1 10.8 8.9zM1291 693.2l-10.8-8.9-10.2 9 10.7 9.1zM1412.6 566.2l-8.8-5.4-10.1 9 8.8 5.6zM1402.5 575.4l-8.8-5.6-10.1 9.1 8.7 5.6zM1392.3 584.5l-8.7-5.6-10.1 9 8.6 5.7zM1382.1 593.6l-8.6-5.7-10.1 9 8.6 5.7zM1372 602.6l-8.6-5.7-10.1 8.9 8.5 5.9zM1361.8 611.7l-8.5-5.9-10.1 9 8.4 6zM1351.6 620.8l-8.4-6-10.2 9 8.4 6.1zM1341.4 629.9l-8.4-6.1-10.1 9 8.3 6.2zM1331.2 639l-8.3-6.2-10.1 9 8.2 6.2zM1321 648l-8.2-6.2-10.2 8.9 8.2 6.4zM1310.8 657.1l-8.2-6.4-10.1 9 8.1 6.5zM1300.6 666.2l-8.1-6.5-10.2 8.9 8.1 6.6zM1290.4 675.2l-8.1-6.6-10.1 9 8 6.7zM1280.2 684.3l-8-6.7-10.2 9 8 6.7zM1302.6 650.7l-5.5-4.3-10.1 8.9 5.5 4.4zM1292.5 659.7l-5.5-4.4-10.1 8.9 5.4 4.4zM1282.3 668.6l-5.4-4.4-10.1 8.9 5.4 4.5zM1272.2 677.6l-5.4-4.5-10.1 8.9 5.3 4.6zM1563.4 340.5l-4.8-.9-4.1 12.5 4.8 1zM1558.6 339.6l-4.4-.8-4.1 12.4 4.4 .9zM1554.2 338.8l-4-.8-4.1 12.4 4 .8zM1550.2 338l-3.7-.6-4.2 12.3 3.8 .7zM1546.5 337.4l-3.5-.5-4.2 12.2 3.5 .6zM1543 336.9l-3.3-.5-4.2 12.2 3.3 .5zM1543.4 324l-3.3-.5-3.8 12.2 3.4 .7zM1532.5 321.6l-4.7-1.5-3.8 12 4.7 1.7zM1245.7 637.9l-4.6-3.9-9.4 8.3 4.5 3.9zM1236.2 646.2l-4.5-3.9-9.5 8.2 4.5 4zM1269.5 609.2l-5.1-4-9.4 8.3 5 4zM1260 617.5l-5-4-9.4 8.2 5 4.1zM1250.6 625.8l-5-4.1-9.4 8.2 4.9 4.1zM1241.1 634l-4.9-4.1-9.5 8.2 5 4.2zM1231.7 642.3l-5-4.2-9.4 8.2 4.9 4.2zM1502.1 336.4l-6.5-3-4.6 11.6 6.4 3zM1283.2 588.8l-5.3-4.1-9.4 8.2 5.3 4.1zM1273.8 597l-5.3-4.1-9.4 8.2 5.3 4.1zM1264.4 605.2l-5.3-4.1-9.3 8.1 5.2 4.3zM1255 613.5l-5.2-4.3-9.4 8.2 5.2 4.3zM1245.6 621.7l-5.2-4.3-9.4 8.1 5.2 4.4zM1236.2 629.9l-5.2-4.4-9.4 8.2 5.1 4.4zM1226.7 638.1l-5.1-4.4-9.5 8.1 5.2 4.5zM1495.6 333.4l-6.6-3.1-4.6 11.5 6.6 3.2zM1287.2 576.4l-5.6-4.1-9.3 8.1 5.6 4.3zM1277.9 584.7l-5.6-4.3-9.3 8.2 5.5 4.3zM1268.5 592.9l-5.5-4.3-9.3 8.1 5.4 4.4zM1259.1 601.1l-5.4-4.4-9.4 8.2 5.5 4.3zM1249.8 609.2l-5.5-4.3-9.3 8.1 5.4 4.4zM1240.4 617.4l-5.4-4.4-9.4 8.1 5.4 4.4zM1231 625.5l-5.4-4.4-9.4 8.1 5.4 4.5zM1221.6 633.7l-5.4-4.5-9.4 8 5.3 4.6zM1290.9 564.1l-5.7-4.3-9.2 8.2 5.6 4.3zM1281.6 572.3l-5.6-4.3-9.3 8.1 5.6 4.3zM1272.3 580.4l-5.6-4.3-9.3 8.1 5.6 4.4zM1263 588.6l-5.6-4.4-9.3 8.1 5.6 4.4zM1253.7 596.7l-5.6-4.4-9.3 8.1 5.5 4.5zM1244.3 604.9l-5.5-4.5-9.3 8 5.5 4.6zM1235 613l-5.5-4.6-9.4 8.1 5.5 4.6zM1225.6 621.1l-5.5-4.6-9.3 8 5.4 4.7zM1216.2 629.2l-5.4-4.7-9.4 8.1 5.4 4.6zM1285.2 559.8l-5.8-4.2-9.2 8.1 5.8 4.3zM1276 568l-5.8-4.3-9.2 8 5.7 4.4zM1266.7 576.1l-5.7-4.4-9.3 8.1 5.7 4.4zM1257.4 584.2l-5.7-4.4-9.2 8 5.6 4.5zM1248.1 592.3l-5.6-4.5-9.3 8.1 5.6 4.5zM1238.8 600.4l-5.6-4.5-9.3 8 5.6 4.5zM1229.5 608.4l-5.6-4.5-9.3 8 5.5 4.6zM1220.1 616.5l-5.5-4.6-9.4 7.9 5.6 4.7zM1210.8 624.5l-5.6-4.7-9.3 8 5.5 4.8zM1288.6 547.4l-5.8-4.2-9.2 8 5.8 4.4zM1279.4 555.6l-5.8-4.4-9.2 8.1 5.8 4.4zM1270.2 563.7l-5.8-4.4-9.2 8 5.8 4.4zM1261 571.7l-5.8-4.4-9.2 8 5.7 4.5zM1251.7 579.8l-5.7-4.5-9.2 8 5.7 4.5zM1242.5 587.8l-5.7-4.5-9.3 8 5.7 4.6zM1233.2 595.9l-5.7-4.6-9.3 7.9 5.7 4.7zM1223.9 603.9l-5.7-4.7-9.2 8 5.6 4.7zM1214.6 611.9l-5.6-4.7-9.3 7.9 5.5 4.7zM1205.2 619.8l-5.5-4.7-9.3 7.9 5.5 4.8zM1464.2 331.8l-6.8-3.4-4.9 11.1 6.7 3.4zM1282.8 543.2l-5.9-4.4-9.1 8.1 5.8 4.3zM1273.6 551.2l-5.8-4.3-9.2 8 5.8 4.4zM1264.4 559.3l-5.8-4.4-9.2 7.9 5.8 4.5zM1255.2 567.3l-5.8-4.5-9.2 8 5.8 4.5zM1246 575.3l-5.8-4.5-9.2 7.9 5.8 4.6zM1236.8 583.3l-5.8-4.6-9.2 8 5.7 4.6zM1227.5 591.3l-5.7-4.6-9.3 7.9 5.7 4.6zM1218.2 599.2l-5.7-4.6-9.2 7.9 5.7 4.7zM1209 607.2l-5.7-4.7-9.3 7.9 5.7 4.7zM1199.7 615.1l-5.7-4.7-9.2 7.8 5.6 4.8zM1457.4 328.4l-6.8-3.5-4.9 11.1 6.8 3.5zM1286 530.8l-6-4.3-9.1 8 6 4.3zM1276.9 538.8l-6-4.3-9.1 7.9 6 4.5zM1267.8 546.9l-6-4.5-9.1 8 5.9 4.5zM1258.6 554.9l-5.9-4.5-9.1 7.9 5.8 4.5zM1249.4 562.8l-5.8-4.5-9.2 7.9 5.8 4.6zM1240.2 570.8l-5.8-4.6-9.2 7.9 5.8 4.6zM1231 578.7l-5.8-4.6-9.2 7.9 5.8 4.7zM1221.8 586.7l-5.8-4.7-9.2 7.9 5.7 4.7zM1212.5 594.6l-5.7-4.7-9.2 7.8 5.7 4.8zM1203.3 602.5l-5.7-4.8-9.2 7.9 5.6 4.8zM1194 610.4l-5.6-4.8-9.3 7.8 5.7 4.8zM1450.6 324.9l-6.8-3.5-5 11 6.9 3.6zM1280 526.5l-6-4.4-9 8 5.9 4.4zM1270.9 534.5l-5.9-4.4-9.1 7.9 5.9 4.4zM1261.8 542.4l-5.9-4.4-9.1 7.9 5.9 4.5zM1252.7 550.4l-5.9-4.5-9.1 7.9 5.9 4.5zM1243.6 558.3l-5.9-4.5-9.2 7.9 5.9 4.5zM1234.4 566.2l-5.9-4.5-9.1 7.8 5.8 4.6zM1225.2 574.1l-5.8-4.6-9.2 7.8 5.8 4.7zM1216 582l-5.8-4.7-9.2 7.8 5.8 4.8zM1206.8 589.9l-5.8-4.8-9.1 7.8 5.7 4.8zM1197.6 597.7l-5.7-4.8-9.2 7.8 5.7 4.9zM1188.4 605.6l-5.7-4.9-9.3 7.8 5.7 4.9zM1283 514.1l-6.1-4.4-9 8 6.1 4.4zM1274 522.1l-6.1-4.4-9 7.9 6.1 4.5zM1265 530.1l-6.1-4.5-9 7.9 6 4.5zM1255.9 538l-6-4.5-9.1 7.9 6 4.5zM1246.8 545.9l-6-4.5-9.1 7.8 6 4.6zM1237.7 553.8l-6-4.6-9.1 7.8 5.9 4.7zM1228.5 561.7l-5.9-4.7-9.1 7.8 5.9 4.7zM1219.4 569.5l-5.9-4.7-9.1 7.8 5.8 4.7zM1210.2 577.3l-5.8-4.7-9.2 7.7 5.8 4.8zM1201 585.1l-5.8-4.8-9.2 7.8 5.9 4.8zM1191.9 592.9l-5.9-4.8-9.1 7.7 5.8 4.9zM1182.7 600.7l-5.8-4.9-9.2 7.7 5.7 5zM1276.9 509.7l-6.2-4.4-8.9 7.9 6.1 4.5zM1267.9 517.7l-6.1-4.5-9 7.9 6.1 4.5zM1258.9 525.6l-6.1-4.5-9 7.8 6.1 4.6zM1249.9 533.5l-6.1-4.6-9 7.8 6 4.7zM1240.8 541.4l-6-4.7-9.1 7.8 6 4.7zM1231.7 549.2l-6-4.7-9.1 7.8 6 4.7zM1222.6 557l-6-4.7-9.1 7.7 6 4.8zM1213.5 564.8l-6-4.8-9.1 7.8 6 4.8zM1204.4 572.6l-6-4.8-9.1 7.7 5.9 4.8zM1195.2 580.3l-5.9-4.8-9.1 7.7 5.8 4.9zM1186 588.1l-5.8-4.9-9.2 7.7 5.9 4.9zM1176.9 595.8l-5.9-4.9-9.1 7.6 5.8 5zM1279.6 497.3l-6.3-4.4-8.8 7.9 6.2 4.5zM1270.7 505.3l-6.2-4.5-9 7.9 6.3 4.5zM1261.8 513.2l-6.3-4.5-8.9 7.8 6.2 4.6zM1252.8 521.1l-6.2-4.6-9 7.8 6.2 4.6zM1243.8 528.9l-6.2-4.6-9 7.8 6.2 4.6zM1234.8 536.7l-6.2-4.6-9 7.7 6.1 4.7zM1225.7 544.5l-6.1-4.7-9.1 7.7 6.1 4.8zM1216.6 552.3l-6.1-4.8-9 7.7 6 4.8zM1207.5 560l-6-4.8-9.1 7.7 6 4.9zM1198.4 567.8l-6-4.9-9.1 7.7 6 4.9zM1189.3 575.5l-6-4.9-9.1 7.6 6 5zM1418.1 321.4l-7.1-3.7-5.2 10.6 7 3.8zM1282.2 484.9l-6.4-4.5-8.8 8 6.3 4.5zM1273.3 492.9l-6.3-4.5-8.9 7.8 6.4 4.6zM1264.5 500.8l-6.4-4.6-8.9 7.9 6.3 4.6zM1255.5 508.7l-6.3-4.6-8.9 7.7 6.3 4.7zM1246.6 516.5l-6.3-4.7-8.9 7.8 6.2 4.7zM1237.6 524.3l-6.2-4.7-9 7.7 6.2 4.8zM1228.6 532.1l-6.2-4.8-9 7.7 6.2 4.8zM1219.6 539.8l-6.2-4.8-9 7.7 6.1 4.8zM1210.5 547.5l-6.1-4.8-9.1 7.6 6.2 4.9zM1201.5 555.2l-6.2-4.9-9 7.7 6.1 4.9zM1192.4 562.9l-6.1-4.9-9.1 7.6 6.1 5zM1411 317.7l-7.1-3.9-5.2 10.6 7.1 3.9zM1275.8 480.4l-6.5-4.5-8.8 7.9 6.5 4.6zM1267 488.4l-6.5-4.6-8.8 7.8 6.4 4.6zM1258.1 496.2l-6.4-4.6-8.9 7.8 6.4 4.7zM1249.2 504.1l-6.4-4.7-8.9 7.7 6.4 4.7zM1240.3 511.8l-6.4-4.7-8.9 7.7 6.4 4.8zM1231.4 519.6l-6.4-4.8-8.9 7.7 6.3 4.8zM1222.4 527.3l-6.3-4.8-9 7.6 6.3 4.9zM1213.4 535l-6.3-4.9-9 7.7 6.3 4.9zM1204.4 542.7l-6.3-4.9-9 7.6 6.2 4.9zM1403.9 313.8l-7.2-3.9-5.2 10.5 7.2 4zM1278 468l-6.6-4.6-8.7 7.9 6.6 4.6zM1269.3 475.9l-6.6-4.6-8.8 7.8 6.6 4.7zM1260.5 483.8l-6.6-4.7-8.7 7.8 6.5 4.7zM1251.7 491.6l-6.5-4.7-8.9 7.7 6.5 4.8zM1242.8 499.4l-6.5-4.8-8.8 7.7 6.4 4.8zM1233.9 507.1l-6.4-4.8-8.9 7.7 6.4 4.8zM1225 514.8l-6.4-4.8-8.9 7.6 6.4 4.9zM1216.1 522.5l-6.4-4.9-9 7.6 6.4 4.9zM1207.1 530.1l-6.4-4.9-8.9 7.6 6.3 5zM1271.4 463.4l-6.7-4.7-8.7 7.9 6.7 4.7zM1262.7 471.3l-6.7-4.7-8.7 7.7 6.6 4.8zM1253.9 479.1l-6.6-4.8-8.8 7.8 6.7 4.8zM1245.2 486.9l-6.7-4.8-8.8 7.7 6.6 4.8zM1236.3 494.6l-6.6-4.8-8.8 7.6 6.6 4.9zM1227.5 502.3l-6.6-4.9-8.8 7.6 6.5 5zM1218.6 510l-6.5-5-8.9 7.6 6.5 5zM1209.7 517.6l-6.5-5-8.9 7.6 6.4 5zM1384.2 316.4l-7.3-4.1-5.5 10.2 7.3 4.2zM1273.3 450.8l-6.9-4.7-8.5 7.9 6.8 4.7zM1264.7 458.7l-6.8-4.7-8.7 7.8 6.8 4.8zM1256 466.6l-6.8-4.8-8.6 7.7 6.7 4.8zM1247.3 474.3l-6.7-4.8-8.8 7.7 6.7 4.9zM1238.5 482.1l-6.7-4.9-8.7 7.7 6.6 4.9zM1229.7 489.8l-6.6-4.9-8.8 7.6 6.6 4.9zM1220.9 497.4l-6.6-4.9-8.9 7.5 6.7 5zM1212.1 505l-6.7-5-8.8 7.6 6.6 5zM1376.9 312.3l-7.4-4.2-5.5 10.2 7.4 4.2zM1266.4 446.1l-6.9-4.8-8.5 7.9 6.9 4.8zM1257.9 454l-6.9-4.8-8.6 7.7 6.8 4.9zM1249.2 461.8l-6.8-4.9-8.7 7.7 6.9 4.9zM1240.6 469.5l-6.9-4.9-8.7 7.7 6.8 4.9zM1231.8 477.2l-6.8-4.9-8.7 7.6 6.8 5zM1223.1 484.9l-6.8-5-8.8 7.5 6.8 5.1zM1214.3 492.5l-6.8-5.1-8.8 7.5 6.7 5.1zM1369.5 308.1l-7.5-4.2-5.5 10.1 7.5 4.3zM1268 433.4l-7.1-4.7-8.4 7.8 7 4.8zM1259.5 441.3l-7-4.8-8.5 7.8 7 4.9zM1251 449.2l-7-4.9-8.6 7.7 7 4.9zM1242.4 456.9l-7-4.9-8.6 7.7 6.9 4.9zM1233.7 464.6l-6.9-4.9-8.7 7.6 6.9 5zM1225 472.3l-6.9-5-8.7 7.5 6.9 5.1zM1216.3 479.9l-6.9-5.1-8.7 7.5 6.8 5.1zM1260.9 428.7l-7.1-4.9-8.4 7.8 7.1 4.9zM1252.5 436.5l-7.1-4.9-8.5 7.7 7.1 5zM1244 444.3l-7.1-5-8.5 7.7 7 5zM1235.4 452l-7-5-8.6 7.6 7 5.1zM1226.8 459.7l-7-5.1-8.6 7.6 6.9 5.1zM1218.1 467.3l-6.9-5.1-8.7 7.5 6.9 5.1zM1349 309.7l-7.7-4.4-5.7 9.8 7.6 4.5zM1262.1 415.9l-7.2-4.9-8.3 7.9 7.2 4.9zM1253.8 423.8l-7.2-4.9-8.4 7.7 7.2 5zM1245.4 431.6l-7.2-5-8.4 7.7 7.1 5zM1236.9 439.3l-7.1-5-8.5 7.6 7.1 5.1zM1228.4 447l-7.1-5.1-8.6 7.6 7.1 5.1zM1219.8 454.6l-7.1-5.1-8.6 7.5 7.1 5.2zM1341.3 305.3l-7.7-4.5-5.7 9.8 7.7 4.5zM1254.9 411l-7.3-5-8.3 7.9 7.3 5zM1246.6 418.9l-7.3-5-8.3 7.7 7.2 5zM1238.2 426.6l-7.2-5-8.4 7.6 7.2 5.1zM1229.8 434.3l-7.2-5.1-8.5 7.6 7.2 5.1zM1221.3 441.9l-7.2-5.1-8.5 7.5 7.1 5.2zM1212.7 449.5l-7.1-5.2-8.6 7.5 7.1 5.2zM1333.6 300.8l-7.7-4.6-5.8 9.8 7.8 4.6zM1255.7 398.1l-7.4-5-8.1 7.9 7.4 5zM1247.6 406l-7.4-5-8.3 7.8 7.4 5.1zM1239.3 413.9l-7.4-5.1-8.3 7.7 7.4 5.1zM1231 421.6l-7.4-5.1-8.3 7.6 7.3 5.1zM1222.6 429.2l-7.3-5.1-8.5 7.5 7.3 5.2zM1214.1 436.8l-7.3-5.2-8.5 7.5 7.3 5.2zM1320.1 306l-7.8-4.6-6 9.5 7.8 4.7zM1248.3 393.1l-7.5-5-8.1 7.8 7.5 5.1zM1240.2 401l-7.5-5.1-8.2 7.8 7.4 5.1zM1231.9 408.8l-7.4-5.1-8.3 7.6 7.4 5.2zM1223.6 416.5l-7.4-5.2-8.3 7.6 7.4 5.2zM1215.3 424.1l-7.4-5.2-8.4 7.5 7.3 5.2zM1312.3 301.4l-7.9-4.7-6 9.5 7.9 4.7zM1248.8 380.1l-7.6-5-8 7.9 7.6 5.1zM1240.8 388.1l-7.6-5.1-8 7.8 7.5 5.1zM1232.7 395.9l-7.5-5.1-8.2 7.7 7.5 5.2zM1224.5 403.7l-7.5-5.2-8.2 7.6 7.4 5.2zM1216.2 411.3l-7.4-5.2-8.4 7.5 7.5 5.3zM1304.4 296.7l-7.9-4.8-6 9.5 7.9 4.8zM1298.4 306.2l-7.9-4.8-6.3 9.2 7.9 4.8zM1249 367l-7.7-5-7.8 8 7.7 5.1zM1241.2 375.1l-7.7-5.1-7.9 7.8 7.6 5.2zM1233.2 383l-7.6-5.2-8 7.8 7.6 5.2zM1225.2 390.8l-7.6-5.2-8.2 7.6 7.6 5.3zM1217 398.5l-7.6-5.3-8.2 7.6 7.6 5.3zM1208.8 406.1l-7.6-5.3-8.3 7.5 7.5 5.3zM1296.5 291.9l-8-4.8-5.9 9.4 7.9 4.9zM1290.5 301.4l-7.9-4.9-6.3 9.2 7.9 4.9zM1249 353.8l-7.8-5-7.6 8 7.7 5.2zM1241.3 362l-7.7-5.2-7.8 8 7.7 5.2zM1233.5 370l-7.7-5.2-7.9 7.8 7.7 5.2zM1225.6 377.8l-7.7-5.2-8 7.7 7.7 5.3zM1217.6 385.6l-7.7-5.3-8.1 7.7 7.6 5.2zM1209.4 393.2l-7.6-5.2-8.2 7.5 7.6 5.3z"/>
<path fill="#5c3404" d="M1794.4 321.1l-15.9-8.6-1.9 14.4 15.8 8.7zM1778.5 312.5l-15.7-8.5-1.8 14.4 15.6 8.5zM1764.6 289.6l-15.6-8.3-1.8 14.3 15.6 8.4zM1762.8 304l-15.6-8.4-1.8 14.3 15.6 8.5zM1749 281.3l-15.5-8.3-1.7 14.3 15.4 8.3zM1735.1 258.8l-15.4-8.1-1.6 14.2 15.4 8.1zM1733.5 273l-15.4-8.1-1.6 14.2 15.3 8.2zM1721.2 236.6l-15.4-7.9-1.4 14.1 15.3 7.9zM1719.7 250.7l-15.3-7.9-1.6 14.1 15.3 8zM1707.3 214.6l-15.3-7.6-1.4 14 15.2 7.7zM1705.8 228.7l-15.2-7.7-1.5 14.1 15.3 7.7z"/>
<path fill="#643408" d="M1788.2 364.6l-15.6-8.8-2.2 14.4 15.6 8.8zM1772.6 355.8l-15.6-8.7-2.1 14.3 15.5 8.8zM1757 347.1l-15.4-8.7-2 14.3 15.3 8.7zM1741.6 338.4l-15.3-8.5-1.9 14.2 15.2 8.6zM1713 307.4l-15.1-8.2-1.8 14.1 15.1 8.2zM1699.6 285.1l-15.1-8-1.6 14.1 15 8zM1686.1 263.1l-15-7.7-1.6 14 15 7.7zM1674 227.5l-15-7.3-1.4 13.9 15 7.4zM1672.6 241.5l-15-7.4-1.5 13.9 15 7.4zM1661.7 192.4l-14.9-6.6-1.3 13.7 14.8 6.8z"/>
<path fill="#703c08" d="M1781.2 407.9l-15.5-9-2.6 14.3 15.4 9.1zM1765.7 398.9l-15.4-8.9-2.5 14.2 15.3 9zM1750.3 390l-15.2-8.8-2.5 14.2 15.2 8.8zM1735.1 381.2l-15.1-8.7-2.5 14.1 15.1 8.8zM1720 372.5l-15.1-8.6-2.5 14 15.1 8.7zM1692.2 341.4l-14.9-8.3-2.2 14 14.9 8.3zM1677.3 333.1l-14.9-8.1-2.2 13.9 14.9 8.2zM1664.4 311.1l-14.9-7.7-1.9 13.8 14.8 7.8zM1651.3 289.5l-14.6-7.3-1.8 13.7 14.6 7.5zM1641.4 240.9l-14.2-6.3-1.5 13.6 14.2 6.5zM1639.9 254.7l-14.2-6.5-1.6 13.7 14.2 6.6zM1632.5 179.8l-13-4.7-1.3 13.6 13 4.8z"/>
<path fill="#784008" d="M1778.5 422.3l-15.4-9.1-3 14.3 15.4 9.1zM1763.1 413.2l-15.3-9-2.9 14.2 15.2 9.1zM1747.8 404.2l-15.2-8.8-2.9 14.1 15.2 8.9zM1675.1 347.1l-14.9-8.2-2.4 13.8 14.9 8.3zM1636.7 282.2l-14.3-6.6-1.8 13.6 14.3 6.7zM1627.2 234.6l-13-5.2-1.5 13.6 13 5.2z"/>
<path fill="#5c3004" d="M1780.4 298.1l-15.8-8.5-1.8 14.4 15.7 8.5zM1750.7 267l-15.6-8.2-1.6 14.2 15.5 8.3zM1738.3 230.3l-15.5-7.9-1.6 14.2 15.5 7.9zM1736.7 244.5l-15.5-7.9-1.5 14.1 15.4 8.1zM1722.8 222.4l-15.5-7.8-1.5 14.1 15.4 7.9z"/>
<path fill="#d87c10" d="M1737.6 446.5l-15.1-9.1-4.7 13.6 15 9.1zM1722.5 437.4l-15-9-4.7 13.5 15 9.1zM1594.9 293.3l-8.1-2.3-2.3 13.2 8.1 2.4zM1590.9 264.4l-6.2-1.1-2 13.2 6.2 1.2zM1588.3 236.8l-5-.4-1.7 13.1 5 .6zM1586.5 210l-4.3-.1-1.6 13.1 4.4 .2zM1583.7 196.8l-3.9 0-1.5 13.1 3.9 0zM1581.3 183.8l-3.6 .1-1.5 13 3.6-.1zM1579.1 171l-3.3 .2-1.4 12.9 3.3-.2zM1569.8 171.8l-3.1 .2-1.5 12.7 3.1-.1zM1510.2 285.9l-6.6-2.9-3.2 11.9 6.6 3zM1503.6 283l-6.7-3-3.2 11.9 6.7 3zM1424.4 258.6l-7.2-3.6-3.5 11.2 7.3 3.7zM1417.2 255l-7.4-3.8-3.4 11.2 7.3 3.8zM1328.8 220.9l-8.1-4.4-3.6 10.5 8.1 4.5z"/>
<path fill="#603404" d="M1747.2 295.6l-15.4-8.3-1.8 14.2 15.4 8.4zM1718.1 264.9l-15.3-8-1.6 14.1 15.3 8.1zM1704.4 242.8l-15.3-7.7-1.5 14 15.2 7.8zM1692 207l-15.2-7.4-1.4 13.9 15.2 7.5z"/>
<path fill="#6c3808" d="M1737.4 366.9l-15.2-8.6-2.2 14.2 15.1 8.7zM1694.2 327.3l-15-8.2-1.9 14 14.9 8.3zM1654.6 261.8l-14.7-7.1-1.6 13.8 14.7 7.2zM1644.2 213.3l-14.3-6.1-1.3 13.7 14.2 6.2z"/>
<path fill="#784408" d="M1732.6 395.4l-15.1-8.8-2.9 14 15.1 8.9zM1647.6 317.2l-14.7-7.5-2.1 13.7 14.7 7.5zM1371.5 97.3l-8.1-3.7-1.4 11.1 8.1 3.8zM1363.4 93.6l-8.2-3.8-1.4 11 8.2 3.9zM1355.2 89.8l-8.2-3.9-1.4 11 8.2 3.9z"/>
<path fill="#ac600c" d="M1726.4 423.5l-15-8.9-3.9 13.8 15 9zM1711.4 414.6l-15-8.8-3.8 13.7 14.9 8.9zM1640.3 358.4l-14.7-7.8-3.1 13.5 14.7 7.8zM1607.6 283.6l-10.6-3.7-2.1 13.4 10.7 3.8zM1603.7 226.1l-7.8-1.7-1.6 13.4 7.9 1.8zM1558.1 184.2l-4.5-.9-1.6 12.5 4.5 1zM1541.2 231.8l-5.9-2.1-2.1 12.4 5.9 2.1zM1526.9 239.7l-6.4-2.5-2.3 12.2 6.5 2.6zM1520.5 237.2l-6.6-2.7-2.3 12.2 6.6 2.7zM1463.9 225.9l-6.9-3.1-2.5 11.6 7 3.3zM1457 222.8l-7.1-3.3-2.5 11.7 7.1 3.2zM1449.9 219.5l-7.1-3.3-2.5 11.6 7.1 3.4zM1442.8 216.2l-7.2-3.4-2.5 11.6 7.2 3.4zM1435.6 212.8l-7.3-3.4-2.5 11.5 7.3 3.5zM1428.3 209.4l-7.4-3.5-2.4 11.4 7.3 3.6zM1356.7 186.2l-8-4.1-2.6 10.9 8 4.2zM1348.7 182.1l-8.1-4.2-2.6 10.8 8.1 4.3zM1340.6 177.9l-8.2-4.3-2.6 10.8 8.2 4.3z"/>
<path fill="#7c4408" d="M1717.5 386.6l-15.1-8.7-2.7 14 14.9 8.7zM1702.4 377.9l-14.9-8.5-2.7 13.9 14.9 8.6zM1687.5 369.4l-14.8-8.4-2.8 13.8 14.9 8.5zM1660.2 338.9l-14.7-8-2.4 13.8 14.7 8zM1634.9 295.9l-14.3-6.7-1.9 13.6 14.2 6.9zM1625.7 248.2l-13-5.2-1.6 13.6 13 5.3zM1462.8 137.3l-7.1-2.9-1.5 11.7 7.1 3zM1455.7 134.4l-7.2-3-1.5 11.7 7.2 3zM1448.5 131.4l-7.4-3.1-1.4 11.6 7.3 3.2zM1441.1 128.3l-7.4-3.2-1.4 11.6 7.4 3.2zM1433.7 125.1l-7.5-3.2-1.4 11.5 7.5 3.3zM1426.2 121.9l-7.5-3.3-1.5 11.5 7.6 3.3zM1418.7 118.6l-7.7-3.4-1.5 11.4 7.7 3.5zM1411 115.2l-7.8-3.4-1.4 11.4 7.7 3.4zM1409.5 126.6l-7.7-3.4-1.5 11.3 7.7 3.6zM1403.2 111.8l-7.8-3.5-1.4 11.3 7.8 3.6zM1401.8 123.2l-7.8-3.6-1.5 11.3 7.8 3.6zM1395.4 108.3l-7.9-3.6-1.4 11.3 7.9 3.6zM1394 119.6l-7.9-3.6-1.5 11.2 7.9 3.7zM1387.5 104.7l-8-3.7-1.4 11.3 8 3.7zM1386.1 116l-8-3.7-1.5 11.2 8 3.7zM1379.5 101l-8-3.7-1.4 11.2 8 3.8zM1378.1 112.3l-8-3.8-1.5 11.2 8 3.8zM1370.1 108.5l-8.1-3.8-1.5 11.1 8.1 3.9zM1362 104.7l-8.2-3.9-1.5 11.1 8.2 3.9zM1353.8 100.8l-8.2-3.9-1.5 11 8.2 4z"/>
<path fill="#90500c" d="M1714.6 400.6l-14.9-8.7-3.3 13.9 15 8.8zM1620.6 289.2l-13-5.6-2 13.5 13.1 5.7zM1528.1 188l-6.6-2.4-1.7 12.2 6.5 2.5zM1492.7 187.2l-6.8-2.8-1.8 11.9 6.8 2.9zM1485.9 184.4l-6.9-2.9-1.8 11.9 6.9 2.9zM1479 181.5l-6.9-2.9-1.8 11.9 6.9 2.9zM1472.1 178.6l-7-2.9-1.8 11.8 7 3zM1465.1 175.7l-7.1-3-1.8 11.7 7.1 3.1zM1458 172.7l-7.1-3.1-1.8 11.7 7.1 3.1zM1450.9 169.6l-7.2-3.2-1.8 11.6 7.2 3.3zM1443.7 166.4l-7.3-3.2-1.8 11.6 7.3 3.2zM1412.2 164.4l-7.6-3.5-2 11.3 7.7 3.7zM1404.6 160.9l-7.8-3.7-1.9 11.3 7.7 3.7zM1396.8 157.2l-7.7-3.7-2 11.3 7.8 3.7zM1389.1 153.5l-7.9-3.8-1.9 11.2 7.8 3.9zM1381.2 149.7l-8-3.8-1.8 11.1 7.9 3.9zM1373.2 145.9l-8-3.9-1.8 11.1 8 3.9zM1365.2 142l-8-4-1.9 11.1 8.1 4zM1357.2 138l-8.2-4-1.8 11 8.1 4.1zM1349 134l-8.2-4.1-1.8 11 8.2 4.1z"/>
<path fill="#d87c14" d="M1707.5 428.4l-14.9-8.9-4.7 13.5 14.9 8.9zM1555 235.3l-3.9-.7-2.1 12.5 3.9 .8zM1546.8 259.7l-4.6-1.3-2.4 12.5 4.6 1.3z"/>
<path fill="#94500c" d="M1699.7 391.9l-14.9-8.6-3.2 13.8 14.8 8.7zM1534.5 190.3l-6.4-2.3-1.8 12.3 6.5 2.4zM1499.5 189.9l-6.8-2.7-1.8 12 6.8 2.8zM1427.2 171.4l-7.5-3.4-1.9 11.4 7.5 3.5zM1419.7 168l-7.5-3.6-1.9 11.5 7.5 3.5z"/>
<path fill="#b06410" d="M1696.4 405.8l-14.8-8.7-3.8 13.7 14.8 8.7zM1504.9 243.9l-6.8-2.9-2.4 12 6.7 3z"/>
<path fill="#dc7c14" d="M1692.6 419.5l-14.8-8.7-4.7 13.4 14.8 8.8zM1622.5 364.1l-14.4-7.3-3.9 13.2 14.5 7.4zM1600.9 324l-10.8-4.1-3 13.2 11 4.3zM1575.8 171.2l-3.1 .3-1.4 12.9 3.1-.3zM1572.7 171.5l-2.9 .3-1.5 12.8 3-.2zM1568.3 184.6l-3.1 .1-1.5 12.8 3-.1zM1562 210.2l-3.4-.2-1.7 12.6 3.4 .3zM1516.7 288.6l-6.5-2.7-3.2 12 6.5 2.8zM1445.8 269.2l-7.1-3.5-3.4 11.4 7 3.5z"/>
<path fill="#ffa418" d="M1579.3 563.7l-14.5-9.8-10.2 9.8 14.5 9.9zM1569.1 573.6l-14.5-9.9-10.2 9.9 14.4 9.9zM1558.8 583.5l-14.4-9.9-10.3 9.8 14.5 10.1zM1548.6 593.5l-14.5-10.1-10.2 9.8 14.4 10.2zM1538.3 603.4l-14.4-10.2-10.3 9.8 14.5 10.3zM1564.8 553.9l-14.4-9.6-10.2 9.7 14.4 9.7zM1554.6 563.7l-14.4-9.7-10.2 9.8 14.4 9.8zM1544.4 573.6l-14.4-9.8-10.2 9.7 14.3 9.9zM1534.1 583.4l-14.3-9.9-10.3 9.7 14.4 10zM1523.9 593.2l-14.4-10-10.3 9.7 14.4 10.1zM1513.6 603l-14.4-10.1-10.2 9.6 14.3 10.3zM1503.3 612.8l-14.3-10.3-10.3 9.7 14.3 10.4zM1493 622.6l-14.3-10.4-10.3 9.7 14.3 10.4zM1550.4 544.3l-14.2-9.4-10.2 9.6 14.2 9.5zM1540.2 554l-14.2-9.5-10.2 9.6 14.2 9.7zM1530 563.8l-14.2-9.7-10.2 9.6 14.2 9.8zM1519.8 573.5l-14.2-9.8-10.3 9.6 14.2 9.9zM1509.5 583.2l-14.2-9.9-10.2 9.6 14.1 10zM1499.2 592.9l-14.1-10-10.3 9.6 14.2 10zM1489 602.5l-14.2-10-10.3 9.5 14.2 10.2zM1478.7 612.2l-14.2-10.2-10.3 9.6 14.2 10.3zM1468.4 621.9l-14.2-10.3-10.2 9.5 14.1 10.4zM1458.1 631.5l-14.1-10.4-10.3 9.6 14.1 10.5zM1447.8 641.2l-14.1-10.5-10.3 9.5 14.1 10.6zM1526 544.5l-14-9.2-10.2 9.5 14 9.3zM1515.8 554.1l-14-9.3-10.2 9.5 14 9.4zM1505.6 563.7l-14-9.4-10.3 9.4 14 9.6zM1495.3 573.3l-14-9.6-10.2 9.5 14 9.7zM1485.1 582.9l-14-9.7-10.3 9.5 14 9.8zM1474.8 592.5l-14-9.8-10.2 9.4 13.9 9.9zM1464.5 602l-13.9-9.9-10.3 9.5 13.9 10zM1454.2 611.6l-13.9-10-10.3 9.4 14 10.1zM1444 621.1l-14-10.1-10.2 9.4 13.9 10.3zM1433.7 630.7l-13.9-10.3-10.3 9.4 13.9 10.4zM1423.4 640.2l-13.9-10.4-10.3 9.5 13.9 10.4zM1413.1 649.7l-13.9-10.4-10.3 9.4 13.9 10.6zM1491.6 554.3l-13.8-9.1-10.2 9.3 13.7 9.2zM1481.3 563.7l-13.7-9.2-10.2 9.4 13.7 9.3zM1471.1 573.2l-13.7-9.3-10.2 9.3 13.6 9.5zM1460.8 582.7l-13.6-9.5-10.2 9.4 13.6 9.5zM1450.6 592.1l-13.6-9.5-10.3 9.3 13.6 9.7zM1440.3 601.6l-13.6-9.7-10.2 9.3 13.5 9.8zM1430 611l-13.5-9.8-10.3 9.4 13.6 9.8zM1419.8 620.4l-13.6-9.8-10.3 9.3 13.6 9.9zM1409.5 629.8l-13.6-9.9-10.2 9.3 13.5 10.1zM1399.2 639.3l-13.5-10.1-10.3 9.3 13.5 10.2zM1388.9 648.7l-13.5-10.2-10.3 9.3 13.5 10.3zM1426.7 591.9l-12.9-8.9-10.2 9.2 12.9 9zM1416.5 601.2l-12.9-9-10.2 9.2 12.8 9.2zM1406.2 610.6l-12.8-9.2-10.2 9.2 12.7 9.3zM1395.9 619.9l-12.7-9.3-10.3 9.2 12.8 9.4zM1385.7 629.2l-12.8-9.4-10.2 9.2 12.7 9.5zM1604.2 370l-13.3-6.3-4.6 12.8 13.4 6.4zM1546.7 324.5l-3.3-.5-3.7 12.4 3.3 .5zM1543.5 311.1l-3.6-.7-3.4 12.3 3.6 .8zM1539.9 310.4l-4-1-3.4 12.2 4 1.1zM1518.5 330l-6-2.6-4.2 11.9 6 2.6zM1489 330.3l-6.7-3.3-4.6 11.5 6.7 3.3zM1482.3 327l-6.8-3.2-4.6 11.3 6.8 3.4zM1443.8 321.4l-6.9-3.5-4.9 10.9 6.8 3.6zM1436.9 317.9l-7-3.6-4.8 10.9 6.9 3.6zM1429.9 314.3l-7-3.7-4.8 10.8 7 3.8zM1180.2 583.2l-6-5-9.1 7.6 5.9 5.1zM1171 590.9l-5.9-5.1-9.2 7.7 6 5zM1183.3 570.6l-6.1-5-9.1 7.6 6.1 5zM1174.2 578.2l-6.1-5-9.1 7.6 6.1 5zM1165.1 585.8l-6.1-5-9.1 7.5 6 5.2zM1195.3 550.3l-6.2-4.9-9 7.5 6.2 5.1zM1186.3 558l-6.2-5.1-9.1 7.6 6.2 5.1zM1177.2 565.6l-6.2-5.1-9 7.5 6.1 5.2zM1168.1 573.2l-6.1-5.2-9.1 7.6 6.1 5.2zM1159 580.8l-6.1-5.2-9.1 7.5 6.1 5.2zM1198.1 537.8l-6.3-5-9 7.5 6.3 5.1zM1189.1 545.4l-6.3-5.1-9 7.5 6.3 5.1zM1180.1 552.9l-6.3-5.1-9 7.6 6.2 5.1zM1171 560.5l-6.2-5.1-9.1 7.5 6.3 5.1zM1162 568l-6.3-5.1-9 7.4 6.2 5.3zM1152.9 575.6l-6.2-5.3-9 7.5 6.1 5.3zM1396.7 309.9l-7.3-4-5.2 10.5 7.3 4zM1200.7 525.2l-6.4-5-9 7.5 6.5 5.1zM1191.8 532.8l-6.5-5.1-8.9 7.5 6.4 5.1zM1182.8 540.3l-6.4-5.1-9 7.5 6.4 5.1zM1173.8 547.8l-6.4-5.1-9 7.4 6.4 5.3zM1164.8 555.4l-6.4-5.3-9 7.5 6.3 5.3zM1155.7 562.9l-6.3-5.3-9 7.4 6.3 5.3zM1146.7 570.3l-6.3-5.3-9 7.4 6.3 5.4zM1389.4 305.9l-7.4-4.1-5.1 10.5 7.3 4.1zM1203.2 512.6l-6.6-5-8.9 7.5 6.6 5.1zM1194.3 520.2l-6.6-5.1-8.9 7.4 6.5 5.2zM1185.3 527.7l-6.5-5.2-8.9 7.5 6.5 5.2zM1176.4 535.2l-6.5-5.2-9 7.4 6.5 5.3zM1167.4 542.7l-6.5-5.3-8.9 7.4 6.4 5.3zM1158.4 550.1l-6.4-5.3-9 7.4 6.4 5.4zM1205.4 500l-6.7-5.1-8.8 7.5 6.7 5.2zM1196.6 507.6l-6.7-5.2-8.9 7.5 6.7 5.2zM1187.7 515.1l-6.7-5.2-8.8 7.4 6.6 5.2zM1178.8 522.5l-6.6-5.2-8.9 7.4 6.6 5.3zM1169.9 530l-6.6-5.3-9 7.4 6.6 5.3zM1207.5 487.4l-6.8-5.1-8.8 7.5 6.8 5.1zM1198.7 494.9l-6.8-5.1-8.8 7.4 6.8 5.2zM1189.9 502.4l-6.8-5.2-8.8 7.4 6.7 5.3zM1181 509.9l-6.7-5.3-8.9 7.4 6.8 5.3zM1172.2 517.3l-6.8-5.3-8.8 7.4 6.7 5.3zM1362 303.9l-7.6-4.3-5.4 10.1 7.5 4.3zM1209.4 474.8l-6.9-5.1-8.7 7.4 6.9 5.2zM1200.7 482.3l-6.9-5.2-8.8 7.5 6.9 5.2zM1191.9 489.8l-6.9-5.2-8.7 7.4 6.8 5.2zM1183.1 497.2l-6.8-5.2-8.8 7.3 6.8 5.3zM1354.4 299.6l-7.7-4.4-5.4 10.1 7.7 4.4zM1211.2 462.2l-7.1-5.2-8.6 7.5 7 5.2zM1202.5 469.7l-7-5.2-8.7 7.4 7 5.2zM1193.8 477.1l-7-5.2-8.7 7.4 6.9 5.3zM1185 484.6l-6.9-5.3-8.8 7.3 7 5.4zM1346.7 295.2l-7.7-4.4-5.4 10 7.7 4.5zM1204.1 457l-7.1-5.2-8.6 7.4 7.1 5.3zM1195.5 464.5l-7.1-5.3-8.7 7.4 7.1 5.3zM1186.8 471.9l-7.1-5.3-8.7 7.3 7.1 5.4zM1205.6 444.3l-7.3-5.2-8.5 7.4 7.2 5.3zM1197 451.8l-7.2-5.3-8.6 7.4 7.2 5.3zM1188.4 459.2l-7.2-5.3-8.7 7.3 7.2 5.4zM1325.9 296.2l-7.9-4.6-5.7 9.8 7.8 4.6zM1206.8 431.6l-7.3-5.2-8.5 7.4 7.3 5.3zM1198.3 439.1l-7.3-5.3-8.5 7.4 7.3 5.3zM1189.8 446.5l-7.3-5.3-8.6 7.3 7.3 5.4zM1181.2 453.9l-7.3-5.4-8.6 7.3 7.2 5.4zM1318 291.6l-7.9-4.6-5.7 9.7 7.9 4.7zM1207.9 418.9l-7.5-5.3-8.4 7.5 7.5 5.3zM1199.5 426.4l-7.5-5.3-8.4 7.4 7.4 5.3zM1191 433.8l-7.4-5.3-8.5 7.3 7.4 5.4zM1182.5 441.2l-7.4-5.4-8.5 7.3 7.3 5.4zM1310.1 287l-8-4.7-5.6 9.6 7.9 4.8zM1200.4 413.6l-7.5-5.3-8.3 7.4 7.4 5.4zM1192 421.1l-7.4-5.4-8.5 7.3 7.5 5.5zM1183.6 428.5l-7.5-5.5-8.4 7.3 7.4 5.5zM1302.1 282.3l-8-4.8-5.6 9.6 8 4.8zM1201.2 400.8l-7.6-5.3-8.3 7.4 7.6 5.4zM1192.9 408.3l-7.6-5.4-8.3 7.4 7.6 5.4zM1184.6 415.7l-7.6-5.4-8.4 7.3 7.5 5.4z"/>
<path fill="#94540c" d="M1684.8 383.3l-14.9-8.5-3.2 13.8 14.9 8.5zM1630.8 323.4l-14.3-7-2.4 13.5 14.3 7.1zM1612.7 243l-10.5-3.4-1.6 13.4 10.5 3.6zM1548.3 181.8l-5.9-1.8-1.7 12.4 5.9 1.9zM1540.7 192.4l-6.2-2.1-1.7 12.4 6.2 2.2zM1526.3 200.3l-6.5-2.5-1.9 12.3 6.6 2.5zM1519.8 197.8l-6.7-2.5-1.9 12.1 6.7 2.7zM1513.1 195.3l-6.8-2.7-1.8 12.1 6.7 2.7zM1506.3 192.6l-6.8-2.7-1.8 12.1 6.8 2.7zM1463.3 187.5l-7.1-3.1-1.9 11.7 7 3.2zM1456.2 184.4l-7.1-3.1-2 11.6 7.2 3.2zM1449.1 181.3l-7.2-3.3-2 11.7 7.2 3.2zM1441.9 178l-7.3-3.2-2 11.5 7.3 3.4zM1434.6 174.8l-7.4-3.4-1.9 11.5 7.3 3.4zM1363.4 153.1l-8.1-4-2 11 8 4.1zM1355.3 149.1l-8.1-4.1-2.1 11 8.2 4.1zM1347.2 145l-8.2-4.1-2 10.9 8.1 4.2z"/>
<path fill="#b46410" d="M1681.6 397.1l-14.9-8.5-3.8 13.5 14.9 8.7zM1602.2 239.6l-7.9-1.8-1.6 13.3 7.9 1.9zM1556.5 196.8l-4.5-1-1.7 12.6 4.5 1zM1539.1 244.2l-5.9-2.1-2.3 12.3 6 2.2zM1518.2 249.4l-6.6-2.7-2.5 12.1 6.7 2.8zM1511.6 246.7l-6.7-2.8-2.5 12.1 6.7 2.8zM1433.1 224.4l-7.3-3.5-2.6 11.4 7.3 3.5z"/>
<path fill="#e08014" d="M1677.8 410.8l-14.9-8.7-4.6 13.4 14.8 8.7zM1588.9 277.7l-6.2-1.2-2.2 13.2 6.3 1.3zM1586.6 250.1l-5-.6-1.9 13.1 5 .7zM1583.3 236.4l-4.4-.3-1.8 13.1 4.5 .3zM1580.6 223l-3.9-.1-1.8 13 4 .2zM1578.3 209.9l-3.7 0-1.6 12.9 3.7 .1zM1576.2 196.9l-3.3 .2-1.6 12.9 3.3-.1zM1574.6 209.9l-3.3 .1-1.7 12.9 3.4-.1zM1574.4 184.1l-3.1 .3-1.6 12.8 3.2-.1zM1572.9 197.1l-3.2 .1-1.6 12.9 3.2-.1zM1571.3 184.4l-3 .2-1.6 12.8 3-.2zM1566.7 197.4l-3 .1-1.7 12.7 3.1 0zM1560.3 222.9l-3.4-.3-1.9 12.7 3.4 .3zM1552.9 247.9l-3.9-.8-2.2 12.6 4 .8zM1537.2 283.3l-5.4-2-2.9 12.3 5.5 2zM1523 291.2l-6.3-2.6-3.2 12.1 6.3 2.7zM1473.3 282.4l-6.8-3.2-3.5 11.6 6.9 3.3zM1466.5 279.2l-6.9-3.3-3.4 11.6 6.8 3.3zM1459.6 275.9l-6.9-3.3-3.4 11.5 6.9 3.4zM1452.7 272.6l-6.9-3.4-3.5 11.4 7 3.5zM1383.9 250.6l-7.7-4-3.7 10.8 7.7 4.2zM1376.2 246.6l-7.7-4.1-3.7 10.8 7.7 4.1z"/>
<path fill="#ffb81c" d="M1660.5 449.6l-14.6-8.8-7.9 11.7 14.6 8.9zM1645.9 440.8l-14.7-8.7-7.8 11.6 14.6 8.8zM1623.4 443.7l-14.5-8.5-8.5 11.1 14.5 8.6zM1600.4 446.3l-14.3-8.3-9 10.6 14.3 8.3zM1577.1 448.6l-13.8-7.7-9.2 10.2 13.7 7.7zM1369.7 570.9l-2.9-1.5-9.8 8.8 2.8 1.5zM1347.1 587l-2.5-1.5-9.9 8.8 2.5 1.4zM1324.9 603l-2.2-1.4-9.8 8.6 2.2 1.4zM1303.1 618.9l-1.9-1.4-9.8 8.6 1.9 1.4zM1537.7 361.9l-3.5-.7-5.2 11.9 3.5 .7zM1281.7 634.7l-1.7-1.3-9.7 8.6 1.6 1.3zM1534.2 361.2l-3.4-.6-5.1 11.8 3.3 .7zM1270.3 642l-1.6-1.3-9.7 8.5 1.5 1.3zM1535.5 348.6l-3.4-.7-4.6 11.9 3.3 .8zM1288.1 623.7l-1.8-1.4-9.6 8.5 1.7 1.4zM1324.7 588.3l-2.2-1.5-9.6 8.5 2.2 1.5zM1532.7 334.9l-4-1.1-4.2 12 4 1.2zM1360.5 552.7l-3-1.8-9.4 8.6 2.9 1.7zM1385.6 525.1l-3.7-2.2-9.3 8.6 3.7 2.2zM1519.8 344.1l-5.5-2.2-4.6 11.7 5.4 2.3zM1409.3 496.7l-4.7-2.7-9 8.7 4.6 2.8zM1413.6 485.1l-5.3-3.1-8.9 8.8 5.2 3.2zM1503.7 350.9l-6.3-2.9-5 11.5 6.2 2.9zM1417.1 473.1l-5.7-3.4-8.8 8.9 5.7 3.4zM1420 460.7l-5.9-3.5-8.6 9 5.9 3.5zM1411.4 469.7l-5.9-3.5-8.7 8.9 5.8 3.5zM1485.9 356.3l-6.6-3.2-5.4 11.1 6.5 3.3zM1414.1 457.2l-6.1-3.6-8.6 9 6.1 3.6zM1479.3 353.1l-6.6-3.4-5.5 11.1 6.7 3.4zM1408 453.6l-6.3-3.7-8.5 8.9 6.2 3.8zM1410.1 440.8l-6.4-3.7-8.2 9 6.2 3.8zM1401.7 449.9l-6.2-3.8-8.5 8.9 6.2 3.8zM1403.7 437.1l-6.3-3.8-8.3 9 6.4 3.8zM1395.5 446.1l-6.4-3.8-8.4 8.9 6.3 3.8zM1453.8 353.9l-6.7-3.5-5.8 10.7 6.7 3.5zM1397.4 433.3l-6.4-3.8-8.2 9 6.3 3.8zM1447.1 350.4l-6.8-3.6-5.7 10.7 6.7 3.6zM1399 420.4l-6.5-3.9-8 9.2 6.5 3.8zM1391 429.5l-6.5-3.8-8.1 8.9 6.4 3.9zM1392.5 416.5l-6.5-3.8-7.9 9.1 6.4 3.9zM1384.5 425.7l-6.4-3.9-8.2 8.9 6.5 3.9zM1427.8 353.8l-6.8-3.7-6.1 10.4 6.8 3.7zM1386 412.7l-6.6-3.9-7.9 9 6.6 4zM1378.1 421.8l-6.6-4-8 8.9 6.4 4zM1421 350.1l-6.9-3.7-6 10.3 6.8 3.8zM1387.1 399.5l-6.7-3.9-7.6 9.2 6.6 4zM1379.4 408.8l-6.6-4-7.9 9 6.6 4zM1408.1 356.7l-6.9-3.9-6.4 10.1 6.8 3.9zM1387.8 386.2l-6.8-4-7.3 9.4 6.7 4zM1380.4 395.6l-6.7-4-7.6 9.2 6.7 4zM1372.8 404.8l-6.7-4-7.8 8.9 6.6 4.1zM1401.2 352.8l-7-3.9-6.4 10 7 4zM1394.8 362.9l-7-4-6.7 9.8 6.9 4zM1388 372.7l-6.9-4-7 9.5 6.9 4zM1381 382.2l-6.9-4-7.3 9.3 6.9 4.1zM1373.7 391.6l-6.9-4.1-7.5 9.2 6.8 4.1zM1387.8 358.9l-7-4-6.6 9.7 6.9 4.1zM1381.1 368.7l-6.9-4.1-7 9.5 6.9 4.1zM1374.1 378.2l-6.9-4.1-7.3 9.3 6.9 4.1zM1366.8 387.5l-6.9-4.1-7.5 9.1 6.9 4.2zM1374.2 364.6l-7.1-4.1-6.9 9.4 7 4.2zM1367.2 374.1l-7-4.2-7.3 9.3 7 4.2z"/>
<path fill="#804808" d="M1672.7 361l-14.9-8.3-2.7 13.8 14.8 8.3zM1645.5 330.9l-14.7-7.5-2.4 13.6 14.7 7.7zM1618.2 188.7l-10.4-3-1.3 13.5 10.5 3.1zM1531.2 163.3l-6.6-2.3-1.5 12.3 6.6 2.4zM1524.6 161l-6.7-2.4-1.5 12.2 6.7 2.5zM1517.9 158.6l-6.7-2.5-1.5 12.2 6.7 2.5zM1511.2 156.1l-6.8-2.5-1.5 12.1 6.8 2.6zM1504.4 153.6l-6.8-2.6-1.5 12.1 6.8 2.6zM1497.6 151l-6.9-2.6-1.5 12 6.9 2.7zM1489.2 160.4l-6.9-2.7-1.6 11.9 6.9 2.8zM1482.3 157.7l-6.9-2.8-1.6 11.9 6.9 2.8zM1475.4 154.9l-7-2.9-1.6 11.9 7 2.9zM1468.4 152l-7.1-2.9-1.5 11.8 7 3zM1461.3 149.1l-7.1-3-1.6 11.7 7.2 3.1zM1454.2 146.1l-7.2-3-1.6 11.6 7.2 3.1zM1430.7 148.3l-7.5-3.3-1.7 11.5 7.5 3.3zM1423.2 145l-7.6-3.5-1.6 11.5 7.5 3.5zM1415.6 141.5l-7.6-3.4-1.7 11.4 7.7 3.5zM1408 138.1l-7.7-3.6-1.7 11.4 7.7 3.6zM1400.3 134.5l-7.8-3.6-1.7 11.3 7.8 3.7zM1392.5 130.9l-7.9-3.7-1.7 11.3 7.9 3.7z"/>
<path fill="#9c580c" d="M1669.9 374.8l-14.8-8.3-3.2 13.6 14.8 8.5zM1618.7 302.8l-13.1-5.7-2.2 13.5 13.1 5.8zM1611.1 256.6l-10.5-3.6-1.7 13.5 10.5 3.6zM1609.1 172.3l-7.7-1.4-1.3 13.4 7.7 1.4zM1553.6 183.3l-5.3-1.5-1.7 12.5 5.4 1.5zM1539 204.9l-6.2-2.2-1.8 12.3 6.2 2.3zM1531 215l-6.5-2.4-1.9 12.3 6.4 2.5zM1524.5 212.6l-6.6-2.5-1.9 12.2 6.6 2.6zM1517.9 210.1l-6.7-2.7-1.9 12.2 6.7 2.7zM1475.2 205.3l-6.9-3-2.1 11.8 6.9 3.1zM1468.3 202.3l-7-3-2.1 11.7 7 3.1zM1461.3 199.3l-7-3.2-2.1 11.7 7 3.2zM1454.3 196.1l-7.2-3.2-2.1 11.7 7.2 3.2zM1447.1 192.9l-7.2-3.2-2.1 11.6 7.2 3.3zM1439.9 189.7l-7.3-3.4-2 11.6 7.2 3.4zM1377.2 172.1l-7.9-3.9-2.2 11.1 7.9 4zM1369.3 168.2l-8-4-2.2 11 8 4.1zM1361.3 164.2l-8-4.1-2.2 11 8 4.1zM1353.3 160.1l-8.2-4.1-2.2 10.9 8.2 4.2zM1345.1 156l-8.1-4.2-2.2 10.9 8.1 4.2z"/>
<path fill="#b86810" d="M1666.7 388.6l-14.8-8.5-3.7 13.6 14.7 8.4zM1605.6 297.1l-10.7-3.8-2.3 13.3 10.8 4zM1600.6 253l-7.9-1.9-1.8 13.3 8 2.1zM1600.1 184.3l-5.9-.5-1.4 13.2 6 .7zM1554.8 209.4l-4.5-1-1.8 12.5 4.5 1.1zM1530.9 254.4l-6.2-2.4-2.5 12.3 6.3 2.5zM1482.1 247l-6.8-3-2.7 11.8 6.8 3.1zM1475.3 244l-6.9-3.2-2.7 11.8 6.9 3.2zM1468.4 240.8l-6.9-3.1-2.7 11.7 6.9 3.2zM1461.5 237.7l-7-3.3-2.7 11.7 7 3.3zM1454.5 234.4l-7.1-3.2-2.6 11.5 7 3.4zM1447.4 231.2l-7.1-3.4-2.6 11.5 7.1 3.4zM1377.8 209.5l-7.8-4-2.8 11 7.8 4.1zM1370 205.5l-7.9-4.1-2.8 10.9 7.9 4.2zM1362.1 201.4l-8-4.2-2.8 10.9 8 4.2zM1354.1 197.2l-8-4.2-2.8 10.9 8 4.2z"/>
<path fill="#e48014" d="M1662.9 402.1l-14.7-8.4-4.6 13.2 14.7 8.6zM1578.9 236.1l-4-.2-1.8 13 4 .3zM1576.7 222.9l-3.7-.1-1.8 13 3.7 .1zM1569.7 197.2l-3 .2-1.6 12.8 3-.1zM1565.1 210.2l-3.1 0-1.7 12.7 3.1 .1zM1544.4 272.2l-4.6-1.3-2.6 12.4 4.7 1.3zM1480.2 285.6l-6.9-3.2-3.4 11.7 6.8 3.2zM1399 258.6l-7.5-4-3.7 11 7.4 4zM1391.5 254.6l-7.6-4-3.7 11 7.6 4z"/>
<path fill="#ffa018" d="M1658.3 415.5l-14.7-8.6-5.7 12.9 14.8 8.6zM1643.6 406.9l-14.8-8.4-5.6 12.8 14.7 8.5zM1578.8 330.5l-6.5-1.7-3.5 12.9 6.6 1.8zM1572.3 328.8l-5.4-1.1-3.5 12.8 5.4 1.2zM1566.9 327.7l-4.7-.8-3.6 12.7 4.8 .9zM1562.2 326.9l-4.3-.8-3.7 12.7 4.4 .8zM1557.9 326.1l-4-.6-3.7 12.5 4 .8zM1553.9 325.5l-3.7-.5-3.7 12.4 3.7 .6zM1550.2 325l-3.5-.5-3.7 12.4 3.5 .5zM1546.8 311.6l-3.3-.5-3.4 12.4 3.3 .5zM1527.8 320.1l-5.5-2.1-3.8 12 5.5 2.1zM1512.5 327.4l-6.3-2.8-4.1 11.8 6.2 2.9zM1475.5 323.8l-6.8-3.4-4.5 11.4 6.7 3.3zM1468.7 320.4l-6.8-3.3-4.5 11.3 6.8 3.4zM1461.9 317.1l-6.8-3.4-4.5 11.2 6.8 3.5zM1422.9 310.6l-7-3.7-4.9 10.8 7.1 3.7zM1415.9 306.9l-7.2-3.8-4.8 10.7 7.1 3.9zM1408.7 303.1l-7.2-3.9-4.8 10.7 7.2 3.9zM1382 301.8l-7.4-4.1-5.1 10.4 7.4 4.2zM1374.6 297.7l-7.5-4.2-5.1 10.4 7.5 4.2zM1367.1 293.5l-7.6-4.2-5.1 10.3 7.6 4.3zM1359.5 289.3l-7.7-4.3-5.1 10.2 7.7 4.4zM1339 290.8l-7.8-4.5-5.3 9.9 7.7 4.6zM1331.2 286.3l-7.8-4.6-5.4 9.9 7.9 4.6zM1323.4 281.7l-8-4.6-5.3 9.9 7.9 4.6zM1315.4 277.1l-8-4.6-5.3 9.8 8 4.7z"/>
<path fill="#a05c0c" d="M1655.1 366.5l-14.8-8.1-3.1 13.5 14.7 8.2zM1552 195.8l-5.4-1.5-1.7 12.5 5.4 1.6zM1537.2 217.3l-6.2-2.3-2 12.4 6.3 2.3zM1516 222.3l-6.7-2.7-2.1 12.2 6.7 2.7zM1509.3 219.6l-6.8-2.7-2.1 12 6.8 2.9zM1430.6 197.9l-7.4-3.5-2.3 11.5 7.4 3.5z"/>
<path fill="#c06c10" d="M1651.9 380.1l-14.7-8.2-3.8 13.5 14.8 8.3zM1598.9 266.5l-8-2.1-2 13.3 8.1 2.2zM1597.4 211l-6-.7-1.5 13.3 6 .8zM1561.9 184.6l-3.8-.4-1.6 12.6 3.8 .5zM1553 222l-4.5-1.1-2 12.5 4.6 1.2zM1522.2 264.3l-6.4-2.7-2.7 12.2 6.5 2.7zM1515.8 261.6l-6.7-2.8-2.6 12.1 6.6 2.9zM1444.8 242.7l-7.1-3.4-2.9 11.5 7.1 3.5zM1437.7 239.3l-7.2-3.5-2.9 11.5 7.2 3.5zM1430.5 235.8l-7.3-3.5-2.9 11.4 7.3 3.6zM1423.2 232.3l-7.4-3.6-2.9 11.3 7.4 3.7zM1335.2 199.5l-8.2-4.3-3 10.7 8.1 4.4z"/>
<path fill="#e88814" d="M1648.2 393.7l-14.8-8.3-4.6 13.1 14.8 8.4z"/>
<path fill="#ffbc1c" d="M1631.2 432.1l-14.7-8.5-7.6 11.6 14.5 8.5zM1623.2 411.3l-14.7-8.1-6.5 12.1 14.5 8.3zM1608.9 435.2l-14.5-8.2-8.3 11 14.3 8.3zM1586.1 438l-14-7.7-8.8 10.6 13.8 7.7zM1599.7 382.9l-13.4-6.4-5.4 12.5 13.3 6.6zM1554.1 451.1l-12.5-6.6-9.3 10 12.3 6.6zM1522.7 464.2l-9.8-4.7-9.6 9.5 9.7 4.8zM1579.9 359.2l-8.5-2.9-4.6 12.6 8.5 3zM1483.8 487.8l-6.9-3.1-9.8 9.2 6.8 3.2zM1571.4 356.3l-6.6-1.8-4.6 12.5 6.6 1.9zM1447.4 512.2l-4.9-2.1-9.8 9 4.8 2.2zM1437.5 521.3l-4.8-2.2-9.9 9 4.8 2.2zM1412.9 537.1l-3.7-1.6-9.8 8.9 3.6 1.6zM1403 546l-3.6-1.6-9.9 8.8 3.6 1.8zM1389.5 553.2l-3-1.4-9.9 8.8 3 1.5zM1379.6 562.1l-3-1.5-9.8 8.8 2.9 1.5zM1549.9 364.5l-4.4-1-5.3 12 4.4 1zM1366.8 569.4l-2.6-1.3-9.8 8.7 2.6 1.4zM1357 578.2l-2.6-1.4-9.8 8.7 2.5 1.5zM1545.5 363.5l-4.1-.9-5.2 12 4 .9zM1354.4 576.8l-2.4-1.3-9.8 8.7 2.4 1.3zM1344.6 585.5l-2.4-1.3-9.7 8.7 2.2 1.4zM1334.7 594.3l-2.2-1.4-9.8 8.7 2.2 1.4zM1541.4 362.6l-3.7-.7-5.2 11.9 3.7 .8zM1332.5 592.9l-2.1-1.2-9.7 8.6 2 1.3zM1322.7 601.6l-2-1.3-9.8 8.6 2 1.3zM1312.9 610.2l-2-1.3-9.7 8.6 1.9 1.4zM1320.7 600.3l-1.9-1.1-9.7 8.6 1.8 1.1zM1310.9 608.9l-1.8-1.1-9.7 8.5 1.8 1.2zM1301.2 617.5l-1.8-1.2-9.7 8.6 1.7 1.2zM1291.4 626.1l-1.7-1.2-9.7 8.5 1.7 1.3zM1309.1 607.8l-1.7-1.2-9.7 8.5 1.7 1.2zM1299.4 616.3l-1.7-1.2-9.6 8.6 1.6 1.2zM1289.7 624.9l-1.6-1.2-9.7 8.5 1.6 1.2zM1280 633.4l-1.6-1.2-9.7 8.5 1.6 1.3zM1326.7 589.5l-2-1.2-9.6 8.5 1.9 1.2zM1317 598l-1.9-1.2-9.6 8.5 1.9 1.3zM1307.4 606.6l-1.9-1.3-9.6 8.5 1.8 1.3zM1297.7 615.1l-1.8-1.3-9.6 8.5 1.8 1.4zM1353.4 562.6l-2.4-1.4-9.5 8.6 2.3 1.4zM1343.8 571.2l-2.3-1.4-9.5 8.5 2.3 1.4zM1334.3 579.7l-2.3-1.4-9.5 8.5 2.2 1.5zM1379.3 535.4l-3-1.7-9.4 8.7 3 1.6zM1369.9 544l-3-1.6-9.4 8.5 3 1.8zM1404.1 507.6l-3.9-2.1-9.1 8.7 3.8 2.2zM1394.9 516.4l-3.8-2.2-9.2 8.7 3.7 2.2zM1418.4 487.8l-4.8-2.7-9 8.9 4.7 2.7zM1509.7 353.6l-6-2.7-5.1 11.5 6 2.7zM1431.2 467l-5.4-3-8.7 9.1 5.4 3zM1422.5 476.1l-5.4-3-8.8 8.9 5.3 3.1zM1425.8 464l-5.8-3.3-8.6 9 5.7 3.4zM1492.4 359.5l-6.5-3.2-5.5 11.2 6.5 3.2zM1428.5 451.5l-6-3.4-8.4 9.1 5.9 3.5zM1430.8 438.8l-6.2-3.6-8.3 9.3 6.2 3.6zM1422.5 448.1l-6.2-3.6-8.3 9.1 6.1 3.6zM1424.6 435.2l-6.4-3.6-8.1 9.2 6.2 3.7zM1416.3 444.5l-6.2-3.7-8.4 9.1 6.3 3.7zM1467.2 360.8l-6.6-3.4-5.9 10.8 6.7 3.4zM1418.2 431.6l-6.3-3.7-8.2 9.2 6.4 3.7zM1460.6 357.4l-6.8-3.5-5.8 10.7 6.7 3.6zM1419.7 418.5l-6.4-3.7-7.9 9.3 6.5 3.8zM1411.9 427.9l-6.5-3.8-8 9.2 6.3 3.8zM1448 364.6l-6.7-3.5-6.2 10.4 6.7 3.6zM1413.3 414.8l-6.5-3.8-7.8 9.4 6.4 3.7zM1405.4 424.1l-6.4-3.7-8 9.1 6.4 3.8zM1441.3 361.1l-6.7-3.6-6.2 10.4 6.7 3.6zM1414.3 401.5l-6.5-3.8-7.5 9.5 6.5 3.8zM1406.8 411l-6.5-3.8-7.8 9.3 6.5 3.9zM1434.6 357.5l-6.8-3.7-6.1 10.4 6.7 3.7zM1428.4 367.9l-6.7-3.7-6.5 10.2 6.7 3.7zM1415 388l-6.7-3.7-7.1 9.7 6.6 3.7zM1407.8 397.7l-6.6-3.7-7.5 9.4 6.6 3.8zM1400.3 407.2l-6.6-3.8-7.7 9.3 6.5 3.8zM1421.7 364.2l-6.8-3.7-6.5 10.1 6.8 3.8zM1415.2 374.4l-6.8-3.8-6.8 9.9 6.7 3.8zM1408.3 384.3l-6.7-3.8-7.1 9.6 6.7 3.9zM1401.2 394l-6.7-3.9-7.4 9.4 6.6 3.9zM1393.7 403.4l-6.6-3.9-7.7 9.3 6.6 3.9zM1414.9 360.5l-6.8-3.8-6.5 10.1 6.8 3.8zM1408.4 370.6l-6.8-3.8-6.7 9.8 6.7 3.9zM1401.6 380.5l-6.7-3.9-7.1 9.6 6.7 3.9zM1394.5 390.1l-6.7-3.9-7.4 9.4 6.7 3.9zM1401.6 366.8l-6.8-3.9-6.8 9.8 6.9 3.9zM1394.9 376.6l-6.9-3.9-7 9.5 6.8 4z"/>
<path fill="#98540c" d="M1643.1 344.7l-14.7-7.7-2.8 13.6 14.7 7.8zM1555.1 170.7l-5.3-1.4-1.5 12.5 5.3 1.5zM1532.8 202.7l-6.5-2.4-1.8 12.3 6.5 2.4zM1504.5 204.7l-6.8-2.7-2 12 6.8 2.9zM1497.7 202l-6.8-2.8-2 12 6.8 2.8zM1490.9 199.2l-6.8-2.9-2 12 6.8 2.9zM1484.1 196.3l-6.9-2.9-2 11.9 6.9 3zM1477.2 193.4l-6.9-2.9-2 11.8 6.9 3zM1470.3 190.5l-7-3-2 11.8 7 3zM1425.3 182.9l-7.5-3.5-2.1 11.5 7.5 3.5zM1417.8 179.4l-7.5-3.5-2.1 11.3 7.5 3.7zM1410.3 175.9l-7.7-3.7-2 11.4 7.6 3.6zM1402.6 172.2l-7.7-3.7-2 11.3 7.7 3.8zM1394.9 168.5l-7.8-3.7-2 11.2 7.8 3.8zM1387.1 164.8l-7.8-3.9-2.1 11.2 7.9 3.9zM1379.3 160.9l-7.9-3.9-2.1 11.2 7.9 3.9zM1371.4 157l-8-3.9-2.1 11.1 8 4z"/>
<path fill="#cc7410" d="M1637.2 371.9l-14.7-7.8-3.8 13.3 14.7 8zM1597 279.9l-8.1-2.2-2.1 13.3 8.1 2.3zM1594.3 237.8l-6-1-1.7 13.3 6.1 1zM1592.8 197l-4.8-.2-1.5 13.2 4.9 .3zM1590.7 170.4l-4.2 .1-1.4 13.2 4.3-.1zM1566.7 172l-3.3-.1-1.5 12.7 3.3 .1zM1558.6 210l-3.8-.6-1.8 12.6 3.9 .6zM1549 247.1l-4.5-1.2-2.3 12.5 4.6 1.3zM1519.6 276.5l-6.5-2.7-2.9 12.1 6.5 2.7zM1513.1 273.8l-6.6-2.9-2.9 12.1 6.6 2.9zM1441.9 254.3l-7.1-3.5-3.2 11.4 7.1 3.5zM1434.8 250.8l-7.2-3.5-3.2 11.3 7.2 3.6zM1427.6 247.3l-7.3-3.6-3.1 11.3 7.2 3.6zM1420.3 243.7l-7.4-3.7-3.1 11.2 7.4 3.8zM1332.1 210.3l-8.1-4.4-3.3 10.6 8.1 4.4z"/>
<path fill="#f48c14" d="M1633.4 385.4l-14.7-8-4.6 13.1 14.7 8zM1608.1 356.8l-13.3-6.2-3.9 13.1 13.3 6.3zM1598.1 337.4l-11-4.3-3.3 13.1 11 4.4zM1580.5 289.7l-5.2-.9-2.5 13.1 5.3 .9zM1573.1 275.2l-4.1-.4-2.4 12.9 4.2 .5zM1567.3 261.6l-3.5-.2-2.2 12.8 3.5 .3zM1563.8 261.4l-3.2-.1-2.3 12.7 3.3 .2zM1554.2 260.9l-3.4-.4-2.4 12.5 3.5 .5zM1548.4 273l-4-.8-2.5 12.4 3.9 .9zM1525.8 305.8l-6-2.4-3.4 12.1 5.9 2.5zM1490.2 303.7l-6.7-3.1-3.8 11.6 6.7 3.2zM1483.5 300.6l-6.8-3.3-3.8 11.6 6.8 3.3zM1476.7 297.3l-6.8-3.2-3.8 11.5 6.8 3.3zM1410 277.3l-7.3-3.8-4.1 10.9 7.3 3.9zM1402.7 273.5l-7.5-3.9-4 10.9 7.4 3.9zM1337.3 250.9l-8-4.4-4.3 10.3 8 4.5zM1329.3 246.5l-8.1-4.5-4.2 10.3 8 4.5z"/>
<path fill="#ffc01c" d="M1616.5 423.6l-14.5-8.3-7.6 11.7 14.5 8.2zM1608.5 403.2l-14.3-7.6-6.5 12.1 14.3 7.6zM1563.3 440.9l-12.7-6.6-9 10.2 12.5 6.6zM1532.3 454.5l-10-4.8-9.4 9.8 9.8 4.7zM1493.6 478.5l-7-3.1-9.7 9.3 6.9 3.1zM1457.3 503.1l-5-2.1-9.8 9.1 4.9 2.1zM1432.7 519.1l-3.9-1.5-9.8 8.9 3.8 1.6zM1422.8 528.1l-3.8-1.6-9.8 9 3.7 1.6zM1554.7 365.6l-4.8-1.1-5.3 12 4.8 1.2zM1409.2 535.5l-3.2-1.4-9.7 8.9 3.1 1.4zM1399.4 544.4l-3.1-1.4-9.8 8.8 3 1.4zM1386.5 551.8l-2.8-1.3-9.8 8.8 2.7 1.3zM1376.6 560.6l-2.7-1.3-9.7 8.8 2.6 1.3zM1373.9 559.3l-2.5-1.2-9.7 8.7 2.5 1.3zM1364.2 568.1l-2.5-1.3-9.7 8.7 2.4 1.3zM1361.7 566.8l-2.2-1.1-9.7 8.7 2.2 1.1zM1352 575.5l-2.2-1.1-9.7 8.7 2.1 1.1zM1342.2 584.2l-2.1-1.1-9.7 8.6 2.1 1.2zM1532.5 373.8l-3.5-.7-5.8 11.5 3.4 .8zM1340.1 583.1l-1.9-1.1-9.7 8.6 1.9 1.1zM1330.4 591.7l-1.9-1.1-9.7 8.6 1.9 1.1zM1338.2 582l-1.9-1.1-9.6 8.6 1.8 1.1zM1328.5 590.6l-1.8-1.1-9.7 8.5 1.8 1.2zM1318.8 599.2l-1.8-1.2-9.6 8.6 1.7 1.2zM1530.8 360.6l-3.3-.8-5.2 11.8 3.4 .8zM1345.9 572.3l-2.1-1.1-9.5 8.5 2 1.2zM1336.3 580.9l-2-1.2-9.6 8.6 2 1.2zM1532.1 347.9l-3.6-.9-4.6 11.9 3.6 .9zM1372.4 545.3l-2.5-1.3-9.4 8.7 2.4 1.3zM1362.9 554l-2.4-1.3-9.5 8.5 2.4 1.4zM1398 518l-3.1-1.6-9.3 8.7 3.1 1.6zM1388.7 526.7l-3.1-1.6-9.3 8.6 3 1.7zM1524.5 345.8l-4.7-1.7-4.7 11.8 4.7 1.7zM1413.3 498.8l-4-2.1-9.1 8.8 3.9 2.1zM1436.1 469.7l-4.9-2.7-8.7 9.1 4.8 2.7zM1427.3 478.8l-4.8-2.7-8.9 9 4.8 2.7zM1439.8 457.8l-5.4-3-8.6 9.2 5.4 3zM1498.6 362.4l-6.2-2.9-5.5 11.2 6.2 3zM1442.7 445.4l-5.8-3.2-8.4 9.3 5.9 3.3zM1434.4 454.8l-5.9-3.3-8.5 9.2 5.8 3.3zM1436.9 442.2l-6.1-3.4-8.3 9.3 6 3.4zM1480.4 367.5l-6.5-3.3-5.9 10.9 6.5 3.3zM1438.8 429.3l-6.3-3.5-7.9 9.4 6.2 3.6zM1473.9 364.2l-6.7-3.4-5.8 10.8 6.6 3.5zM1440.3 416.1l-6.4-3.6-7.7 9.7 6.3 3.6zM1432.5 425.8l-6.3-3.6-8 9.4 6.4 3.6zM1461.4 371.6l-6.7-3.4-6.3 10.5 6.7 3.5zM1433.9 412.5l-6.5-3.6-7.7 9.6 6.5 3.7zM1426.2 422.2l-6.5-3.7-7.8 9.4 6.3 3.7zM1454.7 368.2l-6.7-3.6-6.2 10.5 6.6 3.6zM1448.4 378.7l-6.6-3.6-6.6 10.3 6.6 3.6zM1434.8 399.1l-6.6-3.7-7.3 9.8 6.5 3.7zM1427.4 408.9l-6.5-3.7-7.6 9.6 6.4 3.7zM1441.8 375.1l-6.7-3.6-6.6 10.3 6.7 3.6zM1435.2 385.4l-6.7-3.6-6.9 9.9 6.6 3.7zM1428.2 395.4l-6.6-3.7-7.3 9.8 6.6 3.7zM1420.9 405.2l-6.6-3.7-7.5 9.5 6.5 3.8zM1435.1 371.5l-6.7-3.6-6.5 10.2 6.6 3.7zM1428.5 381.8l-6.6-3.7-6.9 9.9 6.6 3.7zM1421.6 391.7l-6.6-3.7-7.2 9.7 6.5 3.8zM1421.9 378.1l-6.7-3.7-6.9 9.9 6.7 3.7z"/>
<path fill="#a45c0c" d="M1628.4 337l-14.3-7.1-2.8 13.5 14.3 7.2zM1609.4 270.1l-10.5-3.6-1.9 13.4 10.6 3.7zM1606.5 199.2l-7.7-1.5-1.4 13.3 7.8 1.7zM1543.1 219.3l-5.9-2-1.9 12.4 5.9 2.1zM1529 227.4l-6.4-2.5-2.1 12.3 6.4 2.5zM1522.6 224.9l-6.6-2.6-2.1 12.2 6.6 2.7zM1473.1 217.2l-6.9-3.1-2.3 11.8 6.9 3.1zM1466.2 214.1l-7-3.1-2.2 11.8 6.9 3.1zM1459.2 211l-7-3.2-2.3 11.7 7.1 3.3zM1452.2 207.8l-7.2-3.2-2.2 11.6 7.1 3.3zM1445 204.6l-7.2-3.3-2.2 11.5 7.2 3.4zM1437.8 201.3l-7.2-3.4-2.3 11.5 7.3 3.4zM1375 183.3l-7.9-4-2.4 11 7.9 4.1zM1367.1 179.3l-8-4.1-2.4 11 8 4.1zM1359.1 175.2l-8-4.1-2.4 11 8 4.1zM1351.1 171.1l-8.2-4.2-2.3 11 8.1 4.2zM1342.9 166.9l-8.1-4.2-2.4 10.9 8.2 4.3z"/>
<path fill="#bc6c10" d="M1625.6 350.6l-14.3-7.2-3.2 13.4 14.4 7.3zM1614.1 329.9l-13.2-5.9-2.8 13.4 13.2 6zM1598.8 197.7l-6-.7-1.4 13.3 6 .7zM1563.4 171.9l-3.8-.4-1.5 12.7 3.8 .4zM1544.5 245.9l-5.4-1.7-2.2 12.4 5.3 1.8zM1536.9 256.6l-6-2.2-2.4 12.4 5.9 2.2zM1509.1 258.8l-6.7-2.8-2.6 12 6.7 2.9zM1502.4 256l-6.7-3-2.7 12 6.8 3zM1415.8 228.7l-7.4-3.7-2.9 11.2 7.4 3.8zM1408.4 225l-7.5-3.8-2.9 11.2 7.5 3.8z"/>
<path fill="#ff9418" d="M1618.7 377.4l-14.5-7.4-4.5 12.9 14.4 7.6zM1552.6 286.5l-3.3-.4-2.8 12.5 3.3 .5zM1531.2 307.9l-5.4-2.1-3.5 12.2 5.5 2.1zM1516.4 315.5l-6.3-2.8-3.9 11.9 6.3 2.8zM1472.9 308.9l-6.8-3.3-4.2 11.5 6.8 3.3zM1466.1 305.6l-6.8-3.3-4.2 11.4 6.8 3.4zM1413.2 292.1l-7.3-3.8-4.4 10.9 7.2 3.9z"/>
<path fill="#ffc820" d="M1602 415.3l-14.3-7.6-7.4 11.6 14.1 7.7zM1586.3 376.5l-11-4.6-5.4 12.4 11 4.7zM1566.8 368.9l-6.6-1.9-5.4 12.2 6.6 2zM1544.6 376.5l-4.4-1-5.9 11.7 4.3 1.1zM1540.2 375.5l-4-.9-5.9 11.7 4 .9zM1525.7 372.4l-3.4-.8-5.7 11.5 3.3 .8zM1527.5 359.8l-3.6-.9-5.2 11.7 3.6 1zM1493.1 373.7l-6.2-3-6 10.9 6.2 3.1zM1480.9 381.6l-6.4-3.2-6.4 10.7 6.4 3.3zM1474.5 392.4l-6.4-3.3-6.8 10.4 6.3 3.3zM1467.6 402.8l-6.3-3.3-7.2 10.2 6.3 3.3zM1468.1 389.1l-6.5-3.4-6.7 10.4 6.4 3.4zM1461.3 399.5l-6.4-3.4-7.1 10.1 6.3 3.5z"/>
<path fill="#ffc41c" d="M1594.4 427l-14.1-7.7-8.2 11 14 7.7zM1503.3 469l-7.1-3-9.6 9.4 7 3.1zM1467.1 493.9l-5.1-2-9.7 9.1 5 2.1zM1560.2 367l-5.5-1.4-5.3 12.1 5.4 1.5zM1442.5 510.1l-3.9-1.5-9.8 9 3.9 1.5zM1419 526.5l-3.2-1.3-9.8 8.9 3.2 1.4zM1406 534.1l-2.9-1.2-9.7 8.8 2.9 1.3zM1396.3 543l-2.9-1.3-9.7 8.8 2.8 1.3zM1393.4 541.7l-2.6-1.1-9.7 8.8 2.6 1.1zM1383.7 550.5l-2.6-1.1-9.7 8.7 2.5 1.2zM1536.2 374.6l-3.7-.8-5.9 11.6 3.7 .9zM1381.1 549.4l-2.3-1.1-9.6 8.7 2.2 1.1zM1371.4 558.1l-2.2-1.1-9.7 8.7 2.2 1.1zM1359.5 565.7l-2.1-1-9.6 8.6 2 1.1zM1349.8 574.4l-2-1.1-9.6 8.7 1.9 1.1zM1529 373.1l-3.3-.7-5.8 11.5 3.3 .7zM1357.4 564.7l-1.9-1-9.6 8.6 1.9 1zM1347.8 573.3l-1.9-1-9.6 8.6 1.9 1.1zM1365 555.1l-2.1-1.1-9.5 8.6 2.1 1.1zM1355.5 563.7l-2.1-1.1-9.6 8.6 2.1 1.1zM1381.8 536.7l-2.5-1.3-9.4 8.6 2.5 1.3zM1407.3 509.2l-3.2-1.6-9.2 8.8 3.1 1.6zM1431.3 480.8l-4-2-8.9 9 3.9 2zM1422.3 489.8l-3.9-2-9.1 8.9 4 2.1zM1444.8 460.4l-5-2.6-8.6 9.2 4.9 2.7zM1448.3 448.4l-5.6-3-8.3 9.4 5.4 3zM1450.9 435.9l-5.9-3.2-8.1 9.5 5.8 3.2zM1452.8 423l-6.2-3.4-7.8 9.7 6.2 3.4zM1445 432.7l-6.2-3.4-8 9.5 6.1 3.4zM1454.1 409.7l-6.3-3.5-7.5 9.9 6.3 3.5zM1446.6 419.6l-6.3-3.5-7.8 9.7 6.3 3.5zM1468 375.1l-6.6-3.5-6.3 10.6 6.5 3.5zM1461.6 385.7l-6.5-3.5-6.7 10.4 6.5 3.5zM1454.9 396.1l-6.5-3.5-7.1 10.1 6.5 3.5zM1447.8 406.2l-6.5-3.5-7.4 9.8 6.4 3.6zM1455.1 382.2l-6.7-3.5-6.6 10.3 6.6 3.6zM1448.4 392.6l-6.6-3.6-7 10.1 6.5 3.6zM1441.3 402.7l-6.5-3.6-7.4 9.8 6.5 3.6zM1441.8 389l-6.6-3.6-7 10 6.6 3.7z"/>
<path fill="#704008" d="M1631.2 193.5l-13-4.8-1.2 13.6 12.9 4.9z"/>
<path fill="#804408" d="M1624.1 261.9l-13-5.3-1.7 13.5 13 5.5zM1619.5 175.1l-10.4-2.8-1.3 13.4 10.4 3zM1490.7 148.4l-6.8-2.7-1.6 12 6.9 2.7zM1483.9 145.7l-7-2.7-1.5 11.9 6.9 2.8zM1476.9 143l-7-2.8-1.5 11.8 7 2.9zM1469.9 140.2l-7.1-2.9-1.5 11.8 7.1 2.9zM1447 143.1l-7.3-3.2-1.6 11.6 7.3 3.2zM1439.7 139.9l-7.4-3.2-1.6 11.6 7.4 3.2zM1432.3 136.7l-7.5-3.3-1.6 11.6 7.5 3.3zM1424.8 133.4l-7.6-3.3-1.6 11.4 7.6 3.5zM1417.2 130.1l-7.7-3.5-1.5 11.5 7.6 3.4zM1384.6 127.2l-8-3.7-1.6 11.2 7.9 3.8zM1376.6 123.5l-8-3.8-1.6 11.1 8 3.9zM1368.6 119.7l-8.1-3.9-1.6 11.1 8.1 3.9zM1360.5 115.8l-8.2-3.9-1.6 11.1 8.2 3.9zM1352.3 111.9l-8.2-4-1.6 11 8.2 4.1z"/>
<path fill="#d47810" d="M1611.3 343.4l-13.2-6-3.3 13.2 13.3 6.2zM1589.9 223.6l-4.9-.4-1.7 13.2 5 .4zM1588 196.8l-4.3 0-1.5 13.1 4.3 .1zM1585.1 183.7l-3.8 .1-1.5 13 3.9 0zM1582.6 170.7l-3.5 .3-1.4 12.9 3.6-.1zM1563.7 197.5l-3.4-.2-1.7 12.7 3.4 .2zM1539.8 270.9l-5.4-1.9-2.6 12.3 5.4 2zM1531.8 281.3l-6-2.3-2.8 12.2 5.9 2.4zM1496.9 280l-6.8-3.1-3.1 11.9 6.7 3.1zM1490.1 276.9l-6.8-3.1-3.1 11.8 6.8 3.2zM1483.3 273.8l-6.8-3.1-3.2 11.7 6.9 3.2zM1476.5 270.7l-6.8-3.2-3.2 11.7 6.8 3.2zM1402.4 247.4l-7.5-3.8-3.4 11 7.5 4zM1394.9 243.6l-7.6-4-3.4 11 7.6 4zM1387.3 239.6l-7.7-4-3.4 11 7.7 4zM1379.6 235.6l-7.7-4.1-3.4 11 7.7 4.1z"/>
<path fill="#ffcc20" d="M1594.2 395.6l-13.3-6.6-6.4 12.1 13.2 6.6zM1580.3 419.3l-13-6.6-8.1 11 12.9 6.6zM1550.6 434.3l-10.3-4.8-8.8 10.3 10.1 4.7zM1575.3 371.9l-8.5-3-5.4 12.3 8.5 3.1zM1549.4 377.7l-4.8-1.2-6 11.8 4.8 1.3zM1448.3 499.5l-3.5-1.2-9.6 9 3.4 1.3zM1435.2 507.3l-3.1-1.1-9.6 8.9 3 1.2zM1422.5 515.1l-2.8-1-9.6 8.8 2.7 1.1zM1530.3 386.3l-3.7-.9-6.3 11.3 3.6 .9zM1410.1 522.9l-2.5-.9-9.6 8.8 2.5 1zM1526.6 385.4l-3.4-.8-6.3 11.3 3.4 .8zM1523.2 384.6l-3.3-.7-6.2 11.3 3.2 .7zM1523.9 358.9l-4.1-1.3-5.1 11.7 4 1.3zM1519.8 357.6l-4.7-1.7-5.1 11.6 4.7 1.8zM1448.9 462.4l-4.1-2-8.7 9.3 4.1 2zM1510 367.5l-5.4-2.4-5.6 11.4 5.4 2.3zM1461.6 441.4l-5.1-2.5-8.2 9.5 5 2.6zM1499 376.5l-5.9-2.8-6 11 5.9 2.8zM1472.2 419.1l-5.8-2.9-7.6 10 5.7 2.9zM1464.5 429.1l-5.7-2.9-7.9 9.7 5.6 3zM1487.1 384.7l-6.2-3.1-6.4 10.8 6.1 3.1zM1480.6 395.5l-6.1-3.1-6.9 10.4 6.1 3.2zM1473.7 406l-6.1-3.2-7.2 10.2 6 3.2zM1466.4 416.2l-6-3.2-7.6 10 6 3.2z"/>
<path fill="#ffd020" d="M1587.7 407.7l-13.2-6.6-7.2 11.6 13 6.6zM1522.3 449.7l-7.5-3.1-9.2 9.8 7.3 3.1zM1496.2 466l-5.5-2.1-9.4 9.5 5.3 2zM1554.8 379.2l-5.4-1.5-6 11.9 5.4 1.5zM1471.7 482.7l-4.2-1.5-9.6 9.2 4.1 1.5zM1457.9 490.4l-3.6-1.3-9.5 9.2 3.5 1.2zM1444.8 498.3l-3.2-1.2-9.5 9.1 3.1 1.1zM1534.3 387.2l-4-.9-6.4 11.3 3.9 1zM1432.1 506.2l-2.9-1.1-9.5 9 2.8 1zM1419.7 514.1l-2.6-1-9.5 8.9 2.5 .9zM1407.6 522l-2.4-.9-9.5 8.8 2.3 .9zM1398 530.8l-2.3-.9-9.5 8.7 2.2 1zM1395.7 529.9l-2.2-.9-9.4 8.7 2.1 .9zM1403 520.2l-2.4-1-9.3 8.8 2.2 1zM1419.2 501.5l-2.7-1.2-9.2 8.9 2.7 1.2zM1434.7 482.4l-3.4-1.6-9 9 3.3 1.6zM1457.5 453l-4.2-2-8.5 9.4 4.1 2zM1469.6 431.6l-5.1-2.5-8 9.8 5.1 2.5zM1493 387.5l-5.9-2.8-6.5 10.8 5.8 2.8zM1486.4 398.3l-5.8-2.8-6.9 10.5 5.8 2.8zM1479.5 408.8l-5.8-2.8-7.3 10.2 5.8 2.9z"/>
<path fill="#ffc81c" d="M1572.1 430.3l-12.9-6.6-8.6 10.6 12.7 6.6zM1541.6 444.5l-10.1-4.7-9.2 9.9 10 4.8zM1512.9 459.5l-7.3-3.1-9.4 9.6 7.1 3zM1476.9 484.7l-5.2-2-9.7 9.2 5.1 2zM1452.3 501l-4-1.5-9.7 9.1 3.9 1.5zM1438.6 508.6l-3.4-1.3-9.7 9 3.3 1.3zM1428.8 517.6l-3.3-1.3-9.7 8.9 3.2 1.3zM1415.8 525.2l-3-1.2-9.7 8.9 2.9 1.2zM1403.1 532.9l-2.6-1.1-9.7 8.8 2.6 1.1zM1390.8 540.6l-2.4-1-9.6 8.7 2.3 1.1zM1378.8 548.3l-2.2-1-9.5 8.7 2.1 1zM1369.2 557l-2.1-1-9.7 8.7 2.1 1zM1376.6 547.3l-2-.9-9.6 8.7 2.1 .9zM1367.1 556l-2.1-.9-9.5 8.6 1.9 1zM1384.1 537.7l-2.3-1-9.4 8.6 2.2 1.1zM1374.6 546.4l-2.2-1.1-9.5 8.7 2.1 1.1zM1400.6 519.2l-2.6-1.2-9.3 8.7 2.6 1.3zM1391.3 528l-2.6-1.3-9.4 8.7 2.5 1.3zM1416.5 500.3l-3.2-1.5-9.2 8.8 3.2 1.6zM1440.2 471.7l-4.1-2-8.8 9.1 4 2zM1453.3 451l-5-2.6-8.5 9.4 5 2.6zM1456.5 438.9l-5.6-3-8.2 9.5 5.6 3zM1458.8 426.2l-6-3.2-7.8 9.7 5.9 3.2zM1460.4 413l-6.3-3.3-7.5 9.9 6.2 3.4z"/>
<path fill="#884c08" d="M1614.2 229.4l-10.5-3.3-1.5 13.5 10.5 3.4zM1549.8 169.3l-5.9-1.8-1.5 12.5 5.9 1.8zM1542.4 180l-6.3-2.1-1.6 12.4 6.2 2.1zM1521.5 185.6l-6.7-2.6-1.7 12.3 6.7 2.5zM1514.8 183l-6.8-2.5-1.7 12.1 6.8 2.7zM1367 130.8l-8.1-3.9-1.7 11.1 8 4zM1358.9 126.9l-8.2-3.9-1.7 11 8.2 4zM1350.7 123l-8.2-4.1-1.7 11 8.2 4.1z"/>
<path fill="#c87010" d="M1603.4 310.6l-10.8-4-2.5 13.3 10.8 4.1zM1594.2 183.8l-4.8-.2-1.4 13.2 4.8 .2zM1542.2 258.4l-5.3-1.8-2.5 12.4 5.4 1.9zM1499.8 268l-6.8-3-2.9 11.9 6.8 3.1zM1493 265l-6.8-3-2.9 11.8 6.8 3.1zM1486.2 262l-6.8-3.1-2.9 11.8 6.8 3.1zM1412.9 240l-7.4-3.8-3.1 11.2 7.4 3.8zM1405.5 236.2l-7.5-3.8-3.1 11.2 7.5 3.8zM1398 232.4l-7.6-3.9-3.1 11.1 7.6 4zM1390.4 228.5l-7.7-3.9-3.1 11 7.7 4z"/>
<path fill="#ffd824" d="M1580.9 389l-11-4.7-6.3 12 10.9 4.8zM1518.7 370.6l-4-1.3-5.7 11.4 4 1.3z"/>
<path fill="#ffe024" d="M1574.5 401.1l-10.9-4.8-7.1 11.5 10.8 4.9zM1536.7 401l-4.7-1.3-7.2 11.1 4.5 1.3zM1469.7 469.6l-3.2-1-9.2 9.3 3.1 1zM1516.9 408.6l-3.6-.9-7.4 10.7 3.4 .9zM1449.2 475.3l-2.7-.9-9 9.1 2.6 1zM1513 382l-4-1.3-6.1 11.1 4 1.4zM1469.5 444.9l-3.7-1.5-8.3 9.6 3.5 1.5zM1502.9 391.8l-4.6-1.9-6.6 10.9 4.6 1.9zM1496.3 402.7l-4.6-1.9-7 10.5 4.5 2zM1489.2 413.3l-4.5-2-7.4 10.3 4.5 2z"/>
<path fill="#ffdc24" d="M1567.3 412.7l-10.8-4.9-7.8 11.1 10.5 4.8zM1569.9 384.3l-8.5-3.1-6.1 12 8.3 3.1zM1548.8 391.1l-5.4-1.5-6.7 11.4 5.3 1.6zM1532 399.7l-4.2-1.1-7.1 11.1 4.1 1.1zM1513.3 407.7l-3.3-.8-7.3 10.7 3.2 .8zM1510 406.9l-3.1-.8-7.3 10.6 3.1 .9zM1513.7 395.2l-3.3-.9-6.8 10.9 3.3 .9zM1516.6 383.1l-3.6-1.1-6.1 11.2 3.5 1.1zM1509 380.7l-4.6-1.9-6.1 11.1 4.6 1.9zM1481.8 423.6l-4.5-2-7.7 10 4.3 2z"/>
<path fill="#ffd820" d="M1559.2 423.7l-10.5-4.8-8.4 10.6 10.3 4.8zM1531.5 439.8l-7.7-3.1-9 9.9 7.5 3.1zM1561.4 381.2l-6.6-2-6 11.9 6.5 2.1zM1505.6 456.4l-5.6-2-9.3 9.5 5.5 2.1zM1490.7 463.9l-4.4-1.4-9.4 9.4 4.4 1.5zM1463.8 480l-3.4-1.1-9.3 9.1 3.2 1.1zM1451.1 488l-3.1-1-9.4 9.1 3 1zM1523.9 397.6l-3.6-.9-7 11 3.6 .9zM1438.6 496.1l-2.7-.9-9.4 9 2.7 .9zM1426.5 504.2l-2.4-.9-9.4 8.9 2.4 .9zM1424.1 503.3l-2.4-.8-9.3 8.9 2.3 .8zM1431 493.5l-2.6-.9-9.2 8.9 2.5 1zM1437.5 483.5l-2.8-1.1-9.1 9 2.8 1.2zM1452.4 463.9l-3.5-1.5-8.7 9.3 3.4 1.5zM1473.9 433.6l-4.3-2-8 9.8 4.2 2zM1498.3 389.9l-5.3-2.4-6.6 10.8 5.3 2.5zM1491.7 400.8l-5.3-2.5-6.9 10.5 5.2 2.5zM1484.7 411.3l-5.2-2.5-7.3 10.3 5.1 2.5z"/>
<path fill="#ffb818" d="M1513 473.8l-9.7-4.8-9.7 9.5 9.6 4.8zM1473.9 497.1l-6.8-3.2-9.8 9.2 6.7 3.2zM1464 506.3l-6.7-3.2-9.9 9.1 6.6 3.2zM1427.6 530.3l-4.8-2.2-9.9 9 4.7 2.2zM1417.6 539.3l-4.7-2.2-9.9 8.9 4.6 2.3zM1393.1 555l-3.6-1.8-9.9 8.9 3.6 1.8zM1383.2 563.9l-3.6-1.8-9.9 8.8 3.5 1.8zM1373.2 572.7l-3.5-1.8-9.9 8.8 3.4 1.9zM1359.8 579.7l-2.8-1.5-9.9 8.8 2.8 1.6zM1349.9 588.6l-2.8-1.6-9.9 8.7 2.8 1.7zM1340 597.4l-2.8-1.7-9.9 8.8 2.7 1.7zM1337.2 595.7l-2.5-1.4-9.8 8.7 2.4 1.5zM1327.3 604.5l-2.4-1.5-9.8 8.6 2.3 1.6zM1317.4 613.2l-2.3-1.6-9.9 8.7 2.3 1.6zM1315.1 611.6l-2.2-1.4-9.8 8.7 2.1 1.4zM1305.2 620.3l-2.1-1.4-9.8 8.6 2.1 1.5zM1295.4 629l-2.1-1.5-9.8 8.6 2 1.6zM1293.3 627.5l-1.9-1.4-9.7 8.6 1.8 1.4zM1283.5 636.1l-1.8-1.4-9.8 8.6 1.8 1.4zM1273.7 644.7l-1.8-1.4-9.8 8.6 1.8 1.5zM1271.9 643.3l-1.6-1.3-9.8 8.5 1.6 1.4zM1262.1 651.9l-1.6-1.4-9.7 8.5 1.5 1.4zM1252.3 660.4l-1.5-1.4-9.7 8.6 1.5 1.4zM1260.5 650.5l-1.5-1.3-9.7 8.5 1.5 1.3zM1250.8 659l-1.5-1.3-9.7 8.5 1.5 1.4zM1278.4 632.2l-1.7-1.4-9.7 8.5 1.7 1.4zM1268.7 640.7l-1.7-1.4-9.6 8.5 1.6 1.4zM1259 649.2l-1.6-1.4-9.7 8.4 1.6 1.5zM1315.1 596.8l-2.2-1.5-9.6 8.5 2.2 1.5zM1305.5 605.3l-2.2-1.5-9.5 8.5 2.1 1.5zM1295.9 613.8l-2.1-1.5-9.6 8.4 2.1 1.6zM1351 561.2l-2.9-1.7-9.4 8.5 2.8 1.8zM1341.5 569.8l-2.8-1.8-9.5 8.5 2.8 1.8zM1332 578.3l-2.8-1.8-9.5 8.5 2.8 1.8zM1376.3 533.7l-3.7-2.2-9.3 8.6 3.6 2.3zM1400.2 505.5l-4.6-2.8-9.1 8.8 4.6 2.7zM1404.6 494l-5.2-3.2-9 8.8 5.2 3.1zM1408.3 482l-5.7-3.4-8.8 8.8 5.6 3.4zM1405.5 466.2l-6.1-3.6-8.7 8.8 6.1 3.7zM1399.4 462.6l-6.2-3.8-8.6 8.8 6.1 3.8zM1389.1 442.3l-6.3-3.8-8.4 8.8 6.3 3.9z"/>
<path fill="#a0580c" d="M1607.8 185.7l-7.7-1.4-1.3 13.4 7.7 1.5zM1544.9 206.8l-5.9-1.9-1.8 12.4 5.9 2zM1502.5 216.9l-6.8-2.9-2.1 12.1 6.8 2.8zM1495.7 214l-6.8-2.8-2.1 12 6.8 2.9zM1488.9 211.2l-6.8-2.9-2.1 11.9 6.8 3zM1482.1 208.3l-6.9-3-2.1 11.9 6.9 3zM1423.2 194.4l-7.5-3.5-2.2 11.4 7.4 3.6zM1415.7 190.9l-7.5-3.7-2.3 11.4 7.6 3.7zM1408.2 187.2l-7.6-3.6-2.3 11.3 7.6 3.7zM1400.6 183.6l-7.7-3.8-2.3 11.3 7.7 3.8zM1392.9 179.8l-7.8-3.8-2.2 11.2 7.7 3.9zM1385.1 176l-7.9-3.9-2.2 11.2 7.9 3.9z"/>
<path fill="#e48414" d="M1592.6 306.6l-8.1-2.4-2.7 13.2 8.3 2.5zM1584.7 263.3l-5-.7-2.1 13.1 5.1 .8zM1581.6 249.5l-4.5-.3-1.9 13 4.5 .4zM1573 222.8l-3.4 .1-1.8 12.8 3.4 .1zM1571.3 210l-3.2 .1-1.7 12.8 3.2 0zM1568.1 210.1l-3 .1-1.7 12.8 3-.1zM1558.4 235.6l-3.4-.3-2.1 12.6 3.5 .4zM1528.9 293.6l-5.9-2.4-3.2 12.2 6 2.4zM1493.7 291.9l-6.7-3.1-3.5 11.8 6.7 3.1zM1487 288.8l-6.8-3.2-3.5 11.7 6.8 3.3zM1413.7 266.2l-7.3-3.8-3.7 11.1 7.3 3.8zM1406.4 262.4l-7.4-3.8-3.8 11 7.5 3.9z"/>
<path fill="#f88c14" d="M1590.1 319.9l-8.3-2.5-3 13.1 8.3 2.6zM1584.5 304.2l-6.4-1.4-2.7 13 6.4 1.6zM1569 274.8l-3.9-.3-2.4 12.8 3.9 .4zM1560.6 261.3l-3.2-.1-2.3 12.6 3.2 .2zM1557.4 261.2l-3.2-.3-2.3 12.6 3.2 .3zM1424.4 284.8l-7.2-3.7-4 11 7.1 3.8zM1417.2 281.1l-7.2-3.8-4.1 11 7.3 3.8zM1353 259.7l-7.8-4.4-4.3 10.5 7.8 4.4zM1345.2 255.3l-7.9-4.4-4.3 10.4 7.9 4.5z"/>
<path fill="#ffa81c" d="M1583.8 346.2l-8.4-2.7-4 12.8 8.5 2.9z"/>
<path fill="#ffe824" d="M1563.6 396.3l-8.3-3.1-7 11.5 8.2 3.1zM1556.5 407.8l-8.2-3.1-7.6 11 8 3.2zM1548.3 404.7l-6.3-2.1-7.5 11 6.2 2.1zM1532.5 426.4l-6-2.1-8.5 10.3 5.8 2.1zM1534.5 413.6l-5.2-1.5-7.8 10.6 5 1.6zM1518 434.6l-4.9-1.5-8.7 10 4.7 1.5zM1529.3 412.1l-4.5-1.3-7.7 10.7 4.4 1.2zM1521.5 422.7l-4.4-1.2-8.2 10.3 4.2 1.3zM1504.4 443.1l-4.1-1.3-8.9 9.8 4.1 1.3zM1517.1 421.5l-4.1-1.2-8 10.4 3.9 1.1zM1500.3 441.8l-3.8-1.1-8.7 9.8 3.6 1.1zM1491.4 451.6l-3.6-1.1-9 9.6 3.6 1.1zM1513 420.3l-3.7-1-7.9 10.4 3.6 1zM1505 430.7l-3.6-1-8.4 10 3.5 1zM1496.5 440.7l-3.5-1-8.6 9.8 3.4 1zM1487.8 450.5l-3.4-1-8.9 9.6 3.3 1zM1501.4 429.7l-3.4-1-8.2 10.1 3.2 .9zM1493 439.7l-3.2-.9-8.5 9.8 3.1 .9zM1484.4 449.5l-3.1-.9-8.8 9.6 3 .9zM1475.5 459.1l-3-.9-9 9.5 3 .9zM1498 428.7l-3.1-.8-8.1 10.1 3 .8zM1489.8 438.8l-3-.8-8.5 9.8 3 .8zM1481.3 448.6l-3-.8-8.6 9.6 2.8 .8zM1472.5 458.2l-2.8-.8-8.9 9.4 2.7 .9zM1494.9 427.9l-3-.8-8.1 10 3 .9zM1486.8 438l-3-.9-8.3 9.9 2.8 .8zM1478.3 447.8l-2.8-.8-8.6 9.6 2.8 .8zM1469.7 457.4l-2.8-.8-8.8 9.4 2.7 .8zM1460.8 466.8l-2.7-.8-8.9 9.3 2.6 .8zM1499.6 416.7l-3.2-.9-7.6 10.4 3.1 .9zM1475.5 447l-2.9-.9-8.5 9.6 2.8 .9zM1466.9 456.6l-2.8-.9-8.7 9.4 2.7 .9zM1503.6 405.2l-3.4-1.1-7.1 10.6 3.3 1.1zM1480.9 436.2l-3.3-1.1-8.1 9.8 3.1 1.2zM1472.6 446.1l-3.1-1.2-8.5 9.6 3.1 1.2zM1500.2 404.1l-3.9-1.4-7.1 10.6 3.9 1.4zM1493.1 414.7l-3.9-1.4-7.4 10.3 3.7 1.4zM1485.5 425l-3.7-1.4-7.9 10 3.7 1.5z"/>
<path fill="#ffe424" d="M1548.7 418.9l-8-3.2-8.2 10.7 7.8 3.1zM1555.3 393.2l-6.5-2.1-6.8 11.5 6.3 2.1zM1523.8 436.7l-5.8-2.1-8.9 10 5.7 2zM1542 402.6l-5.3-1.6-7.4 11.1 5.2 1.5zM1509.1 444.6l-4.7-1.5-8.9 9.8 4.5 1.5zM1495.5 452.9l-4.1-1.3-9 9.6 3.9 1.3zM1524.8 410.8l-4.1-1.1-7.7 10.6 4.1 1.2zM1482.4 461.2l-3.6-1.1-9.1 9.5 3.5 1.1zM1520.7 409.7l-3.8-1.1-7.6 10.7 3.7 1zM1478.8 460.1l-3.3-1-9 9.5 3.2 1zM1509.3 419.3l-3.4-.9-7.9 10.3 3.4 1zM1466.5 468.6l-3-.9-9 9.2 2.8 1zM1505.9 418.4l-3.2-.8-7.8 10.3 3.1 .8zM1463.5 467.7l-2.7-.9-9 9.3 2.7 .8zM1454.5 476.9l-2.7-.8-9.2 9.2 2.6 .8zM1502.7 417.6l-3.1-.9-7.7 10.4 3 .8zM1451.8 476.1l-2.6-.8-9.1 9.2 2.5 .8zM1506.9 406.1l-3.3-.9-7.2 10.6 3.2 .9zM1458.1 466l-2.7-.9-8.9 9.3 2.7 .9zM1510.4 394.3l-3.5-1.1-6.7 10.9 3.4 1.1zM1464.1 455.7l-3.1-1.2-8.6 9.4 3 1.2zM1506.9 393.2l-4-1.4-6.6 10.9 3.9 1.4zM1477.6 435.1l-3.7-1.5-8.1 9.8 3.7 1.5z"/>
<path fill="#ffdc20" d="M1540.3 429.5l-7.8-3.1-8.7 10.3 7.7 3.1zM1514.8 446.6l-5.7-2-9.1 9.8 5.6 2zM1476.9 471.9l-3.7-1.2-9.4 9.3 3.7 1.2zM1527.8 398.6l-3.9-1-7 11 3.8 1.1zM1460.4 478.9l-3.1-1-9.3 9.1 3.1 1zM1448 487l-2.8-.9-9.3 9.1 2.7 .9zM1435.9 495.2l-2.5-.9-9.3 9 2.4 .9zM1433.4 494.3l-2.4-.8-9.3 9 2.4 .8zM1440.1 484.5l-2.6-1-9.1 9.1 2.6 .9zM1446.5 474.4l-2.9-1.2-8.9 9.2 2.8 1.1zM1461 454.5l-3.5-1.5-8.6 9.4 3.5 1.5z"/>
<path fill="#b46810" d="M1601.4 170.9l-5.9-.4-1.3 13.3 5.9 .5zM1546.5 233.4l-5.3-1.6-2.1 12.4 5.4 1.7zM1524.7 252l-6.5-2.6-2.4 12.2 6.4 2.7zM1440.3 227.8l-7.2-3.4-2.6 11.4 7.2 3.5z"/>
<path fill="#c47010" d="M1595.9 224.4l-6-.8-1.6 13.2 6 1zM1595.5 170.5l-4.8-.1-1.3 13.2 4.8 .2zM1560.3 197.3l-3.8-.5-1.7 12.6 3.8 .6zM1551.1 234.6l-4.6-1.2-2 12.5 4.5 1.2zM1528.5 266.8l-6.3-2.5-2.6 12.2 6.2 2.5zM1479.4 258.9l-6.8-3.1-2.9 11.7 6.8 3.2zM1472.6 255.8l-6.9-3.2-2.9 11.7 6.9 3.2zM1465.7 252.6l-6.9-3.2-2.9 11.6 6.9 3.3zM1458.8 249.4l-7-3.3-2.9 11.6 7 3.3zM1382.7 224.6l-7.7-4-3.1 10.9 7.7 4.1zM1375 220.6l-7.8-4.1-3.1 10.9 7.8 4.1zM1367.2 216.5l-7.9-4.2-3.1 10.9 7.9 4.2zM1359.3 212.3l-8-4.2-3.1 10.9 8 4.2z"/>
<path fill="#d07810" d="M1592.7 251.1l-6.1-1-1.9 13.2 6.2 1.1zM1589.4 183.6l-4.3 .1-1.4 13.1 4.3 0zM1586.5 170.5l-3.9 .2-1.3 13.1 3.8-.1zM1565.2 184.7l-3.3-.1-1.6 12.7 3.4 .2zM1556.9 222.6l-3.9-.6-1.9 12.6 3.9 .7zM1525.8 279l-6.2-2.5-2.9 12.1 6.3 2.6zM1469.7 267.5l-6.9-3.2-3.2 11.6 6.9 3.3zM1462.8 264.3l-6.9-3.3-3.2 11.6 6.9 3.3zM1455.9 261l-7-3.3-3.1 11.5 6.9 3.4zM1371.9 231.5l-7.8-4.1-3.4 10.9 7.8 4.2z"/>
<path fill="#ec8814" d="M1586.8 291l-6.3-1.3-2.4 13.1 6.4 1.4zM1582.7 276.5l-5.1-.8-2.3 13.1 5.2 .9zM1573.1 248.9l-3.7-.2-2.1 12.9 3.8 .3zM1567.8 235.7l-3.2 0-1.9 12.8 3.2 .1zM1564.6 235.7l-3.1 0-1.9 12.8 3.1 0zM1561.5 235.7l-3.1-.1-2 12.7 3.2 .2zM1556.4 248.3l-3.5-.4-2.1 12.6 3.4 .4zM1534.4 295.6l-5.5-2-3.1 12.2 5.4 2.1zM1513.5 300.7l-6.5-2.8-3.4 11.9 6.5 2.9zM1449.3 284.1l-7-3.5-3.8 11.4 7 3.5zM1442.3 280.6l-7-3.5-3.8 11.3 7 3.6zM1372.5 257.4l-7.7-4.1-4 10.7 7.7 4.2zM1364.8 253.3l-7.8-4.3-4 10.7 7.8 4.3z"/>
<path fill="#ff9818" d="M1581.8 317.4l-6.4-1.6-3.1 13 6.5 1.7zM1575.4 315.8l-5.3-1-3.2 12.9 5.4 1.1zM1570.1 314.8l-4.7-.7-3.2 12.8 4.7 .8zM1556.5 299.7l-3.4-.3-3 12.6 3.4 .4zM1553.1 299.4l-3.3-.3-3 12.5 3.3 .4zM1549.3 286.1l-3.5-.6-2.8 12.5 3.5 .6zM1522.3 318l-5.9-2.5-3.9 11.9 6 2.6zM1493.1 318.6l-6.7-3.2-4.1 11.6 6.7 3.3zM1486.4 315.4l-6.7-3.2-4.2 11.6 6.8 3.2zM1479.7 312.2l-6.8-3.3-4.2 11.5 6.8 3.4zM1434.4 303.2l-7-3.6-4.5 11 7 3.7zM1427.4 299.6l-7.1-3.7-4.4 11 7 3.7zM1420.3 295.9l-7.1-3.8-4.5 11 7.2 3.8zM1379.3 287.2l-7.5-4.2-4.7 10.5 7.5 4.2zM1371.8 283l-7.6-4.2-4.7 10.5 7.6 4.2zM1328.3 271.6l-7.9-4.5-5 10 8 4.6zM1320.4 267.1l-8-4.6-5 10 8 4.6z"/>
<path fill="#ffac1c" d="M1575.4 343.5l-6.6-1.8-4 12.8 6.6 1.8zM1540.1 323.5l-3.6-.8-3.8 12.2 3.6 .8zM1536.5 322.7l-4-1.1-3.8 12.2 4 1.1zM1524 332.1l-5.5-2.1-4.2 11.9 5.5 2.2zM1508.3 339.3l-6.2-2.9-4.7 11.6 6.3 2.9zM1477.7 338.5l-6.8-3.4-4.9 11.3 6.7 3.3zM1438.8 332.4l-6.8-3.6-5.3 10.8 6.8 3.6z"/>
<path fill="#ffec24" d="M1540.7 415.7l-6.2-2.1-8 10.7 6 2.1zM1526.5 424.3l-5-1.6-8.4 10.4 4.9 1.5zM1513.1 433.1l-4.2-1.3-8.6 10 4.1 1.3zM1508.9 431.8l-3.9-1.1-8.5 10 3.8 1.1zM1491.9 427.1l-3.1-.9-7.9 10 2.9 .9zM1483.8 437.1l-2.9-.9-8.3 9.9 2.9 .9zM1496.4 415.8l-3.3-1.1-7.6 10.3 3.3 1.2zM1488.8 426.2l-3.3-1.2-7.9 10.1 3.3 1.1z"/>
<path fill="#ffcc1c" d="M1486.6 475.4l-5.3-2-9.6 9.3 5.2 2zM1462 491.9l-4.1-1.5-9.6 9.1 4 1.5zM1425.5 516.3l-3-1.2-9.7 8.9 3 1.2zM1412.8 524l-2.7-1.1-9.6 8.9 2.6 1.1zM1400.5 531.8l-2.5-1-9.6 8.8 2.4 1zM1388.4 539.6l-2.2-1-9.6 8.7 2.2 1zM1386.2 538.6l-2.1-.9-9.5 8.7 2 .9zM1393.5 529l-2.2-1-9.5 8.7 2.3 1zM1410 510.4l-2.7-1.2-9.3 8.8 2.6 1.2zM1425.6 491.4l-3.3-1.6-9 9 3.2 1.5z"/>
<path fill="#d07410" d="M1591.4 210.3l-4.9-.3-1.5 13.2 4.9 .4zM1448.9 257.7l-7-3.4-3.2 11.4 7.1 3.5zM1364.1 227.4l-7.9-4.2-3.4 10.8 7.9 4.3zM1356.2 223.2l-8-4.2-3.3 10.7 7.9 4.3zM1348.2 219l-8-4.4-3.3 10.8 8 4.3zM1340.2 214.6l-8.1-4.3-3.3 10.6 8.1 4.5z"/>
<path fill="#ff9014" d="M1578.1 302.8l-5.3-.9-2.7 12.9 5.3 1zM1566.6 287.7l-3.9-.4-2.6 12.8 3.9 .5zM1383.7 276.4l-7.5-4-4.4 10.6 7.5 4.2zM1317 252.3l-8.1-4.6-4.6 10.1 8.1 4.7z"/>
<path fill="#ffe020" d="M1500 454.4l-4.5-1.5-9.2 9.6 4.4 1.4zM1486.3 462.5l-3.9-1.3-9.2 9.5 3.7 1.2zM1473.2 470.7l-3.5-1.1-9.3 9.3 3.4 1.1zM1457.3 477.9l-2.8-1-9.3 9.2 2.8 .9zM1445.2 486.1l-2.6-.8-9.2 9 2.5 .9zM1442.6 485.3l-2.5-.8-9.1 9 2.4 .8zM1455.4 465.1l-3-1.2-8.8 9.3 2.9 1.2z"/>
<path fill="#ffd420" d="M1481.3 473.4l-4.4-1.5-9.4 9.3 4.2 1.5zM1543.4 389.6l-4.8-1.3-6.6 11.4 4.7 1.3zM1467.5 481.2l-3.7-1.2-9.5 9.1 3.6 1.3zM1538.6 388.3l-4.3-1.1-6.5 11.4 4.2 1.1zM1454.3 489.1l-3.2-1.1-9.5 9.1 3.2 1.2zM1441.6 497.1l-3-1-9.4 9 2.9 1.1zM1429.2 505.1l-2.7-.9-9.4 8.9 2.6 1zM1520.3 396.7l-3.4-.8-6.9 11 3.3 .8zM1417.1 513.1l-2.4-.9-9.5 8.9 2.4 .9zM1516.9 395.9l-3.2-.7-6.8 10.9 3.1 .8zM1414.7 512.2l-2.3-.8-9.4 8.8 2.2 .9zM1405.2 521.1l-2.2-.9-9.5 8.8 2.2 .9zM1519.9 383.9l-3.3-.8-6.2 11.2 3.3 .9zM1421.7 502.5l-2.5-1-9.2 8.9 2.4 1zM1412.4 511.4l-2.4-1-9.4 8.8 2.4 1zM1522.3 371.6l-3.6-1-5.7 11.4 3.6 1.1zM1428.4 492.6l-2.8-1.2-9.1 8.9 2.7 1.2zM1443.6 473.2l-3.4-1.5-8.9 9.1 3.4 1.6zM1514.7 369.3l-4.7-1.8-5.6 11.3 4.6 1.9zM1465.8 443.4l-4.2-2-8.3 9.6 4.2 2zM1504.4 378.8l-5.4-2.3-6 11 5.3 2.4zM1477.3 421.6l-5.1-2.5-7.7 10 5.1 2.5z"/>
<path fill="#dc7c10" d="M1585 223.2l-4.4-.2-1.7 13.1 4.4 .3zM1582.2 209.9l-3.9 0-1.6 13 3.9 .1zM1579.8 196.8l-3.6 .1-1.6 13 3.7 0zM1577.7 183.9l-3.3 .2-1.5 13 3.3-.2zM1438.7 265.7l-7.1-3.5-3.4 11.4 7.1 3.5zM1431.6 262.2l-7.2-3.6-3.4 11.3 7.2 3.7zM1360.7 238.3l-7.9-4.3-3.6 10.7 7.8 4.3zM1352.8 234l-7.9-4.3-3.7 10.7 8 4.3zM1344.9 229.7l-8-4.3-3.7 10.6 8 4.4zM1336.9 225.4l-8.1-4.5-3.6 10.6 8 4.5z"/>
<path fill="#ec8414" d="M1579.7 262.6l-4.5-.4-2.1 13 4.5 .5zM1435.3 277.1l-7.1-3.5-3.8 11.2 7.1 3.6zM1357 249l-7.8-4.3-4 10.6 7.8 4.4z"/>
<path fill="#f08814" d="M1577.6 275.7l-4.5-.5-2.3 13 4.5 .6zM1575.2 262.2l-4.1-.3-2.1 12.9 4.1 .4zM1571.1 261.9l-3.8-.3-2.2 12.9 3.9 .3zM1569.4 248.7l-3.5-.1-2.1 12.8 3.5 .2zM1565.9 248.6l-3.2-.1-2.1 12.8 3.2 .1zM1559.6 248.5l-3.2-.2-2.2 12.6 3.2 .3zM1541.9 284.6l-4.7-1.3-2.8 12.3 4.6 1.4zM1519.8 303.4l-6.3-2.7-3.4 12 6.3 2.8zM1463 290.8l-6.8-3.3-3.8 11.4 6.9 3.4zM1456.2 287.5l-6.9-3.4-3.8 11.4 6.9 3.4zM1395.2 269.6l-7.4-4-4.1 10.8 7.5 4.1zM1387.8 265.6l-7.6-4-4 10.8 7.5 4zM1380.2 261.6l-7.7-4.2-4 10.8 7.7 4.2z"/>
<path fill="#f89014" d="M1575.3 288.8l-4.5-.6-2.6 13 4.6 .7zM1565.1 274.5l-3.5-.3-2.5 12.8 3.6 .3zM1503.6 309.8l-6.7-3-3.8 11.8 6.7 3.1zM1496.9 306.8l-6.7-3.1-3.8 11.7 6.7 3.2zM1431.5 288.4l-7.1-3.6-4.1 11.1 7.1 3.7zM1360.8 264l-7.8-4.3-4.3 10.5 7.8 4.3z"/>
<path fill="#ff9414" d="M1572.8 301.9l-4.6-.7-2.8 12.9 4.7 .7zM1568.2 301.2l-4.2-.6-2.9 12.8 4.3 .7zM1564 300.6l-3.9-.5-2.9 12.8 3.9 .5zM1562.7 287.3l-3.6-.3-2.6 12.7 3.6 .4zM1559.1 287l-3.3-.3-2.7 12.7 3.4 .3zM1555.8 286.7l-3.2-.2-2.8 12.6 3.3 .3zM1545.8 285.5l-3.9-.9-2.9 12.4 4 1zM1459.3 302.3l-6.9-3.4-4.1 11.3 6.8 3.5zM1452.4 298.9l-6.9-3.4-4.1 11.2 6.9 3.5zM1405.9 288.3l-7.3-3.9-4.4 10.8 7.3 4zM1398.6 284.4l-7.4-3.9-4.4 10.7 7.4 4zM1391.2 280.5l-7.5-4.1-4.4 10.8 7.5 4zM1348.7 270.2l-7.8-4.4-4.7 10.3 7.8 4.5zM1340.9 265.8l-7.9-4.5-4.7 10.3 7.9 4.5zM1333 261.3l-8-4.5-4.6 10.3 7.9 4.5zM1325 256.8l-8-4.5-4.6 10.2 8 4.6z"/>
<path fill="#e88414" d="M1577.1 249.2l-4-.3-2 13 4.1 .3zM1574.9 235.9l-3.7-.1-1.8 12.9 3.7 .2zM1571.2 235.8l-3.4-.1-1.9 12.9 3.5 .1zM1569.6 222.9l-3.2 0-1.8 12.8 3.2 0zM1566.4 222.9l-3 .1-1.9 12.7 3.1 0zM1563.4 223l-3.1-.1-1.9 12.7 3.1 .1zM1550.8 260.5l-4-.8-2.4 12.5 4 .8zM1507 297.9l-6.6-3-3.5 11.9 6.7 3zM1500.4 294.9l-6.7-3-3.5 11.8 6.7 3.1zM1428.2 273.6l-7.2-3.7-3.8 11.2 7.2 3.7zM1421 269.9l-7.3-3.7-3.7 11.1 7.2 3.8zM1349.2 244.7l-8-4.3-3.9 10.5 7.9 4.4zM1341.2 240.4l-8-4.4-3.9 10.5 8 4.4zM1333.2 236l-8-4.5-4 10.5 8.1 4.5zM1325.2 231.5l-8.1-4.5-4 10.4 8.1 4.6z"/>
<path fill="#fc9014" d="M1570.8 288.2l-4.2-.5-2.6 12.9 4.2 .6zM1561.6 274.2l-3.3-.2-2.5 12.7 3.3 .3zM1558.3 274l-3.2-.2-2.5 12.7 3.2 .2zM1555.1 273.8l-3.2-.3-2.6 12.6 3.3 .4zM1551.9 273.5l-3.5-.5-2.6 12.5 3.5 .6zM1510.1 312.7l-6.5-2.9-3.8 11.9 6.4 2.9zM1445.5 295.5l-7-3.5-4.1 11.2 7 3.5zM1438.5 292l-7-3.6-4.1 11.2 7 3.6zM1376.2 272.4l-7.7-4.2-4.3 10.6 7.6 4.2zM1368.5 268.2l-7.7-4.2-4.3 10.5 7.7 4.3z"/>
<path fill="#ff9814" d="M1560.1 300.1l-3.6-.4-3 12.7 3.7 .5zM1364.2 278.8l-7.7-4.3-4.7 10.5 7.7 4.3zM1356.5 274.5l-7.8-4.3-4.7 10.4 7.8 4.4zM1312.4 262.5l-8.1-4.7-4.9 10 8 4.7z"/>
<path fill="#f48814" d="M1562.7 248.5l-3.1 0-2.2 12.7 3.2 .1zM1321.2 242l-8.1-4.6-4.2 10.3 8.1 4.6z"/>
<path fill="#ffc420" d="M1528.5 347l-4-1.2-4.7 11.8 4.1 1.3zM1504.6 365.1l-6-2.7-5.5 11.3 5.9 2.8zM1486.9 370.7l-6.5-3.2-5.9 10.9 6.4 3.2zM1474.5 378.4l-6.5-3.3-6.4 10.6 6.5 3.4z"/>
<path fill="#fc9418" d="M1539 297l-4.6-1.4-3.2 12.3 4.7 1.5z"/>
<path fill="#ac640c" d="M1548.5 220.9l-5.4-1.6-1.9 12.5 5.3 1.6z"/>
<path fill="#ffc020" d="M1515.1 355.9l-5.4-2.3-5.1 11.5 5.4 2.4z"/>
<path fill="#98580c" d="M1546.6 194.3l-5.9-1.9-1.7 12.5 5.9 1.9zM1511.2 207.4l-6.7-2.7-2 12.2 6.8 2.7zM1432.6 186.3l-7.3-3.4-2.1 11.5 7.4 3.5z"/>
<path fill="#c87410" d="M1534.4 269l-5.9-2.2-2.7 12.2 6 2.3zM1506.5 270.9l-6.7-2.9-2.9 12 6.7 3z"/>
<path fill="#b0640c" d="M1533.2 242.1l-6.3-2.4-2.2 12.3 6.2 2.4zM1498.1 241l-6.7-2.9-2.5 11.9 6.8 3zM1491.4 238.1l-6.8-3-2.5 11.9 6.8 3zM1484.6 235.1l-6.9-3-2.4 11.9 6.8 3zM1477.7 232.1l-6.9-3.1-2.4 11.8 6.9 3.2zM1470.8 229l-6.9-3.1-2.4 11.8 6.9 3.1zM1403.5 209.9l-7.6-3.8-2.6 11.3 7.6 3.8zM1395.9 206.1l-7.7-3.8-2.6 11.2 7.7 3.9zM1388.2 202.3l-7.7-3.9-2.7 11.1 7.8 4zM1380.5 198.4l-7.9-4-2.6 11.1 7.8 4z"/>
<path fill="#884808" d="M1508 180.5l-6.7-2.7-1.8 12.1 6.8 2.7z"/>
<path fill="#bc6810" d="M1495.7 253l-6.8-3-2.7 12 6.8 3zM1488.9 250l-6.8-3-2.7 11.9 6.8 3.1zM1400.9 221.2l-7.6-3.8-2.9 11.1 7.6 3.9zM1393.3 217.4l-7.7-3.9-2.9 11.1 7.7 3.9zM1385.6 213.5l-7.8-4-2.8 11.1 7.7 4z"/>
<path fill="#a85c0c" d="M1486.8 223.2l-6.8-3-2.3 11.9 6.9 3zM1480 220.2l-6.9-3-2.3 11.8 6.9 3.1zM1398.3 194.9l-7.7-3.8-2.4 11.2 7.7 3.8zM1390.6 191.1l-7.7-3.9-2.4 11.2 7.7 3.9zM1382.9 187.2l-7.9-3.9-2.4 11.1 7.9 4z"/>
<path fill="#f08c14" d="M1469.9 294.1l-6.9-3.3-3.7 11.5 6.8 3.3z"/>
<path fill="#c46c10" d="M1451.8 246.1l-7-3.4-2.9 11.6 7 3.4zM1351.3 208.1l-8-4.2-3.1 10.7 8 4.4zM1343.3 203.9l-8.1-4.4-3.1 10.8 8.1 4.3z"/>
<path fill="#8c500c" d="M1436.4 163.2l-7.4-3.4-1.8 11.6 7.4 3.4zM1429 159.8l-7.5-3.3-1.8 11.5 7.5 3.4zM1421.5 156.5l-7.5-3.5-1.8 11.4 7.5 3.6z"/>
<path fill="#b4640c" d="M1425.8 220.9l-7.3-3.6-2.7 11.4 7.4 3.6zM1418.5 217.3l-7.5-3.7-2.6 11.4 7.4 3.7zM1411 213.6l-7.5-3.7-2.6 11.3 7.5 3.8z"/>
<path fill="#d87810" d="M1409.8 251.2l-7.4-3.8-3.4 11.2 7.4 3.8z"/>
<path fill="#ffa414" d="M1149.4 557.6l-6.4-5.4-9 7.4 6.4 5.4zM1140.4 565l-6.4-5.4-9 7.4 6.4 5.4zM1160.9 537.4l-6.6-5.3-8.9 7.4 6.6 5.3zM1152 544.8l-6.6-5.3-8.9 7.3 6.5 5.4zM1143 552.2l-6.5-5.4-9 7.4 6.5 5.4zM1134 559.6l-6.5-5.4-9 7.3 6.5 5.5zM1163.3 524.7l-6.7-5.3-8.9 7.3 6.6 5.4zM1154.3 532.1l-6.6-5.4-8.9 7.3 6.6 5.5zM1145.4 539.5l-6.6-5.5-9 7.3 6.7 5.5zM1136.5 546.8l-6.7-5.5-8.9 7.3 6.6 5.6zM1127.5 554.2l-6.6-5.6-8.9 7.3 6.5 5.6zM1174.3 504.6l-6.8-5.3-8.9 7.4 6.8 5.3zM1165.4 512l-6.8-5.3-8.8 7.3 6.8 5.4zM1156.6 519.4l-6.8-5.4-8.9 7.3 6.8 5.4zM1147.7 526.7l-6.8-5.4-8.9 7.2 6.8 5.5zM1138.8 534l-6.8-5.5-8.9 7.3 6.7 5.5zM1129.8 541.3l-6.7-5.5-8.9 7.2 6.7 5.6zM1120.9 548.6l-6.7-5.6-8.9 7.2 6.7 5.7zM1176.3 492l-7-5.4-8.8 7.3 7 5.4zM1167.5 499.3l-7-5.4-8.8 7.3 6.9 5.5zM1158.6 506.7l-6.9-5.5-8.8 7.3 6.9 5.5zM1149.8 514l-6.9-5.5-8.8 7.2 6.8 5.6zM1140.9 521.3l-6.8-5.6-8.9 7.2 6.8 5.6zM1132 528.5l-6.8-5.6-8.8 7.2 6.7 5.7zM1123.1 535.8l-6.7-5.7-8.9 7.2 6.7 5.7zM1114.2 543l-6.7-5.7-8.9 7.2 6.7 5.7zM1178.1 479.3l-7.1-5.4-8.7 7.3 7 5.4zM1169.3 486.6l-7-5.4-8.8 7.3 7 5.4zM1160.5 493.9l-7-5.4-8.7 7.2 6.9 5.5zM1151.7 501.2l-6.9-5.5-8.8 7.2 6.9 5.6zM1142.9 508.5l-6.9-5.6-8.8 7.2 6.9 5.6zM1134.1 515.7l-6.9-5.6-8.9 7.2 6.9 5.6zM1125.2 522.9l-6.9-5.6-8.8 7.1 6.9 5.7zM1116.4 530.1l-6.9-5.7-8.9 7.2 6.9 5.7zM1107.5 537.3l-6.9-5.7-8.8 7.1 6.8 5.8zM1179.7 466.6l-7.2-5.4-8.6 7.3 7.1 5.4zM1171 473.9l-7.1-5.4-8.7 7.3 7.1 5.4zM1162.3 481.2l-7.1-5.4-8.7 7.2 7 5.5zM1153.5 488.5l-7-5.5-8.8 7.2 7.1 5.5zM1144.8 495.7l-7.1-5.5-8.8 7.1 7.1 5.6zM1136 502.9l-7.1-5.6-8.7 7.2 7 5.6zM1127.2 510.1l-7-5.6-8.8 7.1 6.9 5.7zM1118.3 517.3l-6.9-5.7-8.9 7.1 7 5.7zM1109.5 524.4l-7-5.7-8.8 7 6.9 5.9zM1100.6 531.6l-6.9-5.9-8.9 7.1 7 5.9zM1172.5 461.2l-7.2-5.4-8.6 7.2 7.2 5.5zM1163.9 468.5l-7.2-5.5-8.7 7.2 7.2 5.6zM1155.2 475.8l-7.2-5.6-8.7 7.2 7.2 5.6zM1146.5 483l-7.2-5.6-8.7 7.1 7.1 5.7zM1137.7 490.2l-7.1-5.7-8.8 7.1 7.1 5.7zM1128.9 497.3l-7.1-5.7-8.7 7.1 7.1 5.8zM1120.2 504.5l-7.1-5.8-8.8 7.1 7.1 5.8zM1111.4 511.6l-7.1-5.8-8.8 7 7 5.9zM1102.5 518.7l-7-5.9-8.8 7.1 7 5.8zM1093.7 525.7l-7-5.8-8.8 7 6.9 5.9zM1173.9 448.5l-7.3-5.4-8.6 7.2 7.3 5.5zM1165.3 455.8l-7.3-5.5-8.6 7.2 7.3 5.5zM1156.7 463l-7.3-5.5-8.7 7.1 7.3 5.6zM1148 470.2l-7.3-5.6-8.6 7.2 7.2 5.6zM1139.3 477.4l-7.2-5.6-8.7 7 7.2 5.7zM1130.6 484.5l-7.2-5.7-8.7 7.1 7.1 5.7zM1121.8 491.6l-7.1-5.7-8.8 7 7.2 5.8zM1113.1 498.7l-7.2-5.8-8.7 7.1 7.1 5.8zM1104.3 505.8l-7.1-5.8-8.8 7 7.1 5.8zM1175.1 435.8l-7.4-5.5-8.5 7.3 7.4 5.5zM1166.6 443.1l-7.4-5.5-8.6 7.1 7.4 5.6zM1158 450.3l-7.4-5.6-8.6 7.2 7.4 5.6zM1149.4 457.5l-7.4-5.6-8.6 7.1 7.3 5.6zM1140.7 464.6l-7.3-5.6-8.6 7.1 7.3 5.7zM1132.1 471.8l-7.3-5.7-8.7 7 7.3 5.7zM1123.4 478.8l-7.3-5.7-8.7 7 7.3 5.8zM1114.7 485.9l-7.3-5.8-8.7 7 7.2 5.8zM1176.1 423l-7.5-5.4-8.4 7.2 7.5 5.5zM1167.7 430.3l-7.5-5.5-8.5 7.2 7.5 5.6zM1159.2 437.6l-7.5-5.6-8.5 7.1 7.4 5.6zM1150.6 444.7l-7.4-5.6-8.6 7.1 7.4 5.7zM1142 451.9l-7.4-5.7-8.6 7.1 7.4 5.7zM1133.4 459l-7.4-5.7-8.6 7 7.4 5.8zM1124.8 466.1l-7.4-5.8-8.6 7 7.3 5.8z"/>
<path fill="#8c4c0c" d="M1414 153l-7.7-3.5-1.7 11.4 7.6 3.5zM1406.3 149.5l-7.7-3.6-1.8 11.3 7.8 3.7zM1398.6 145.9l-7.8-3.7-1.7 11.3 7.7 3.7zM1390.8 142.2l-7.9-3.7-1.7 11.2 7.9 3.8zM1382.9 138.5l-7.9-3.8-1.8 11.2 8 3.8z"/>
<path fill="#e08010" d="M1368.5 242.5l-7.8-4.2-3.7 10.7 7.8 4.3z"/>
<path fill="#b0600c" d="M1372.6 194.4l-7.9-4.1-2.6 11.1 7.9 4.1zM1364.7 190.3l-8-4.1-2.6 11 8 4.2z"/>
<path fill="#8c4c08" d="M1375 134.7l-8-3.9-1.8 11.2 8 3.9z"/>
<path fill="#ffa014" d="M1095.5 512.8l-7.1-5.8-8.8 6.9 7.1 6zM1086.7 519.9l-7.1-6-8.8 7 7.1 6zM1105.9 492.9l-7.2-5.8-8.7 7 7.2 5.9zM1097.2 500l-7.2-5.9-8.8 6.9 7.2 6zM1088.4 507l-7.2-6-8.7 6.9 7.1 6zM1079.6 513.9l-7.1-6-8.8 7 7.1 6zM1116.1 473.1l-7.3-5.8-8.7 7 7.3 5.8zM1107.4 480.1l-7.3-5.8-8.7 6.9 7.3 5.9zM1098.7 487.1l-7.3-5.9-8.7 6.9 7.3 6zM1090 494.1l-7.3-6-8.7 6.9 7.2 6zM1081.2 501l-7.2-6-8.7 6.9 7.2 6zM1072.5 507.9l-7.2-6-8.8 6.9 7.2 6.1z"/>
<path fill="#b8680c" d="M1346.1 193l-8.1-4.3-2.8 10.8 8.1 4.4zM1338 188.7l-8.2-4.3-2.8 10.8 8.2 4.3z"/>
</g>
<g clip-path="url(#cpb)"><use href="#sfb" filter="url(#bl)"/></g>
<path class="ms" d="M1788.2 256l-2.2 18-2.1 16.6-2 15.3-1.8 14.1-1.8 13-1.7 12.1-1.6 11.1-1.5 10.3-1.5 9.5-1.4 8.9-1.4 8.2-1.3 7.7-1.3 7.1-1.3 6.7-1.2 6.2-1.2 5.9-1.2 5.4-1.2 5.2-1.2 4.8-1.2 4.6-1.2 4.3-1.2 4.1-1.2 3.8-1.3 3.7-1.2 3.5-1.3 3.4-1.2 3.3-1.3 3.1-1.4 3-1.4 2.9-1.4 2.9-1.4 2.7-1.5 2.8-1.5 2.6-1.6 2.7-1.6 2.6-1.7 2.6-1.7 2.5-1.8 2.6-1.9 2.6-1.9 2.6-2 2.6-2 2.7-2.2 2.7-2.2 2.7-2.3 2.8-2.4 2.8-2.5 2.9-2.6 3-2.7 3-2.8 3.2-2.9 3.2-3.1 3.3-3.1 3.5-3.3 3.5-3.5 3.7-3.5 3.8-3.8 3.9-3.8 4.1-4.1 4.2-4.2 4.4-4.4 4.6-4.6 4.8-4.8 4.9-5 5.2-5.3 5.3-5.4 5.6-5.7 5.9-6 6.1-6.2 6.3-6.5 6.6-6.9 7-7.1 7.2-7.4 7.6-7.8 7.9-8.2 8.3-8.6 8.6-9 9.1-9.4 9.5-9.8 10-10.4 10.5-10.8 10.9-11.5 11.6-11.9 12.1-12.6 12.7-13.3 13.3-13.9 14.1-14.7 14.8-15.5 15.6M1758.7 240.7l-2.1 17.8-1.9 16.3-1.8 15.1-1.8 13.9-1.6 12.8-1.6 11.9-1.5 11-1.5 10.2-1.4 9.5-1.3 8.8-1.3 8.2-1.3 7.6-1.3 7.2-1.2 6.6-1.2 6.2-1.2 5.9-1.2 5.5-1.2 5.1-1.2 4.8-1.1 4.6-1.2 4.3-1.2 4.1-1.2 3.9-1.3 3.8-1.2 3.5-1.3 3.4-1.3 3.3-1.3 3.1-1.4 3-1.3 3-1.5 2.9-1.4 2.8-1.5 2.7-1.6 2.7-1.6 2.6-1.6 2.7-1.7 2.6-1.8 2.6-1.8 2.6-1.9 2.5-1.9 2.7-2 2.6-2.1 2.6-2.2 2.7-2.3 2.8-2.3 2.7-2.4 2.9-2.6 2.9-2.6 2.9-2.7 3.1-2.9 3.1-2.9 3.2-3.1 3.3-3.2 3.4-3.3 3.5-3.5 3.6-3.6 3.8-3.8 3.9-3.9 4-4.1 4.2-4.2 4.4-4.4 4.5-4.7 4.6-4.8 4.9-5 5.1-5.3 5.3-5.5 5.4-5.7 5.8-6 5.9-6.2 6.3-6.5 6.5-6.9 6.7-7.1 7.1-7.5 7.4-7.8 7.7-8.1 8.1-8.6 8.5-8.9 8.8-9.4 9.3-9.8 9.7-10.3 10.1-10.8 10.7-11.3 11.2-11.9 11.7-12.5 12.3-13.2 13-13.8 13.6-14.5 14.3-15.3 15M1729.6 225.9l-1.9 17.3-1.8 16.1-1.7 14.8-1.6 13.7-1.5 12.7-1.5 11.7-1.5 10.9-1.3 10.1-1.4 9.4-1.3 8.8-1.2 8.1-1.3 7.6-1.2 7.1-1.2 6.7-1.2 6.2-1.1 5.8-1.2 5.5-1.2 5.2-1.2 4.8-1.1 4.6-1.2 4.4-1.2 4.1-1.2 3.9-1.3 3.8-1.2 3.6-1.3 3.4-1.3 3.3-1.4 3.1-1.3 3.1-1.4 3-1.5 2.9-1.4 2.8-1.6 2.8-1.5 2.7-1.7 2.7-1.6 2.6-1.8 2.7-1.8 2.6-1.8 2.6-1.9 2.6-2 2.6-2 2.7-2.2 2.6-2.2 2.7-2.3 2.8-2.4 2.7-2.4 2.9-2.6 2.9-2.6 2.9-2.8 3-2.9 3.2-3 3.1-3.1 3.3-3.2 3.4-3.4 3.5-3.5 3.6-3.6 3.7-3.8 3.9-4 4-4.1 4.1-4.3 4.3-4.4 4.4-4.7 4.6-4.8 4.8-5.1 5-5.3 5.2-5.5 5.4-5.7 5.6-6 5.9-6.3 6.1-6.5 6.3-6.8 6.6-7.1 6.9-7.5 7.3-7.8 7.5-8.1 7.9-8.5 8.2-8.9 8.6-9.3 9-9.8 9.5-10.2 9.8-10.8 10.4-11.2 10.8-11.8 11.4-12.4 11.9-13 12.5-13.6 13.1-14.4 13.9-15 14.5M1700.9 211.4l-1.8 17-1.6 15.7-1.6 14.5-1.5 13.5-1.5 12.5-1.3 11.5-1.4 10.8-1.3 10-1.3 9.3-1.2 8.7-1.2 8.1-1.2 7.6-1.2 7.1-1.2 6.6-1.2 6.2-1.1 5.9-1.2 5.5-1.2 5.1-1.1 4.9-1.2 4.7-1.2 4.4-1.2 4.1-1.2 4-1.3 3.8-1.3 3.6-1.3 3.5-1.3 3.3-1.3 3.2-1.4 3.1-1.5 3.1-1.4 2.9-1.5 2.9-1.6 2.8-1.6 2.7-1.6 2.7-1.7 2.7-1.8 2.7-1.8 2.6-1.9 2.7-2 2.6-2 2.7-2.1 2.6-2.1 2.7-2.3 2.7-2.3 2.8-2.4 2.8-2.5 2.8-2.6 2.9-2.8 3-2.8 3-2.9 3.1-3 3.2-3.1 3.3-3.3 3.3-3.4 3.5-3.6 3.6-3.6 3.7-3.9 3.8-4 4-4.1 4-4.3 4.3-4.5 4.4-4.7 4.5-4.9 4.7-5 4.9-5.3 5.1-5.5 5.3-5.8 5.5-6 5.8-6.2 5.9-6.6 6.2-6.8 6.5-7.1 6.8-7.4 7-7.8 7.4-8.1 7.6-8.4 8-8.9 8.4-9.2 8.8-9.7 9.1-10.1 9.6-10.6 10-11.2 10.4-11.6 11-12.2 11.5-12.8 12.1-13.5 12.6-14.1 13.3-14.8 14M1672.3 197.5l-1.6 16.5-1.5 15.3-1.4 14.2-1.5 13.1-1.3 12.3-1.3 11.3-1.3 10.6-1.3 9.9-1.2 9.2-1.2 8.6-1.2 8.1-1.2 7.5-1.1 7.1-1.2 6.6-1.2 6.3-1.1 5.8-1.2 5.5-1.1 5.3-1.2 4.9-1.2 4.7-1.2 4.4-1.2 4.2-1.3 4.1-1.3 3.8-1.3 3.7-1.3 3.5-1.3 3.4-1.4 3.3-1.5 3.2-1.4 3.1-1.5 3-1.6 2.9-1.6 2.9-1.6 2.8-1.7 2.8-1.8 2.8-1.8 2.7-1.8 2.7-2 2.7-2 2.7-2 2.7-2.2 2.7-2.2 2.7-2.3 2.8-2.4 2.7-2.4 2.9-2.6 2.8-2.6 3-2.8 2.9-2.8 3.1-3 3.1-3.1 3.2-3.2 3.3-3.3 3.3-3.4 3.5-3.6 3.6-3.7 3.7-3.9 3.7-4 4-4.2 4-4.4 4.2-4.5 4.3-4.7 4.5-4.9 4.7-5.1 4.8-5.3 5-5.5 5.2-5.7 5.4-6 5.6-6.3 5.9-6.5 6.1-6.8 6.3-7 6.6-7.4 6.8-7.7 7.2-8 7.4-8.4 7.8-8.8 8.1-9.1 8.4-9.6 8.9-10 9.2-10.4 9.7-10.9 10-11.5 10.6-12 11-12.5 11.6-13.1 12.1-13.8 12.7-14.5 13.3M1643.6 184.4l-1.5 15.8-1.4 14.7-1.4 13.7-1.3 12.8-1.3 11.9-1.3 11.1-1.2 10.4-1.2 9.7-1.2 9.1-1.2 8.5-1.2 8-1.1 7.5-1.2 7-1.2 6.7-1.1 6.2-1.2 5.9-1.2 5.6-1.2 5.3-1.2 5-1.2 4.8-1.3 4.5-1.2 4.3-1.3 4.2-1.3 3.9-1.4 3.8-1.3 3.7-1.5 3.5-1.4 3.4-1.5 3.3-1.5 3.2-1.6 3.1-1.6 3-1.6 3-1.7 3-1.8 2.8-1.8 2.9-1.9 2.8-1.9 2.8-2 2.8-2.1 2.8-2.1 2.8-2.3 2.8-2.2 2.8-2.4 2.8-2.5 2.9-2.5 2.9-2.6 2.9-2.7 3-2.9 3-2.9 3.1-3 3.2-3.1 3.2-3.3 3.3-3.4 3.4-3.5 3.5-3.6 3.6-3.8 3.7-3.9 3.7-4 4-4.3 4-4.3 4.1-4.6 4.3-4.7 4.5-4.9 4.6-5.1 4.7-5.3 5-5.5 5.1-5.8 5.3-5.9 5.5-6.2 5.7-6.5 5.9-6.7 6.1-7 6.4-7.3 6.7-7.6 6.9-7.9 7.2-8.2 7.5-8.6 7.8-9 8.1-9.3 8.5-9.8 8.8-10.2 9.2-10.6 9.6-11.1 10-11.6 10.5-12.2 11-12.7 11.4-13.2 12-13.9 12.5M1613 173.2l-1.4 14.7-1.3 13.8-1.3 12.9-1.3 12.1-1.2 11.3-1.3 10.6-1.2 10-1.2 9.4-1.2 8.9-1.2 8.3-1.2 7.9-1.2 7.5-1.2 7-1.2 6.7-1.3 6.3-1.2 6-1.3 5.7-1.2 5.4-1.3 5.1-1.3 5-1.4 4.7-1.3 4.5-1.4 4.3-1.4 4.2-1.5 4-1.5 3.9-1.5 3.7-1.5 3.7-1.6 3.5-1.7 3.4-1.7 3.4-1.7 3.2-1.8 3.3-1.8 3.1-1.9 3.1-1.9 3.1-2 3-2.1 3-2.1 3-2.2 3-2.3 3-2.3 3-2.4 3-2.5 3-2.5 3-2.7 3.1-2.7 3.1-2.9 3.1-2.9 3.2-3 3.2-3.1 3.3-3.3 3.3-3.3 3.4-3.5 3.5-3.6 3.6-3.7 3.6-3.8 3.8-4 3.8-4.1 4-4.2 4-4.4 4.2-4.6 4.3-4.7 4.4-4.9 4.5-5.1 4.7-5.3 4.9-5.5 5-5.6 5.2-5.9 5.3-6.1 5.5-6.3 5.8-6.6 5.9-6.8 6.1-7.1 6.4-7.3 6.6-7.7 6.8-7.9 7.1-8.2 7.4-8.6 7.6-8.9 7.9-9.3 8.3-9.7 8.6-10 8.9-10.5 9.3-10.9 9.6-11.3 10.1-11.9 10.4-12.3 11-12.9 11.3M1570.3 171.8l-1.4 11.9-1.3 11.3-1.4 10.8-1.3 10.3-1.4 9.8-1.4 9.4-1.3 8.9-1.4 8.6-1.4 8.2-1.4 7.8-1.4 7.5-1.4 7.1-1.4 6.9-1.5 6.6-1.4 6.4-1.5 6.1-1.6 5.9-1.5 5.7-1.6 5.5-1.5 5.3-1.7 5.1-1.6 5-1.7 4.8-1.7 4.7-1.8 4.6-1.7 4.4-1.9 4.3-1.8 4.3-1.9 4.1-2 4-2 4-2 3.9-2.1 3.8-2.1 3.8-2.2 3.8-2.2 3.6-2.3 3.7-2.4 3.6-2.4 3.6-2.4 3.6-2.6 3.5-2.6 3.6-2.6 3.5-2.8 3.5-2.8 3.6-2.8 3.5-3 3.6-3 3.6-3.1 3.6-3.2 3.6-3.3 3.7-3.4 3.7-3.4 3.7-3.6 3.8-3.7 3.9-3.7 3.9-3.9 3.9-4 4.1-4.1 4.1-4.2 4.1-4.3 4.3-4.4 4.3-4.6 4.4-4.7 4.5-4.9 4.6-5 4.7-5.1 4.8-5.3 5-5.4 5-5.7 5.2-5.7 5.3-6 5.4-6.1 5.6-6.3 5.7-6.5 5.9-6.8 6-6.9 6.2-7.1 6.4-7.4 6.6-7.6 6.7-7.8 7-8.1 7.1-8.3 7.4-8.7 7.6-8.9 7.8-9.2 8.1-9.5 8.3-9.8 8.6-10.1 8.9M1535.2 164.7l-1.3 10.8-1.3 10.4-1.4 10-1.4 9.5-1.3 9.2-1.4 8.8-1.4 8.4-1.4 8.1-1.4 7.8-1.5 7.5-1.4 7.2-1.5 7-1.5 6.7-1.5 6.5-1.6 6.2-1.5 6.1-1.6 5.9-1.6 5.7-1.7 5.5-1.7 5.3-1.7 5.2-1.7 5.1-1.8 4.9-1.8 4.8-1.8 4.7-1.9 4.5-1.9 4.5-1.9 4.4-2 4.3-2.1 4.2-2 4.1-2.1 4.1-2.2 4-2.2 4-2.3 3.9-2.3 3.8-2.4 3.9-2.4 3.8-2.5 3.7-2.5 3.8-2.6 3.7-2.7 3.7-2.7 3.7-2.8 3.6-2.8 3.7-2.9 3.7-3 3.7-3.1 3.7-3.1 3.7-3.2 3.8-3.3 3.7-3.4 3.8-3.4 3.8-3.6 3.9-3.6 3.9-3.7 3.9-3.8 4-4 4-4 4.1-4.1 4.1-4.2 4.2-4.4 4.3-4.4 4.3-4.6 4.5-4.7 4.4-4.8 4.6-4.9 4.7-5.1 4.7-5.2 4.9-5.3 4.9-5.5 5.1-5.7 5.1-5.8 5.3-5.9 5.4-6.2 5.5-6.2 5.6-6.5 5.8-6.7 5.9-6.8 6.1-7 6.2-7.3 6.4-7.4 6.5-7.7 6.7-7.8 6.9-8.1 7.1-8.4 7.3-8.6 7.4-8.8 7.7-9.2 7.9M1505.6 154l-1.3 10.4-1.3 10-1.4 9.5-1.3 9.2-1.3 8.9-1.4 8.5-1.4 8.1-1.4 7.9-1.4 7.6-1.4 7.3-1.5 7.1-1.5 6.8-1.5 6.6-1.5 6.4-1.5 6.2-1.6 6-1.6 5.8-1.6 5.7-1.7 5.4-1.7 5.4-1.7 5.2-1.8 5-1.7 4.9-1.9 4.8-1.8 4.7-1.9 4.6-1.9 4.5-2 4.4-2 4.3-2.1 4.3-2.1 4.2-2.1 4.1-2.2 4-2.2 4-2.3 3.9-2.4 3.9-2.4 3.9-2.4 3.8-2.5 3.8-2.5 3.8-2.6 3.7-2.7 3.8-2.7 3.7-2.8 3.7-2.9 3.7-2.9 3.7-3 3.7-3 3.7-3.2 3.7-3.2 3.8-3.3 3.7-3.3 3.8-3.5 3.8-3.5 3.9-3.6 3.8-3.7 3.9-3.8 4-3.8 4-4 4-4.1 4.1-4.2 4.1-4.2 4.2-4.4 4.3-4.5 4.3-4.6 4.4-4.8 4.5-4.8 4.5-5 4.7-5.1 4.7-5.2 4.8-5.4 4.9-5.5 5-5.6 5-5.8 5.2-5.9 5.4-6.2 5.4-6.2 5.5-6.5 5.7-6.6 5.8-6.8 5.9-6.9 6.1-7.2 6.2-7.4 6.4-7.5 6.5-7.8 6.7-8 6.9-8.2 7-8.5 7.2-8.7 7.5M1477 143l-1.3 10-1.2 9.6-1.3 9.3-1.3 8.9-1.4 8.5-1.3 8.3-1.4 8-1.3 7.7-1.4 7.4-1.5 7.2-1.4 6.9-1.5 6.7-1.5 6.5-1.5 6.3-1.5 6.1-1.6 5.9-1.6 5.8-1.7 5.6-1.6 5.4-1.7 5.3-1.7 5.2-1.8 5-1.8 4.9-1.8 4.8-1.9 4.7-1.9 4.6-1.9 4.5-2 4.4-2 4.3-2.1 4.2-2.1 4.2-2.2 4.2-2.2 4-2.2 4-2.3 4-2.3 3.9-2.4 3.9-2.5 3.8-2.5 3.8-2.5 3.8-2.6 3.7-2.7 3.8-2.7 3.7-2.8 3.7-2.9 3.7-2.9 3.7-3 3.7-3 3.8-3.2 3.7-3.2 3.7-3.2 3.7-3.4 3.8-3.4 3.8-3.5 3.8-3.6 3.8-3.6 3.9-3.8 3.9-3.8 3.9-4 4-4 4.1-4.1 4-4.2 4.2-4.4 4.2-4.4 4.2-4.5 4.3-4.7 4.4-4.7 4.4-4.9 4.5-5 4.6-5.1 4.7-5.3 4.7-5.4 4.9-5.5 4.9-5.7 5.1-5.8 5.1-5.9 5.2-6.1 5.4-6.3 5.4-6.4 5.6-6.6 5.7-6.8 5.8-6.9 6-7.2 6.1-7.3 6.2-7.5 6.4-7.7 6.5-7.9 6.7-8.2 6.9-8.3 7M1449.4 131.8l-1.2 9.6-1.3 9.4-1.2 8.9-1.3 8.7-1.3 8.4-1.3 8-1.3 7.8-1.4 7.5-1.4 7.3-1.4 7-1.4 6.8-1.5 6.6-1.5 6.4-1.5 6.2-1.5 6.1-1.6 5.8-1.6 5.7-1.6 5.6-1.7 5.3-1.7 5.3-1.7 5.1-1.8 5-1.8 4.9-1.8 4.8-1.9 4.6-1.9 4.6-1.9 4.5-2 4.4-2 4.3-2.1 4.3-2.1 4.1-2.2 4.2-2.2 4-2.2 4-2.3 4-2.4 3.9-2.4 3.9-2.4 3.8-2.5 3.8-2.6 3.8-2.6 3.8-2.6 3.7-2.8 3.7-2.8 3.7-2.8 3.7-2.9 3.7-3 3.7-3 3.7-3.1 3.7-3.2 3.7-3.3 3.7-3.3 3.8-3.4 3.7-3.5 3.8-3.5 3.8-3.7 3.8-3.7 3.9-3.8 3.9-3.9 3.9-4 4-4 4-4.2 4-4.3 4.2-4.4 4.1-4.4 4.2-4.6 4.3-4.7 4.4-4.8 4.4-4.9 4.5-5.1 4.5-5.1 4.6-5.3 4.8-5.4 4.7-5.6 4.9-5.7 5-5.8 5.1-6 5.1-6.1 5.3-6.2 5.4-6.5 5.5-6.6 5.6-6.7 5.7-7 5.9-7.1 6-7.3 6.1-7.5 6.2-7.7 6.4-7.8 6.6-8.1 6.7M1422.7 120.4l-1.2 9.4-1.2 9-1.2 8.8-1.3 8.4-1.2 8.2-1.3 7.9-1.3 7.6-1.4 7.4-1.4 7.1-1.3 6.9-1.5 6.7-1.4 6.5-1.5 6.3-1.5 6.2-1.5 5.9-1.6 5.8-1.6 5.6-1.6 5.5-1.7 5.3-1.6 5.2-1.8 5.1-1.7 5-1.8 4.8-1.8 4.8-1.9 4.6-1.9 4.6-2 4.5-1.9 4.3-2.1 4.3-2 4.3-2.2 4.1-2.1 4.1-2.2 4.1-2.3 4-2.3 3.9-2.3 3.9-2.4 3.9-2.4 3.8-2.5 3.8-2.6 3.8-2.6 3.7-2.6 3.8-2.8 3.7-2.7 3.7-2.9 3.6-2.9 3.7-2.9 3.7-3.1 3.7-3.1 3.6-3.1 3.7-3.3 3.7-3.3 3.7-3.3 3.7-3.5 3.8-3.5 3.7-3.6 3.8-3.7 3.8-3.8 3.9-3.8 3.8-4 4-4 3.9-4.2 4-4.2 4-4.3 4.1-4.4 4.2-4.6 4.2-4.6 4.2-4.7 4.3-4.9 4.4-4.9 4.5-5.1 4.5-5.2 4.6-5.3 4.6-5.5 4.8-5.6 4.8-5.7 4.9-5.8 5.1-6 5.1-6.2 5.2-6.3 5.3-6.4 5.4-6.6 5.5-6.8 5.7-7 5.7-7.1 5.9-7.3 6-7.5 6.2-7.6 6.3-7.9 6.4M1396.8 108.9l-1.2 9.1-1.1 8.9-1.2 8.6-1.3 8.2-1.2 8-1.3 7.7-1.3 7.5-1.3 7.3-1.3 7-1.4 6.8-1.4 6.6-1.4 6.4-1.5 6.2-1.5 6-1.5 5.9-1.6 5.7-1.5 5.6-1.7 5.4-1.6 5.3-1.7 5.2-1.7 5-1.7 4.9-1.8 4.9-1.9 4.7-1.8 4.6-1.9 4.5-2 4.4-1.9 4.4-2.1 4.3-2 4.2-2.1 4.2-2.2 4-2.2 4.1-2.2 4-2.3 3.9-2.4 3.9-2.3 3.8-2.5 3.8-2.5 3.8-2.5 3.8-2.6 3.7-2.7 3.7-2.7 3.7-2.7 3.6-2.9 3.7-2.8 3.7-3 3.6-3 3.6-3.1 3.7-3.1 3.6-3.3 3.7-3.2 3.7-3.4 3.7-3.4 3.7-3.5 3.7-3.6 3.7-3.7 3.8-3.7 3.8-3.8 3.8-4 3.8-4 3.9-4 4-4.2 3.9-4.3 4-4.4 4.1-4.4 4.1-4.6 4.2-4.7 4.2-4.8 4.3-4.9 4.4-5 4.4-5.1 4.4-5.3 4.6-5.3 4.6-5.5 4.7-5.6 4.8-5.8 4.9-5.9 5-6 5-6.2 5.2-6.3 5.2-6.5 5.4-6.6 5.4-6.8 5.6-7 5.7-7.2 5.8-7.3 5.9-7.5 6.1-7.7 6.2M1371.6 97.4l-1.2 8.9-1.1 8.7-1.2 8.4-1.2 8.1-1.2 7.8-1.2 7.6-1.3 7.4-1.3 7.1-1.3 6.9-1.4 6.7-1.4 6.5-1.4 6.3-1.4 6.1-1.5 6-1.5 5.8-1.5 5.7-1.6 5.5-1.6 5.3-1.6 5.3-1.7 5.1-1.7 5-1.8 4.9-1.7 4.7-1.8 4.7-1.9 4.6-1.9 4.5-1.9 4.4-2 4.3-2 4.3-2.1 4.2-2.1 4.1-2.1 4.1-2.2 4-2.2 3.9-2.3 4-2.4 3.8-2.3 3.8-2.5 3.8-2.5 3.8-2.5 3.7-2.6 3.7-2.6 3.7-2.7 3.7-2.8 3.6-2.8 3.7-2.9 3.6-2.9 3.6-3 3.6-3.1 3.6-3.1 3.6-3.2 3.7-3.2 3.6-3.4 3.6-3.4 3.7-3.5 3.7-3.5 3.7-3.7 3.7-3.7 3.7-3.8 3.8-3.9 3.8-3.9 3.8-4.1 3.9-4.1 3.9-4.2 3.9-4.4 4-4.4 4.1-4.5 4-4.6 4.2-4.8 4.2-4.8 4.2-5 4.4-5 4.3-5.2 4.5-5.3 4.5-5.4 4.6-5.5 4.7-5.7 4.7-5.8 4.8-5.9 4.9-6.1 5-6.2 5.1-6.4 5.2-6.5 5.3-6.7 5.4-6.8 5.5-7 5.7-7.2 5.7-7.4 5.8-7.5 6M1790 450.7l-3.8-3-3.7-3-3.7-2.9-3.7-3-3.7-3-3.6-3-3.7-3-3.7-3-3.6-3-3.7-3-3.6-3.1-3.6-3.1-3.6-3-3.6-3.1-3.6-3.2-3.6-3.1-3.6-3.2-3.6-3.2-3.5-3.2-3.6-3.2-3.5-3.3-3.5-3.4-3.5-3.3-3.6-3.5-3.4-3.4-3.5-3.6-3.5-3.5-3.5-3.7-3.4-3.7-3.5-3.9-3.4-3.9-3.4-4-3.4-4.1-3.4-4.3-3.4-4.4-3.3-4.6-3.4-4.8-3.3-5-3.3-5.2-3.3-5.6-3.2-5.8-3.3-6.3-3.2-6.7-3.2-7.2-3.1-7.8-3.1-8.6-3.1-9.6-3-10.6-2.9-12.1-2.8-14.1-2.8-16.9-2.5-20.7-.9-8.9M1766.4 512.9l-3.7-2.5-3.8-2.6-3.7-2.5-3.7-2.5-3.7-2.5-3.7-2.6-3.7-2.5-3.6-2.5-3.7-2.5-3.7-2.5-3.6-2.5-3.6-2.5-3.7-2.5-3.6-2.5-3.6-2.5-3.6-2.5-3.6-2.6-3.6-2.5-3.6-2.5-3.5-2.5-3.6-2.5-3.5-2.5-3.6-2.6-3.5-2.5-3.5-2.6-3.5-2.5-3.5-2.6-3.5-2.6-3.5-2.6-3.5-2.6-3.4-2.6-3.5-2.7-3.4-2.6-3.5-2.7-3.4-2.8-3.4-2.7-3.4-2.9-3.4-2.8-3.4-2.9-3.4-3-3.4-3-3.3-3.2-3.4-3.2-3.3-3.4-3.3-3.5-3.3-3.6-3.3-3.9-3.3-4.1-3.2-4.5-3.2-4.9-3.2-5.5-3.2-6.4-3.1-7.6-3-9.5-2.9-12.1-2.8-16.3-2.6-21.1-2.4-25.6-2.3-31-2.2-34.3-2.6-26.1-.6-4.9M1746.4 540.5l-3.8-2.5-3.7-2.5-3.7-2.5-3.8-2.5-3.7-2.5-3.7-2.4-3.7-2.5-3.7-2.5-3.6-2.4-3.7-2.5-3.7-2.4-3.6-2.5-3.7-2.4-3.6-2.4-3.6-2.5-3.6-2.4-3.6-2.4-3.6-2.5-3.6-2.4-3.6-2.4-3.6-2.5-3.5-2.4-3.6-2.4-3.5-2.4-3.5-2.4-3.6-2.5-3.5-2.4-3.5-2.4-3.5-2.4-3.5-2.5-3.5-2.4-3.4-2.5-3.5-2.4-3.4-2.5-3.5-2.5-3.4-2.4-3.4-2.5-3.5-2.6-3.4-2.5-3.4-2.6-3.4-2.5-3.3-2.7-3.4-2.6-3.4-2.8-3.3-2.7-3.4-2.9-3.3-2.9-3.3-3.1-3.3-3.2-3.3-3.4-3.3-3.6-3.3-4-3.2-4.6-3.2-5.3-3.1-6.5-3.1-8.3-3.1-10.4-2.9-12.2-2.9-14.4-2.9-15.7-3.1-12.1-3.1-9-3.2-7.4-3.2-6.5-3.2-6.1-3.2-5.9-3.2-5.7-3.2-5.6-3.3-5.4-3.2-5.5-3.2-5.3-3.2-5.3-3.3-5.3-3.2-5.2-3.2-5.2-3.2-5.2-3.2-5.1-3.3-5.1-3.2-5.1-3.2-5-3.2-5-3.2-5-3.2-4.9-3.2-4.9-3.2-4.8-3.2-4.8-3.2-4.7-3.2-4.7-3.2-4.7-3.2-4.6-3.2-4.6-3.2-4.5-3.2-4.5-3.2-4.5-3.2-4.4-3.1-4.4-3.2-4.3-3.2-4.4-3.2-4.2-3.1-4.2M1726.6 563.4l-3.8-2.5-3.8-2.5-3.7-2.5-3.8-2.5-3.7-2.5-3.7-2.5-3.7-2.5-3.7-2.5-3.7-2.5-3.7-2.4-3.7-2.5-3.6-2.5-3.7-2.4-3.6-2.5-3.7-2.4-3.6-2.4-3.6-2.5-3.6-2.4-3.6-2.4-3.6-2.5-3.6-2.4-3.5-2.4-3.6-2.4-3.6-2.4-3.5-2.4-3.5-2.4-3.6-2.4-3.5-2.5-3.5-2.4-3.5-2.4-3.5-2.4-3.5-2.4-3.4-2.4-3.5-2.4-3.5-2.4-3.4-2.4-3.5-2.4-3.4-2.5-3.4-2.4-3.4-2.5-3.4-2.4-3.4-2.5-3.4-2.5-3.4-2.5-3.4-2.6-3.3-2.6-3.4-2.6-3.3-2.7-3.3-2.8-3.4-2.9-3.3-3-3.3-3.3-3.2-3.5-3.3-4-3.2-4.6-3.2-5.6-3.2-6.8-3.2-7.8-3.1-8.9-3.1-9.7-3.1-7.7-3.2-5.9-3.3-5.1-3.2-4.5-3.2-4.3-3.3-4.2-3.2-4.1-3.2-4.1-3.2-3.9-3.3-4-3.2-3.9-3.2-3.8-3.2-3.9-3.2-3.8-3.2-3.8-3.2-3.7-3.2-3.8-3.2-3.7-3.2-3.7-3.1-3.7-3.2-3.7-3.2-3.6-3.2-3.6-3.1-3.6-3.2-3.6-3.1-3.5-3.2-3.5-3.1-3.5-3.2-3.5-3.1-3.4-3.1-3.4-3.1-3.4-3.2-3.3-3.1-3.4-3.1-3.3-3.1-3.2-3.1-3.3-3.1-3.2-3.1-3.3-3.1-3.2-3-3.1-3.1-3.2-3.1-3.1-3-3.1-3.1-3.1-3.1-3.1-3-3-3.1-3.1-3-3-3-3-3-3-3.1-2.9-3-3-3-2.9-3-2.9-3-2.9-3-2.9-3-2.9-3-2.8M1706.5 585.3l-3.8-2.6-3.8-2.5-3.8-2.6-3.7-2.5-3.8-2.6-3.7-2.5-3.7-2.5-3.7-2.5-3.7-2.5-3.7-2.5-3.7-2.5-3.7-2.5-3.6-2.5-3.7-2.5-3.7-2.5-3.6-2.4-3.6-2.5-3.6-2.5-3.7-2.4-3.6-2.5-3.5-2.4-3.6-2.5-3.6-2.4-3.6-2.4-3.5-2.5-3.6-2.4-3.5-2.4-3.5-2.4-3.6-2.4-3.5-2.5-3.5-2.4-3.5-2.4-3.5-2.4-3.4-2.4-3.5-2.4-3.5-2.4-3.4-2.4-3.5-2.5-3.4-2.4-3.4-2.4-3.4-2.4-3.4-2.5-3.4-2.4-3.4-2.5-3.4-2.5-3.4-2.5-3.3-2.5-3.4-2.6-3.3-2.6-3.4-2.7-3.3-2.7-3.3-2.9-3.3-3.1-3.3-3.4-3.3-3.8-3.2-4.4-3.3-5.2-3.2-5.7-3.2-6.6-3.2-7-3.2-5.7-3.3-4.6-3.2-4-3.2-3.7-3.3-3.5-3.2-3.5-3.3-3.4-3.2-3.4-3.2-3.3-3.2-3.3-3.2-3.3-3.3-3.2-3.2-3.3-3.2-3.2-3.1-3.2-3.2-3.2-3.2-3.1-3.2-3.2-3.2-3.1-3.1-3.1-3.2-3.1-3.1-3.1-3.2-3.1-3.1-3-3.2-3.1-3.1-3-3.1-3-3.1-2.9-3.2-3-3.1-2.9-3.1-3-3.1-2.9-3.1-2.8-3-2.9-3.1-2.9-3.1-2.8-3.1-2.8-3-2.8-3.1-2.8-3-2.8-3.1-2.7-3-2.7-3-2.8-3.1-2.7-3-2.7-3-2.7-3-2.6-3-2.7-3-2.6-3-2.6-3-2.7-3-2.6-2.9-2.5-3-2.6-3-2.6-2.9-2.5-3-2.6-2.9-2.5-3-2.5M1686 607l-3.8-2.6-3.8-2.6-3.8-2.6-3.7-2.6-3.8-2.5-3.7-2.6-3.8-2.6-3.7-2.5-3.7-2.6-3.7-2.5-3.7-2.6-3.7-2.5-3.7-2.5-3.7-2.6-3.6-2.5-3.7-2.5-3.6-2.5-3.6-2.5-3.7-2.5-3.6-2.5-3.6-2.5-3.6-2.5-3.6-2.4-3.5-2.5-3.6-2.5-3.6-2.4-3.5-2.5-3.6-2.4-3.5-2.5-3.5-2.4-3.5-2.5-3.5-2.4-3.5-2.4-3.5-2.5-3.5-2.4-3.5-2.4-3.4-2.5-3.5-2.4-3.4-2.4-3.4-2.5-3.5-2.4-3.4-2.4-3.4-2.5-3.4-2.4-3.4-2.5-3.4-2.5-3.3-2.5-3.4-2.5-3.4-2.5-3.3-2.6-3.4-2.7-3.3-2.7-3.3-2.9-3.3-3.1-3.3-3.3-3.3-3.8-3.3-4.3-3.2-4.7-3.3-5.3-3.2-5.5-3.3-4.7-3.2-3.9-3.3-3.5-3.2-3.3-3.3-3.1-3.2-3.2-3.3-3-3.2-3.1-3.2-3-3.3-2.9-3.2-3-3.2-2.9-3.2-3-3.2-2.9-3.2-2.9-3.2-2.9-3.1-2.9-3.2-2.8-3.2-2.9-3.1-2.8-3.2-2.8-3.1-2.9-3.2-2.7-3.1-2.8-3.1-2.8-3.1-2.8-3.2-2.7-3.1-2.7-3.1-2.7-3.1-2.7-3-2.7-3.1-2.7-3.1-2.6-3.1-2.7-3-2.6-3.1-2.6-3-2.6-3.1-2.6-3-2.6-3.1-2.5-3-2.6-3-2.5-3-2.6-3-2.5-3-2.5-3-2.5-3-2.5-3-2.4-3-2.5-2.9-2.4-3-2.5-3-2.4-2.9-2.4-3-2.4-2.9-2.4-2.9-2.4-3-2.4-2.9-2.4-2.9-2.3M1665.1 628.9l-3.8-2.6-3.8-2.7-3.8-2.6-3.8-2.6-3.7-2.7-3.8-2.6-3.8-2.6-3.7-2.6-3.7-2.6-3.7-2.6-3.8-2.6-3.7-2.6-3.6-2.6-3.7-2.5-3.7-2.6-3.7-2.6-3.6-2.5-3.7-2.6-3.6-2.5-3.6-2.5-3.6-2.6-3.6-2.5-3.6-2.5-3.6-2.5-3.6-2.5-3.6-2.5-3.5-2.5-3.6-2.5-3.5-2.5-3.6-2.5-3.5-2.5-3.5-2.5-3.5-2.4-3.5-2.5-3.5-2.5-3.5-2.4-3.4-2.5-3.5-2.4-3.4-2.5-3.5-2.5-3.4-2.4-3.4-2.5-3.5-2.4-3.4-2.5-3.4-2.5-3.4-2.4-3.4-2.5-3.3-2.5-3.4-2.6-3.3-2.5-3.4-2.6-3.3-2.7-3.4-2.8-3.3-2.9-3.3-3.1-3.3-3.4-3.3-3.8-3.3-4.1-3.3-4.5-3.2-4.7-3.3-4.1-3.3-3.5-3.3-3.2-3.2-3-3.3-3-3.2-2.9-3.3-2.9-3.2-2.8-3.2-2.9-3.3-2.8-3.2-2.8-3.2-2.8-3.2-2.7-3.2-2.8-3.2-2.7-3.1-2.8-3.2-2.7-3.2-2.7-3.2-2.7-3.1-2.7-3.2-2.7-3.1-2.6-3.1-2.7-3.2-2.6-3.1-2.7-3.1-2.6-3.1-2.6-3.1-2.6-3.1-2.6-3.1-2.5-3.1-2.6-3.1-2.5-3-2.6-3.1-2.5-3-2.5-3.1-2.5-3-2.5-3.1-2.5-3-2.5-3-2.4-3-2.5-3-2.4-3-2.4-3-2.5-3-2.4-3-2.4-3-2.4-3-2.3-2.9-2.4-3-2.4-2.9-2.3-3-2.4-2.9-2.3-2.9-2.3-3-2.3-2.9-2.4-2.9-2.3-2.9-2.2-2.9-2.3M1643.8 651.2l-3.9-2.7-3.8-2.7-3.8-2.7-3.8-2.7-3.8-2.7-3.7-2.7-3.8-2.6-3.7-2.7-3.8-2.6-3.7-2.7-3.7-2.6-3.7-2.7-3.7-2.6-3.7-2.6-3.7-2.6-3.7-2.7-3.7-2.6-3.6-2.6-3.7-2.5-3.6-2.6-3.6-2.6-3.6-2.6-3.6-2.5-3.6-2.6-3.6-2.6-3.6-2.5-3.6-2.6-3.5-2.5-3.6-2.5-3.5-2.6-3.6-2.5-3.5-2.5-3.5-2.5-3.5-2.5-3.5-2.5-3.5-2.5-3.5-2.5-3.4-2.5-3.5-2.5-3.5-2.5-3.4-2.5-3.4-2.5-3.5-2.5-3.4-2.5-3.4-2.5-3.4-2.5-3.4-2.5-3.4-2.5-3.3-2.5-3.4-2.6-3.4-2.6-3.3-2.6-3.4-2.7-3.3-2.8-3.3-3-3.3-3.2-3.3-3.5-3.3-3.7-3.3-4.1-3.3-4.2-3.3-3.7-3.3-3.2-3.3-3.1-3.3-2.9-3.2-2.8-3.3-2.8-3.2-2.8-3.3-2.7-3.2-2.8-3.2-2.7-3.2-2.7-3.2-2.7-3.2-2.6-3.2-2.7-3.2-2.7-3.2-2.6-3.2-2.7-3.2-2.6-3.1-2.6-3.2-2.6-3.1-2.6-3.2-2.6-3.1-2.6-3.1-2.6-3.1-2.5-3.2-2.6-3.1-2.5-3.1-2.5-3-2.6-3.1-2.5-3.1-2.5-3.1-2.4-3-2.5-3.1-2.5-3.1-2.4-3-2.5-3-2.4-3.1-2.4-3-2.5-3-2.4-3-2.4-3-2.4-3-2.3-3-2.4-3-2.4-3-2.3-2.9-2.4-3-2.3-3-2.3-2.9-2.4-2.9-2.3-3-2.3-2.9-2.3-2.9-2.3-2.9-2.2-3-2.3-2.9-2.3-2.9-2.2-2.9-2.3M1622 673.9l-3.9-2.8-3.8-2.7-3.8-2.8-3.8-2.7-3.8-2.8-3.8-2.7-3.8-2.8-3.7-2.7-3.8-2.7-3.7-2.7-3.8-2.7-3.7-2.7-3.7-2.7-3.7-2.6-3.7-2.7-3.7-2.7-3.7-2.6-3.6-2.7-3.7-2.6-3.6-2.7-3.7-2.6-3.6-2.6-3.6-2.7-3.6-2.6-3.6-2.6-3.6-2.6-3.6-2.6-3.6-2.6-3.5-2.5-3.6-2.6-3.5-2.6-3.5-2.6-3.6-2.5-3.5-2.6-3.5-2.5-3.5-2.6-3.5-2.5-3.5-2.6-3.4-2.5-3.5-2.5-3.4-2.6-3.5-2.5-3.4-2.5-3.4-2.5-3.5-2.6-3.4-2.5-3.4-2.5-3.4-2.6-3.3-2.5-3.4-2.6-3.4-2.6-3.3-2.6-3.4-2.7-3.3-2.8-3.4-2.9-3.3-3-3.3-3.3-3.3-3.5-3.3-3.8-3.4-3.8-3.3-3.5-3.2-3.1-3.3-2.9-3.3-2.8-3.3-2.8-3.2-2.7-3.3-2.8-3.2-2.7-3.2-2.6-3.3-2.7-3.2-2.7-3.2-2.6-3.2-2.7-3.2-2.6-3.2-2.6-3.2-2.6-3.2-2.6-3.1-2.6-3.2-2.6-3.1-2.6-3.2-2.5-3.1-2.6-3.2-2.5-3.1-2.5-3.1-2.6-3.1-2.5-3.1-2.5-3.1-2.5-3.1-2.5-3.1-2.4-3.1-2.5-3-2.5-3.1-2.4-3.1-2.5-3-2.4-3.1-2.4-3-2.4-3-2.4-3-2.4-3-2.4-3-2.4-3-2.3-3-2.4-3-2.4-3-2.3-3-2.3-2.9-2.4-3-2.3-2.9-2.3-3-2.3-2.9-2.3-3-2.3-2.9-2.3-2.9-2.3-2.9-2.2-2.9-2.3-2.9-2.2-2.9-2.3-2.9-2.2M1599.7 697l-3.9-2.8-3.8-2.8-3.9-2.9-3.8-2.8-3.8-2.8-3.8-2.8-3.8-2.7-3.7-2.8-3.8-2.8-3.8-2.8-3.7-2.7-3.7-2.8-3.8-2.7-3.7-2.7-3.7-2.8-3.7-2.7-3.7-2.7-3.6-2.7-3.7-2.7-3.7-2.7-3.6-2.7-3.6-2.7-3.7-2.7-3.6-2.6-3.6-2.7-3.6-2.6-3.6-2.7-3.6-2.6-3.5-2.7-3.6-2.6-3.5-2.6-3.6-2.6-3.5-2.7-3.5-2.6-3.6-2.6-3.5-2.6-3.5-2.5-3.4-2.6-3.5-2.6-3.5-2.6-3.4-2.6-3.5-2.5-3.4-2.6-3.5-2.6-3.4-2.6-3.4-2.5-3.4-2.6-3.4-2.6-3.4-2.6-3.4-2.5-3.4-2.7-3.3-2.6-3.4-2.7-3.3-2.7-3.4-2.9-3.3-3-3.3-3.2-3.4-3.3-3.3-3.5-3.3-3.7-3.3-3.3-3.3-3-3.3-2.8-3.3-2.8-3.2-2.8-3.3-2.7-3.3-2.7-3.2-2.6-3.2-2.7-3.3-2.7-3.2-2.6-3.2-2.6-3.2-2.6-3.2-2.6-3.2-2.7-3.2-2.5-3.2-2.6-3.1-2.6-3.2-2.6-3.2-2.5-3.1-2.6-3.2-2.5-3.1-2.6-3.1-2.5-3.1-2.5-3.1-2.5-3.1-2.5-3.1-2.5-3.1-2.5-3.1-2.4-3.1-2.5-3.1-2.4-3-2.5-3.1-2.4-3-2.4-3.1-2.4-3-2.5-3-2.4-3-2.4-3-2.3-3-2.4-3-2.4-3-2.3-3-2.4-3-2.3-3-2.4-2.9-2.3-3-2.3-2.9-2.3-3-2.3-2.9-2.3-2.9-2.3-2.9-2.3-2.9-2.3-3-2.3-2.9-2.2-2.8-2.3-2.9-2.3-2.9-2.2M1576.9 720.6l-3.9-2.9-3.8-2.8-3.9-2.9-3.8-2.9-3.8-2.9-3.8-2.8-3.8-2.9-3.8-2.8-3.8-2.8-3.8-2.9-3.7-2.8-3.8-2.8-3.7-2.8-3.7-2.8-3.8-2.8-3.7-2.8-3.7-2.7-3.6-2.8-3.7-2.8-3.7-2.7-3.6-2.8-3.7-2.7-3.6-2.7-3.6-2.8-3.7-2.7-3.6-2.7-3.6-2.7-3.6-2.7-3.5-2.7-3.6-2.7-3.6-2.6-3.5-2.7-3.5-2.7-3.6-2.6-3.5-2.7-3.5-2.6-3.5-2.7-3.5-2.6-3.5-2.7-3.5-2.6-3.4-2.6-3.5-2.6-3.4-2.6-3.5-2.7-3.4-2.6-3.4-2.6-3.4-2.6-3.5-2.6-3.3-2.6-3.4-2.7-3.4-2.6-3.4-2.7-3.3-2.7-3.4-2.7-3.4-2.9-3.3-2.9-3.3-3.1-3.4-3.3-3.3-3.4-3.3-3.4-3.3-3.2-3.3-3-3.3-2.8-3.3-2.8-3.3-2.7-3.3-2.7-3.2-2.7-3.3-2.7-3.2-2.6-3.2-2.7-3.3-2.6-3.2-2.7-3.2-2.6-3.2-2.6-3.2-2.6-3.2-2.6-3.2-2.6-3.1-2.6-3.2-2.5-3.1-2.6-3.2-2.5-3.1-2.6-3.2-2.5-3.1-2.6-3.1-2.5-3.1-2.5-3.1-2.5-3.1-2.5-3.1-2.5-3.1-2.4-3.1-2.5-3-2.5-3.1-2.4-3-2.5-3.1-2.4-3-2.4-3.1-2.4-3-2.4-3-2.5-3-2.3-3-2.4-3-2.4-3-2.4-3-2.3-2.9-2.4-3-2.4-3-2.3-2.9-2.3-3-2.4-2.9-2.3-2.9-2.3-2.9-2.3-3-2.3-2.9-2.3-2.9-2.3-2.9-2.3-2.9-2.2-2.8-2.3-2.9-2.3M1553.5 744.8l-3.8-3-3.9-2.9-3.9-3-3.8-2.9-3.8-2.9-3.8-3-3.8-2.9-3.8-2.9-3.8-2.9-3.8-2.9-3.8-2.9-3.7-2.8-3.8-2.9-3.7-2.8-3.7-2.9-3.8-2.8-3.7-2.9-3.7-2.8-3.6-2.8-3.7-2.8-3.7-2.8-3.6-2.8-3.7-2.8-3.6-2.8-3.6-2.8-3.7-2.8-3.6-2.7-3.6-2.8-3.5-2.7-3.6-2.8-3.6-2.7-3.5-2.7-3.6-2.8-3.5-2.7-3.6-2.7-3.5-2.7-3.5-2.7-3.5-2.7-3.5-2.7-3.5-2.7-3.4-2.6-3.5-2.7-3.5-2.7-3.4-2.6-3.4-2.7-3.5-2.7-3.4-2.6-3.4-2.7-3.4-2.6-3.4-2.7-3.4-2.7-3.4-2.7-3.3-2.7-3.4-2.8-3.3-2.8-3.4-3-3.3-3-3.4-3.2-3.3-3.3-3.3-3.4-3.4-3.1-3.3-2.9-3.3-2.9-3.3-2.7-3.2-2.8-3.3-2.7-3.3-2.7-3.2-2.7-3.3-2.6-3.2-2.7-3.2-2.7-3.2-2.6-3.2-2.6-3.3-2.7-3.1-2.6-3.2-2.6-3.2-2.6-3.2-2.6-3.2-2.6-3.1-2.5-3.2-2.6-3.1-2.6-3.1-2.5-3.2-2.6-3.1-2.5-3.1-2.5-3.1-2.6-3.1-2.5-3.1-2.5-3.1-2.5-3-2.4-3.1-2.5-3.1-2.5-3-2.5-3-2.4-3.1-2.5-3-2.4-3-2.4-3-2.4-3.1-2.5-3-2.4-2.9-2.4-3-2.4-3-2.3-3-2.4-2.9-2.4-3-2.4-2.9-2.3-3-2.4-2.9-2.3-3-2.3-2.9-2.4-2.9-2.3-2.9-2.3-2.9-2.3-2.9-2.3-2.9-2.3-2.8-2.3-2.9-2.3M1529.7 769.5l-3.9-3.1-3.9-3-3.9-3-3.8-3-3.8-3-3.9-3-3.8-3-3.8-2.9-3.8-3-3.8-3-3.8-2.9-3.7-2.9-3.8-3-3.7-2.9-3.8-2.9-3.7-2.9-3.7-2.9-3.7-2.9-3.7-2.9-3.7-2.9-3.7-2.8-3.6-2.9-3.7-2.9-3.6-2.8-3.7-2.8-3.6-2.9-3.6-2.8-3.6-2.8-3.6-2.8-3.6-2.8-3.5-2.8-3.6-2.8-3.6-2.8-3.5-2.8-3.5-2.7-3.6-2.8-3.5-2.7-3.5-2.8-3.5-2.7-3.5-2.8-3.5-2.7-3.4-2.7-3.5-2.8-3.4-2.7-3.5-2.7-3.4-2.7-3.4-2.7-3.5-2.7-3.4-2.7-3.4-2.8-3.4-2.7-3.3-2.7-3.4-2.8-3.4-2.8-3.3-2.8-3.4-3-3.3-3-3.4-3.1-3.3-3.3-3.4-3.3-3.3-3.1-3.3-2.9-3.3-2.8-3.3-2.8-3.3-2.8-3.2-2.7-3.3-2.7-3.3-2.7-3.2-2.7-3.2-2.7-3.3-2.7-3.2-2.7-3.2-2.6-3.2-2.7-3.2-2.6-3.2-2.6-3.2-2.7-3.2-2.6-3.1-2.6-3.2-2.6-3.1-2.6-3.2-2.6-3.1-2.6-3.1-2.5-3.1-2.6-3.2-2.5-3.1-2.6-3.1-2.5-3-2.5-3.1-2.6-3.1-2.5-3.1-2.5-3-2.5-3.1-2.5-3-2.5-3-2.4-3.1-2.5-3-2.4-3-2.5-3-2.4-3-2.5-3-2.4-3-2.4-2.9-2.4-3-2.4-3-2.4-2.9-2.4-3-2.4-2.9-2.4-2.9-2.4-3-2.3-2.9-2.4-2.9-2.3-2.9-2.4-2.9-2.3-2.9-2.4-2.9-2.3-2.8-2.3-2.9-2.3M1505.2 794.7l-3.9-3.1-3.9-3.1-3.8-3-3.9-3.1-3.8-3.1-3.9-3-3.8-3.1-3.8-3-3.8-3.1-3.8-3-3.8-3-3.8-3-3.8-3-3.7-3-3.8-3-3.7-3-3.7-2.9-3.7-3-3.7-2.9-3.7-3-3.7-2.9-3.7-2.9-3.6-3-3.7-2.9-3.6-2.9-3.6-2.9-3.7-2.9-3.6-2.8-3.6-2.9-3.6-2.9-3.6-2.8-3.5-2.9-3.6-2.8-3.5-2.9-3.6-2.8-3.5-2.8-3.5-2.8-3.5-2.8-3.5-2.8-3.5-2.8-3.5-2.8-3.5-2.8-3.5-2.8-3.4-2.8-3.5-2.7-3.4-2.8-3.4-2.8-3.5-2.7-3.4-2.8-3.4-2.7-3.4-2.8-3.4-2.8-3.3-2.8-3.4-2.8-3.4-2.9-3.3-3-3.4-3-3.3-3.1-3.4-3.2-3.3-3.3-3.4-3.1-3.3-2.9-3.3-2.9-3.3-2.8-3.2-2.7-3.3-2.8-3.3-2.8-3.2-2.7-3.3-2.7-3.2-2.7-3.2-2.7-3.3-2.7-3.2-2.7-3.2-2.7-3.2-2.7-3.2-2.7-3.2-2.6-3.1-2.7-3.2-2.6-3.2-2.6-3.1-2.7-3.1-2.6-3.2-2.6-3.1-2.6-3.1-2.6-3.1-2.6-3.1-2.5-3.1-2.6-3.1-2.6-3.1-2.5-3.1-2.6-3-2.5-3.1-2.5-3-2.6-3.1-2.5-3-2.5-3-2.5-3-2.5-3.1-2.4-3-2.5-3-2.5-2.9-2.5-3-2.4-3-2.5-3-2.4-2.9-2.4-3-2.4-2.9-2.5-3-2.4-2.9-2.4-2.9-2.4-2.9-2.4-2.9-2.4-2.9-2.3-2.9-2.4-2.9-2.4-2.9-2.3-2.9-2.4-2.8-2.3M1480.2 820.6l-3.9-3.2-3.9-3.1-3.9-3.2-3.9-3.1-3.8-3.2-3.9-3.1-3.8-3.1-3.8-3.2-3.8-3.1-3.9-3.1-3.7-3-3.8-3.1-3.8-3.1-3.8-3.1-3.7-3-3.8-3-3.7-3.1-3.7-3-3.7-3-3.7-3-3.7-3-3.7-3-3.7-3-3.6-3-3.7-3-3.6-2.9-3.6-3-3.6-2.9-3.6-3-3.6-2.9-3.6-2.9-3.6-2.9-3.6-2.9-3.5-2.9-3.6-2.9-3.5-2.9-3.5-2.9-3.6-2.9-3.5-2.8-3.5-2.9-3.4-2.8-3.5-2.9-3.5-2.8-3.5-2.9-3.4-2.8-3.5-2.8-3.4-2.8-3.4-2.8-3.4-2.9-3.4-2.8-3.4-2.8-3.4-2.8-3.4-2.9-3.4-2.8-3.3-3-3.4-2.9-3.4-3.1-3.3-3.1-3.4-3.2-3.3-3.2-3.4-3.1-3.3-3-3.3-2.9-3.3-2.8-3.2-2.8-3.3-2.8-3.3-2.8-3.2-2.8-3.3-2.7-3.2-2.8-3.3-2.7-3.2-2.8-3.2-2.7-3.2-2.7-3.2-2.7-3.2-2.7-3.2-2.7-3.1-2.7-3.2-2.7-3.2-2.7-3.1-2.6-3.2-2.7-3.1-2.6-3.1-2.7-3.1-2.6-3.1-2.6-3.1-2.6-3.1-2.6-3.1-2.6-3.1-2.6-3.1-2.6-3-2.6-3.1-2.5-3-2.6-3.1-2.6-3-2.5-3-2.5-3-2.6-3-2.5-3-2.5-3-2.5-3-2.5-3-2.5-3-2.5-2.9-2.4-3-2.5-2.9-2.5-3-2.4-2.9-2.5-2.9-2.4-3-2.5-2.9-2.4-2.9-2.4-2.9-2.4-2.9-2.4-2.8-2.4-2.9-2.4-2.9-2.4-2.8-2.4"/>
<path class="bd" d="M1818.3 271.6l-1.9 14.6-2 14.5-2 14.6-2 14.6-2 14.5-2.2 14.6-2.1 14.5-2.3 14.5-2.4 14.5-2.6 14.5-2.7 14.5-3 14.3-3.5 14.3-4 14.2-4.9 13.8-6 13.4-7.2 12.9-8.2 12.1-9 11.7-9.4 11.2-9.7 11.1-9.9 10.9-10 10.8-10 10.7-10.1 10.7-10.1 10.7-10.2 10.6-10.1 10.7-10.2 10.6-10.2 10.6-10.2 10.6-10.2 10.6-10.2 10.5-10.2 10.6-10.2 10.6-10.2 10.6-10.2 10.6-10.2 10.5-10.2 10.6-10.3 10.6-10.2 10.5-10.2 10.6-10.2 10.6-10.2 10.5-10.3 10.6-10.2 10.6-10.2 10.5-10.2 10.6M1347 85.9l-1.4 11-1.5 11-1.6 11-1.7 11-1.8 11-2 10.9-2.2 10.9-2.4 10.9-2.6 10.8-2.8 10.8-3 10.7-3.3 10.6-3.6 10.5-4 10.4-4.2 10.3-4.6 10.1-4.9 10-5.3 9.7-5.6 9.6-5.9 9.4-6.3 9.2-6.6 9-6.8 8.8-7 8.6-7.3 8.4-7.4 8.3-7.6 8-7.8 8-7.9 7.8-8 7.7-8.1 7.7-8.2 7.5-8.3 7.4-8.3 7.4-8.4 7.3-8.4 7.2-8.5 7.2-8.5 7.1-8.6 7.1-8.6 7.1-8.6 7-8.6 7-8.7 7-8.7 6.9-8.7 6.9-8.7 6.9-8.7 6.9-8.8 6.9M1454.6 847.1l-15.7-13-15.5-12.9-15.3-12.7-15.1-12.6-14.9-12.4-14.7-12.2-14.6-12.1-14.3-12-14.1-11.7-13.8-11.5-13.4-11.2-12.5-10.4-10.7-9.1-8-6.7-5.3-4.6-3.6-3.3-2.8-2.4-2.2-2.1-2.1-1.9-1.8-1.7-1.6-1.6-1.5-1.4-1.5-1.4-1.5-1.5-1.9-1.8-2.4-2.2-3.1-2.8-4-3.4-4.5-4-4.9-4.2-5.2-4.5-5.3-4.6-5.4-4.6-5.5-4.8-5.5-4.8-5.6-4.8-5.7-4.8-5.7-4.9-5.7-5-5.8-5-6-5-6-5.2-6.1-5.2-6.1-5.3-6.3-5.4-6.4-5.4-6.5-5.5-6.5-5.6-6.7-5.7-6.7-5.7-6.8-5.8-7-5.9-6.9-5.9-7.1-6-7.1-6-7.2-6.1"/>
<path class="bd" d="M1818.3 271.6l-3.1-1.6-3-1.6-3-1.6-3.1-1.5-3-1.6-3-1.6-3-1.5-3-1.6-3-1.6-3-1.5-3-1.6-3-1.5-3-1.5-3-1.6-3-1.5-2.9-1.6-3-1.5-3-1.5-2.9-1.5-3-1.6-2.9-1.5-2.9-1.5-3-1.5-2.9-1.5-2.9-1.5-3-1.5-2.9-1.5-2.9-1.5-2.9-1.4-2.9-1.5-2.9-1.5-2.9-1.5-2.9-1.4-2.9-1.5-2.9-1.5-2.9-1.4-2.9-1.5-2.9-1.4-2.8-1.4-2.9-1.5-2.9-1.4-2.9-1.4-2.9-1.4-2.8-1.4-2.9-1.4-2.9-1.4-2.8-1.4-2.9-1.4-2.9-1.4-2.9-1.4-2.8-1.3-2.9-1.4-2.9-1.3-2.9-1.4-2.9-1.3-2.9-1.3-2.9-1.3-2.9-1.3-2.9-1.3-2.9-1.2-3-1.2-3-1.3-3-1.2-3-1.1-3-1.2-3.1-1.1-3.1-1.1-3.2-1-3.2-1-3.4-.9-3.4-.8-3.6-.6-3.9-.6-4-.3-4.4-.1-4.5 .1-4.8 .2-4.9 .3-5.1 .5-5.1 .4-4.5 0-3.9-.4-3.6-.7-3.4-.8-3.3-.9-3.2-.9-3.1-1-3.1-1-3.1-1.1-3.1-1-3-1-3.1-1.1-3-1.1-3-1-2.9-1.1-3-1.1-3-1.1-2.9-1.1-2.9-1.1-3-1.1-2.9-1.1-2.9-1.1-2.9-1.1-2.8-1.1-2.9-1.1-2.9-1.1-2.8-1.1-2.9-1.1-2.8-1.1-2.8-1.2-2.8-1.1-2.8-1.1-2.8-1.1-2.8-1.2-2.8-1.1-2.8-1.1-2.7-1.2-2.8-1.1-2.7-1.2-2.7-1.1-2.8-1.1-2.7-1.2-2.7-1.1-2.7-1.2-2.6-1.1-2.7-1.2-2.7-1.1-2.6-1.2-2.7-1.1-2.6-1.2-2.7-1.1-2.6-1.2-2.6-1.1-2.6-1.2-2.6-1.2-2.6-1.1-2.6-1.2-2.6-1.1-2.6-1.2-2.6-1.1-2.5-1.2-2.6-1.2-2.5-1.1-2.6-1.2-2.5-1.1-2.5-1.2-2.6-1.1-2.5-1.2-2.5-1.2-2.5-1.1-2.5-1.2-2.5-1.1-2.5-1.2-2.4-1.1-2.5-1.2-2.5-1.2-2.4-1.1-2.5-1.2-2.4-1.1 68.8-44.3 412.4 220.9z"/>
<path class="fe" d="M1457.4 620.2L1455.6 863.8M1457.4 620.2L1013.9 290.1M1457.4 620.2L1843.9 261.9"/>
</g>
<text class="s" x="481.4" y="32.1" font-size="28.8" text-anchor="middle">Electrostatic Probability Current</text>
<text class="s" x="1428" y="26" font-size="28.8" text-anchor="middle">Gravitational Probability Current</text>
<text class="s" x="480.8" y="986" font-size="28.8" text-anchor="middle">Electrostatic Hubble Constant</text>
<text class="s" x="1431" y="986" font-size="28.8" text-anchor="middle">Gravitational Hubble Constant</text>
<text class="s" x="43.2" y="273.3" font-size="28.65" text-anchor="middle">10</text>
<text class="s" x="61.7" y="430.4" font-size="28.65" text-anchor="middle">5</text>
<text class="s" x="72.6" y="580" font-size="28.65" text-anchor="middle">0</text>
<text class="s" x="100" y="601.9" font-size="28.65" text-anchor="middle">20</text>
<text class="s" x="188.3" y="663.3" font-size="28.65" text-anchor="middle">15</text>
<text class="s" x="284.2" y="729.5" font-size="28.65" text-anchor="middle">10</text>
<text class="s" x="386.3" y="801.4" font-size="28.65" text-anchor="middle">5</text>
<text class="s" x="499.6" y="879" font-size="28.65" text-anchor="middle">0</text>
<text class="s" x="884.8" y="529.8" font-size="28.65" text-anchor="middle">0</text>
<text class="s" x="816.5" y="603.6" font-size="28.65" text-anchor="middle">1</text>
<text class="s" x="739.5" y="685.6" font-size="28.65" text-anchor="middle">2</text>
<text class="s" x="655.3" y="775.3" font-size="28.65" text-anchor="middle">3</text>
<text class="s" x="559.8" y="877.1" font-size="28.65" text-anchor="middle">4</text>
<text class="r" x="296.8" y="796.7" font-size="28.7" text-anchor="middle"><tspan font-style="italic">E</tspan> (2 <tspan font-style="italic">E</tspan><tspan dy="5.2" font-size="20.1">0</tspan><tspan dy="-5.2">)</tspan></text>
<text class="r" x="296.8" y="824.8" font-size="20.6" text-anchor="middle">(<tspan font-style="italic">a</tspan>)</text>
<text class="r" x="17" y="456" font-size="28.7" text-anchor="middle"><tspan font-style="italic">J</tspan><tspan font-style="italic" dy="5.2" font-size="20.1">E</tspan></text>
<text class="r" x="795.5" y="707.5" font-size="28.7" text-anchor="middle">r(<tspan font-style="italic">l</tspan><tspan dy="5.2" font-size="20.1">0</tspan><tspan dy="-5.2">)</tspan></text>
<text class="s" x="987" y="283" font-size="28.65" text-anchor="middle">10</text>
<text class="s" x="1010" y="400" font-size="28.65" text-anchor="middle">5</text>
<text class="s" x="1025" y="510" font-size="28.65" text-anchor="middle">0</text>
<text class="s" x="1022" y="552" font-size="28.65" text-anchor="middle">20</text>
<text class="s" x="1112" y="624" font-size="28.65" text-anchor="middle">10</text>
<text class="s" x="1214" y="704" font-size="28.65" text-anchor="middle">0</text>
<text class="s" x="1299" y="790" font-size="28.65" text-anchor="middle">−<tspan dx="2.2">10</tspan></text>
<text class="s" x="1411" y="886" font-size="28.65" text-anchor="middle">−<tspan dx="2.2">20</tspan></text>
<text class="s" x="1827" y="518" font-size="28.65" text-anchor="middle">0</text>
<text class="s" x="1752" y="601" font-size="28.65" text-anchor="middle">1</text>
<text class="s" x="1668" y="683" font-size="28.65" text-anchor="middle">2</text>
<text class="s" x="1578" y="779" font-size="28.65" text-anchor="middle">3</text>
<text class="s" x="1479" y="884" font-size="28.65" text-anchor="middle">4</text>
<text class="r" x="1139" y="731" font-size="28.7" text-anchor="middle"><tspan font-style="italic">E</tspan> (2 <tspan font-style="italic">E</tspan><tspan dy="5.2" font-size="20.1">0</tspan><tspan dy="-5.2">)</tspan></text>
<text class="r" x="1139" y="758" font-size="20.6" text-anchor="middle">(<tspan font-style="italic">b</tspan>)</text>
<text class="r" x="967" y="378" font-size="28.7" text-anchor="middle"><tspan font-style="italic">J</tspan><tspan font-style="italic" dy="5.2" font-size="20.1">G</tspan></text>
<text class="r" x="1722" y="711" font-size="28.7" text-anchor="middle">r(<tspan font-style="italic">l</tspan><tspan dy="5.2" font-size="20.1">0</tspan><tspan dy="-5.2">)</tspan></text>
<text class="r" x="480.5" y="1833" font-size="28.7" text-anchor="middle"><tspan font-style="italic">E</tspan> (2 <tspan font-style="italic">E</tspan><tspan dy="5.2" font-size="20.1">0</tspan><tspan dy="-5.2">)</tspan></text>
<text class="r" x="480.5" y="1861" font-size="20.6" text-anchor="middle">(<tspan font-style="italic">c</tspan>)</text>
<text class="r" x="66" y="1383" font-size="28.7" text-anchor="middle" transform="rotate(-90 66 1383)"><tspan font-style="italic">H</tspan><tspan dy="5.7" font-size="20.1" style="font-family:Liberation Sans,Arial,sans-serif;font-weight:normal;font-style:italic">E</tspan></text>
<text class="r" x="1431" y="1833" font-size="28.7" text-anchor="middle"><tspan font-style="italic">E</tspan> (2 <tspan font-style="italic">E</tspan><tspan dy="5.2" font-size="20.1">0</tspan><tspan dy="-5.2">)</tspan></text>
<text class="r" x="1431" y="1861" font-size="20.6" text-anchor="middle">(<tspan font-style="italic">d</tspan>)</text>
<text class="r" x="1017" y="1383" font-size="28.7" text-anchor="middle" transform="rotate(-90 1017 1383)"><tspan font-style="italic">H</tspan><tspan dy="5.7" font-size="20.1" style="font-family:Liberation Sans,Arial,sans-serif;font-weight:normal;font-style:italic">G</tspan></text>
<g id="pc">
<path class="t2" d="M122.2 1758.7v-5.7M122.2 1010.3v5.7M156.4 1758.7v-10.3M156.4 1010.3v10.3M190.6 1758.7v-5.7M190.6 1010.3v5.7M224.8 1758.7v-5.7M224.8 1010.3v5.7M259 1758.7v-5.7M259 1010.3v5.7M293.2 1758.7v-5.7M293.2 1010.3v5.7M327.4 1758.7v-10.3M327.4 1010.3v10.3M361.6 1758.7v-5.7M361.6 1010.3v5.7M395.8 1758.7v-5.7M395.8 1010.3v5.7M430 1758.7v-5.7M430 1010.3v5.7M464.2 1758.7v-5.7M464.2 1010.3v5.7M498.4 1758.7v-10.3M498.4 1010.3v10.3M532.6 1758.7v-5.7M532.6 1010.3v5.7M566.8 1758.7v-5.7M566.8 1010.3v5.7M601 1758.7v-5.7M601 1010.3v5.7M635.2 1758.7v-5.7M635.2 1010.3v5.7M669.4 1758.7v-10.3M669.4 1010.3v10.3M703.6 1758.7v-5.7M703.6 1010.3v5.7M737.8 1758.7v-5.7M737.8 1010.3v5.7M772 1758.7v-5.7M772 1010.3v5.7M806.2 1758.7v-5.7M806.2 1010.3v5.7M840.4 1758.7v-10.3M840.4 1010.3v10.3M107.4 1758.7h10.3M856 1758.7h-10.3M107.4 1737.3h5.7M856 1737.3h-5.7M107.4 1715.9h5.7M856 1715.9h-5.7M107.4 1694.5h5.7M856 1694.5h-5.7M107.4 1673.1h5.7M856 1673.1h-5.7M107.4 1651.7h10.3M856 1651.7h-10.3M107.4 1630.4h5.7M856 1630.4h-5.7M107.4 1609h5.7M856 1609h-5.7M107.4 1587.6h5.7M856 1587.6h-5.7M107.4 1566.2h5.7M856 1566.2h-5.7M107.4 1544.8h10.3M856 1544.8h-10.3M107.4 1523.5h5.7M856 1523.5h-5.7M107.4 1502.1h5.7M856 1502.1h-5.7M107.4 1480.7h5.7M856 1480.7h-5.7M107.4 1459.3h5.7M856 1459.3h-5.7M107.4 1437.9h10.3M856 1437.9h-10.3M107.4 1416.5h5.7M856 1416.5h-5.7M107.4 1395.2h5.7M856 1395.2h-5.7M107.4 1373.8h5.7M856 1373.8h-5.7M107.4 1352.4h5.7M856 1352.4h-5.7M107.4 1331h10.3M856 1331h-10.3M107.4 1309.6h5.7M856 1309.6h-5.7M107.4 1288.3h5.7M856 1288.3h-5.7M107.4 1266.9h5.7M856 1266.9h-5.7M107.4 1245.5h5.7M856 1245.5h-5.7M107.4 1224.1h10.3M856 1224.1h-10.3M107.4 1202.7h5.7M856 1202.7h-5.7M107.4 1181.4h5.7M856 1181.4h-5.7M107.4 1160h5.7M856 1160h-5.7M107.4 1138.6h5.7M856 1138.6h-5.7M107.4 1117.2h10.3M856 1117.2h-10.3M107.4 1095.8h5.7M856 1095.8h-5.7M107.4 1074.4h5.7M856 1074.4h-5.7M107.4 1053.1h5.7M856 1053.1h-5.7M107.4 1031.7h5.7M856 1031.7h-5.7M107.4 1010.3h10.3M856 1010.3h-10.3"/>
<path class="cv" d="M122.2 1758.5l0-4.8 .1-5 .2-5 .3-5 .3-5 .4-5 .5-4.9 .6-5 .6-5 .7-5 .8-5 .9-5 .9-4.9 1-5 1.1-5 1.1-5 1.2-5 1.3-5 1.4-5 1.5-4.9 1.5-5 1.6-5 1.7-5 1.7-5 1.8-5 1.9-4.9 2-5 2-5 2.2-5 2.2-5 2.2-5 2.4-5 2.4-4.9 2.5-5 2.5-5 2.7-5 2.7-5 2.8-5 2.8-4.9 3-5 3-5 3.1-5 3.1-5 3.3-5 3.3-4.9 3.4-5 3.4-5 3.5-5 3.6-5 3.7-5 3.8-5 3.8-4.9 3.9-5 4-5 4-5 4.2-5 4.2-5 4.2-4.9 4.4-5 4.4-5 4.5-5 4.6-5 4.6-5 4.8-5 4.8-4.9 4.8-5 5-5 5-5 5.1-5 5.1-5 5.3-4.9 5.3-5 5.4-5 5.5-5 5.5-5 5.6-5 5.7-5 5.8-4.9 5.8-5 5.9-5 6-5 6-5 6.2-5 6.2-4.9 6.3-5 6.3-5 6.5-5 6.5-5 6.5-5 6.7-4.9 6.7-5 6.8-5 6.9-5 7-5 7-5 7.1-5 7.2-4.9 7.2-5 7.3-5 7.4-5 7.5-5 7.5-5 7.7-4.9 7.7-5 7.7-5 7.9-5 7.9-5 8-5 8-5 8.2-4.9 8.2-5 8.3-5 8.3-5 8.5-5 8.5-5 8.6-4.9 8.6-5 8.8-5 8.8-5 8.9-5 8.9-5 9.1-5 9.1-4.9 9.2-5 9.2-5 9.3-5 9.4-5 9.5-5 9.6-4.9 9.6-5 9.7-5 9.8-5 9.8-5 10-5 10-4.9 10-5 10.2-5 10.2-5 10.3-5"/>
<rect class="fr" x="107.4" y="1010.3" width="748.6" height="748.4"/>
</g>
<g id="pd">
<path class="t2" d="M1073.1 1758.7v-10.3M1073.1 1010.3v10.3M1109 1758.7v-5.7M1109 1010.3v5.7M1145 1758.7v-5.7M1145 1010.3v5.7M1180.9 1758.7v-5.7M1180.9 1010.3v5.7M1216.9 1758.7v-5.7M1216.9 1010.3v5.7M1252.8 1758.7v-10.3M1252.8 1010.3v10.3M1288.7 1758.7v-5.7M1288.7 1010.3v5.7M1324.7 1758.7v-5.7M1324.7 1010.3v5.7M1360.6 1758.7v-5.7M1360.6 1010.3v5.7M1396.6 1758.7v-5.7M1396.6 1010.3v5.7M1432.5 1758.7v-10.3M1432.5 1010.3v10.3M1468.4 1758.7v-5.7M1468.4 1010.3v5.7M1504.4 1758.7v-5.7M1504.4 1010.3v5.7M1540.3 1758.7v-5.7M1540.3 1010.3v5.7M1576.3 1758.7v-5.7M1576.3 1010.3v5.7M1612.2 1758.7v-10.3M1612.2 1010.3v10.3M1648.1 1758.7v-5.7M1648.1 1010.3v5.7M1684.1 1758.7v-5.7M1684.1 1010.3v5.7M1720 1758.7v-5.7M1720 1010.3v5.7M1756 1758.7v-5.7M1756 1010.3v5.7M1791.9 1758.7v-10.3M1791.9 1010.3v10.3M1058.4 1758.7h10.3M1807 1758.7h-10.3M1058.4 1737.3h5.7M1807 1737.3h-5.7M1058.4 1715.9h5.7M1807 1715.9h-5.7M1058.4 1694.5h5.7M1807 1694.5h-5.7M1058.4 1673.1h5.7M1807 1673.1h-5.7M1058.4 1651.7h10.3M1807 1651.7h-10.3M1058.4 1630.4h5.7M1807 1630.4h-5.7M1058.4 1609h5.7M1807 1609h-5.7M1058.4 1587.6h5.7M1807 1587.6h-5.7M1058.4 1566.2h5.7M1807 1566.2h-5.7M1058.4 1544.8h10.3M1807 1544.8h-10.3M1058.4 1523.5h5.7M1807 1523.5h-5.7M1058.4 1502.1h5.7M1807 1502.1h-5.7M1058.4 1480.7h5.7M1807 1480.7h-5.7M1058.4 1459.3h5.7M1807 1459.3h-5.7M1058.4 1437.9h10.3M1807 1437.9h-10.3M1058.4 1416.5h5.7M1807 1416.5h-5.7M1058.4 1395.2h5.7M1807 1395.2h-5.7M1058.4 1373.8h5.7M1807 1373.8h-5.7M1058.4 1352.4h5.7M1807 1352.4h-5.7M1058.4 1331h10.3M1807 1331h-10.3M1058.4 1309.6h5.7M1807 1309.6h-5.7M1058.4 1288.3h5.7M1807 1288.3h-5.7M1058.4 1266.9h5.7M1807 1266.9h-5.7M1058.4 1245.5h5.7M1807 1245.5h-5.7M1058.4 1224.1h10.3M1807 1224.1h-10.3M1058.4 1202.7h5.7M1807 1202.7h-5.7M1058.4 1181.4h5.7M1807 1181.4h-5.7M1058.4 1160h5.7M1807 1160h-5.7M1058.4 1138.6h5.7M1807 1138.6h-5.7M1058.4 1117.2h10.3M1807 1117.2h-10.3M1058.4 1095.8h5.7M1807 1095.8h-5.7M1058.4 1074.4h5.7M1807 1074.4h-5.7M1058.4 1053.1h5.7M1807 1053.1h-5.7M1058.4 1031.7h5.7M1807 1031.7h-5.7M1058.4 1010.3h10.3M1807 1010.3h-10.3"/>
<path class="ax" d="M1432.5 1010.3V1758.7"/>
<path class="cv" d="M1073.1 1741l8.5-.3 8.5-.3 8.5-.3 8.5-.3 8.5-.3 8.5-.3 8.4-.3 8.5-.4 8.5-.3 8.5-.4 8.5-.4 8.5-.4 8.5-.5 8.4-.4 8.5-.5 8.5-.5 8.4-.5 8.5-.6 8.5-.6 8.4-.6 8.5-.7 8.4-.8 8.4-.8 8.4-.9 8.4-.9 8.4-1.1 8.3-1.2 8.3-1.3 8.2-1.5 8.2-1.6 8.1-1.9 7.9-2.1 7.7-2.5 7.5-2.7 7.3-3.2 6.8-3.5 6.2-4 5.7-4.4 5-4.7 4.3-5.1 3.8-5.3 3.3-5.4 2.8-5.6 2.5-5.6 2.2-5.7 2-5.8 1.8-5.8 1.7-5.7 1.6-5.8 1.4-5.9 1.4-5.8 1.3-5.8 1.3-5.8 1.3-5.9 1.2-5.8 1.1-5.9 1.2-5.8 1-5.9 1.1-5.8 1-5.9 1-5.9 .9-5.8 .9-5.9 .9-5.9 .9-5.8 .9-5.9 1-5.9 1-5.8 1.1-5.9 1.1-5.8 1.3-5.9 1.3-5.8 1.5-5.8 1.6-5.8 1.7-5.8 2-5.7 2.1-5.7 2.4-5.7 2.5-5.6 2.7-5.6 2.8-5.6 2.9-5.5 3.1-5.6 3.1-5.4 3.1-5.5 3.3-5.5 3.3-5.4 3.3-5.4 3.4-5.5 3.5-5.3 3.4-5.4 3.5-5.4 3.6-5.4 3.5-5.3 3.6-5.4 3.6-5.3 3.7-5.4 3.6-5.3 3.7-5.3 3.7-5.4 3.6-5.3 3.8-5.3 3.7-5.3 3.7-5.3 3.8-5.3 3.8-5.3 3.8-5.2 3.8-5.3 3.8-5.3 3.9-5.2 3.9-5.3 3.9-5.2 3.9-5.3 3.9-5.2 4-5.2 4-5.2 4.1-5.2 4-5.2 4.1-5.2 4.1-5.1 4.2-5.2 4.2-5.1 4.2-5.1 4.2-5.2 4.3-5.1 4.3-5.1 4.3-5 4.4-5.1 4.4-5 4.4-5.1 4.5-5 4.5-5 4.5-5 4.6-5 4.5-5 4.7-4.9 4.6-5 4.7-4.9 4.7-4.9 4.7-4.9 4.8-4.9 4.8-4.9 4.8-4.8 4.9-4.9 4.9-4.8 4.9-4.8 5-4.8 5-4.8 5-4.8 5-4.7 5.1-4.7 5.1-4.8 5.1-4.7 5.2-4.6 5.2-4.7 5.2-4.7 5.3-4.6 5.3-4.6 5.3-4.7 5.3-4.5"/>
<rect class="fr" x="1058.4" y="1010.3" width="748.6" height="748.4"/>
</g>
<text class="s" x="100.1" y="1767.7" font-size="28.65" text-anchor="end">0</text>
<text class="s" x="1051.1" y="1767.7" font-size="28.65" text-anchor="end">0</text>
<text class="s" x="100.1" y="1660.7" font-size="28.65" text-anchor="end">1</text>
<text class="s" x="1051.1" y="1660.7" font-size="28.65" text-anchor="end">1</text>
<text class="s" x="100.1" y="1553.8" font-size="28.65" text-anchor="end">2</text>
<text class="s" x="1051.1" y="1553.8" font-size="28.65" text-anchor="end">2</text>
<text class="s" x="100.1" y="1446.9" font-size="28.65" text-anchor="end">3</text>
<text class="s" x="1051.1" y="1446.9" font-size="28.65" text-anchor="end">3</text>
<text class="s" x="100.1" y="1340" font-size="28.65" text-anchor="end">4</text>
<text class="s" x="1051.1" y="1340" font-size="28.65" text-anchor="end">4</text>
<text class="s" x="100.1" y="1233.1" font-size="28.65" text-anchor="end">5</text>
<text class="s" x="1051.1" y="1233.1" font-size="28.65" text-anchor="end">5</text>
<text class="s" x="100.1" y="1126.2" font-size="28.65" text-anchor="end">6</text>
<text class="s" x="1051.1" y="1126.2" font-size="28.65" text-anchor="end">6</text>
<text class="s" x="100.1" y="1019.3" font-size="28.65" text-anchor="end">7</text>
<text class="s" x="1051.1" y="1019.3" font-size="28.65" text-anchor="end">7</text>
<text class="s" x="155.2" y="1788.8" font-size="28.65" text-anchor="middle">0</text>
<text class="s" x="326.2" y="1788.8" font-size="28.65" text-anchor="middle">5</text>
<text class="s" x="497.2" y="1788.8" font-size="28.65" text-anchor="middle">10</text>
<text class="s" x="668.2" y="1788.8" font-size="28.65" text-anchor="middle">15</text>
<text class="s" x="839.2" y="1788.8" font-size="28.65" text-anchor="middle">20</text>
<text class="s" x="1071.7" y="1788.8" font-size="28.65" text-anchor="middle">−<tspan dx="2.2">20</tspan></text>
<text class="s" x="1251.4" y="1788.8" font-size="28.65" text-anchor="middle">−<tspan dx="2.2">10</tspan></text>
<text class="s" x="1431.3" y="1788.8" font-size="28.65" text-anchor="middle">0</text>
<text class="s" x="1611" y="1788.8" font-size="28.65" text-anchor="middle">10</text>
<text class="s" x="1790.7" y="1788.8" font-size="28.65" text-anchor="middle">20</text>
</svg>
</body></html>
